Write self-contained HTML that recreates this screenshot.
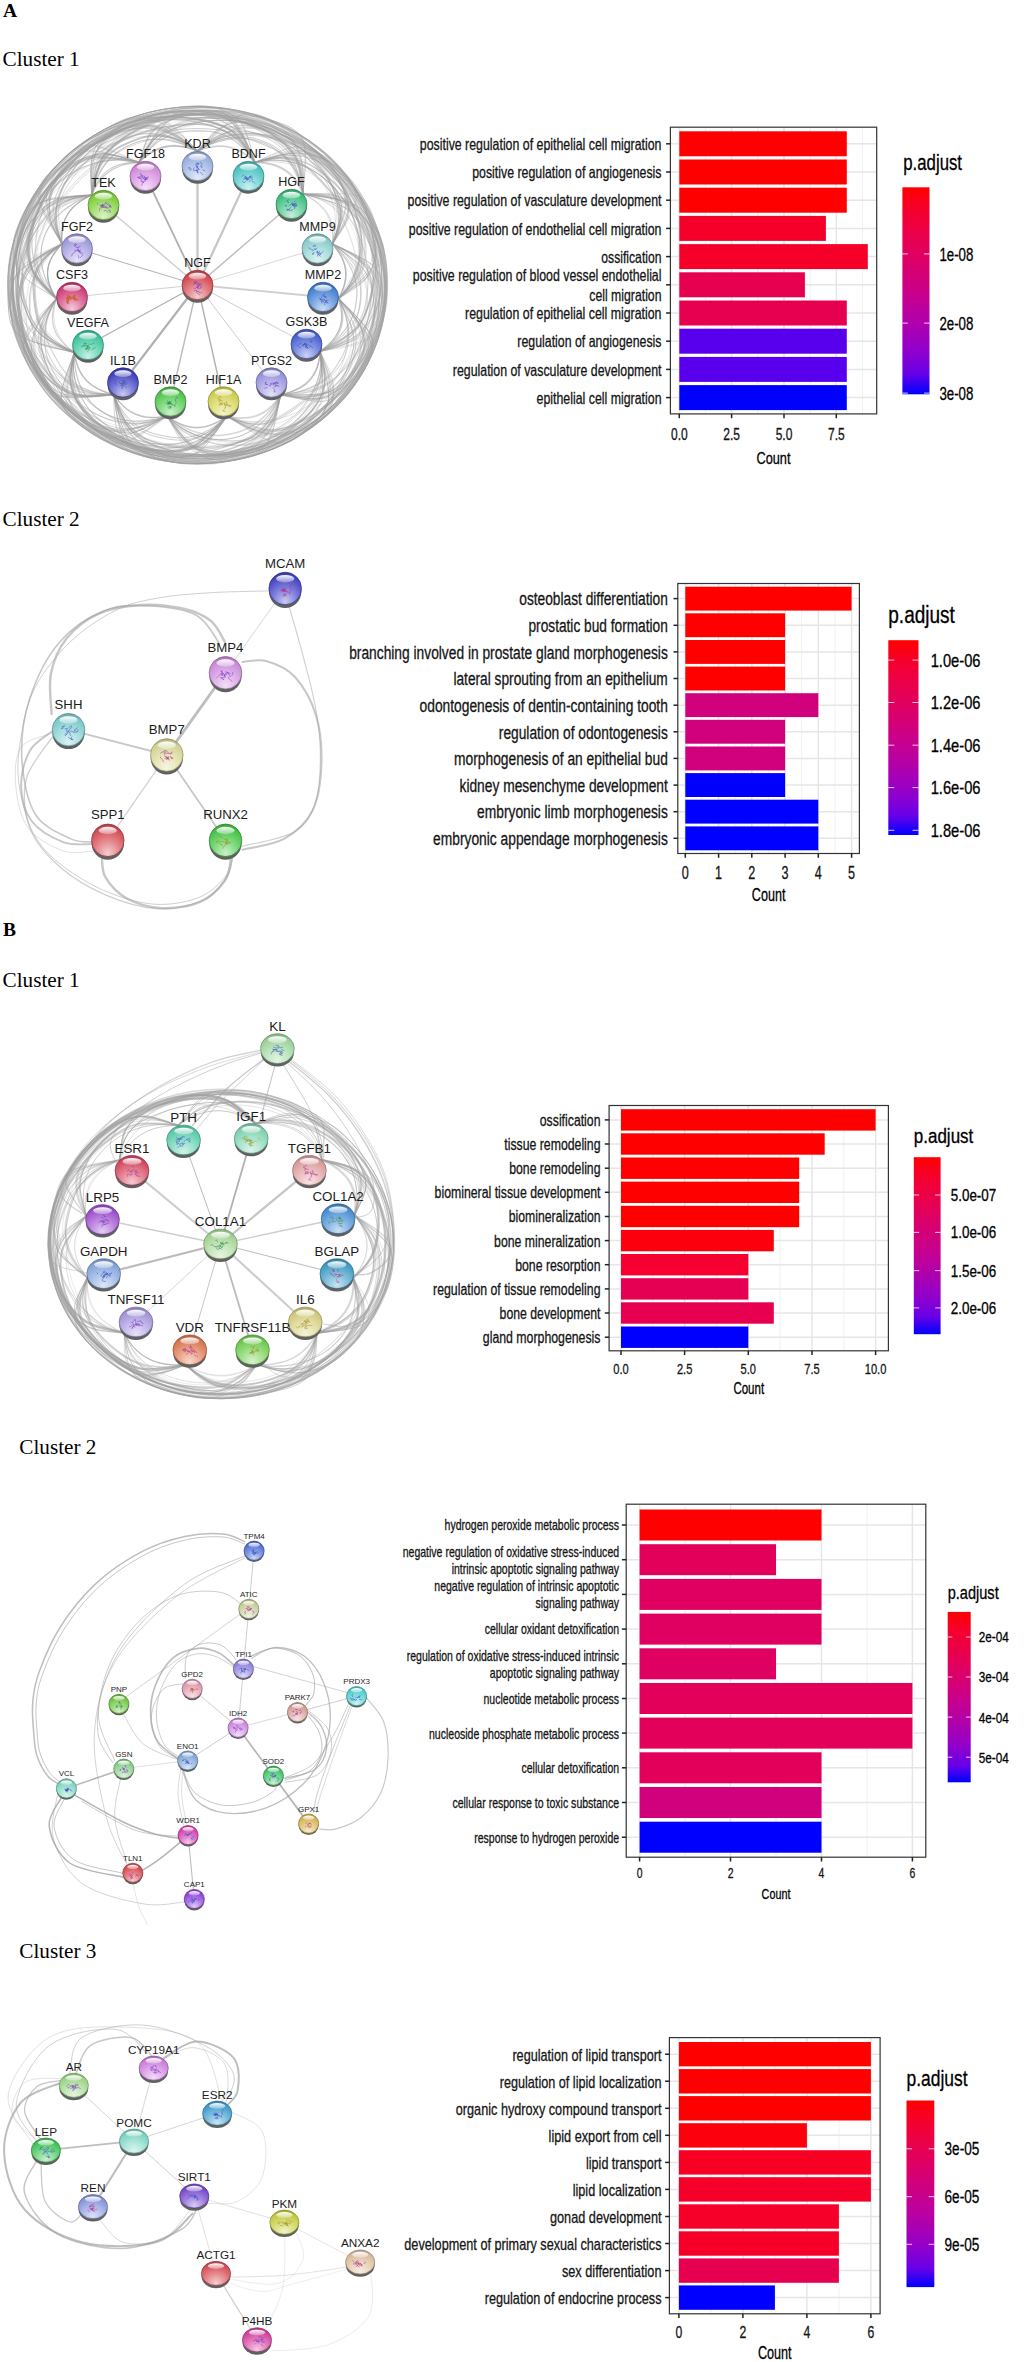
<!DOCTYPE html>
<html lang="en"><head><meta charset="utf-8"><title>Figure</title>
<style>html,body{margin:0;padding:0;background:#fff}svg{display:block}</style></head>
<body>
<svg width="1025" height="2362" viewBox="0 0 1025 2362">
<rect width="1025" height="2362" fill="#fff"/>
<defs><linearGradient id="gloss" x1="0" y1="0" x2="0" y2="1"><stop offset="0" stop-color="#fff" stop-opacity="0.97"/><stop offset="1" stop-color="#fff" stop-opacity="0.3"/></linearGradient><radialGradient id="b0" cx="0.5" cy="0.78" r="0.8" fx="0.5" fy="0.9"><stop offset="0" stop-color="#e3eaf8"/><stop offset="0.45" stop-color="#bacaed"/><stop offset="0.85" stop-color="#95abda"/><stop offset="1" stop-color="#7181a5"/></radialGradient><radialGradient id="b1" cx="0.5" cy="0.78" r="0.8" fx="0.5" fy="0.9"><stop offset="0" stop-color="#f3dff6"/><stop offset="0.45" stop-color="#e3b0e9"/><stop offset="0.85" stop-color="#cc87d4"/><stop offset="1" stop-color="#9a66a1"/></radialGradient><radialGradient id="b2" cx="0.5" cy="0.78" r="0.8" fx="0.5" fy="0.9"><stop offset="0" stop-color="#cdefef"/><stop offset="0.45" stop-color="#83d9d9"/><stop offset="0.85" stop-color="#4bbebe"/><stop offset="1" stop-color="#389090"/></radialGradient><radialGradient id="b3" cx="0.5" cy="0.78" r="0.8" fx="0.5" fy="0.9"><stop offset="0" stop-color="#dcf2c8"/><stop offset="0.45" stop-color="#a8e076"/><stop offset="0.85" stop-color="#7dc939"/><stop offset="1" stop-color="#5f982b"/></radialGradient><radialGradient id="b4" cx="0.5" cy="0.78" r="0.8" fx="0.5" fy="0.9"><stop offset="0" stop-color="#c9eedc"/><stop offset="0.45" stop-color="#78d5a7"/><stop offset="0.85" stop-color="#3bba7b"/><stop offset="1" stop-color="#2d8d5d"/></radialGradient><radialGradient id="b5" cx="0.5" cy="0.78" r="0.8" fx="0.5" fy="0.9"><stop offset="0" stop-color="#e5e4f7"/><stop offset="0.45" stop-color="#c0bbeb"/><stop offset="0.85" stop-color="#9c97d7"/><stop offset="1" stop-color="#7672a3"/></radialGradient><radialGradient id="b6" cx="0.5" cy="0.78" r="0.8" fx="0.5" fy="0.9"><stop offset="0" stop-color="#dff2f2"/><stop offset="0.45" stop-color="#b0e0e0"/><stop offset="0.85" stop-color="#87c8c8"/><stop offset="1" stop-color="#669797"/></radialGradient><radialGradient id="b7" cx="0.5" cy="0.78" r="0.8" fx="0.5" fy="0.9"><stop offset="0" stop-color="#f2c9d9"/><stop offset="0.45" stop-color="#e078a1"/><stop offset="0.85" stop-color="#c83b73"/><stop offset="1" stop-color="#972d57"/></radialGradient><radialGradient id="b8" cx="0.5" cy="0.78" r="0.8" fx="0.5" fy="0.9"><stop offset="0" stop-color="#cbdcf3"/><stop offset="0.45" stop-color="#7da8e2"/><stop offset="0.85" stop-color="#427dcb"/><stop offset="1" stop-color="#325f9a"/></radialGradient><radialGradient id="b9" cx="0.5" cy="0.78" r="0.8" fx="0.5" fy="0.9"><stop offset="0" stop-color="#c9f0e5"/><stop offset="0.45" stop-color="#78dabe"/><stop offset="0.85" stop-color="#3bc09a"/><stop offset="1" stop-color="#2d9275"/></radialGradient><radialGradient id="b10" cx="0.5" cy="0.78" r="0.8" fx="0.5" fy="0.9"><stop offset="0" stop-color="#ccd3f3"/><stop offset="0.45" stop-color="#8091e2"/><stop offset="0.85" stop-color="#465dcb"/><stop offset="1" stop-color="#35469a"/></radialGradient><radialGradient id="b11" cx="0.5" cy="0.78" r="0.8" fx="0.5" fy="0.9"><stop offset="0" stop-color="#cacaee"/><stop offset="0.45" stop-color="#7a7ad5"/><stop offset="0.85" stop-color="#3e3eba"/><stop offset="1" stop-color="#2f2f8d"/></radialGradient><radialGradient id="b12" cx="0.5" cy="0.78" r="0.8" fx="0.5" fy="0.9"><stop offset="0" stop-color="#e2e2f6"/><stop offset="0.45" stop-color="#b8b6ea"/><stop offset="0.85" stop-color="#9290d6"/><stop offset="1" stop-color="#6e6da2"/></radialGradient><radialGradient id="b13" cx="0.5" cy="0.78" r="0.8" fx="0.5" fy="0.9"><stop offset="0" stop-color="#cef0ce"/><stop offset="0.45" stop-color="#85db85"/><stop offset="0.85" stop-color="#4dc14d"/><stop offset="1" stop-color="#3b923b"/></radialGradient><radialGradient id="b14" cx="0.5" cy="0.78" r="0.8" fx="0.5" fy="0.9"><stop offset="0" stop-color="#f3f3cf"/><stop offset="0.45" stop-color="#e2e287"/><stop offset="0.85" stop-color="#cbcb4f"/><stop offset="1" stop-color="#9a9a3c"/></radialGradient><radialGradient id="b15" cx="0.5" cy="0.78" r="0.8" fx="0.5" fy="0.9"><stop offset="0" stop-color="#f4ccce"/><stop offset="0.45" stop-color="#e38085"/><stop offset="0.85" stop-color="#cd464d"/><stop offset="1" stop-color="#9b353b"/></radialGradient><radialGradient id="b16" cx="0.5" cy="0.78" r="0.8" fx="0.5" fy="0.9"><stop offset="0" stop-color="#cbcbf0"/><stop offset="0.45" stop-color="#7e7edb"/><stop offset="0.85" stop-color="#4444c1"/><stop offset="1" stop-color="#333392"/></radialGradient><radialGradient id="b17" cx="0.5" cy="0.78" r="0.8" fx="0.5" fy="0.9"><stop offset="0" stop-color="#f2e0f6"/><stop offset="0.45" stop-color="#e0b2ea"/><stop offset="0.85" stop-color="#c88ad6"/><stop offset="1" stop-color="#9769a2"/></radialGradient><radialGradient id="b18" cx="0.5" cy="0.78" r="0.8" fx="0.5" fy="0.9"><stop offset="0" stop-color="#dcf2f2"/><stop offset="0.45" stop-color="#a8dfdf"/><stop offset="0.85" stop-color="#7dc7c7"/><stop offset="1" stop-color="#5f9797"/></radialGradient><radialGradient id="b19" cx="0.5" cy="0.78" r="0.8" fx="0.5" fy="0.9"><stop offset="0" stop-color="#f5f5e2"/><stop offset="0.45" stop-color="#e6e6b8"/><stop offset="0.85" stop-color="#d1d192"/><stop offset="1" stop-color="#9e9e6e"/></radialGradient><radialGradient id="b20" cx="0.5" cy="0.78" r="0.8" fx="0.5" fy="0.9"><stop offset="0" stop-color="#f4ced0"/><stop offset="0.45" stop-color="#e5848a"/><stop offset="0.85" stop-color="#cf4c53"/><stop offset="1" stop-color="#9c393f"/></radialGradient><radialGradient id="b21" cx="0.5" cy="0.78" r="0.8" fx="0.5" fy="0.9"><stop offset="0" stop-color="#cbf0cb"/><stop offset="0.45" stop-color="#7eda7e"/><stop offset="0.85" stop-color="#44c044"/><stop offset="1" stop-color="#339233"/></radialGradient><radialGradient id="b22" cx="0.5" cy="0.78" r="0.8" fx="0.5" fy="0.9"><stop offset="0" stop-color="#d2f2e9"/><stop offset="0.45" stop-color="#8fdfc9"/><stop offset="0.85" stop-color="#5ac7a9"/><stop offset="1" stop-color="#449780"/></radialGradient><radialGradient id="b23" cx="0.5" cy="0.78" r="0.8" fx="0.5" fy="0.9"><stop offset="0" stop-color="#dcf4eb"/><stop offset="0.45" stop-color="#a8e5cd"/><stop offset="0.85" stop-color="#7dcfae"/><stop offset="1" stop-color="#5f9c84"/></radialGradient><radialGradient id="b24" cx="0.5" cy="0.78" r="0.8" fx="0.5" fy="0.9"><stop offset="0" stop-color="#f4ccd3"/><stop offset="0.45" stop-color="#e58091"/><stop offset="0.85" stop-color="#cf465d"/><stop offset="1" stop-color="#9c3546"/></radialGradient><radialGradient id="b25" cx="0.5" cy="0.78" r="0.8" fx="0.5" fy="0.9"><stop offset="0" stop-color="#f6e4e4"/><stop offset="0.45" stop-color="#eabdbd"/><stop offset="0.85" stop-color="#d69999"/><stop offset="1" stop-color="#a27474"/></radialGradient><radialGradient id="b26" cx="0.5" cy="0.78" r="0.8" fx="0.5" fy="0.9"><stop offset="0" stop-color="#e4cef2"/><stop offset="0.45" stop-color="#bd85e0"/><stop offset="0.85" stop-color="#994dc9"/><stop offset="1" stop-color="#743b98"/></radialGradient><radialGradient id="b27" cx="0.5" cy="0.78" r="0.8" fx="0.5" fy="0.9"><stop offset="0" stop-color="#cce0f4"/><stop offset="0.45" stop-color="#80b2e5"/><stop offset="0.85" stop-color="#468acf"/><stop offset="1" stop-color="#35699c"/></radialGradient><radialGradient id="b28" cx="0.5" cy="0.78" r="0.8" fx="0.5" fy="0.9"><stop offset="0" stop-color="#dde7f6"/><stop offset="0.45" stop-color="#abc3ea"/><stop offset="0.85" stop-color="#81a1d6"/><stop offset="1" stop-color="#617aa2"/></radialGradient><radialGradient id="b29" cx="0.5" cy="0.78" r="0.8" fx="0.5" fy="0.9"><stop offset="0" stop-color="#cae4f0"/><stop offset="0.45" stop-color="#7abdd9"/><stop offset="0.85" stop-color="#3e99bf"/><stop offset="1" stop-color="#2f7491"/></radialGradient><radialGradient id="b30" cx="0.5" cy="0.78" r="0.8" fx="0.5" fy="0.9"><stop offset="0" stop-color="#e7e2f6"/><stop offset="0.45" stop-color="#c3b8ea"/><stop offset="0.85" stop-color="#a192d6"/><stop offset="1" stop-color="#7a6ea2"/></radialGradient><radialGradient id="b31" cx="0.5" cy="0.78" r="0.8" fx="0.5" fy="0.9"><stop offset="0" stop-color="#f4f2dc"/><stop offset="0.45" stop-color="#e5dfa7"/><stop offset="0.85" stop-color="#cfc77b"/><stop offset="1" stop-color="#9c975d"/></radialGradient><radialGradient id="b32" cx="0.5" cy="0.78" r="0.8" fx="0.5" fy="0.9"><stop offset="0" stop-color="#f6d9ce"/><stop offset="0.45" stop-color="#eaa185"/><stop offset="0.85" stop-color="#d6734d"/><stop offset="1" stop-color="#a2573b"/></radialGradient><radialGradient id="b33" cx="0.5" cy="0.78" r="0.8" fx="0.5" fy="0.9"><stop offset="0" stop-color="#d7f2ce"/><stop offset="0.45" stop-color="#9cdf85"/><stop offset="0.85" stop-color="#6cc74d"/><stop offset="1" stop-color="#52973b"/></radialGradient><radialGradient id="b34" cx="0.5" cy="0.78" r="0.8" fx="0.5" fy="0.9"><stop offset="0" stop-color="#e7f4e2"/><stop offset="0.45" stop-color="#c3e5b8"/><stop offset="0.85" stop-color="#a1cf92"/><stop offset="1" stop-color="#7a9c6e"/></radialGradient><radialGradient id="b35" cx="0.5" cy="0.78" r="0.8" fx="0.5" fy="0.9"><stop offset="0" stop-color="#e4f4e4"/><stop offset="0.45" stop-color="#bde5bd"/><stop offset="0.85" stop-color="#99cf99"/><stop offset="1" stop-color="#749c74"/></radialGradient><radialGradient id="b36" cx="0.5" cy="0.78" r="0.8" fx="0.5" fy="0.9"><stop offset="0" stop-color="#ced7f4"/><stop offset="0.45" stop-color="#859ce5"/><stop offset="0.85" stop-color="#4d6ccf"/><stop offset="1" stop-color="#3b529c"/></radialGradient><radialGradient id="b37" cx="0.5" cy="0.78" r="0.8" fx="0.5" fy="0.9"><stop offset="0" stop-color="#f0f2e2"/><stop offset="0.45" stop-color="#d9dfb8"/><stop offset="0.85" stop-color="#bfc792"/><stop offset="1" stop-color="#91976e"/></radialGradient><radialGradient id="b38" cx="0.5" cy="0.78" r="0.8" fx="0.5" fy="0.9"><stop offset="0" stop-color="#e0dcf6"/><stop offset="0.45" stop-color="#b2a7ea"/><stop offset="0.85" stop-color="#8a7bd6"/><stop offset="1" stop-color="#695da2"/></radialGradient><radialGradient id="b39" cx="0.5" cy="0.78" r="0.8" fx="0.5" fy="0.9"><stop offset="0" stop-color="#f6e2e9"/><stop offset="0.45" stop-color="#eab8c9"/><stop offset="0.85" stop-color="#d692a9"/><stop offset="1" stop-color="#a26e80"/></radialGradient><radialGradient id="b40" cx="0.5" cy="0.78" r="0.8" fx="0.5" fy="0.9"><stop offset="0" stop-color="#d7f0ca"/><stop offset="0.45" stop-color="#9cd97a"/><stop offset="0.85" stop-color="#6cbf3e"/><stop offset="1" stop-color="#52912f"/></radialGradient><radialGradient id="b41" cx="0.5" cy="0.78" r="0.8" fx="0.5" fy="0.9"><stop offset="0" stop-color="#cef2f2"/><stop offset="0.45" stop-color="#85dfdf"/><stop offset="0.85" stop-color="#4dc7c7"/><stop offset="1" stop-color="#3b9797"/></radialGradient><radialGradient id="b42" cx="0.5" cy="0.78" r="0.8" fx="0.5" fy="0.9"><stop offset="0" stop-color="#f4e4e2"/><stop offset="0.45" stop-color="#e5bdb8"/><stop offset="0.85" stop-color="#cf9992"/><stop offset="1" stop-color="#9c746e"/></radialGradient><radialGradient id="b43" cx="0.5" cy="0.78" r="0.8" fx="0.5" fy="0.9"><stop offset="0" stop-color="#f2def6"/><stop offset="0.45" stop-color="#dfadea"/><stop offset="0.85" stop-color="#c783d6"/><stop offset="1" stop-color="#9763a2"/></radialGradient><radialGradient id="b44" cx="0.5" cy="0.78" r="0.8" fx="0.5" fy="0.9"><stop offset="0" stop-color="#dce7f4"/><stop offset="0.45" stop-color="#a7c3e5"/><stop offset="0.85" stop-color="#7ba1cf"/><stop offset="1" stop-color="#5d7a9c"/></radialGradient><radialGradient id="b45" cx="0.5" cy="0.78" r="0.8" fx="0.5" fy="0.9"><stop offset="0" stop-color="#def2de"/><stop offset="0.45" stop-color="#addfad"/><stop offset="0.85" stop-color="#83c783"/><stop offset="1" stop-color="#639763"/></radialGradient><radialGradient id="b46" cx="0.5" cy="0.78" r="0.8" fx="0.5" fy="0.9"><stop offset="0" stop-color="#caf0d5"/><stop offset="0.45" stop-color="#7ad996"/><stop offset="0.85" stop-color="#3ebf64"/><stop offset="1" stop-color="#2f914c"/></radialGradient><radialGradient id="b47" cx="0.5" cy="0.78" r="0.8" fx="0.5" fy="0.9"><stop offset="0" stop-color="#dcf4ed"/><stop offset="0.45" stop-color="#a7e5d4"/><stop offset="0.85" stop-color="#7bcfb8"/><stop offset="1" stop-color="#5d9c8b"/></radialGradient><radialGradient id="b48" cx="0.5" cy="0.78" r="0.8" fx="0.5" fy="0.9"><stop offset="0" stop-color="#f4ebce"/><stop offset="0.45" stop-color="#e5ce85"/><stop offset="0.85" stop-color="#cfb04d"/><stop offset="1" stop-color="#9c853b"/></radialGradient><radialGradient id="b49" cx="0.5" cy="0.78" r="0.8" fx="0.5" fy="0.9"><stop offset="0" stop-color="#f4cae9"/><stop offset="0.45" stop-color="#e57ac9"/><stop offset="0.85" stop-color="#cf3ea9"/><stop offset="1" stop-color="#9c2f80"/></radialGradient><radialGradient id="b50" cx="0.5" cy="0.78" r="0.8" fx="0.5" fy="0.9"><stop offset="0" stop-color="#f4ccce"/><stop offset="0.45" stop-color="#e58085"/><stop offset="0.85" stop-color="#cf464d"/><stop offset="1" stop-color="#9c353b"/></radialGradient><radialGradient id="b51" cx="0.5" cy="0.78" r="0.8" fx="0.5" fy="0.9"><stop offset="0" stop-color="#e0caf6"/><stop offset="0.45" stop-color="#b27aea"/><stop offset="0.85" stop-color="#8a3ed6"/><stop offset="1" stop-color="#692fa2"/></radialGradient><radialGradient id="b52" cx="0.5" cy="0.78" r="0.8" fx="0.5" fy="0.9"><stop offset="0" stop-color="#f2dcf6"/><stop offset="0.45" stop-color="#dfa7ea"/><stop offset="0.85" stop-color="#c77bd6"/><stop offset="1" stop-color="#975da2"/></radialGradient><radialGradient id="b53" cx="0.5" cy="0.78" r="0.8" fx="0.5" fy="0.9"><stop offset="0" stop-color="#e4f4de"/><stop offset="0.45" stop-color="#bde5ad"/><stop offset="0.85" stop-color="#99cf83"/><stop offset="1" stop-color="#749c63"/></radialGradient><radialGradient id="b54" cx="0.5" cy="0.78" r="0.8" fx="0.5" fy="0.9"><stop offset="0" stop-color="#cae4f2"/><stop offset="0.45" stop-color="#7abddf"/><stop offset="0.85" stop-color="#3e99c7"/><stop offset="1" stop-color="#2f7497"/></radialGradient><radialGradient id="b55" cx="0.5" cy="0.78" r="0.8" fx="0.5" fy="0.9"><stop offset="0" stop-color="#dcf4ef"/><stop offset="0.45" stop-color="#a7e5d8"/><stop offset="0.85" stop-color="#7bcfbe"/><stop offset="1" stop-color="#5d9c90"/></radialGradient><radialGradient id="b56" cx="0.5" cy="0.78" r="0.8" fx="0.5" fy="0.9"><stop offset="0" stop-color="#caf0d0"/><stop offset="0.45" stop-color="#7ad98b"/><stop offset="0.85" stop-color="#3ebf55"/><stop offset="1" stop-color="#2f9140"/></radialGradient><radialGradient id="b57" cx="0.5" cy="0.78" r="0.8" fx="0.5" fy="0.9"><stop offset="0" stop-color="#d9ccf2"/><stop offset="0.45" stop-color="#a180df"/><stop offset="0.85" stop-color="#7346c7"/><stop offset="1" stop-color="#573597"/></radialGradient><radialGradient id="b58" cx="0.5" cy="0.78" r="0.8" fx="0.5" fy="0.9"><stop offset="0" stop-color="#dee2f6"/><stop offset="0.45" stop-color="#adb8ea"/><stop offset="0.85" stop-color="#8392d6"/><stop offset="1" stop-color="#636ea2"/></radialGradient><radialGradient id="b59" cx="0.5" cy="0.78" r="0.8" fx="0.5" fy="0.9"><stop offset="0" stop-color="#f0f2ca"/><stop offset="0.45" stop-color="#d9df7a"/><stop offset="0.85" stop-color="#bfc73e"/><stop offset="1" stop-color="#91972f"/></radialGradient><radialGradient id="b60" cx="0.5" cy="0.78" r="0.8" fx="0.5" fy="0.9"><stop offset="0" stop-color="#f6ede4"/><stop offset="0.45" stop-color="#ead4bd"/><stop offset="0.85" stop-color="#d6b899"/><stop offset="1" stop-color="#a28b74"/></radialGradient><radialGradient id="b61" cx="0.5" cy="0.78" r="0.8" fx="0.5" fy="0.9"><stop offset="0" stop-color="#f4ced0"/><stop offset="0.45" stop-color="#e5858b"/><stop offset="0.85" stop-color="#cf4d55"/><stop offset="1" stop-color="#9c3b40"/></radialGradient><radialGradient id="b62" cx="0.5" cy="0.78" r="0.8" fx="0.5" fy="0.9"><stop offset="0" stop-color="#f4cae4"/><stop offset="0.45" stop-color="#e57abd"/><stop offset="0.85" stop-color="#cf3e99"/><stop offset="1" stop-color="#9c2f74"/></radialGradient></defs>
<g fill="none" stroke="#9e9e9e" stroke-linecap="round"><path d="M197.5 151C196.7 150.7 194.1 149.6 192.4 149C190.7 148.4 189 147.8 187.2 147.4C185.4 146.9 183.7 146.5 181.9 146.2C180.1 145.9 178.3 145.6 176.5 145.5C174.7 145.4 172.9 145.4 171.1 145.5C169.4 145.6 167.6 145.8 165.9 146.2C164.1 146.5 162.4 147 160.8 147.5C159.1 148.1 157.4 148.8 155.9 149.6C154.3 150.3 152.7 151.2 151.2 152.1C149.7 153.1 148.3 154.1 146.9 155.2C145.5 156.3 144.1 157.5 142.8 158.7C141.5 159.8 139.6 161.7 139 162.3" stroke-width="1.2" stroke-opacity="0.5"/><path d="M197.5 151C196.7 150.7 194.1 149.8 192.4 149.3C190.7 148.8 189 148.3 187.2 147.9C185.5 147.5 183.7 147.1 182 146.9C180.2 146.6 178.4 146.5 176.6 146.4C174.9 146.3 173.1 146.4 171.3 146.5C169.6 146.6 167.8 146.9 166.1 147.2C164.4 147.5 162.7 148 161 148.5C159.4 149 157.7 149.7 156.1 150.4C154.5 151.1 153 152 151.5 152.8C150 153.7 148.5 154.7 147.1 155.7C145.6 156.7 144.3 157.8 142.9 158.9C141.6 160 139.6 161.8 139 162.3" stroke-width="0.9" stroke-opacity="0.5"/><path d="M197.5 151C196.7 150.7 194.1 149.7 192.4 149.2C190.7 148.7 189 148.2 187.2 147.7C185.5 147.3 183.7 147 181.9 146.7C180.2 146.4 178.4 146.3 176.6 146.2C174.8 146.1 173 146.1 171.3 146.2C169.5 146.4 167.8 146.6 166 146.9C164.3 147.3 162.6 147.7 161 148.3C159.3 148.8 157.7 149.5 156.1 150.2C154.5 150.9 152.9 151.8 151.4 152.7C149.9 153.6 148.4 154.5 147 155.6C145.6 156.6 144.2 157.7 142.9 158.8C141.5 160 139.6 161.7 139 162.3" stroke-width="1.1" stroke-opacity="0.4"/><path d="M197.5 151C198.3 150.7 200.8 149.8 202.5 149.3C204.2 148.7 205.9 148.3 207.6 147.8C209.3 147.4 211 147.1 212.8 146.8C214.5 146.6 216.3 146.4 218 146.3C219.8 146.3 221.5 146.3 223.2 146.4C225 146.5 226.7 146.8 228.4 147.1C230.1 147.4 231.7 147.9 233.4 148.4C235 148.9 236.6 149.6 238.2 150.3C239.7 151 241.2 151.9 242.7 152.7C244.2 153.6 245.6 154.6 247 155.6C248.4 156.6 249.8 157.7 251.1 158.8C252.4 159.9 254.3 161.7 254.9 162.3" stroke-width="1.2" stroke-opacity="0.5"/><path d="M197.5 151C198.3 150.7 200.8 149.6 202.5 149C204.2 148.4 205.9 147.9 207.6 147.4C209.4 146.9 211.1 146.5 212.9 146.2C214.6 145.9 216.4 145.6 218.1 145.5C219.9 145.4 221.7 145.4 223.4 145.5C225.1 145.6 226.9 145.8 228.6 146.2C230.3 146.5 232 147 233.6 147.5C235.2 148.1 236.8 148.8 238.4 149.5C240 150.3 241.5 151.2 242.9 152.1C244.4 153.1 245.8 154.1 247.2 155.2C248.6 156.3 249.9 157.4 251.2 158.6C252.5 159.8 254.3 161.7 254.9 162.3" stroke-width="0.5" stroke-opacity="0.4"/><path d="M197.5 151C195.8 149.9 190.7 146.4 187.1 144.5C183.5 142.5 179.7 140.7 175.8 139.4C172 138 168 136.9 164 136.3C160 135.7 156 135.5 152.1 135.8C148.2 136.1 144.4 137 140.7 138.1C137 139.1 133.5 140.7 130 142.1C126.4 143.6 122.9 145.1 119.6 146.9C116.3 148.8 113 150.9 110.2 153.4C107.4 155.9 104.8 158.9 102.7 162C100.5 165.2 98.7 168.7 97.2 172.2C95.6 175.8 94.5 179.7 93.6 183.5C92.7 187.2 92 193.1 91.7 195" stroke-width="1.9" stroke-opacity="0.6"/><path d="M197.5 151C195.8 150.1 190.8 147.4 187.2 146C183.7 144.5 180 143.1 176.2 142.1C172.5 141 168.6 140.2 164.8 139.7C161 139.3 157 139.1 153.2 139.3C149.4 139.4 145.5 140 141.8 140.8C138.2 141.7 134.6 143 131.1 144.4C127.6 145.9 124.2 147.5 121.1 149.5C117.9 151.5 114.9 153.9 112.2 156.4C109.5 158.9 107.1 161.8 104.9 164.8C102.7 167.8 100.7 171 99.1 174.3C97.4 177.6 96 181.1 94.7 184.5C93.5 188 92.2 193.2 91.7 195" stroke-width="1.1" stroke-opacity="0.6"/><path d="M197.5 151C195.8 150 190.7 147 187.2 145.4C183.6 143.8 179.9 142.3 176.1 141.2C172.4 140.1 168.4 139.3 164.6 139C160.8 138.7 156.9 138.7 153.2 139.2C149.5 139.7 145.9 140.9 142.3 142C138.7 143.1 135.3 144.5 131.8 145.9C128.4 147.4 125 148.9 121.7 150.6C118.4 152.3 115.1 154.1 112.2 156.4C109.3 158.6 106.7 161.3 104.4 164.2C102.1 167.1 100.1 170.3 98.4 173.6C96.8 177 95.4 180.6 94.3 184.1C93.2 187.7 92.2 193.2 91.7 195" stroke-width="0.7" stroke-opacity="0.5"/><path d="M197.5 151C199.2 150.1 204.2 147.3 207.7 145.8C211.2 144.2 214.9 142.8 218.7 141.7C222.4 140.6 226.3 139.6 230.1 139.1C234 138.5 237.9 138.3 241.7 138.4C245.6 138.4 249.5 138.9 253.2 139.6C256.9 140.4 260.6 141.5 264.1 143C267.5 144.4 270.9 146.2 274 148.2C277.1 150.3 280.1 152.6 282.8 155.2C285.4 157.8 287.9 160.7 290.1 163.7C292.2 166.7 294.2 170 295.8 173.3C297.5 176.5 298.9 180 300.2 183.5C301.4 186.9 302.7 192.2 303.2 193.9" stroke-width="1.2" stroke-opacity="0.5"/><path d="M197.5 151C199.2 150 204.2 146.7 207.8 144.9C211.3 143.2 215.1 141.5 218.9 140.3C222.6 139.1 226.6 138.2 230.4 137.8C234.2 137.4 238.2 137.4 241.9 137.8C245.6 138.3 249.3 139.4 252.8 140.5C256.4 141.6 259.9 143 263.4 144.4C266.8 145.8 270.3 147.3 273.6 149C276.8 150.8 280.2 152.5 283.1 154.8C286 157.1 288.6 159.8 290.9 162.7C293.2 165.6 295.1 168.9 296.8 172.2C298.4 175.6 299.7 179.3 300.8 182.9C301.8 186.5 302.8 192.1 303.2 193.9" stroke-width="1.1" stroke-opacity="0.5"/><path d="M197.5 151C199.2 150 204.2 146.9 207.8 145.1C211.3 143.4 215 141.8 218.8 140.5C222.6 139.3 226.5 138.2 230.4 137.6C234.4 137 238.4 136.7 242.2 136.7C246.1 136.8 250 137.3 253.8 138.1C257.5 139 261.1 140.3 264.6 141.8C268.1 143.2 271.6 144.8 274.8 146.8C278 148.8 281 151.2 283.7 153.8C286.4 156.4 288.9 159.4 291 162.5C293.2 165.6 295 169 296.6 172.4C298.2 175.8 299.5 179.4 300.6 183C301.7 186.6 302.8 192.1 303.2 193.9" stroke-width="0.9" stroke-opacity="0.6"/><path d="M197.5 151C194.8 149.4 187.2 144 181.5 141.4C175.9 138.7 169.7 136.4 163.7 135.1C157.6 133.8 151.2 133.1 145.2 133.5C139.2 133.9 133.2 135.4 127.6 137.3C121.9 139.2 116.7 142.2 111.5 145C106.3 147.8 101.2 150.9 96.4 154.3C91.5 157.6 86.8 161.2 82.4 165C77.9 168.8 73.3 172.6 69.7 177.1C66 181.5 62.7 186.4 60.5 191.7C58.2 197 57 202.9 56.4 208.8C55.9 214.6 56.4 220.8 57.3 226.6C58.2 232.5 61.2 241.1 62 243.9" stroke-width="1.5" stroke-opacity="0.5"/><path d="M197.5 151C194.7 148.3 186.8 139.1 180.8 134.9C174.8 130.6 167.8 127 161.5 125.6C155.1 124.3 148.7 125.4 142.7 126.6C136.7 127.9 131.1 130.5 125.4 132.9C119.8 135.3 114.2 138 108.9 140.9C103.5 143.8 98.3 147 93.3 150.4C88.3 153.9 83.5 157.6 78.9 161.5C74.3 165.4 69.9 169.6 65.8 173.9C61.7 178.3 57.2 182.6 54.2 187.6C51.1 192.6 48 198 47.4 204.1C46.9 210.2 48.5 217.4 50.9 224.1C53.3 230.7 60.1 240.6 62 243.9" stroke-width="0.9" stroke-opacity="0.4"/><path d="M197.5 151C200.2 149.3 207.9 143.5 213.5 140.9C219.1 138.3 225.2 136.6 231.2 135.4C237.2 134.2 243.6 133.6 249.7 133.5C255.9 133.5 262.3 134.1 268.3 135.3C274.4 136.5 280.5 138.3 286.1 140.7C291.8 143 297.3 146 302.3 149.5C307.3 152.9 312 156.9 316.1 161.3C320.2 165.7 323.9 170.5 326.9 175.6C330 180.7 332.5 186.2 334.3 191.7C336.2 197.3 337.4 203.1 338 208.9C338.6 214.7 338.8 220.6 337.9 226.4C336.9 232.2 333.4 241 332.5 243.9" stroke-width="1" stroke-opacity="0.6"/><path d="M197.5 151C200.2 148.9 208.1 141.5 213.8 138.3C219.6 135 226.1 132.5 232.1 131.5C238.2 130.4 244.4 131.2 250.3 132C256.2 132.9 262 134.7 267.7 136.6C273.4 138.5 279 140.8 284.4 143.5C289.7 146.1 294.9 149.2 299.8 152.6C304.7 155.9 309.4 159.7 313.8 163.7C318.1 167.7 322.1 172 325.8 176.5C329.5 181 333 185.7 335.7 190.8C338.4 195.8 341 201.1 341.8 206.9C342.6 212.7 342 219.2 340.4 225.4C338.9 231.5 333.8 240.8 332.5 243.9" stroke-width="1.1" stroke-opacity="0.6"/><path d="M197.5 151C200.3 147.9 208.4 137 214.5 132.3C220.6 127.6 227.8 123.9 234.2 122.7C240.5 121.6 246.7 123.9 252.7 125.4C258.7 126.9 264.4 129.3 270.1 131.7C275.8 134.1 281.4 136.8 286.8 139.7C292.1 142.7 297.4 145.9 302.4 149.3C307.5 152.8 312.3 156.5 316.9 160.5C321.6 164.4 326 168.6 330.1 173C334.3 177.4 338.5 181.8 341.9 186.7C345.2 191.7 349.4 196.5 350.2 202.5C350.9 208.6 349.3 216.1 346.4 223C343.4 229.9 334.8 240.4 332.5 243.9" stroke-width="0.5" stroke-opacity="0.4"/><path d="M197.5 151C193.8 148.4 183.3 139.1 175.4 135.4C167.5 131.6 158.6 129.4 150.2 128.6C141.8 127.8 133 128.7 124.9 130.7C116.9 132.6 109.3 136.4 101.9 140.1C94.5 143.9 87.4 148.4 80.8 153.3C74.2 158.2 67.9 163.7 62.3 169.6C56.6 175.5 51.4 181.9 46.9 188.6C42.4 195.3 38.4 202.4 35.1 209.7C31.9 217 28.7 224.5 27.5 232.2C26.3 240 26.1 248.3 27.8 256.1C29.5 263.9 32.8 272 37.6 279.1C42.3 286.1 53.2 295.3 56.3 298.5" stroke-width="1.5" stroke-opacity="0.4"/><path d="M197.5 151C193.9 149 183.4 141.4 175.9 138.9C168.4 136.5 160.4 136.2 152.6 136.2C144.7 136.2 136.6 137.1 128.9 138.8C121.1 140.4 113.3 142.9 105.9 146.1C98.6 149.2 91.4 153.2 84.9 157.7C78.3 162.3 72.1 167.5 66.7 173.2C61.2 178.9 56.3 185.3 52.1 191.9C48 198.4 44.5 205.6 41.9 212.7C39.3 219.9 37.5 227.5 36.6 235C35.6 242.4 35.4 250.1 36.3 257.5C37.1 264.8 38.1 272.4 41.4 279.2C44.8 286 53.8 295.3 56.3 298.5" stroke-width="0.5" stroke-opacity="0.6"/><path d="M197.5 151C201.1 148.8 211.7 140.5 219.3 137.8C226.8 135.1 235 134.7 242.9 134.6C250.9 134.4 259.2 135.2 267.1 136.8C275 138.3 283 140.8 290.5 144C298 147.1 305.3 151.1 312 155.7C318.6 160.3 325 165.6 330.5 171.4C336.1 177.2 341.1 183.7 345.2 190.4C349.4 197.1 352.9 204.3 355.5 211.7C358 219 359.8 226.7 360.7 234.3C361.5 241.9 361.6 249.7 360.6 257.2C359.6 264.7 358.4 272.3 354.8 279.2C351.1 286 341.4 295.3 338.7 298.5" stroke-width="2.3" stroke-opacity="0.4"/><path d="M197.5 151C201.4 147.1 212.6 132.6 220.8 127.7C229 122.8 238.7 121.3 247 121.6C255.3 122 262.9 126.5 270.6 129.6C278.2 132.8 285.6 136.5 292.7 140.7C299.8 144.9 306.6 149.5 313 154.6C319.4 159.6 325.5 165.1 331.1 170.9C336.7 176.8 341.9 183 346.6 189.5C351.3 196 355.5 202.9 359.2 210C362.9 217 366.1 224.4 368.7 231.9C371.3 239.4 375.3 247 374.8 254.8C374.3 262.6 371.7 271.5 365.7 278.8C359.6 286 343.2 295.2 338.7 298.5" stroke-width="1.1" stroke-opacity="0.5"/><path d="M197.5 151C192.5 146.6 178.3 130.2 167.7 124.9C157 119.5 144.1 117.7 133.4 118.8C122.7 120 113 126.5 103.6 131.6C94.1 136.6 85.1 142.7 76.8 149.2C68.4 155.8 60.6 163.2 53.6 171.1C46.6 178.9 40.2 187.4 34.8 196.3C29.3 205.2 24.7 214.7 20.9 224.3C17.2 233.9 14.3 244 12.4 254.1C10.5 264.2 9.5 274.6 9.5 284.8C9.6 295.1 8.4 306.2 12.7 315.5C17 324.8 25.2 334.4 35.4 340.5C45.7 346.7 67.8 350.5 74.3 352.5" stroke-width="0.6" stroke-opacity="0.5"/><path d="M197.5 151C192.5 146.3 178 128.4 167.3 122.8C156.5 117.2 143.5 116 132.8 117.2C122 118.5 112.3 125.2 102.8 130.3C93.3 135.5 84.2 141.5 75.8 148.2C67.4 154.8 59.5 162.2 52.4 170.1C45.4 178 38.9 186.7 33.5 195.6C28 204.6 23.2 214.1 19.5 223.8C15.7 233.5 12.8 243.7 10.9 253.8C9 264 8 274.5 8 284.8C8 295.1 6.7 306.4 10.9 315.8C15.1 325.2 22.7 335.1 33.3 341.2C43.9 347.4 67.5 350.6 74.3 352.5" stroke-width="0.7" stroke-opacity="0.6"/><path d="M197.5 151C202.4 147.2 216.5 132.1 226.6 128.1C236.8 124.2 248.1 125.5 258.2 127C268.3 128.6 278.1 133.2 287.4 137.6C296.7 141.9 305.7 147.3 314 153.4C322.3 159.5 330.1 166.4 337.1 173.9C344 181.4 350.3 189.6 355.6 198.2C360.9 206.8 365.4 216.1 368.9 225.4C372.3 234.8 374.9 244.7 376.4 254.5C377.8 264.3 378.3 274.4 377.8 284.2C377.2 294 376.6 304.2 373 313.3C369.4 322.4 365 332.3 356.2 338.6C347.4 345 326.2 349.3 320.2 351.4" stroke-width="0.6" stroke-opacity="0.6"/><path d="M197.5 151C202.6 145.8 217.4 125.8 228.2 120.1C239 114.5 251.5 115.5 262.1 117.1C272.7 118.8 282.5 125.1 292 130.2C301.5 135.3 310.6 141.3 319 148C327.4 154.6 335.3 162 342.3 169.8C349.4 177.7 355.8 186.3 361.3 195.2C366.8 204.1 371.5 213.6 375.3 223.3C379.1 232.9 382 243.1 384 253.2C385.9 263.4 386.9 273.8 387 284.1C387.1 294.4 388 305.5 384.3 315C380.6 324.6 375.2 335.3 364.5 341.3C353.8 347.4 327.6 349.7 320.2 351.4" stroke-width="0.7" stroke-opacity="0.3"/><path d="M197.5 151C191.6 147 174.4 131.1 162.1 127.4C149.8 123.7 135.9 125.8 123.8 128.7C111.7 131.6 100.2 138.2 89.5 144.8C78.9 151.3 68.7 159.3 59.8 168C50.9 176.7 42.8 186.7 36.2 197.1C29.5 207.6 24 219 20 230.6C16 242.2 13.3 254.5 12.2 266.6C11 278.7 11.4 291.2 13.1 303.2C14.8 315.2 18.1 327.3 22.7 338.5C27.2 349.7 32.4 361.4 40.3 370.5C48.3 379.6 58.1 389.1 70.4 393.1C82.6 397.1 106.5 394.4 113.7 394.6" stroke-width="1.5" stroke-opacity="0.5"/><path d="M197.5 151C191.8 147.8 175 134.6 163.1 131.7C151.2 128.8 138.3 131.3 126.2 133.7C114.1 136.1 101.8 140.6 90.7 146.2C79.5 151.8 68.6 159.2 59.2 167.5C49.8 175.8 41.1 185.7 34.1 196.1C27.1 206.4 21.3 218.1 17.3 229.8C13.2 241.5 10.7 254.1 9.9 266.4C9 278.6 9.9 291.3 12.3 303.3C14.7 315.2 18.9 327.2 24.4 338C29.9 348.7 37.1 359.2 45.4 367.9C53.6 376.6 62.5 385.8 73.9 390.3C85.2 394.7 107.1 393.9 113.7 394.6" stroke-width="0.5" stroke-opacity="0.6"/><path d="M197.5 151C203.4 147 220.8 130.5 233.1 126.8C245.4 123.1 259.2 125.8 271.3 128.9C283.3 131.9 294.8 138.4 305.5 145C316.2 151.5 326.4 159.5 335.3 168.2C344.2 177 352.2 187 358.8 197.4C365.5 207.8 371 219.3 375 230.9C378.9 242.5 381.6 254.8 382.7 266.9C383.8 279 383.5 291.6 381.7 303.6C380 315.6 376.6 327.6 372.1 338.9C367.5 350.1 362.2 361.7 354.3 370.9C346.4 380 336.9 389.8 324.7 393.8C312.4 397.7 288.1 394.5 280.7 394.7" stroke-width="0.8" stroke-opacity="0.4"/><path d="M197.5 151C203.7 146 221.9 125.4 234.4 121.2C246.9 117.1 260.7 122.2 272.7 126C284.6 129.8 295.7 137.1 306.1 144.2C316.5 151.3 326.2 159.6 334.8 168.6C343.4 177.6 351.1 187.6 357.5 198.1C363.9 208.6 369.2 219.9 373.2 231.4C377.1 242.9 379.8 255 381.2 267.1C382.5 279.1 382.5 291.5 381.1 303.5C379.8 315.5 377 327.7 373 339.1C369 350.6 364.5 362.7 357.2 372.4C349.9 382.1 342 393.8 329.2 397.5C316.5 401.2 288.8 395.1 280.7 394.7" stroke-width="0.9" stroke-opacity="0.4"/><path d="M197.5 151C203.2 148.1 219.8 136 231.5 133.5C243.2 131.1 255.9 133.6 267.7 136.2C279.5 138.7 291.5 143.2 302.5 148.8C313.4 154.4 324 161.8 333.1 170C342.3 178.2 350.8 187.9 357.6 198.1C364.4 208.3 370 219.7 374 231.2C377.9 242.7 380.4 255 381.2 267.1C382.1 279.1 381.3 291.6 378.9 303.3C376.6 315 372.5 326.8 367.2 337.4C361.9 348 354.9 358.3 346.9 366.9C338.9 375.6 330.3 384.6 319.2 389.3C308.2 393.9 287.2 393.8 280.7 394.7" stroke-width="0.7" stroke-opacity="0.4"/><path d="M197.5 151C190.6 147 170 129.9 156 127.2C142 124.6 127 130.5 113.4 135.3C99.9 140 86.4 147.3 74.6 155.8C62.8 164.2 51.7 174.7 42.6 186C33.6 197.3 25.8 210.3 20.2 223.6C14.6 236.8 10.8 251.4 9.1 265.6C7.5 279.9 7.9 294.9 10.3 309C12.7 323.1 17.4 337.4 23.6 350.2C29.9 363.1 38.3 375.6 47.9 386.2C57.5 396.9 69 406.7 81.2 414.1C93.4 421.5 106.7 430.3 121 430.7C135.3 431 159.4 418.6 167.1 416.2" stroke-width="1.9" stroke-opacity="0.5"/><path d="M197.5 151C190.3 145.9 168.6 123.9 154.2 120.7C139.9 117.5 125 126.3 111.4 131.8C97.9 137.4 84.6 145.2 73 154.2C61.4 163.1 50.6 173.9 41.8 185.5C32.9 197 25.4 210.1 20 223.5C14.5 236.9 10.8 251.4 9.1 265.6C7.5 279.9 7.8 294.9 10.1 309C12.3 323.2 16.7 337.5 22.7 350.6C28.7 363.7 36.8 376.4 46.1 387.5C55.3 398.6 66.5 408.9 78.4 417.1C90.4 425.3 103 436.8 117.7 436.6C132.5 436.5 158.9 419.6 167.1 416.2" stroke-width="0.9" stroke-opacity="0.5"/><path d="M197.5 151C190.8 147.8 171 134.1 157.3 132.1C143.6 130 128.7 134.2 115.4 138.7C102.1 143.1 89.2 150.6 77.7 158.9C66.3 167.3 55.6 177.5 46.8 188.6C38 199.6 30.5 212.3 25.1 225.2C19.7 238.1 16 252.3 14.4 266.2C12.7 280 13.1 294.6 15.5 308.3C17.8 322.1 22.2 336 28.3 348.6C34.3 361.1 42.5 373.3 51.7 383.8C61 394.2 72 404.1 83.9 411.2C95.8 418.3 109.5 425.4 123.4 426.2C137.3 427.1 159.8 417.8 167.1 416.2" stroke-width="0.5" stroke-opacity="0.4"/><path d="M197.5 151C204.4 147.2 224.9 130.6 238.9 128C252.9 125.4 268.2 130.7 281.8 135.4C295.4 140.1 308.9 147.5 320.7 156C332.5 164.5 343.6 175 352.6 186.4C361.7 197.7 369.5 210.8 375 224.1C380.6 237.4 384.4 252.1 386 266.3C387.6 280.6 387.1 295.7 384.6 309.8C382.1 323.9 377.4 338.2 371 351.1C364.6 364 356.1 376.4 346.4 387.1C336.7 397.7 325.2 407.6 312.9 414.8C300.6 422 286.9 430.2 272.5 430.4C258.2 430.7 234.4 418.6 226.8 416.2" stroke-width="2.3" stroke-opacity="0.4"/><path d="M197.5 151C205 144.9 227.9 118.2 242.6 114.4C257.3 110.7 272.4 121.8 285.9 128.3C299.4 134.7 312.2 143.5 323.5 153.1C334.8 162.7 345.2 173.9 353.6 185.7C362.1 197.6 369.3 210.8 374.5 224.3C379.7 237.7 383.2 252.2 384.8 266.5C386.4 280.7 386.1 295.5 384 309.7C381.9 323.9 377.8 338.2 372.1 351.5C366.4 364.8 358.8 377.8 349.9 389.4C340.9 400.9 330.3 412.1 318.6 421C306.8 429.9 294.5 443.8 279.2 443C263.9 442.2 235.5 420.7 226.8 416.2" stroke-width="0.7" stroke-opacity="0.6"/><path d="M139 162.3C140 160.4 142.7 154.4 145 150.8C147.3 147.2 149.9 143.7 152.9 140.8C155.8 137.9 159.1 135.4 162.6 133.6C166.1 131.9 169.9 131 173.7 130.2C177.5 129.4 181.4 129.3 185.3 129C189.1 128.8 193 128.6 196.9 128.6C200.8 128.6 204.7 128.7 208.5 129C212.4 129.2 216.3 129.4 220.1 130.1C223.9 130.9 227.7 131.7 231.2 133.5C234.7 135.2 238 137.8 241 140.7C243.9 143.5 246.6 147.1 248.9 150.7C251.2 154.3 253.9 160.3 254.9 162.3" stroke-width="1" stroke-opacity="0.5"/><path d="M139 162.3C140.1 160.8 143.4 156.1 146 153.3C148.5 150.4 151.3 147.6 154.2 145.1C157.2 142.6 160.4 140.3 163.7 138.4C167.1 136.5 170.6 134.9 174.3 133.7C177.9 132.5 181.7 131.8 185.5 131.4C189.2 130.9 193.1 130.9 196.9 130.9C200.7 130.9 204.6 130.9 208.4 131.3C212.1 131.8 215.9 132.4 219.6 133.6C223.2 134.8 226.8 136.4 230.1 138.3C233.5 140.2 236.7 142.5 239.6 145C242.6 147.5 245.4 150.3 247.9 153.2C250.5 156.1 253.8 160.8 254.9 162.3" stroke-width="1.1" stroke-opacity="0.4"/><path d="M139 162.3C140.1 160.8 143.3 155.9 145.9 153C148.4 150 151.1 147.1 154.1 144.6C157 142.1 160.2 139.7 163.6 137.8C166.9 135.9 170.5 134.4 174.2 133.3C177.8 132.2 181.7 131.7 185.5 131.4C189.2 131 193.1 131 196.9 131C200.7 130.9 204.6 130.9 208.4 131.3C212.1 131.7 216 132.1 219.6 133.2C223.3 134.3 226.9 135.8 230.2 137.7C233.6 139.6 236.8 141.9 239.8 144.5C242.8 147 245.5 149.9 248 152.9C250.6 155.9 253.8 160.7 254.9 162.3" stroke-width="0.5" stroke-opacity="0.6"/><path d="M139 162.3C138.1 162.4 135.5 162.6 133.8 162.9C132 163.1 130.3 163.4 128.6 163.7C126.9 164 125.1 164.4 123.5 164.9C121.8 165.4 120.2 165.9 118.6 166.6C117 167.2 115.4 167.9 113.9 168.7C112.4 169.5 111 170.4 109.6 171.3C108.2 172.3 106.9 173.3 105.6 174.4C104.4 175.5 103.2 176.7 102.1 178C101 179.2 99.9 180.5 98.9 181.9C98 183.2 97.1 184.6 96.2 186.1C95.4 187.5 94.6 189 93.8 190.5C93.1 192 92.1 194.2 91.7 195" stroke-width="1.5" stroke-opacity="0.5"/><path d="M139 162.3C138.1 162.3 135.3 162.3 133.5 162.4C131.7 162.5 129.9 162.6 128.1 162.8C126.3 163.1 124.5 163.3 122.7 163.7C121 164.1 119.2 164.6 117.6 165.1C115.9 165.7 114.3 166.4 112.8 167.2C111.2 167.9 109.7 168.8 108.3 169.8C106.9 170.7 105.6 171.8 104.4 173C103.1 174.1 102 175.4 100.9 176.7C99.8 178 98.8 179.4 97.9 180.9C97 182.3 96.2 183.8 95.5 185.4C94.7 186.9 94.1 188.5 93.4 190.1C92.8 191.7 92 194.2 91.7 195" stroke-width="0.5" stroke-opacity="0.5"/><path d="M139 162.3C138.1 162.3 135.4 162.4 133.5 162.5C131.7 162.6 129.9 162.7 128.1 162.9C126.3 163.2 124.5 163.5 122.8 163.9C121.1 164.3 119.4 164.7 117.7 165.3C116 165.9 114.4 166.6 112.9 167.3C111.4 168.1 109.9 169 108.5 170C107.1 170.9 105.7 172 104.5 173.1C103.3 174.3 102.1 175.5 101 176.8C100 178.2 99 179.5 98.1 181C97.1 182.4 96.3 183.9 95.6 185.5C94.8 187 94.1 188.6 93.5 190.2C92.8 191.8 92 194.2 91.7 195" stroke-width="0.9" stroke-opacity="0.5"/><path d="M139 162.3C140.6 159.6 144.9 150.9 148.8 146C152.6 141 157.2 136.4 162.2 132.6C167.1 128.8 172.7 125.4 178.4 123.1C184.1 120.7 190.4 119.3 196.5 118.5C202.6 117.7 208.9 117.8 215.1 118.2C221.3 118.5 227.5 119.3 233.6 120.4C239.7 121.6 245.8 123.3 251.6 125.3C257.4 127.3 263.3 129.5 268.6 132.5C273.8 135.5 278.9 139.2 283.2 143.4C287.5 147.7 291.2 152.8 294.2 158.2C297.1 163.5 299.4 169.4 300.9 175.4C302.4 181.3 302.8 190.8 303.2 193.9" stroke-width="0.6" stroke-opacity="0.6"/><path d="M139 162.3C140.7 159.9 145.5 152.4 149.5 148C153.5 143.6 158 139.3 163 135.9C167.9 132.5 173.4 129.5 179 127.5C184.5 125.5 190.6 124.5 196.5 124C202.4 123.6 208.5 124.2 214.4 124.7C220.3 125.2 226.3 126.1 232.1 127.2C237.9 128.4 243.7 129.8 249.4 131.5C255.1 133.2 260.9 134.9 266.1 137.5C271.4 140.2 276.5 143.4 280.8 147.3C285.1 151.2 288.9 155.9 292 160.9C295.1 165.8 297.5 171.4 299.4 176.9C301.2 182.4 302.6 191.1 303.2 193.9" stroke-width="0.7" stroke-opacity="0.6"/><path d="M139 162.3C136.8 161.8 130.2 159.9 125.9 159.3C121.5 158.7 117 158.3 112.9 158.6C108.7 158.9 104.6 159.7 101.1 161.1C97.5 162.5 94.5 164.8 91.4 167C88.4 169.2 85.7 171.8 83 174.3C80.3 176.8 77.6 179.4 75.1 182.1C72.6 184.7 70.1 187.5 67.8 190.4C65.5 193.2 63.1 196.1 61.1 199.1C59.2 202.2 57.1 205.3 56.1 208.8C55 212.3 54.7 216.2 54.9 220.1C55.1 224 56 228.1 57.2 232.1C58.4 236.1 61.2 242 62 243.9" stroke-width="0.8" stroke-opacity="0.5"/><path d="M139 162.3C136.9 161.9 130.5 160.4 126.3 160C122.1 159.6 117.7 159.4 113.7 159.9C109.7 160.3 105.7 161.2 102.2 162.6C98.8 164 95.7 166.3 92.8 168.4C89.8 170.6 87.1 173.1 84.4 175.6C81.8 178.1 79.1 180.7 76.6 183.3C74.1 186 71.7 188.7 69.4 191.5C67.1 194.3 64.8 197.1 62.8 200.2C60.9 203.2 58.9 206.3 57.8 209.7C56.7 213.1 56.3 216.9 56.3 220.7C56.3 224.5 57.1 228.5 58 232.4C58.9 236.3 61.3 242 62 243.9" stroke-width="1.1" stroke-opacity="0.3"/><path d="M139 162.3C140.9 157.5 145 140.8 150.5 133.6C156 126.4 164.1 121.8 171.8 119.1C179.5 116.4 188.4 117.4 196.7 117.3C205 117.3 213.4 117.8 221.6 118.9C229.9 119.9 238.1 121.6 246.1 123.7C254 125.8 261.9 128.5 269.5 131.7C277.1 134.9 284.5 138.6 291.6 142.8C298.6 146.9 305.4 151.6 311.8 156.6C318.1 161.7 324.2 167.2 329.7 173C335.2 178.8 342 184.4 345 191.6C348 198.8 349.8 207.6 347.7 216.3C345.7 225.1 335.1 239.3 332.5 243.9" stroke-width="1.2" stroke-opacity="0.6"/><path d="M139 162.3C141.4 159.1 147.6 147.9 153.4 142.7C159.2 137.5 166.6 134.2 173.8 131.2C181 128.1 188.9 125.8 196.8 124.4C204.7 122.9 213 122.2 221.1 122.3C229.3 122.4 237.7 123.3 245.7 124.9C253.7 126.6 261.8 129.1 269.3 132.2C276.8 135.4 284.2 139.3 290.8 143.8C297.5 148.3 303.8 153.6 309.4 159.2C314.9 164.9 319.9 171.2 324 177.7C328.1 184.2 331.6 191.3 334 198.4C336.4 205.5 338.6 212.9 338.4 220.5C338.2 228.1 333.5 240 332.5 243.9" stroke-width="0.5" stroke-opacity="0.4"/><path d="M139 162.3C135.8 161.9 126.3 159.7 120.1 159.6C113.8 159.4 107.7 160.3 101.7 161.5C95.7 162.7 89.7 164.5 84 166.9C78.4 169.2 72.9 172.1 67.9 175.5C62.9 178.9 58.2 182.8 54.1 187.1C50 191.4 46.3 196.2 43.2 201.2C40.2 206.2 37.7 211.6 35.8 217.1C34 222.6 32.8 228.4 32.2 234.1C31.6 239.9 31.7 245.8 32.4 251.6C33.1 257.3 34.5 263.1 36.4 268.6C38.4 274.1 40.8 279.5 44.1 284.5C47.4 289.5 54.3 296.2 56.3 298.5" stroke-width="1.2" stroke-opacity="0.5"/><path d="M139 162.3C135.4 161.2 124.4 156.6 117.5 155.5C110.5 154.4 103.2 154.4 97 155.7C90.9 157 85.7 160.4 80.6 163.5C75.6 166.6 70.9 170.4 66.5 174.3C62 178.3 57.8 182.6 54 187.1C50.2 191.6 46.8 196.4 43.7 201.4C40.7 206.4 38 211.7 35.7 217.1C33.5 222.4 31.7 228 30.3 233.6C28.9 239.2 27.8 244.9 27.5 250.6C27.2 256.3 26.8 262.2 28.7 267.8C30.6 273.4 34.4 279.3 39 284.5C43.6 289.6 53.4 296.2 56.3 298.5" stroke-width="0.7" stroke-opacity="0.4"/><path d="M139 162.3C141.9 157.7 149.2 141.5 156.7 134.8C164.3 128.2 174.6 125.4 184.3 122.5C194 119.6 204.6 118 214.9 117.5C225.3 117 236.2 117.7 246.6 119.5C257 121.3 267.5 124.2 277.3 128.2C287.1 132.1 296.8 137.2 305.5 143.1C314.1 149 322.4 155.9 329.4 163.4C336.5 170.9 342.9 179.4 348 188.1C353.1 196.8 357.2 206.3 360 215.7C362.8 225.2 364.5 235.1 364.7 244.8C364.8 254.4 365.3 264.5 361 273.4C356.6 282.4 342.4 294.3 338.7 298.5" stroke-width="2.3" stroke-opacity="0.3"/><path d="M139 162.3C142 158 149.6 142.8 157.2 136.5C164.8 130.3 174.9 127.6 184.5 124.9C194 122.3 204.4 120.8 214.6 120.4C224.8 120 235.4 120.8 245.6 122.6C255.8 124.4 266.1 127.3 275.7 131.2C285.3 135.1 294.7 140.1 303.3 145.9C311.8 151.7 319.8 158.5 326.8 165.8C333.8 173.1 340 181.4 345.1 189.9C350.1 198.4 354.3 207.7 357.1 216.9C360 226.1 361.8 235.9 362.1 245.3C362.4 254.8 363 264.7 359.1 273.6C355.2 282.4 342.1 294.3 338.7 298.5" stroke-width="1.1" stroke-opacity="0.6"/><path d="M139 162.3C134.5 161.5 120.7 157.4 112.1 157.3C103.4 157.3 94.6 159.1 87.1 162.1C79.7 165.2 73.4 170.4 67.5 175.5C61.5 180.7 56.2 186.6 51.4 192.8C46.5 198.9 42.1 205.6 38.4 212.4C34.6 219.2 31.5 226.5 29 233.8C26.5 241.2 24.6 248.8 23.4 256.4C22.2 264 21.6 271.8 21.8 279.5C21.9 287.1 22.5 294.9 24.2 302.3C25.9 309.8 27.8 317.5 31.9 324.1C36.1 330.6 42.2 336.9 49.3 341.7C56.3 346.4 70.2 350.7 74.3 352.5" stroke-width="0.8" stroke-opacity="0.4"/><path d="M139 162.3C134.3 161.2 120 156.1 110.7 155.4C101.5 154.7 91.4 155.4 83.4 158.2C75.5 160.9 69 166.5 63.1 172C57.1 177.4 52.4 184.1 47.8 190.6C43.2 197.1 39 204 35.4 211.1C31.7 218.1 28.6 225.5 26.1 233C23.5 240.4 21.5 248.1 20.1 255.9C18.7 263.6 17.8 271.5 17.5 279.3C17.2 287.2 16.9 295.3 18.4 302.9C19.9 310.6 21.7 318.7 26.4 325.3C31.2 331.9 39 338 47 342.5C55 347 69.8 350.8 74.3 352.5" stroke-width="0.9" stroke-opacity="0.4"/><path d="M139 162.3C142.2 154.9 149 126.7 158.5 118C168.1 109.4 183.5 111.3 196.2 110.7C208.8 110.1 222.1 111.8 234.6 114.2C247.2 116.7 259.7 120.4 271.5 125.3C283.2 130.1 294.7 136.2 305.1 143.3C315.5 150.3 325.3 158.5 334 167.5C342.6 176.4 350.4 186.4 356.9 196.8C363.4 207.2 368.8 218.5 372.9 230C376.9 241.5 379.7 253.6 381.2 265.6C382.6 277.6 383.3 290.2 381.4 302C379.6 313.9 380.3 328.5 370.1 336.7C359.9 345 328.5 349 320.2 351.4" stroke-width="0.6" stroke-opacity="0.5"/><path d="M139 162.3C142.7 156.7 151.5 135.8 161.1 128.5C170.6 121.2 184.1 120.1 196.2 118.3C208.3 116.6 221.3 116.7 233.8 118C246.2 119.4 259 122.3 270.9 126.5C282.8 130.7 294.6 136.4 305.2 143.2C315.8 149.9 325.8 158.1 334.5 167C343.1 176 350.9 186.2 357 196.7C363.2 207.3 368.2 218.9 371.5 230.4C374.8 242 376.7 254.2 376.9 266C377.2 277.8 376.1 290.1 373.1 301.3C370.1 312.5 367.7 325.1 358.9 333.5C350.1 341.8 326.7 348.4 320.2 351.4" stroke-width="0.5" stroke-opacity="0.4"/><path d="M139 162.3C142.5 155.9 150.4 132.8 159.9 123.7C169.4 114.5 183.5 109.5 196.1 107.4C208.7 105.3 222.5 108.5 235.3 111C248.1 113.5 260.9 117.3 272.9 122.2C284.9 127.2 296.6 133.4 307.2 140.6C317.8 147.8 327.8 156.2 336.6 165.2C345.5 174.3 353.4 184.5 360 195.1C366.6 205.8 372.2 217.3 376.3 229C380.4 240.6 383.3 253 384.8 265.2C386.2 277.5 388.5 290.7 385 302.4C381.6 314 374.9 326.8 364.1 335C353.3 343.1 327.5 348.7 320.2 351.4" stroke-width="0.5" stroke-opacity="0.5"/><path d="M139 162.3C132.9 160.9 113.7 153.6 102.6 153.8C91.5 154.1 80.9 158.7 72.1 163.9C63.3 169.1 56.5 177.3 49.9 185C43.3 192.6 37.3 201.1 32.4 210C27.4 218.8 23.3 228.2 20.3 237.8C17.2 247.4 15 257.4 14 267.4C12.9 277.4 12.8 287.6 13.8 297.6C14.8 307.6 16.8 317.6 19.7 327.2C22.7 336.8 26.7 346.2 31.5 355C36.4 363.8 41.3 373.1 48.7 379.9C56.2 386.6 65.6 393.2 76.4 395.7C87.2 398.1 107.5 394.8 113.7 394.6" stroke-width="1.2" stroke-opacity="0.6"/><path d="M139 162.3C132.9 160.9 113.2 153 102.5 153.6C91.7 154.3 82.9 160.7 74.4 166C65.8 171.4 58.1 178.4 51.1 185.8C44.2 193.1 37.9 201.4 32.7 210.1C27.5 218.7 23.1 228.2 19.9 237.7C16.7 247.3 14.5 257.4 13.4 267.4C12.3 277.3 12.3 287.7 13.4 297.6C14.5 307.6 16.8 317.6 20 327.1C23.3 336.6 27.7 345.9 32.9 354.4C38.1 363 44.2 371.3 51.4 378.2C58.6 385.1 65.8 393.1 76.2 395.8C86.6 398.5 107.5 394.8 113.7 394.6" stroke-width="0.9" stroke-opacity="0.5"/><path d="M139 162.3C143.8 157.2 156.2 138.5 167.8 131.7C179.4 124.8 194.6 122.6 208.6 121.2C222.7 119.8 237.9 120.6 252.2 123.3C266.5 126.1 281.2 131 294.3 137.6C307.4 144.1 320.2 152.8 331 162.6C341.9 172.4 351.7 184.2 359.2 196.5C366.8 208.8 372.8 222.6 376.4 236.3C380.1 250.1 381.8 264.8 381.3 278.8C380.8 292.8 378 307.3 373.4 320.3C368.8 333.4 362 346.3 353.7 357.2C345.4 368 335.8 379.3 323.7 385.6C311.5 391.8 287.9 393.2 280.7 394.7" stroke-width="1" stroke-opacity="0.4"/><path d="M139 162.3C143.5 155.8 154.4 131.5 166.1 123.1C177.8 114.7 194.6 112.8 209.3 111.9C224 111 239.7 113.8 254.2 117.5C268.8 121.3 283.4 127 296.6 134.2C309.7 141.4 322.3 150.6 333.2 160.7C344 170.9 353.7 182.9 361.4 195.3C369.1 207.8 375.2 221.7 379.3 235.6C383.3 249.5 385.5 264.4 385.6 278.7C385.7 293 383.7 307.8 379.9 321.6C376.1 335.3 370.9 349.6 362.7 361.2C354.6 372.8 344.6 385.6 330.9 391.1C317.2 396.7 289.1 394.1 280.7 394.7" stroke-width="0.5" stroke-opacity="0.5"/><path d="M139 162.3C143.5 155.8 154.4 131.3 166.1 123C177.8 114.7 194.7 113.1 209.2 112.7C223.7 112.3 239.1 116.3 253.2 120.5C267.3 124.8 281.3 130.9 293.8 138.2C306.4 145.6 318.4 154.6 328.7 164.7C339.1 174.7 348.3 186.2 355.8 198.3C363.2 210.4 369.3 223.7 373.4 237.1C377.5 250.6 379.9 264.9 380.4 278.8C381 292.8 379.6 307.3 376.5 320.9C373.5 334.6 369.6 349.1 362 360.8C354.4 372.6 344.5 385.5 330.9 391.2C317.4 396.8 289.1 394.1 280.7 394.7" stroke-width="1.1" stroke-opacity="0.5"/><path d="M139 162.3C130.5 159.5 102 144.3 88.4 145.2C74.7 146 66.3 158.5 57.3 167.2C48.3 175.8 40.9 186.4 34.5 197C28 207.6 22.7 219.1 18.7 230.7C14.7 242.3 12 254.6 10.6 266.7C9.3 278.8 9.3 291.4 10.7 303.5C12 315.6 14.8 327.9 18.8 339.5C22.7 351.1 28.1 362.5 34.6 373.1C41 383.7 48.8 393.9 57.4 403C66 412.1 75.6 421 86.3 427.7C97 434.4 108.1 445.1 121.5 443.1C135 441.2 159.5 420.7 167.1 416.2" stroke-width="1.9" stroke-opacity="0.3"/><path d="M139 162.3C132.7 162.1 112.7 158.6 101.3 161.2C89.8 163.8 79.7 170.9 70.3 177.8C60.9 184.7 52.2 193.3 44.9 202.5C37.6 211.7 31.3 222.2 26.6 233C21.9 243.8 18.5 255.6 16.8 267.3C15.1 278.9 14.8 291.2 16.1 303C17.4 314.7 20.4 326.7 24.7 337.7C28.9 348.8 34.8 359.7 41.8 369.3C48.8 379 57.2 388.1 66.4 395.6C75.5 403.2 86 409.9 96.7 414.8C107.4 419.6 118.9 424.6 130.6 424.8C142.3 425.1 161 417.6 167.1 416.2" stroke-width="0.5" stroke-opacity="0.5"/><path d="M139 162.3C131 161.6 105 154.7 90.9 157.8C76.7 160.8 64.4 171 54.2 180.7C43.9 190.3 36 203 29.5 215.5C23 228 18 241.8 15.1 255.5C12.2 269.3 11.1 283.9 12 298C12.9 312 15.9 326.5 20.5 339.9C25.2 353.3 32 366.6 40.1 378.4C48.2 390.2 58.3 401.4 69.3 410.8C80.3 420.2 93 428.6 106.1 435C119.2 441.4 133.6 447.2 147.8 449.2C162.1 451.2 178.4 452.5 191.6 447C204.8 441.5 220.9 421.3 226.8 416.2" stroke-width="2.3" stroke-opacity="0.6"/><path d="M139 162.3C130 160.5 99.5 148.3 85.3 151.3C71.1 154.3 62.7 169.5 53.7 180.3C44.7 191.1 37 203.5 31.2 216.2C25.3 228.8 20.9 242.5 18.5 256.1C16 269.7 15.3 283.9 16.4 297.7C17.5 311.4 20.4 325.5 25 338.5C29.6 351.6 36 364.6 43.8 376.2C51.6 387.9 61.1 399 71.7 408.5C82.2 418.1 94.3 426.7 107 433.5C119.7 440.4 133.6 446.1 147.7 449.7C161.7 453.4 178.1 460.9 191.3 455.3C204.5 449.7 220.9 422.7 226.8 416.2" stroke-width="0.9" stroke-opacity="0.5"/><path d="M254.9 162.3C253.2 159.8 248.5 152 244.6 147.5C240.6 142.9 236 138.5 231.1 135.1C226.1 131.7 220.6 128.7 214.9 126.9C209.3 125.1 203.2 124.5 197.3 124.2C191.4 123.9 185.4 124.5 179.5 125.1C173.6 125.7 167.7 126.6 161.9 127.8C156 128.9 150.3 130.4 144.6 132.1C139 133.9 133.2 135.6 127.9 138.2C122.7 140.7 117.4 143.6 113 147.4C108.7 151.2 104.9 156 101.8 161.1C98.8 166.1 96.6 171.9 94.9 177.5C93.2 183.2 92.3 192.1 91.7 195" stroke-width="1.5" stroke-opacity="0.5"/><path d="M254.9 162.3C253.2 159.8 248.6 151.8 244.7 147.1C240.7 142.5 236.1 138 231.2 134.5C226.3 131 220.7 128.1 215 126.3C209.4 124.4 203.2 123.9 197.3 123.6C191.4 123.3 185.4 123.9 179.4 124.5C173.5 125.1 167.6 126 161.7 127.2C155.9 128.3 150.1 129.8 144.4 131.6C138.7 133.3 133 135.1 127.7 137.6C122.4 140.2 117 143 112.7 146.9C108.3 150.7 104.5 155.5 101.5 160.6C98.5 165.7 96.3 171.5 94.6 177.3C93 183 92.2 192 91.7 195" stroke-width="0.5" stroke-opacity="0.5"/><path d="M254.9 162.3C255.8 162.3 258.5 162.4 260.2 162.6C262 162.8 263.8 163 265.5 163.2C267.3 163.5 269 163.9 270.7 164.3C272.4 164.7 274.1 165.2 275.7 165.8C277.4 166.4 279 167.1 280.5 167.8C282 168.6 283.5 169.4 284.9 170.4C286.3 171.3 287.7 172.3 289 173.4C290.2 174.5 291.5 175.7 292.6 176.9C293.7 178.2 294.8 179.5 295.8 180.8C296.8 182.2 297.7 183.6 298.6 185C299.5 186.4 300.3 187.9 301 189.4C301.8 190.9 302.8 193.2 303.2 193.9" stroke-width="1.9" stroke-opacity="0.4"/><path d="M254.9 162.3C255.8 162.3 258.5 162.3 260.3 162.4C262.1 162.5 264 162.6 265.8 162.8C267.5 163.1 269.3 163.4 271.1 163.7C272.8 164.1 274.5 164.6 276.2 165.1C277.9 165.7 279.5 166.4 281 167.1C282.6 167.9 284.1 168.7 285.5 169.6C286.9 170.6 288.3 171.6 289.6 172.7C290.8 173.9 292 175.1 293.1 176.3C294.3 177.6 295.3 179 296.3 180.3C297.2 181.7 298.1 183.2 298.9 184.7C299.8 186.2 300.5 187.7 301.2 189.2C301.9 190.8 302.9 193.1 303.2 193.9" stroke-width="0.9" stroke-opacity="0.4"/><path d="M254.9 162.3C252.6 158.8 246.6 147 240.8 141.5C235.1 136 227.7 132.5 220.5 129.3C213.2 126.1 205.2 123.6 197.3 122C189.3 120.4 180.8 119.7 172.6 119.7C164.3 119.8 155.8 120.7 147.6 122.3C139.5 124 131.3 126.5 123.7 129.8C116.1 133 108.6 137.1 101.9 141.7C95.1 146.3 88.8 151.7 83.3 157.5C77.7 163.3 72.7 169.7 68.7 176.4C64.7 183.1 61.3 190.3 59 197.6C56.7 204.8 54.6 212.3 55.1 220.1C55.5 227.8 60.8 240 62 243.9" stroke-width="1.2" stroke-opacity="0.5"/><path d="M254.9 162.3C252.8 158 247.9 143.5 242.4 136.6C236.8 129.8 229.2 124.8 221.7 121.1C214.2 117.4 205.6 115.6 197.2 114.2C188.9 112.8 180.1 112.4 171.5 112.7C162.9 112.9 154 114 145.6 115.9C137.1 117.7 128.7 120.4 120.7 123.8C112.8 127.1 105.1 131.3 98 136C90.9 140.7 84.2 146.2 78.3 152.1C72.3 157.9 66.8 164.4 62.4 171.3C58 178.1 53.6 185.3 51.6 193C49.5 200.8 48.4 209.4 50.1 217.9C51.9 226.4 60 239.6 62 243.9" stroke-width="1.1" stroke-opacity="0.5"/><path d="M254.9 162.3C252.9 157.8 248.2 143.1 242.7 135.4C237.3 127.8 230 120.5 222.5 116.3C214.9 112.2 205.7 111.3 197.2 110.6C188.7 109.9 179.9 111.2 171.4 112.3C162.9 113.5 154.4 115.2 146.1 117.5C137.8 119.7 129.6 122.6 121.8 125.9C113.9 129.2 106.2 133.1 98.9 137.4C91.6 141.7 84.6 146.6 78 151.8C71.5 157.1 64.6 162.4 59.5 168.9C54.3 175.3 49 182.3 47.3 190.4C45.5 198.5 46.5 208.5 49 217.4C51.4 226.3 59.8 239.5 62 243.9" stroke-width="1.1" stroke-opacity="0.4"/><path d="M254.9 162.3C257.1 161.8 263.7 159.8 268 159.2C272.4 158.5 277 158 281.3 158.2C285.5 158.3 289.8 158.9 293.6 160.1C297.4 161.3 300.9 163.1 304.1 165.2C307.3 167.3 310 170 312.8 172.5C315.5 175.1 318.2 177.7 320.8 180.4C323.4 183.2 325.9 186 328.3 188.9C330.7 191.8 333.3 194.6 335.1 197.8C336.9 201 338.5 204.5 339.3 208.2C340.1 211.8 340.2 215.9 339.9 219.9C339.6 223.8 338.6 228 337.3 232C336.1 236.1 333.3 241.9 332.5 243.9" stroke-width="1.9" stroke-opacity="0.5"/><path d="M254.9 162.3C256.9 162.2 262.7 161.6 266.7 161.5C270.6 161.5 274.6 161.7 278.6 162.1C282.5 162.6 286.5 163.3 290.3 164.3C294.1 165.3 297.9 166.6 301.4 168.1C304.9 169.7 308.3 171.6 311.4 173.8C314.5 176 317.4 178.5 320 181.2C322.5 183.8 324.8 186.8 326.8 190C328.7 193.1 330.3 196.5 331.6 199.9C332.9 203.4 333.8 207 334.4 210.7C335.1 214.3 335.3 218.1 335.4 221.8C335.4 225.6 335.1 229.3 334.6 233C334.1 236.7 332.9 242.1 332.5 243.9" stroke-width="0.7" stroke-opacity="0.4"/><path d="M254.9 162.3C252 157.7 244.8 141.3 237.2 134.5C229.7 127.8 219.4 124.3 209.7 121.7C200.1 119 189.5 118.6 179.2 118.7C169 118.7 158.4 119.9 148.3 122C138.1 124.1 128 127.2 118.4 131.3C108.9 135.3 99.6 140.4 91.1 146.1C82.6 151.9 74.6 158.7 67.6 165.9C60.5 173.2 54.1 181.3 48.9 189.7C43.6 198.1 39.1 207.2 35.9 216.4C32.6 225.6 29.7 235.2 29.4 244.7C29 254.2 29.3 264.5 33.8 273.5C38.3 282.5 52.5 294.3 56.3 298.5" stroke-width="2.3" stroke-opacity="0.5"/><path d="M254.9 162.3C252.5 155.6 247.9 131.4 240.6 122.2C233.2 113 221.3 109.3 210.9 106.9C200.4 104.4 188.8 106.3 177.9 107.4C167 108.4 156.1 110.4 145.6 113.3C135 116.1 124.6 119.8 114.8 124.3C104.9 128.8 95.4 134.2 86.5 140.3C77.6 146.3 69.2 153.2 61.5 160.6C53.9 168 46.9 176.1 40.7 184.7C34.6 193.2 29.1 202.4 24.7 211.8C20.2 221.2 14.6 231 13.8 241.1C13.1 251.3 13 263 20.1 272.6C27.2 282.1 50.3 294.2 56.3 298.5" stroke-width="0.9" stroke-opacity="0.6"/><path d="M254.9 162.3C258 162 267.2 160.3 273.3 160.3C279.3 160.4 285.5 161.2 291.3 162.5C297.1 163.8 303 165.8 308.3 168.3C313.7 170.8 318.7 174 323.3 177.5C328 181.1 332.2 185.2 336 189.5C339.8 193.8 343.3 198.5 346.3 203.4C349.3 208.2 351.9 213.4 354 218.7C356 223.9 357.7 229.4 358.7 235C359.7 240.5 360.1 246.2 359.8 251.8C359.4 257.4 358.3 263.1 356.6 268.6C354.9 274 352.6 279.4 349.6 284.4C346.6 289.4 340.5 296.1 338.7 298.5" stroke-width="0.8" stroke-opacity="0.5"/><path d="M254.9 162.3C258 161.9 267.4 160 273.5 160C279.6 159.9 285.9 160.7 291.7 162C297.5 163.3 303.3 165.4 308.6 168C313.8 170.7 318.6 174.1 323.2 177.7C327.7 181.3 332 185.4 335.8 189.7C339.6 194 343.1 198.6 346.1 203.5C349.1 208.4 351.6 213.5 353.7 218.8C355.8 224 357.4 229.5 358.5 235C359.5 240.5 360.3 246.2 360.1 251.7C359.9 257.3 358.9 263.1 357.3 268.5C355.6 273.9 353.2 279.4 350.1 284.4C347 289.4 340.6 296.1 338.7 298.5" stroke-width="1.1" stroke-opacity="0.6"/><path d="M254.9 162.3C258.3 161.5 268.2 158.5 274.9 157.7C281.6 157 288.7 156.8 295 157.8C301.4 158.8 307.7 160.7 312.9 163.6C318.2 166.4 322.4 170.7 326.6 174.8C330.8 178.9 334.5 183.5 338.1 188.1C341.6 192.7 345 197.5 348 202.5C351.1 207.4 353.8 212.5 356.3 217.7C358.8 222.9 361.2 228.2 362.9 233.7C364.6 239.2 366.5 244.8 366.5 250.5C366.5 256.2 365.1 262.3 362.9 267.9C360.6 273.6 356.9 279.3 352.8 284.4C348.8 289.5 341.1 296.1 338.7 298.5" stroke-width="0.5" stroke-opacity="0.5"/><path d="M254.9 162.3C251.1 157.2 241.6 138.7 232 131.6C222.5 124.4 209.6 121.7 197.6 119.3C185.5 116.9 172.4 116.3 159.8 117.2C147.2 118 134.1 120.6 121.9 124.6C109.7 128.6 97.5 134.3 86.7 141.1C75.8 147.9 65.5 156.3 56.8 165.4C48 174.6 40.2 185.1 34.2 196C28.1 206.8 23.4 218.8 20.5 230.6C17.5 242.4 16.2 255 16.6 266.9C17 278.8 19.1 291.1 22.9 302.1C26.7 313.2 30.8 325 39.4 333.4C48 341.8 68.5 349.3 74.3 352.5" stroke-width="1.2" stroke-opacity="0.6"/><path d="M254.9 162.3C251.1 157.2 241.6 138.7 232 131.6C222.5 124.4 209.6 121.7 197.6 119.3C185.5 116.9 172.4 116.3 159.8 117.2C147.2 118 134.1 120.6 121.9 124.6C109.7 128.6 97.5 134.3 86.7 141.1C75.8 147.9 65.5 156.3 56.8 165.4C48 174.6 40.2 185.1 34.2 196C28.1 206.8 23.4 218.8 20.5 230.6C17.5 242.4 16.2 255 16.6 266.9C17 278.8 19.1 291.1 22.9 302.1C26.7 313.2 30.8 325 39.4 333.4C48 341.8 68.5 349.3 74.3 352.5" stroke-width="0.7" stroke-opacity="0.6"/><path d="M254.9 162.3C259.4 161.4 273.2 157.1 281.7 157.2C290.1 157.3 298.3 159.8 305.7 162.8C313 165.9 319.6 170.7 325.8 175.5C332 180.4 337.8 185.9 343 191.9C348.2 197.8 352.9 204.3 356.8 211.1C360.8 217.9 364.1 225.2 366.7 232.5C369.3 239.9 371.1 247.6 372.2 255.3C373.3 262.9 373.6 270.8 373.1 278.5C372.7 286.2 371.5 293.9 369.5 301.3C367.5 308.6 365.3 316.2 361.2 322.7C357.2 329.3 352.1 335.8 345.3 340.6C338.4 345.4 324.4 349.6 320.2 351.4" stroke-width="1.5" stroke-opacity="0.5"/><path d="M254.9 162.3C259.6 161.1 273.8 156.1 282.9 155.4C292.1 154.7 301.6 155.9 309.8 158.3C318.1 160.7 326 164.9 332.7 169.8C339.4 174.7 344.8 181.2 350 187.5C355.2 193.9 360 200.8 364 207.9C368 215.1 371.4 222.6 374.1 230.3C376.7 238 378.8 246 380 254C381.3 262 381.8 270.2 381.6 278.2C381.4 286.2 381.1 294.5 378.7 302.1C376.4 309.8 372.7 317.6 367.5 324.1C362.3 330.7 355.3 336.8 347.4 341.4C339.6 345.9 324.8 349.8 320.2 351.4" stroke-width="0.7" stroke-opacity="0.6"/><path d="M254.9 162.3C259.2 161.7 272.5 158.3 280.6 158.7C288.8 159.2 296.4 162 303.8 164.9C311.2 167.8 318.4 171.7 325 176.2C331.5 180.7 337.8 186 343.3 191.7C348.8 197.5 353.7 203.9 357.9 210.7C362 217.4 365.5 224.7 368.1 232.1C370.6 239.5 372.4 247.4 373.3 255.1C374.2 262.8 374.3 270.8 373.5 278.5C372.6 286.2 370.9 293.9 368.4 301.2C365.9 308.4 362.5 315.6 358.3 322.1C354.2 328.5 349.8 335 343.4 339.9C337.1 344.8 324.1 349.5 320.2 351.4" stroke-width="0.5" stroke-opacity="0.3"/><path d="M254.9 162.3C250.6 154.6 240.8 124.9 229.1 116.4C217.3 107.8 199.4 110.4 184.6 110.8C169.8 111.2 154.5 114.5 140.3 118.9C126.1 123.2 112.1 129.4 99.4 136.9C86.7 144.3 74.7 153.5 64.3 163.6C53.9 173.8 44.6 185.4 37.1 197.6C29.6 209.8 23.6 223.2 19.5 236.8C15.3 250.3 12.9 264.8 12.4 278.8C11.8 292.9 13.2 307.5 16.3 321.2C19.4 335 23.9 349.2 30.9 361.5C37.9 373.8 44.5 389.6 58.3 395.1C72.1 400.6 104.5 394.7 113.7 394.6" stroke-width="1.9" stroke-opacity="0.5"/><path d="M254.9 162.3C250.5 155.1 240.2 127.3 228.5 119.3C216.8 111.3 199.4 113.8 184.9 114.3C170.4 114.7 155.4 117.9 141.5 122.2C127.6 126.4 113.8 132.5 101.4 139.8C89 147.1 77.2 156.1 67 166C56.8 175.9 47.7 187.4 40.4 199.3C33.1 211.3 27.1 224.5 23.1 237.7C19 251 16.6 265.1 16.1 278.9C15.6 292.7 16.9 307 19.9 320.5C23 334 27.5 347.9 34.3 360C41.1 372.1 47.5 387.5 60.7 393.3C73.9 399 104.9 394.4 113.7 394.6" stroke-width="1.1" stroke-opacity="0.5"/><path d="M254.9 162.3C261 160.8 279.4 154 291.2 153.7C303 153.3 316 155.4 325.7 160C335.3 164.6 342.4 173.4 349.1 181.4C355.8 189.3 361.1 198.6 365.9 207.8C370.6 217 374.6 226.7 377.6 236.5C380.5 246.4 382.6 256.6 383.7 266.8C384.9 277 385 287.4 384.3 297.6C383.5 307.8 381.8 318.1 379.1 328C376.5 337.9 373.2 348 368.4 357.1C363.6 366.2 358.6 376.2 350.2 382.6C341.8 389 329.6 393.6 318 395.6C306.4 397.6 286.9 394.8 280.7 394.7" stroke-width="0.8" stroke-opacity="0.5"/><path d="M254.9 162.3C261.4 160.3 282.2 150.4 293.6 150.4C305.1 150.3 315.1 156.3 323.5 162C331.9 167.7 338.1 176.5 344.2 184.6C350.4 192.6 355.9 201.2 360.5 210.2C365.1 219.1 369 228.5 371.8 238C374.7 247.6 376.8 257.5 377.9 267.4C378.9 277.2 379.1 287.3 378.4 297.2C377.6 307.1 375.9 317.1 373.4 326.7C370.8 336.3 367.3 345.9 363 354.9C358.7 364 354.6 373.8 347.6 381C340.6 388.3 332.2 396 321 398.3C309.9 400.6 287.5 395.3 280.7 394.7" stroke-width="0.5" stroke-opacity="0.5"/><path d="M254.9 162.3C261.8 159.7 284.1 147.6 296.1 147C308.1 146.4 318.4 152.8 327.1 158.6C335.9 164.4 342.1 173.5 348.5 181.8C354.8 190 360.5 198.9 365.2 208.1C369.9 217.2 373.9 226.9 376.8 236.7C379.8 246.5 381.9 256.7 383 266.9C384.1 277 384.3 287.4 383.5 297.5C382.8 307.7 381 318 378.4 327.9C375.8 337.7 372.2 347.5 367.8 356.9C363.3 366.2 359.2 376.3 351.9 383.7C344.6 391 336 399.2 324.2 401.1C312.3 402.9 288 395.7 280.7 394.7" stroke-width="0.9" stroke-opacity="0.5"/><path d="M254.9 162.3C263.2 161.2 290.1 153 304.4 155.9C318.8 158.7 330.7 169.7 341 179.5C351.3 189.3 359.5 202 366.1 214.6C372.7 227.2 377.8 241.1 380.8 255C383.8 268.9 384.9 283.7 384 297.9C383.1 312.1 380.1 326.7 375.4 340.2C370.7 353.8 363.9 367.2 355.6 379.1C347.4 391 337.2 402.3 326 411.8C314.9 421.3 302 429.7 288.8 436.1C275.5 442.5 260.9 448.1 246.5 450.3C232.1 452.4 215.6 454.6 202.3 448.9C189.1 443.2 173 421.6 167.1 416.2" stroke-width="0.6" stroke-opacity="0.5"/><path d="M254.9 162.3C264 160.3 293.8 148.2 309.2 150.4C324.5 152.5 336.7 164.9 347 175.3C357.3 185.7 364.6 199.5 370.8 212.7C377 225.9 381.6 240.2 384.2 254.5C386.8 268.7 387.6 283.6 386.5 298C385.4 312.4 382.3 327.1 377.5 340.9C372.7 354.6 365.9 368.1 357.7 380.3C349.6 392.5 339.5 404.1 328.4 414.1C317.4 424.1 304.6 433 291.3 440.2C278 447.3 263.3 454.3 248.6 457C233.8 459.6 216.1 462.7 202.5 455.9C189 449.1 173 422.8 167.1 416.2" stroke-width="0.5" stroke-opacity="0.5"/><path d="M254.9 162.3C263.7 160.6 293.1 149.5 307.5 152.3C322 155.1 331.7 168.8 341.5 179.1C351.4 189.5 360.1 201.7 366.7 214.3C373.4 227 378.5 241 381.5 254.9C384.5 268.8 385.7 283.7 384.8 297.9C383.9 312.2 380.9 326.9 376.2 340.4C371.4 354 364.5 367.5 356.3 379.5C348 391.4 337.7 402.8 326.5 412.3C315.4 421.8 302.4 430.2 289.1 436.7C275.8 443.1 261.1 448.1 246.7 450.9C232.3 453.7 215.7 459.2 202.5 453.5C189.2 447.7 173 422.4 167.1 416.2" stroke-width="0.7" stroke-opacity="0.5"/><path d="M254.9 162.3C262.6 160.4 287.7 149.6 300.7 150.9C313.7 152.1 324 161.8 333.1 169.8C342.2 177.9 349.2 188.6 355.5 199C361.8 209.3 367.1 220.5 371 231.8C374.9 243.2 377.6 255.2 378.9 267C380.3 278.9 380.3 291.2 378.9 303C377.6 314.9 374.9 326.9 371 338.2C367.1 349.5 361.8 360.7 355.5 371.1C349.2 381.4 341.5 391.3 333.1 400.2C324.6 409 315.4 418.2 304.7 424.2C294 430.3 281.9 437.8 268.9 436.4C255.9 435.1 233.8 419.6 226.8 416.2" stroke-width="0.6" stroke-opacity="0.4"/><path d="M254.9 162.3C262.3 160.7 285.3 152.3 299 153C312.7 153.8 326.8 159.4 337 166.7C347.2 173.9 353.7 185.9 360.2 196.5C366.7 207.1 372.1 218.6 376.1 230.3C380.2 242 382.9 254.3 384.3 266.5C385.7 278.7 385.7 291.3 384.3 303.5C382.9 315.7 380.2 328.1 376.1 339.7C372.1 351.4 366.7 362.9 360.2 373.5C353.6 384.2 345.8 394.4 337.1 403.5C328.3 412.6 319.3 423 307.8 428.1C296.2 433.2 281.2 436 267.7 434C254.2 432 233.6 419.2 226.8 416.2" stroke-width="1.1" stroke-opacity="0.5"/><path d="M91.7 195C92.1 190.6 91.2 176.4 93.7 168.6C96.1 160.8 101 153.9 106.3 148C111.6 142.2 118.5 137.7 125.4 133.4C132.3 129.2 139.9 125.6 147.6 122.7C155.3 119.8 163.5 117.5 171.8 116C180 114.5 188.5 113.7 196.9 113.7C205.3 113.7 213.9 114.4 222.1 115.9C230.4 117.3 238.6 119.5 246.4 122.3C254.1 125.2 261.7 128.7 268.6 132.9C275.6 137.1 282.5 141.6 287.9 147.4C293.3 153.2 298.3 160 300.8 167.7C303.4 175.5 302.8 189.6 303.2 193.9" stroke-width="1.9" stroke-opacity="0.3"/><path d="M91.7 195C91.8 190.3 90.2 175.6 91.9 166.7C93.6 157.9 97 148.6 102 141.9C107 135.1 114.6 130.3 121.9 126.3C129.3 122.3 137.9 120.2 146.1 117.9C154.3 115.7 162.8 114 171.3 112.8C179.7 111.7 188.4 111.1 196.9 111C205.5 111 214.1 111.5 222.6 112.6C231.1 113.7 239.6 115.4 247.8 117.6C256.1 119.8 264.7 121.9 272.1 125.9C279.4 129.8 287 134.6 292.1 141.2C297.2 147.9 300.6 157.1 302.5 165.9C304.4 174.6 303.1 189.2 303.2 193.9" stroke-width="1.1" stroke-opacity="0.4"/><path d="M91.7 195C90.9 195.4 88.5 196.5 86.9 197.4C85.3 198.2 83.8 199.1 82.3 200.1C80.8 201 79.3 202 77.9 203.1C76.5 204.2 75.1 205.3 73.9 206.5C72.6 207.7 71.5 209 70.4 210.3C69.3 211.6 68.3 213 67.5 214.5C66.6 215.9 65.8 217.4 65.1 219C64.5 220.5 63.9 222.1 63.5 223.7C63 225.3 62.6 227 62.4 228.6C62.1 230.3 61.9 232 61.8 233.7C61.7 235.4 61.7 237.1 61.7 238.8C61.7 240.5 61.9 243.1 62 243.9" stroke-width="1.2" stroke-opacity="0.5"/><path d="M91.7 195C90.9 195.4 88.5 196.6 87 197.4C85.4 198.3 83.9 199.2 82.4 200.2C80.9 201.1 79.4 202.2 78.1 203.2C76.7 204.3 75.4 205.5 74.1 206.7C72.9 207.9 71.7 209.1 70.7 210.5C69.6 211.8 68.6 213.2 67.7 214.6C66.9 216 66.1 217.5 65.4 219.1C64.7 220.6 64.2 222.2 63.7 223.8C63.2 225.4 62.9 227.1 62.6 228.7C62.3 230.4 62.1 232.1 62 233.8C61.8 235.5 61.8 237.2 61.8 238.9C61.8 240.6 61.9 243.1 62 243.9" stroke-width="0.9" stroke-opacity="0.6"/><path d="M91.7 195C90.9 195.4 88.5 196.5 86.9 197.4C85.3 198.2 83.7 199.1 82.2 200C80.7 201 79.2 202 77.8 203.1C76.4 204.1 75 205.3 73.8 206.5C72.5 207.7 71.4 208.9 70.3 210.2C69.2 211.6 68.2 213 67.3 214.4C66.5 215.8 65.7 217.4 65 218.9C64.4 220.4 63.8 222 63.3 223.7C62.9 225.3 62.5 226.9 62.3 228.6C62 230.3 61.8 232 61.8 233.7C61.7 235.4 61.7 237.1 61.7 238.8C61.7 240.5 61.9 243.1 62 243.9" stroke-width="0.9" stroke-opacity="0.5"/><path d="M91.7 195C92.7 189.9 93 172.9 97.3 164.2C101.6 155.6 109.7 149.3 117.3 143.1C124.9 137 133.9 131.7 143 127.5C152.2 123.2 162.3 119.9 172.5 117.7C182.6 115.5 193.3 114.3 203.8 114.2C214.3 114.1 225.1 115.2 235.4 117.2C245.7 119.3 256 122.5 265.6 126.6C275.1 130.7 284.4 136 292.7 141.9C301 147.8 308.7 154.7 315.2 162.2C321.8 169.6 327.6 177.9 331.9 186.4C336.2 195 340.9 203.9 341 213.5C341.1 223.1 333.9 238.9 332.5 243.9" stroke-width="1.5" stroke-opacity="0.6"/><path d="M91.7 195C91.9 188.9 88.9 168.5 92.4 158.6C96 148.7 104.9 142 112.9 135.6C120.9 129.2 130.7 124.3 140.4 120.2C150.2 116 160.8 112.7 171.4 110.6C182 108.5 193.1 107.4 204.1 107.4C215 107.4 226.2 108.6 236.9 110.7C247.7 112.9 258.4 116.2 268.4 120.3C278.3 124.5 288.1 129.8 296.8 135.8C305.6 141.9 313.8 148.9 320.9 156.5C328 164 334.7 172.3 339.3 181.2C343.8 190.2 349 199.7 347.9 210.1C346.8 220.6 335.1 238.3 332.5 243.9" stroke-width="1.1" stroke-opacity="0.5"/><path d="M91.7 195C89.5 195.3 82.7 196.1 78.4 197.2C74.1 198.2 69.8 199.5 65.9 201.3C62.1 203 58.5 205.2 55.6 207.7C52.6 210.2 50.3 213.2 48.3 216.3C46.3 219.4 45.1 222.8 43.6 226.2C42.2 229.5 40.9 233 39.7 236.4C38.5 239.8 37.5 243.3 36.5 246.8C35.6 250.3 34.5 253.8 34.2 257.4C33.9 261 33.9 264.8 34.7 268.4C35.5 272 37.1 275.8 39.1 279.3C41.2 282.8 43.9 286.2 46.7 289.4C49.6 292.6 54.7 297 56.3 298.5" stroke-width="0.8" stroke-opacity="0.6"/><path d="M91.7 195C89.8 195.6 84 197.1 80.2 198.4C76.4 199.8 72.6 201.4 69.1 203.2C65.6 205.1 62.2 207.2 59.2 209.6C56.1 211.9 53.3 214.6 50.9 217.4C48.5 220.3 46.5 223.4 44.8 226.6C43.1 229.8 42 233.3 40.8 236.7C39.6 240.1 38.4 243.6 37.7 247.1C37.1 250.6 36.8 254.3 37 257.9C37.1 261.5 37.8 265.2 38.8 268.8C39.8 272.4 41.3 276 43 279.4C44.7 282.8 46.8 286.2 49 289.4C51.2 292.6 55.1 297 56.3 298.5" stroke-width="0.7" stroke-opacity="0.4"/><path d="M91.7 195C90 195.7 84.8 197.7 81.4 199.3C78.1 200.9 74.7 202.7 71.6 204.7C68.4 206.7 65.3 208.9 62.5 211.3C59.7 213.7 57 216.3 54.6 219.1C52.3 221.9 50.2 224.8 48.4 227.9C46.6 231 45.1 234.3 43.9 237.6C42.8 241 42 244.5 41.5 248C41 251.4 40.9 255 41.1 258.6C41.3 262.1 41.8 265.7 42.6 269.2C43.4 272.7 44.6 276.1 45.9 279.5C47.2 282.9 48.9 286.2 50.6 289.3C52.3 292.5 55.3 297 56.3 298.5" stroke-width="1.1" stroke-opacity="0.6"/><path d="M91.7 195C92.1 187.7 88.7 162.6 93.7 151C98.6 139.4 110.6 131.6 121.4 125.4C132.1 119.2 145.7 116.5 158.2 114C170.8 111.4 183.9 110.1 196.8 110C209.6 110 222.8 111.2 235.4 113.7C247.9 116.2 260.5 120 272.3 124.8C284.1 129.7 295.5 135.9 306 143C316.4 150.1 326.2 158.4 334.9 167.4C343.5 176.3 351.3 186.4 357.8 196.8C364.3 207.3 371.3 218.5 373.7 230.2C376.1 241.9 378.1 255.5 372.2 266.9C366.4 278.3 344.3 293.2 338.7 298.5" stroke-width="1" stroke-opacity="0.5"/><path d="M91.7 195C92.4 188.1 90.5 164.7 95.5 153.4C100.6 142 111.6 133.5 122.1 126.8C132.5 120.1 145.6 116.4 158 113.2C170.5 110 183.8 108.1 196.8 107.6C209.8 107.2 223.2 108.2 236.1 110.5C248.9 112.8 261.9 116.6 273.9 121.6C285.9 126.5 297.6 133 308.1 140.3C318.5 147.7 328.4 156.4 336.8 165.8C345.2 175.1 352.7 185.6 358.6 196.4C364.5 207.3 370.4 218.9 372.2 230.7C373.9 242.5 374.7 255.9 369.1 267.2C363.5 278.5 343.8 293.3 338.7 298.5" stroke-width="1.1" stroke-opacity="0.3"/><path d="M91.7 195C88.4 195.6 77.9 196.8 71.8 198.9C65.7 201 59.9 204.1 55 207.6C50.1 211.1 46 215.6 42.4 220.1C38.7 224.6 35.6 229.7 33 234.8C30.3 239.9 28 245.4 26.3 250.9C24.7 256.4 23.5 262.1 22.8 267.8C22.2 273.5 22.1 279.4 22.6 285.1C23 290.8 24 296.6 25.5 302.1C27 307.7 28.9 313.2 31.5 318.3C34.1 323.5 37.1 328.6 41.1 333C45.1 337.4 50.2 341.5 55.7 344.7C61.2 348 71.2 351.2 74.3 352.5" stroke-width="1.2" stroke-opacity="0.4"/><path d="M91.7 195C87.8 195.3 75.5 195.1 68.3 196.6C61.1 198.2 53.8 200.7 48.5 204.2C43.3 207.8 40 212.9 37 217.9C34 222.9 32.4 228.6 30.5 234.1C28.6 239.5 27 245.1 25.8 250.8C24.5 256.4 23.6 262.1 22.9 267.9C22.3 273.6 22 279.4 22 285.1C22 290.9 22.3 296.7 22.9 302.4C23.6 308.1 23.9 314 25.8 319.5C27.7 324.9 29.8 330.6 34.1 335.1C38.4 339.6 45 343.5 51.7 346.4C58.4 349.3 70.6 351.5 74.3 352.5" stroke-width="0.7" stroke-opacity="0.3"/><path d="M91.7 195C88.4 195.6 78.1 196.9 71.7 198.9C65.3 200.8 58.8 203.4 53.4 206.8C48.1 210.1 43.1 214.3 39.5 218.9C35.8 223.5 33.7 229 31.6 234.4C29.5 239.7 28.1 245.4 26.9 251C25.6 256.6 24.7 262.3 24.1 268C23.4 273.6 23.1 279.4 23.1 285.1C23.1 290.8 23.2 296.6 24.1 302.3C25 307.9 25.8 313.7 28.4 319C31 324.2 34.9 329.2 39.4 333.5C43.9 337.8 49.8 341.6 55.6 344.8C61.4 348 71.2 351.2 74.3 352.5" stroke-width="0.5" stroke-opacity="0.5"/><path d="M91.7 195C93.8 188.3 96.6 166 104.1 155C111.6 144.1 124.5 136.2 136.8 129.4C149.1 122.7 163.4 117.5 177.7 114.4C192 111.3 207.6 110.2 222.6 111.1C237.5 112 253.1 115 267.3 119.8C281.6 124.6 295.8 131.6 308.1 140C320.4 148.4 332 158.8 341.4 170C350.8 181.2 358.7 194.1 364.4 207.2C370 220.2 373.7 234.6 375.1 248.3C376.5 262.1 375.8 276.6 372.8 289.8C369.8 302.9 365.9 317 357.1 327.3C348.4 337.6 326.4 347.4 320.2 351.4" stroke-width="1.5" stroke-opacity="0.6"/><path d="M91.7 195C92.9 187.2 91.7 159.8 98.9 148C106 136.2 121.5 129.7 134.7 124.1C147.8 118.6 163.2 116.1 177.7 114.6C192.3 113.1 207.5 113.3 222 115.1C236.5 117 251.1 120.6 264.7 125.8C278.3 130.9 291.6 137.8 303.5 145.8C315.4 153.9 326.6 163.6 336 174.1C345.5 184.7 353.8 196.6 360.3 209C366.8 221.4 371.8 234.9 374.9 248.4C378.1 261.9 380.5 276.4 379.1 289.9C377.6 303.5 376 319.4 366.2 329.6C356.4 339.9 327.9 347.8 320.2 351.4" stroke-width="0.5" stroke-opacity="0.5"/><path d="M91.7 195C86.9 195.7 71 196.3 62.5 199.4C54.1 202.4 46.5 207.7 41 213.4C35.4 219.1 32.3 226.6 29.1 233.8C25.8 240.9 23.3 248.5 21.4 256.1C19.6 263.7 18.4 271.6 17.9 279.4C17.4 287.2 17.6 295.2 18.4 303C19.3 310.8 20.9 318.7 23.1 326.2C25.4 333.8 28.3 341.3 31.8 348.3C35.3 355.4 39.5 362.3 44.2 368.7C49 375 53.7 381.7 60.4 386.3C67.1 390.8 75.5 394.4 84.4 395.8C93.3 397.2 108.8 394.8 113.7 394.6" stroke-width="1.9" stroke-opacity="0.5"/><path d="M91.7 195C87.7 196.2 74.5 198.7 67.5 202.4C60.5 206.1 54.9 211.7 49.6 217.2C44.3 222.8 39.6 229.1 35.7 235.7C31.8 242.3 28.5 249.5 26.1 256.8C23.7 264.1 22 271.8 21.3 279.5C20.5 287.1 20.5 295.1 21.4 302.7C22.2 310.4 23.9 318.2 26.4 325.5C28.9 332.8 32.2 340.1 36.2 346.7C40.2 353.4 44.9 359.8 50.2 365.5C55.5 371.2 61.5 376.5 67.9 380.9C74.3 385.3 80.9 389.7 88.6 391.9C96.2 394.2 109.5 394.2 113.7 394.6" stroke-width="0.5" stroke-opacity="0.5"/><path d="M91.7 195C87.5 196.1 73.8 198.2 66.5 201.8C59.2 205.4 53.4 210.9 47.9 216.5C42.4 222 37.5 228.4 33.4 235C29.3 241.7 25.9 249 23.4 256.4C20.9 263.8 19.2 271.6 18.3 279.4C17.5 287.2 17.5 295.2 18.4 303C19.3 310.8 21 318.7 23.6 326.1C26.1 333.6 29.6 340.9 33.7 347.7C37.8 354.4 42.7 360.9 48.2 366.6C53.6 372.3 59.8 377.6 66.4 382C73 386.3 79.8 390.6 87.7 392.7C95.6 394.9 109.4 394.3 113.7 394.6" stroke-width="0.7" stroke-opacity="0.5"/><path d="M91.7 195C85 197.8 62 203.6 51.4 212C40.8 220.4 34 233.3 28.2 245.6C22.5 257.8 18.7 271.7 17 285.3C15.4 299 15.9 313.6 18.5 327.4C21 341.1 25.9 355.2 32.5 367.9C39.1 380.6 47.9 393 58 403.5C68.1 414 80.2 423.6 92.9 431.1C105.6 438.6 120 444.7 134.3 448.6C148.5 452.4 163.9 454.5 178.4 454.4C193 454.3 208.1 452.2 221.5 448.2C234.9 444.2 249.2 439.2 259.1 430.2C269 421.3 277.1 400.6 280.7 394.7" stroke-width="1.2" stroke-opacity="0.3"/><path d="M91.7 195C82.4 196.6 48.2 196.5 36 204.6C23.9 212.7 22.6 230 18.8 243.4C15.1 256.9 13.4 271.4 13.5 285.3C13.5 299.3 15.4 313.7 19 327.2C22.6 340.8 28.1 354.3 35.1 366.6C42.1 379 50.9 390.8 60.8 401.2C70.7 411.6 82.3 421.1 94.6 428.9C106.9 436.7 120.5 443.3 134.5 448.1C148.4 452.9 163.3 456.1 178.1 457.6C192.8 459.1 208.2 459.1 222.8 456.9C237.4 454.8 255.9 455.3 265.6 444.9C275.2 434.5 278.2 403 280.7 394.7" stroke-width="1.1" stroke-opacity="0.5"/><path d="M91.7 195C85.7 196.1 65.5 197 55.4 201.5C45.2 205.9 36.9 213.8 30.9 221.8C24.8 229.7 22 239.8 19.2 249.4C16.3 258.9 14.6 269 13.8 278.9C13 288.9 13.3 299.1 14.5 309C15.8 319 18.1 329 21.4 338.6C24.7 348.1 29 357.5 34.1 366.3C39.3 375.1 45.4 383.5 52.2 391.2C59 398.8 66.7 406 74.9 412.2C83.1 418.4 91.7 425 101.5 428.1C111.3 431.3 123 433.1 133.9 431.1C144.8 429.1 161.6 418.7 167.1 416.2" stroke-width="0.6" stroke-opacity="0.5"/><path d="M91.7 195C85.4 195.9 64.1 196.2 54 200.7C43.9 205.1 37 213.7 30.9 221.8C24.8 229.8 20.9 239.5 17.5 249C14.1 258.6 11.8 268.7 10.6 278.8C9.5 288.9 9.5 299.4 10.6 309.6C11.7 319.7 14 330 17.4 339.8C20.7 349.5 25.2 359.2 30.6 368C36 376.9 42.5 385.4 49.7 393C56.9 400.5 65.1 407.5 73.8 413.4C82.4 419.2 91.6 424.9 101.5 428.1C111.4 431.3 122.3 434.5 133.3 432.5C144.2 430.5 161.5 418.9 167.1 416.2" stroke-width="1.1" stroke-opacity="0.6"/><path d="M91.7 195C83.6 196.1 54.8 195.3 43 201.4C31.2 207.5 26 220.5 21.1 231.5C16.1 242.4 14.4 255.2 13.1 267.2C11.8 279.2 11.9 291.7 13.2 303.7C14.6 315.7 17.4 327.8 21.4 339.3C25.4 350.8 30.7 362.2 37.2 372.6C43.6 383.1 51.4 393.1 60 402.1C68.6 411.1 78.4 419.4 88.7 426.5C99.1 433.6 110.6 439.8 122.3 444.7C134 449.6 146.5 454.6 159.1 455.9C171.6 457.3 186.3 459.5 197.5 452.9C208.8 446.3 221.9 422.3 226.8 416.2" stroke-width="1" stroke-opacity="0.5"/><path d="M91.7 195C85 196.8 61.4 199.2 51.2 205.7C41.1 212.3 36.3 224.1 31 234.4C25.7 244.7 21.9 256.3 19.6 267.8C17.3 279.3 16.4 291.5 17.1 303.3C17.8 315.1 20 327.3 23.6 338.7C27.2 350.1 32.4 361.5 38.8 371.8C45.1 382.1 53 392 61.7 400.7C70.4 409.3 80.5 417.2 91.1 423.6C101.6 430 113.2 435.4 124.9 439.2C136.6 443 149.2 445.7 161.3 446.5C173.4 447.3 186.6 449.1 197.5 444.1C208.5 439.1 221.9 420.8 226.8 416.2" stroke-width="0.9" stroke-opacity="0.6"/><path d="M303.2 193.9C302.8 188.2 304.5 168.8 300.7 159.3C296.8 149.9 288 143.4 280 137.3C272.1 131.1 262.4 126.4 252.8 122.4C243.2 118.5 232.8 115.4 222.4 113.4C211.9 111.4 201 110.4 190.3 110.5C179.6 110.6 168.6 111.7 158.1 113.9C147.6 116 137.1 119.3 127.3 123.4C117.5 127.5 108 132.7 99.4 138.6C90.8 144.5 82.7 151.3 75.8 158.7C68.8 166.1 62.1 174.2 57.6 182.9C53 191.7 47.9 201 48.6 211.2C49.4 221.3 59.7 238.5 62 243.9" stroke-width="0.6" stroke-opacity="0.4"/><path d="M303.2 193.9C302.4 188.6 302.4 171.1 298.2 162.2C294 153.4 285.7 147 278 140.7C270.3 134.5 261.3 129.1 252 124.7C242.7 120.4 232.4 117 222.2 114.8C211.9 112.6 201 111.4 190.3 111.3C179.7 111.3 168.7 112.3 158.2 114.5C147.8 116.6 137.3 119.9 127.7 124.1C118 128.4 108.6 133.7 100.3 139.8C91.9 145.8 84.1 152.9 77.6 160.5C71 168.1 65.2 176.6 61 185.3C56.8 194.1 52.1 203.1 52.2 212.9C52.4 222.7 60.3 238.8 62 243.9" stroke-width="0.7" stroke-opacity="0.4"/><path d="M303.2 193.9C302.2 188.8 301.6 171.9 297.3 163.3C292.9 154.7 284.7 148.5 277.1 142.4C269.4 136.3 260.5 131.1 251.2 126.9C242 122.7 231.9 119.4 221.8 117.3C211.7 115.1 200.9 114 190.4 114C179.9 113.9 169.1 115 158.9 117.1C148.6 119.2 138.3 122.5 128.8 126.6C119.2 130.7 110 136 101.7 141.9C93.5 147.8 85.7 154.8 79.2 162.2C72.7 169.7 66.9 177.9 62.6 186.5C58.4 195 53.7 204 53.6 213.5C53.5 223.1 60.6 238.9 62 243.9" stroke-width="0.5" stroke-opacity="0.4"/><path d="M303.2 193.9C304 194.4 306.3 195.6 307.9 196.5C309.4 197.4 310.9 198.4 312.4 199.4C313.8 200.4 315.3 201.5 316.6 202.6C318 203.7 319.3 204.9 320.5 206.1C321.7 207.4 322.8 208.7 323.9 210C324.9 211.4 325.9 212.8 326.8 214.3C327.6 215.7 328.4 217.3 329.1 218.8C329.7 220.4 330.3 222 330.8 223.6C331.3 225.2 331.6 226.9 331.9 228.6C332.2 230.2 332.4 232 332.5 233.7C332.7 235.4 332.7 237.1 332.7 238.8C332.7 240.5 332.6 243.1 332.5 243.9" stroke-width="1.2" stroke-opacity="0.3"/><path d="M303.2 193.9C304 194.3 306.5 195.5 308.1 196.4C309.7 197.2 311.3 198.1 312.8 199.1C314.3 200.1 315.8 201.1 317.2 202.2C318.6 203.3 320 204.5 321.2 205.7C322.5 206.9 323.7 208.2 324.8 209.5C325.8 210.9 326.8 212.3 327.7 213.8C328.6 215.3 329.3 216.8 330 218.4C330.6 219.9 331.2 221.6 331.6 223.2C332 224.9 332.4 226.6 332.6 228.3C332.8 230 333 231.7 333 233.5C333.1 235.2 333 237 333 238.7C332.9 240.5 332.6 243.1 332.5 243.9" stroke-width="0.7" stroke-opacity="0.3"/><path d="M303.2 193.9C304 194.3 306.5 195.5 308.1 196.4C309.7 197.2 311.2 198.2 312.8 199.1C314.3 200.1 315.8 201.1 317.2 202.2C318.6 203.3 320 204.5 321.2 205.7C322.5 206.9 323.7 208.2 324.7 209.6C325.8 210.9 326.8 212.3 327.7 213.8C328.5 215.3 329.3 216.8 329.9 218.4C330.6 220 331.1 221.6 331.6 223.2C332 224.9 332.3 226.6 332.6 228.3C332.8 230 332.9 231.8 333 233.5C333.1 235.2 333 237 332.9 238.7C332.9 240.5 332.6 243.1 332.5 243.9" stroke-width="0.5" stroke-opacity="0.4"/><path d="M303.2 193.9C301.9 187.7 301.2 167 295.6 156.7C289.9 146.5 279.4 138.5 269.2 132.3C259 126.2 246.5 122.7 234.6 119.8C222.6 116.9 209.9 115.2 197.5 114.8C185 114.5 172.2 115.5 159.9 117.8C147.7 120.1 135.3 123.8 123.9 128.6C112.5 133.4 101.3 139.5 91.3 146.6C81.3 153.6 71.9 162 63.8 170.9C55.7 179.8 48.6 189.8 42.9 200.2C37.2 210.5 31.5 221.6 29.6 232.9C27.7 244.2 27 256.9 31.4 267.8C35.9 278.8 52.2 293.4 56.3 298.5" stroke-width="2.3" stroke-opacity="0.6"/><path d="M303.2 193.9C302.5 186.9 304.1 164 299.3 152C294.5 140 284.6 129 274.2 122C263.8 115.1 249.5 112.9 236.7 110.3C224 107.7 210.6 106.4 197.5 106.4C184.4 106.4 171 107.8 158.2 110.3C145.4 112.9 132.6 116.8 120.6 121.8C108.6 126.8 97 133.1 86.4 140.4C75.8 147.6 65.7 156.1 57 165.2C48.2 174.4 40.2 184.6 33.7 195.3C27.1 206 19.2 217.3 17.8 229.3C16.4 241.3 18.6 255.7 25 267.2C31.4 278.7 51.1 293.3 56.3 298.5" stroke-width="0.7" stroke-opacity="0.5"/><path d="M303.2 193.9C302.2 187.4 302.8 165.1 297.1 154.8C291.4 144.6 279.5 138.4 269.1 132.5C258.7 126.7 246.4 122.9 234.5 120C222.6 117.1 209.9 115.4 197.5 115.1C185 114.8 172.2 115.8 160 118.1C147.7 120.4 135.4 124 124 128.8C112.6 133.6 101.5 139.8 91.5 146.8C81.5 153.8 72.1 162.1 64 171.1C56 180 48.8 190 43.1 200.3C37.4 210.6 32.2 221.7 29.9 233C27.5 244.2 24.4 256.7 28.8 267.6C33.3 278.5 51.7 293.3 56.3 298.5" stroke-width="0.9" stroke-opacity="0.3"/><path d="M303.2 193.9C305.1 194.5 311.1 196 314.9 197.3C318.7 198.7 322.6 200.3 326.2 202.1C329.7 204 333.2 206.1 336.4 208.5C339.5 210.8 342.4 213.5 344.9 216.4C347.4 219.2 349.5 222.4 351.3 225.6C353 228.9 354.2 232.4 355.4 235.8C356.6 239.3 357.8 242.8 358.4 246.4C359 250 359.3 253.7 359 257.4C358.8 261.1 358.1 264.8 357 268.5C355.9 272.1 354.4 275.8 352.6 279.2C350.8 282.7 348.6 286.1 346.3 289.3C344 292.5 340 297 338.7 298.5" stroke-width="0.6" stroke-opacity="0.3"/><path d="M303.2 193.9C305.1 194.5 311.1 196 314.9 197.4C318.6 198.8 322.4 200.4 325.8 202.4C329.2 204.3 332.4 206.6 335.1 209.2C337.8 211.7 340 214.7 341.9 217.7C343.8 220.7 345.1 224.1 346.5 227.4C347.9 230.7 349.2 234 350.4 237.4C351.5 240.7 352.6 244.1 353.5 247.6C354.4 251 355.4 254.4 355.7 258C356.1 261.5 356.1 265.1 355.5 268.6C354.9 272.2 353.7 275.8 352.1 279.2C350.6 282.7 348.5 286.1 346.2 289.3C344 292.5 340 297 338.7 298.5" stroke-width="1.1" stroke-opacity="0.3"/><path d="M303.2 193.9C303 184.6 308.9 151.1 302 138.3C295.1 125.4 276.1 122.2 262 117.1C247.8 111.9 232.2 108.9 217 107.4C201.8 105.9 186 106.2 170.9 108.2C155.8 110.2 140.5 114.1 126.3 119.5C112.2 124.9 98.4 132.1 86 140.6C73.7 149.1 62.1 159.2 52.3 170.3C42.5 181.3 33.9 193.8 27.2 206.7C20.5 219.6 15.3 233.7 12.2 247.8C9 261.9 7.3 276.8 8.1 291.1C9 305.4 6.2 323.3 17.2 333.5C28.3 343.8 64.8 349.3 74.3 352.5" stroke-width="1" stroke-opacity="0.6"/><path d="M303.2 193.9C301 187.3 297.9 165.1 290.2 154.2C282.6 143.4 269.6 135.6 257.3 128.9C244.9 122.2 230.6 117.1 216.2 114.2C201.9 111.2 186.3 110.2 171.3 111.2C156.4 112.2 140.9 115.3 126.6 120.2C112.4 125.1 98.3 132.2 86 140.6C73.7 149 62.2 159.5 52.9 170.7C43.6 182 35.7 194.9 30.1 208C24.6 221.1 20.9 235.5 19.5 249.2C18.1 263 18.9 277.5 22 290.7C25 303.8 28.9 317.9 37.7 328.2C46.4 338.5 68.2 348.4 74.3 352.5" stroke-width="1.1" stroke-opacity="0.4"/><path d="M303.2 193.9C307 194.3 319 194.3 326 196C333 197.6 339.8 200.4 344.9 203.9C350.1 207.5 353.6 212.4 357 217.2C360.4 222.1 363.1 227.4 365.5 232.8C367.9 238.1 370 243.7 371.5 249.3C373.1 255 374.3 260.8 374.9 266.6C375.6 272.4 375.8 278.3 375.5 284.2C375.3 290 374.5 295.9 373.4 301.6C372.2 307.3 370.8 313 368.6 318.4C366.3 323.8 364 329.3 359.7 333.8C355.3 338.3 349.2 342.3 342.6 345.2C336.1 348.2 324 350.4 320.2 351.4" stroke-width="0.8" stroke-opacity="0.6"/><path d="M303.2 193.9C306.3 194.7 316.1 196.4 321.9 198.7C327.8 200.9 333.5 203.9 338.3 207.4C343.1 211 347.3 215.3 350.6 219.9C354 224.4 356.3 229.7 358.5 234.8C360.8 240 362.7 245.4 364.1 250.8C365.6 256.2 366.6 261.8 367.3 267.4C367.9 272.9 368.1 278.6 367.9 284.2C367.7 289.8 367.1 295.4 366 300.9C365 306.4 363.9 312 361.6 317.1C359.3 322.2 356.2 327.3 352.2 331.6C348.3 336 343.2 340 337.9 343.3C332.5 346.6 323.2 350.1 320.2 351.4" stroke-width="1.1" stroke-opacity="0.4"/><path d="M303.2 193.9C311.9 195.8 342.6 197.3 355.6 205.2C368.6 213.1 376 228.2 381.3 241.4C386.5 254.7 387 270.3 387 284.7C387 299.1 385.1 313.9 381.4 327.9C377.8 341.9 372.1 355.9 364.9 368.6C357.8 381.4 348.7 393.6 338.5 404.4C328.2 415.1 316.3 424.9 303.6 433C290.9 441 276.8 447.8 262.4 452.8C248 457.7 232.6 461.1 217.3 462.6C202.1 464.1 185.6 465.3 171.1 461.8C156.6 458.4 139.9 453.1 130.3 441.9C120.7 430.7 116.5 402.5 113.7 394.6" stroke-width="1" stroke-opacity="0.6"/><path d="M303.2 193.9C310.6 196.5 336.3 200.9 347.3 209.2C358.4 217.6 364.2 231.6 369.4 244.2C374.7 256.7 377.7 270.9 378.9 284.7C380 298.5 379.1 313 376.2 326.7C373.3 340.5 368.3 354.4 361.6 367C354.9 379.6 346 391.8 336 402.4C326 412.9 314 422.5 301.5 430.1C288.9 437.7 274.7 444 260.5 448.1C246.4 452.3 231.1 454.7 216.5 455.2C201.9 455.6 186.6 454.3 172.8 450.8C159 447.2 143.7 443.3 133.8 433.9C124 424.6 117.1 401.2 113.7 394.6" stroke-width="1.1" stroke-opacity="0.6"/><path d="M303.2 193.9C308.7 194.3 327.1 193.2 336.3 196C345.6 198.7 353.3 204.4 358.6 210.5C363.9 216.6 365.5 224.9 368.1 232.4C370.7 239.9 372.8 247.7 374.2 255.4C375.7 263.2 376.6 271.1 376.9 279C377.2 286.9 376.9 294.9 376 302.7C375.1 310.6 373.6 318.4 371.6 326.1C369.6 333.7 367 341.3 363.8 348.6C360.7 355.9 357 363.1 352.8 369.9C348.6 376.7 345.2 384.6 338.6 389.5C332.1 394.4 323.3 398.4 313.6 399.3C304 400.1 286.2 395.4 280.7 394.7" stroke-width="1.9" stroke-opacity="0.5"/><path d="M303.2 193.9C308.4 194.5 325.7 194.2 334.4 197.2C343.1 200.2 349.6 206.1 355.4 211.9C361.3 217.7 365.5 224.9 369.5 232C373.4 239.2 376.7 246.9 379.1 254.6C381.5 262.4 383.1 270.7 383.9 278.8C384.7 286.9 384.6 295.3 383.7 303.4C382.8 311.6 381 319.8 378.4 327.6C375.9 335.4 372.5 343.1 368.4 350.3C364.3 357.4 359.4 364.3 354 370.5C348.6 376.7 342.8 382.9 335.8 387.5C328.8 392 321.1 396.5 312 397.7C302.8 398.9 285.9 395.2 280.7 394.7" stroke-width="0.5" stroke-opacity="0.6"/><path d="M303.2 193.9C310.5 195.4 335.7 196.7 347.2 203C358.8 209.2 366.5 220.6 372.4 231.2C378.4 241.8 380.9 254.5 383 266.6C385 278.7 385.6 291.4 384.6 303.7C383.7 316 381.2 328.5 377.3 340.4C373.4 352.2 368 364 361.4 374.7C354.8 385.4 346.6 395.7 337.6 404.7C328.7 413.8 318.3 422.1 307.5 428.9C296.6 435.8 284.6 441.6 272.5 445.9C260.3 450.3 247.3 454.5 234.6 454.8C222 455.2 207.6 454.6 196.3 448.2C185.1 441.7 172 421.5 167.1 416.2" stroke-width="0.8" stroke-opacity="0.5"/><path d="M303.2 193.9C312.5 194.4 346.5 190.8 358.9 196.8C371.3 202.7 373.2 218.1 377.7 229.7C382.2 241.3 384.6 254 386 266.3C387.3 278.7 387.3 291.5 385.9 303.8C384.6 316.2 381.7 328.7 377.6 340.5C373.5 352.3 368 363.9 361.4 374.7C354.7 385.4 346.7 395.7 337.9 404.9C329 414.1 318.9 422.7 308.2 429.9C297.5 437.2 285.8 443.5 273.7 448.5C261.6 453.5 248.7 457.8 235.8 459.9C222.9 461.9 207.7 468.1 196.2 460.8C184.8 453.6 172 423.6 167.1 416.2" stroke-width="0.5" stroke-opacity="0.5"/><path d="M303.2 193.9C310.5 195.5 335.2 197 346.8 203.2C358.3 209.4 366.4 220.7 372.4 231.2C378.5 241.8 380.9 254.5 383 266.6C385 278.7 385.6 291.4 384.6 303.7C383.7 316 381.2 328.5 377.3 340.4C373.4 352.2 368 364 361.4 374.7C354.8 385.4 346.6 395.7 337.6 404.7C328.7 413.8 318.3 422.1 307.5 428.9C296.6 435.8 284.6 441.6 272.5 445.9C260.3 450.3 247.3 454.6 234.6 454.8C222 455.1 207.6 454.1 196.3 447.6C185.1 441.2 172 421.4 167.1 416.2" stroke-width="0.9" stroke-opacity="0.3"/><path d="M303.2 193.9C309.3 195 329.6 195.9 340.1 200.3C350.7 204.6 359.9 212.2 366.5 220.2C373.1 228.2 376.7 238.4 379.8 248.1C383 257.8 384.7 268.3 385.6 278.5C386.4 288.7 386.2 299.3 384.9 309.5C383.6 319.8 381.2 330.1 377.8 340C374.4 349.8 369.9 359.5 364.6 368.5C359.3 377.5 352.9 386.2 345.9 394.1C338.8 401.9 331 409.4 322.3 415.6C313.7 421.7 304.5 428 294.1 430.8C283.8 433.6 271.6 434.6 260.4 432.1C249.1 429.7 232.4 418.9 226.8 416.2" stroke-width="1.5" stroke-opacity="0.4"/><path d="M303.2 193.9C309 195.2 328.1 196.9 337.7 201.6C347.3 206.3 354.7 214.4 360.7 222.3C366.8 230.2 370.9 239.8 374.2 249.2C377.6 258.6 379.7 268.7 380.8 278.7C381.9 288.6 381.9 299 380.8 309C379.6 319.1 377.3 329.2 374 338.9C370.7 348.5 366.3 358 360.9 366.7C355.6 375.5 349.2 383.9 342.1 391.4C335 398.9 327 405.8 318.4 411.6C309.9 417.3 300.6 422.8 290.8 425.9C280.9 428.9 270 431.3 259.3 429.7C248.6 428.1 232.2 418.4 226.8 416.2" stroke-width="0.7" stroke-opacity="0.5"/><path d="M303.2 193.9C309.2 195.1 329.2 196.2 339.2 200.8C349.2 205.4 356.9 213.4 363.3 221.4C369.7 229.3 374.1 239 377.6 248.5C381.2 258.1 383.4 268.4 384.6 278.5C385.7 288.7 385.8 299.3 384.6 309.5C383.5 319.8 381.2 330.1 377.8 340C374.4 349.8 369.9 359.5 364.4 368.4C358.9 377.3 352.4 385.9 345.1 393.5C337.8 401.1 329.6 408.2 320.8 414C312 419.8 302.4 425.2 292.3 428.1C282.1 430.9 270.9 433.2 260 431.2C249 429.2 232.3 418.7 226.8 416.2" stroke-width="0.5" stroke-opacity="0.4"/><path d="M62 243.9C59.8 237.5 49.3 217.3 49.1 205C48.9 192.6 54 179.7 60.7 169.8C67.4 159.9 78.9 152.5 89.2 145.4C99.5 138.3 110.9 132.1 122.5 127.1C134.2 122.2 146.6 118.4 159.1 115.9C171.6 113.3 184.6 112 197.4 112C210.2 112 223.2 113.3 235.7 115.8C248.2 118.3 260.6 122.2 272.3 127.1C283.9 132 295.3 138.2 305.6 145.3C315.9 152.4 327.4 159.8 334.1 169.7C340.8 179.6 345.9 192.5 345.6 204.9C345.4 217.3 334.7 237.4 332.5 243.9" stroke-width="1.2" stroke-opacity="0.5"/><path d="M62 243.9C58.1 236.6 39.9 212.7 39 199.7C38 186.7 48.4 175.9 56.1 166.1C63.9 156.3 75 148.2 85.6 140.9C96.2 133.5 108 127.1 120 122C132 117 144.9 113 157.8 110.4C170.7 107.8 184.2 106.4 197.4 106.4C210.6 106.4 224.1 107.8 237 110.3C249.9 112.9 262.7 116.9 274.8 122C286.8 127 298.6 133.4 309.2 140.8C319.9 148.1 330.9 156.1 338.7 165.9C346.5 175.7 356.9 186.5 355.9 199.5C354.8 212.5 336.4 236.5 332.5 243.9" stroke-width="0.7" stroke-opacity="0.5"/><path d="M62 243.9C60.5 237.8 52.6 218.7 53.4 207.2C54.3 195.7 60.7 184.9 66.9 174.9C73.1 164.8 81.3 155.2 90.5 146.9C99.6 138.7 110.4 131.3 121.7 125.4C132.9 119.6 145.5 114.9 158.2 111.8C170.8 108.8 184.3 107.2 197.4 107.2C210.5 107.2 224 108.7 236.6 111.8C249.2 114.8 261.9 119.5 273.1 125.3C284.4 131.2 295.2 138.6 304.3 146.8C313.5 155.1 321.7 164.7 327.9 174.8C334 184.8 340.5 195.6 341.3 207.1C342.1 218.7 334 237.8 332.5 243.9" stroke-width="0.5" stroke-opacity="0.6"/><path d="M62 243.9C61.4 244.6 59.6 246.5 58.5 247.8C57.3 249.1 56.2 250.5 55.2 251.9C54.2 253.3 53.2 254.7 52.4 256.2C51.5 257.6 50.7 259.1 50.1 260.7C49.5 262.2 48.9 263.8 48.5 265.3C48.1 266.9 47.8 268.5 47.6 270.1C47.4 271.8 47.4 273.4 47.5 275C47.5 276.6 47.8 278.3 48.1 279.9C48.4 281.5 48.8 283.1 49.4 284.7C49.9 286.3 50.6 287.9 51.3 289.5C52 291 52.8 292.6 53.6 294.1C54.5 295.6 55.9 297.8 56.3 298.5" stroke-width="1.2" stroke-opacity="0.4"/><path d="M62 243.9C61.4 244.6 59.6 246.5 58.5 247.8C57.4 249.2 56.3 250.5 55.3 251.9C54.3 253.3 53.4 254.7 52.6 256.2C51.7 257.7 51 259.2 50.3 260.7C49.7 262.2 49.1 263.8 48.7 265.4C48.3 267 48 268.6 47.8 270.2C47.7 271.8 47.6 273.4 47.7 275C47.8 276.7 48 278.3 48.3 279.9C48.6 281.5 49 283.1 49.6 284.7C50.1 286.3 50.7 287.9 51.4 289.5C52.1 291 52.9 292.5 53.7 294.1C54.5 295.6 55.9 297.8 56.3 298.5" stroke-width="1.1" stroke-opacity="0.5"/><path d="M62 243.9C61.4 244.6 59.6 246.5 58.5 247.8C57.4 249.1 56.3 250.5 55.3 251.9C54.3 253.3 53.3 254.7 52.5 256.2C51.6 257.7 50.9 259.2 50.2 260.7C49.6 262.2 49 263.8 48.6 265.4C48.2 266.9 47.9 268.5 47.7 270.2C47.6 271.8 47.5 273.4 47.6 275C47.7 276.6 47.9 278.3 48.2 279.9C48.5 281.5 49 283.1 49.5 284.7C50 286.3 50.7 287.9 51.4 289.5C52.1 291 52.8 292.5 53.7 294.1C54.5 295.6 55.9 297.8 56.3 298.5" stroke-width="1.1" stroke-opacity="0.6"/><path d="M62 243.9C58.4 235.6 40 208.2 40.6 193.7C41.1 179.3 54.9 167.8 65.1 157.3C75.3 146.8 88.6 138.1 101.8 130.9C115 123.6 129.6 117.7 144.2 113.6C158.9 109.6 174.6 107.2 189.8 106.6C205.1 106 220.9 107.2 235.9 110.1C250.9 113.1 265.9 117.8 279.7 124.1C293.5 130.3 306.8 138.4 318.6 147.6C330.3 156.8 341.2 167.7 350.3 179.3C359.3 190.9 367.9 203.9 372.9 217.3C377.8 230.7 385.6 246.5 379.9 260C374.2 273.5 345.6 292.1 338.7 298.5" stroke-width="0.8" stroke-opacity="0.4"/><path d="M62 243.9C61.5 237.3 56.6 216.7 59.4 204.4C62.2 192 70.4 180.4 78.7 170C86.9 159.6 97.6 149.9 109 142.1C120.4 134.2 133.7 127.6 147.3 123C160.8 118.4 175.7 115.4 190.2 114.5C204.7 113.5 220 114.5 234.3 117.3C248.6 120.1 263 124.9 275.9 131.2C288.8 137.5 301.2 145.9 311.7 155.2C322.2 164.5 331.6 175.5 338.7 187C345.9 198.5 351.6 211.4 354.7 224.1C357.9 236.7 360.6 250.5 357.9 262.9C355.2 275.3 341.9 292.6 338.7 298.5" stroke-width="0.9" stroke-opacity="0.4"/><path d="M62 243.9C58 235.4 37.5 206.7 38.2 192.4C38.9 178.2 55.5 168.4 66.3 158.4C77 148.4 89.6 139.4 102.7 132.2C115.8 125 130.2 119.1 144.7 115.1C159.3 111.1 174.8 108.7 189.9 108.1C205.1 107.6 220.7 108.8 235.6 111.7C250.4 114.6 265.3 119.3 278.9 125.5C292.6 131.7 305.8 139.7 317.5 148.8C329.1 158 339.9 168.7 348.9 180.2C357.8 191.8 365.6 204.7 371.3 217.9C376.9 231.1 388.1 246.2 382.7 259.6C377.2 273.1 346 292 338.7 298.5" stroke-width="0.9" stroke-opacity="0.4"/><path d="M62 243.9C60.3 245.2 55 248.7 51.9 251.3C48.8 254 45.8 256.9 43.3 259.9C40.8 263 38.6 266.3 37.1 269.7C35.5 273 34.5 276.6 33.9 280.2C33.4 283.7 33.7 287.3 33.8 290.9C33.9 294.5 34.2 298 34.6 301.6C35 305.1 35.5 308.7 36.2 312.2C36.9 315.7 37.4 319.3 38.8 322.7C40.1 326 41.9 329.3 44.2 332.3C46.5 335.3 49.4 338.1 52.5 340.6C55.6 343.1 59.2 345.3 62.9 347.3C66.5 349.3 72.4 351.6 74.3 352.5" stroke-width="2.3" stroke-opacity="0.6"/><path d="M62 243.9C60.5 245.2 56 248.9 53.3 251.6C50.6 254.4 48 257.3 45.7 260.3C43.5 263.4 41.5 266.6 39.9 269.9C38.3 273.3 37.1 276.7 36.3 280.2C35.6 283.7 35.4 287.3 35.4 290.8C35.4 294.4 35.8 297.9 36.2 301.4C36.6 304.9 37 308.5 37.8 311.9C38.6 315.4 39.6 318.9 41.1 322.1C42.6 325.4 44.6 328.5 46.9 331.5C49.2 334.4 51.9 337.2 54.8 339.7C57.7 342.2 60.9 344.6 64.1 346.7C67.4 348.8 72.6 351.5 74.3 352.5" stroke-width="0.9" stroke-opacity="0.4"/><path d="M62 243.9C54.5 249 25.8 262 17.3 274.2C8.8 286.3 9.8 303 11.1 317.1C12.4 331.2 18.6 345.5 24.9 358.6C31.2 371.8 39.4 384.5 48.9 395.8C58.4 407.1 69.7 417.6 81.8 426.4C93.9 435.2 107.5 442.8 121.5 448.6C135.5 454.4 150.7 458.6 165.8 461.1C180.9 463.5 196.7 464.2 211.9 463.1C227.2 462 242.7 459 257.2 454.5C271.7 449.9 287.2 444.5 299 435.8C310.8 427.2 324.6 416.5 328.1 402.5C331.6 388.4 321.5 359.9 320.2 351.4" stroke-width="1.2" stroke-opacity="0.6"/><path d="M62 243.9C56.1 249.1 33.5 262.8 26.7 274.7C20 286.6 20.8 301.8 21.5 315.4C22.1 329 25.5 343.2 30.5 356.3C35.5 369.4 42.8 382.5 51.5 393.9C60.2 405.4 71 416.3 82.8 425.2C94.5 434.2 108.1 442 121.9 447.7C135.8 453.4 151.1 457.5 166.1 459.6C181 461.6 196.8 461.8 211.7 460C226.5 458.2 241.7 454.4 255.2 449C268.8 443.6 282.2 436.3 293.2 427.5C304.2 418.8 316.6 409.1 321.1 396.4C325.6 383.7 320.4 358.9 320.2 351.4" stroke-width="1.1" stroke-opacity="0.5"/><path d="M62 243.9C53.8 248.9 21.5 261.7 13 273.9C4.5 286.1 9.1 303 11.1 317.1C13.1 331.2 18.6 345.5 24.9 358.6C31.2 371.8 39.4 384.5 48.9 395.8C58.4 407.1 69.7 417.6 81.8 426.4C93.9 435.2 107.5 442.8 121.5 448.6C135.5 454.4 150.7 458.6 165.8 461.1C180.9 463.5 196.7 464.2 211.9 463.1C227.2 462 242.7 459 257.2 454.5C271.7 449.9 286.6 444 299 435.8C311.3 427.6 327.7 419.3 331.3 405.2C334.8 391.2 322.1 360.4 320.2 351.4" stroke-width="0.5" stroke-opacity="0.4"/><path d="M62 243.9C59.5 245.9 51.3 251.2 47 255.5C42.8 259.8 39.2 264.7 36.5 269.7C33.9 274.8 32.4 280.3 31.2 285.7C30 291.1 29.4 296.8 29.3 302.3C29.2 307.9 29.6 313.6 30.4 319.1C31.3 324.7 32.7 330.2 34.5 335.5C36.4 340.9 38.7 346.1 41.5 351.1C44.2 356 47.5 360.8 51.1 365.3C54.7 369.7 58.6 374 63 377.7C67.4 381.4 72 385 77.3 387.6C82.6 390.3 88.5 392.3 94.6 393.5C100.7 394.6 110.5 394.5 113.7 394.6" stroke-width="1" stroke-opacity="0.5"/><path d="M62 243.9C59.7 245.9 52.3 251.4 48.3 255.7C44.4 260 41 264.9 38.3 269.9C35.6 274.9 33.6 280.3 32.2 285.7C30.9 291.1 30.5 296.7 30.3 302.2C30.2 307.8 30.6 313.4 31.5 318.9C32.4 324.4 33.8 329.9 35.6 335.2C37.4 340.5 39.8 345.7 42.5 350.7C45.2 355.6 48.4 360.4 52 364.8C55.6 369.2 59.4 373.5 63.9 377.1C68.3 380.7 73.4 384 78.6 386.6C83.9 389.1 89.6 391.2 95.5 392.6C101.3 393.9 110.7 394.3 113.7 394.6" stroke-width="0.7" stroke-opacity="0.4"/><path d="M62 243.9C56.5 248.1 36.1 259.2 28.9 269.1C21.6 279 19.3 291.9 18.5 303.6C17.7 315.2 20.9 327.4 24.3 338.8C27.6 350.3 32.5 361.7 38.5 372.2C44.6 382.7 52.1 392.9 60.5 401.9C68.9 411 78.6 419.3 89 426.4C99.3 433.5 110.8 439.6 122.5 444.3C134.2 449 146.8 452.6 159.3 454.7C171.8 456.8 184.9 457.6 197.4 457.1C210 456.5 223.3 455.5 234.7 451.3C246.2 447 258.4 440.9 266.1 431.5C273.8 422.1 278.3 400.8 280.7 394.7" stroke-width="0.8" stroke-opacity="0.4"/><path d="M62 243.9C57.4 248.2 40.5 259.8 34.6 269.6C28.6 279.4 27.4 291.4 26.4 302.8C25.4 314.1 26.3 326.1 28.6 337.5C31 348.9 35.1 360.5 40.5 371.1C46 381.8 53.1 392.2 61.2 401.3C69.4 410.5 79 418.9 89.3 426C99.6 433 111.2 439 122.9 443.4C134.7 447.9 147.4 451 159.8 452.6C172.2 454.2 185.2 454.3 197.4 452.9C209.6 451.5 222 448.5 233.1 444.2C244.1 439.8 255.9 435 263.8 426.7C271.7 418.5 277.9 400 280.7 394.7" stroke-width="0.7" stroke-opacity="0.4"/><path d="M62 243.9C58.2 246.5 45.5 253.3 39.2 259.3C33 265.3 27.9 272.6 24.4 279.9C20.9 287.2 18.9 295.4 18.2 303.2C17.6 311.1 19 319.1 20.5 326.9C22.1 334.7 24.4 342.5 27.3 349.9C30.2 357.4 33.9 364.7 38.1 371.6C42.3 378.5 47.3 385.2 52.6 391.3C58 397.5 64 403.3 70.4 408.4C76.8 413.5 83.4 418.7 91 422.2C98.5 425.6 107 428.1 115.5 428.9C123.9 429.7 133.2 429.2 141.8 427.1C150.4 425 162.9 418 167.1 416.2" stroke-width="0.8" stroke-opacity="0.4"/><path d="M62 243.9C57 246.3 40.2 252.3 32.1 258.2C24.1 264.2 16.9 272 13.5 279.6C10.1 287.2 11.4 295.8 11.9 303.9C12.4 311.9 14.3 320 16.4 327.8C18.5 335.7 21.2 343.5 24.4 351C27.7 358.5 31.5 365.9 35.8 372.9C40 379.9 44.9 386.7 50.2 393.1C55.4 399.5 61.3 405.6 67.4 411.2C73.6 416.9 80 422.5 87.1 426.9C94.3 431.4 101.6 436.7 110.2 437.8C118.9 438.9 129.8 437 139.2 433.4C148.7 429.8 162.5 419 167.1 416.2" stroke-width="0.7" stroke-opacity="0.4"/><path d="M62 243.9C56.8 247.3 38.3 255.8 31.1 263.8C24 271.7 20.8 282.2 19.1 291.7C17.4 301.3 19.3 311.5 20.9 321.2C22.5 330.9 25.2 340.7 28.8 350C32.4 359.3 37.1 368.5 42.6 377C48.1 385.5 54.5 393.7 61.6 401.1C68.7 408.5 76.7 415.4 85.2 421.3C93.6 427.3 102.8 432.6 112.3 436.9C121.8 441.2 131.8 444.7 141.9 447.2C152 449.7 162.6 452.4 172.8 451.8C183.1 451.1 194.4 449.1 203.4 443.2C212.4 437.3 222.9 420.7 226.8 416.2" stroke-width="2.3" stroke-opacity="0.6"/><path d="M62 243.9C56.6 247.2 38.3 255.6 29.8 263.6C21.3 271.6 14.1 282.2 11.2 292C8.3 301.9 10.7 312.8 12.6 322.9C14.4 332.9 18.2 342.9 22.3 352.5C26.5 362 31.6 371.3 37.4 380C43.2 388.7 49.9 397.1 57.3 404.7C64.6 412.3 72.8 419.5 81.4 425.8C90 432.1 99.3 437.8 109 442.6C118.6 447.4 128.8 451.9 139.3 454.7C149.7 457.4 161 460.7 171.7 459C182.4 457.3 194.3 451.6 203.5 444.5C212.6 437.3 222.9 420.9 226.8 416.2" stroke-width="0.5" stroke-opacity="0.3"/><path d="M332.5 243.9C333.1 237.3 338.7 216.3 336.1 203.9C333.5 191.4 325.2 179.6 317 169.1C308.8 158.6 298.1 148.8 286.6 140.9C275.1 132.9 261.7 126.2 248.1 121.5C234.4 116.8 219.4 113.8 204.7 112.8C190.1 111.9 174.7 112.8 160.2 115.7C145.8 118.5 131.2 123.4 118.2 129.8C105.2 136.2 92.7 144.6 82.1 154C71.6 163.4 62.2 174.6 55 186.2C47.8 197.9 42.2 210.9 39.1 223.7C35.9 236.4 33.3 250.3 36.2 262.8C39.1 275.3 53 292.6 56.3 298.5" stroke-width="0.6" stroke-opacity="0.4"/><path d="M332.5 243.9C335.1 236.1 349 211.1 347.9 197.2C346.8 183.3 335.3 171.5 325.9 160.8C316.5 150.1 304.1 140.9 291.5 133.2C278.9 125.5 264.7 119.1 250.2 114.7C235.8 110.4 220.2 107.6 205 106.9C189.8 106.1 173.9 107.2 159 110.2C144 113.1 129 118 115.4 124.4C101.8 130.8 88.6 139.2 77.2 148.6C65.9 158 55.5 169.2 47.2 181C38.8 192.8 31.4 205.9 27.3 219.3C23.2 232.6 17.6 247.8 22.5 261C27.3 274.2 50.7 292.2 56.3 298.5" stroke-width="0.5" stroke-opacity="0.5"/><path d="M332.5 243.9C333.1 244.6 334.7 246.5 335.7 247.9C336.8 249.2 337.8 250.6 338.7 252C339.6 253.4 340.5 254.8 341.3 256.3C342.1 257.8 342.8 259.3 343.4 260.8C344 262.3 344.5 263.9 344.9 265.5C345.3 267 345.6 268.6 345.8 270.2C345.9 271.8 346 273.4 346 275C345.9 276.7 345.8 278.3 345.5 279.9C345.3 281.5 344.9 283.1 344.5 284.7C344.1 286.3 343.5 287.9 342.9 289.4C342.3 291 341.7 292.5 341 294C340.3 295.5 339.1 297.8 338.7 298.5" stroke-width="1.5" stroke-opacity="0.5"/><path d="M332.5 243.9C333 244.6 334.6 246.5 335.6 247.9C336.6 249.2 337.6 250.6 338.5 252C339.4 253.4 340.3 254.9 341 256.4C341.8 257.8 342.5 259.3 343 260.9C343.6 262.4 344.1 263.9 344.5 265.5C344.9 267.1 345.2 268.7 345.4 270.3C345.5 271.8 345.6 273.5 345.6 275.1C345.6 276.7 345.4 278.3 345.2 279.9C345 281.5 344.6 283.1 344.2 284.7C343.8 286.3 343.3 287.9 342.7 289.4C342.2 291 341.5 292.5 340.9 294C340.2 295.5 339.1 297.8 338.7 298.5" stroke-width="1.1" stroke-opacity="0.4"/><path d="M332.5 243.9C333.1 244.6 334.7 246.5 335.7 247.9C336.8 249.2 337.8 250.6 338.7 252C339.6 253.4 340.5 254.8 341.3 256.3C342 257.8 342.8 259.3 343.3 260.8C343.9 262.3 344.5 263.9 344.9 265.5C345.3 267 345.5 268.6 345.7 270.2C345.9 271.8 346 273.4 345.9 275C345.9 276.7 345.7 278.3 345.5 279.9C345.3 281.5 344.9 283.1 344.5 284.7C344 286.3 343.5 287.9 342.9 289.4C342.3 291 341.6 292.5 340.9 294C340.2 295.5 339.1 297.8 338.7 298.5" stroke-width="0.5" stroke-opacity="0.5"/><path d="M332.5 243.9C338.3 249 360.2 262.6 367.2 274.5C374.2 286.4 374.6 301.5 374.4 315.2C374.1 328.8 370.4 343.1 365.5 356.3C360.5 369.5 353.3 382.6 344.6 394.2C335.9 405.7 325.1 416.6 313.3 425.7C301.5 434.7 288 442.6 274 448.4C260.1 454.2 244.8 458.3 229.8 460.4C214.8 462.5 198.9 462.7 184 461C169 459.3 153.9 455.5 140.2 450.1C126.5 444.7 112.8 437.6 101.9 428.7C91.1 419.8 79.5 409.3 74.9 396.6C70.3 383.9 74.4 359.8 74.3 352.5" stroke-width="0.8" stroke-opacity="0.5"/><path d="M332.5 243.9C339.5 249 366.7 262.1 374.4 274.1C382 286.1 379.6 302 378.5 315.9C377.3 329.7 373.1 344 367.5 357.1C362 370.3 354.4 383.3 345.4 394.7C336.3 406.2 325.3 416.9 313.5 425.9C301.6 434.8 288 442.6 274 448.4C260.1 454.2 244.8 458.4 229.8 460.7C214.8 462.9 199 463.3 183.9 461.9C168.8 460.5 153.5 457.1 139.5 452.1C125.5 447.1 111.3 440.4 99.7 432C88.1 423.5 74 414.4 69.7 401.1C65.5 387.9 73.6 360.6 74.3 352.5" stroke-width="0.7" stroke-opacity="0.4"/><path d="M332.5 243.9C333.8 245.2 337.6 249 340 251.8C342.3 254.6 344.6 257.5 346.6 260.5C348.5 263.5 350.3 266.7 351.8 269.9C353.3 273.2 354.5 276.5 355.3 279.9C356.2 283.3 356.7 286.8 356.9 290.3C357.1 293.8 356.8 297.2 356.4 300.7C356 304.1 355.5 307.6 354.5 311C353.6 314.3 352.3 317.6 350.7 320.8C349.1 323.9 347.2 327 345 329.9C342.8 332.8 340.3 335.5 337.7 338.1C335.1 340.6 332.2 343 329.3 345.2C326.4 347.5 321.7 350.4 320.2 351.4" stroke-width="1.2" stroke-opacity="0.5"/><path d="M332.5 243.9C333.9 245.2 338.2 248.9 340.8 251.6C343.4 254.3 346 257.2 348.2 260.2C350.5 263.2 352.6 266.4 354.3 269.7C356 272.9 357.5 276.4 358.6 279.8C359.7 283.3 360.5 286.9 360.9 290.4C361.2 294 361.2 297.6 360.8 301.1C360.4 304.6 359.6 308.2 358.5 311.6C357.3 315 355.8 318.3 353.9 321.5C352.1 324.7 349.9 327.7 347.4 330.6C345 333.5 342.2 336.2 339.3 338.7C336.4 341.2 333.3 343.5 330.1 345.6C326.9 347.7 321.9 350.5 320.2 351.4" stroke-width="1.1" stroke-opacity="0.4"/><path d="M332.5 243.9C334.1 245.2 339.2 248.6 342.2 251.3C345.2 253.9 348.2 256.8 350.6 259.8C353.1 262.9 355.3 266.1 356.9 269.4C358.6 272.8 359.8 276.3 360.4 279.8C361.1 283.3 361 286.9 360.9 290.4C360.8 294 360.5 297.5 360.1 301C359.7 304.6 359.2 308.1 358.5 311.6C357.8 315.1 357.1 318.6 355.7 321.9C354.3 325.2 352.3 328.4 349.9 331.3C347.6 334.3 344.7 337 341.6 339.5C338.5 342 335 344.2 331.4 346.2C327.8 348.2 322.1 350.5 320.2 351.4" stroke-width="0.7" stroke-opacity="0.6"/><path d="M332.5 243.9C339.7 248 367.1 258.1 375.4 268.1C383.7 278.1 382.5 292.1 382.3 304.1C382.1 316 378.1 328.3 374.1 339.8C370.1 351.3 364.6 362.7 358.2 373.2C351.7 383.7 343.9 393.7 335.3 402.7C326.6 411.7 316.8 420 306.4 427.1C295.9 434.2 284.5 440.4 272.7 445.3C261 450.2 248.4 454 235.8 456.5C223.2 459 210.1 460.3 197.2 460.3C184.3 460.3 170.7 459.9 158.6 456.4C146.5 452.9 132.1 449.5 124.6 439.2C117.1 428.9 115.5 402.1 113.7 394.6" stroke-width="1" stroke-opacity="0.6"/><path d="M332.5 243.9C337.7 248.1 356.4 259.4 363.3 269.2C370.1 279.1 372.6 291.6 373.7 303.2C374.8 314.7 372.7 327 369.9 338.5C367.1 350.1 362.6 361.7 356.8 372.4C351 383.1 343.6 393.5 335.3 402.7C326.9 411.9 317.1 420.4 306.7 427.5C296.3 434.6 284.6 440.7 272.7 445.3C260.9 449.9 248 453.3 235.5 455.1C222.9 457 209.7 457.4 197.2 456.3C184.7 455.3 171.7 453.3 160.4 448.8C149.1 444.2 137.3 438.2 129.5 429.2C121.7 420.2 116.3 400.4 113.7 394.6" stroke-width="0.9" stroke-opacity="0.4"/><path d="M332.5 243.9C335.9 245.7 346.8 250.3 352.6 254.5C358.3 258.6 363.8 263.7 367 268.9C370.1 274.1 371.1 280 371.8 285.7C372.4 291.4 371.4 297.2 370.7 302.9C370.1 308.6 369.1 314.3 367.8 319.9C366.5 325.5 364.9 331 363 336.5C361.2 341.9 359 347.3 356.5 352.5C354 357.7 351.2 362.9 348.2 367.8C345.1 372.8 342.3 378 338.2 382.2C334.1 386.5 329.6 390.7 323.8 393.2C318 395.6 310.4 396.7 303.3 397C296.1 397.2 284.5 395.1 280.7 394.7" stroke-width="1.5" stroke-opacity="0.5"/><path d="M332.5 243.9C335.1 245.8 343.4 251.1 348 255.3C352.6 259.6 357.1 264.5 360.2 269.5C363.2 274.6 365.5 280.2 366.6 285.7C367.7 291.2 367 296.9 366.5 302.5C366 308 364.9 313.6 363.7 319.1C362.4 324.5 360.9 330 359 335.3C357.2 340.6 355 345.8 352.6 350.9C350.2 356 347.6 361.1 344.5 365.9C341.4 370.6 338.3 375.6 334.1 379.5C329.8 383.3 324.4 386.6 318.8 389C313.1 391.4 306.6 392.9 300.2 393.9C293.9 394.8 284 394.5 280.7 394.7" stroke-width="0.5" stroke-opacity="0.5"/><path d="M332.5 243.9C335 245.9 342.9 251.2 347.3 255.5C351.6 259.8 355.6 264.6 358.7 269.7C361.7 274.7 364.2 280.2 365.7 285.7C367.1 291.2 367.5 296.9 367.5 302.6C367.4 308.2 366.6 313.9 365.6 319.4C364.6 325 363.1 330.6 361.2 335.9C359.4 341.3 357.1 346.6 354.4 351.7C351.8 356.7 348.8 361.8 345.3 366.3C341.8 370.9 337.9 375.3 333.3 379C328.7 382.6 323.3 385.7 317.7 388.1C312.1 390.5 305.9 392.3 299.7 393.4C293.6 394.5 283.9 394.5 280.7 394.7" stroke-width="0.5" stroke-opacity="0.5"/><path d="M332.5 243.9C337.9 247.2 357 255.6 364.5 263.6C372 271.6 376 282.2 377.6 291.8C379.1 301.5 375.8 311.7 373.6 321.3C371.3 330.9 368.2 340.5 364.2 349.6C360.2 358.8 355.3 367.7 349.7 376C344.1 384.3 337.7 392.3 330.6 399.6C323.6 406.9 315.8 413.7 307.5 419.7C299.2 425.7 290.3 431.1 281 435.7C271.8 440.2 261.9 444.1 252 447.1C242 450.1 231.5 454 221.3 453.5C211 453 199.4 450.2 190.4 444C181.3 437.8 171 420.8 167.1 416.2" stroke-width="0.8" stroke-opacity="0.4"/><path d="M332.5 243.9C338 247.2 357.1 255.5 365.1 263.5C373.2 271.6 378.9 282.2 381 292C383 301.7 379.6 312.2 377.5 322.1C375.3 331.9 371.9 341.7 367.9 351C363.8 360.3 358.8 369.4 353.1 378C347.4 386.5 340.8 394.6 333.6 402C326.4 409.5 318.4 416.4 309.9 422.6C301.5 428.7 292.3 434.3 282.9 438.9C273.4 443.6 263.4 447.6 253.2 450.6C243 453.5 232.2 457.6 221.7 456.6C211.3 455.6 199.4 451.4 190.3 444.6C181.2 437.9 171 420.9 167.1 416.2" stroke-width="0.9" stroke-opacity="0.3"/><path d="M332.5 243.9C338.3 247.2 359.8 255.4 366.9 263.3C374 271.3 374 282.1 375.1 291.8C376.2 301.4 374.9 311.5 373.3 321.2C371.6 331 368.9 340.7 365.3 350C361.6 359.3 356.9 368.5 351.4 377C346 385.5 339.5 393.7 332.4 401C325.2 408.4 317.2 415.2 308.7 421.2C300.3 427.1 291 432.4 281.5 436.6C272.1 440.9 262 444.4 251.9 446.8C241.8 449.3 231.2 451.3 220.9 451.3C210.7 451.2 199.2 452.1 190.3 446.3C181.3 440.4 171 421.2 167.1 416.2" stroke-width="0.9" stroke-opacity="0.5"/><path d="M332.5 243.9C336.7 246.4 350.9 253 357.5 259C364.2 265 369.8 272.6 372.4 279.9C374.9 287.3 373.6 295.4 372.9 303C372.3 310.7 370.6 318.4 368.5 325.8C366.5 333.3 364 340.7 360.9 347.9C357.8 355 354.1 362 350 368.7C345.9 375.3 341.3 381.8 336.3 387.8C331.2 393.9 325.7 399.7 319.8 405C313.9 410.3 307.7 415.6 301 419.9C294.2 424.2 287.4 429.3 279.4 430.8C271.4 432.4 261.6 431.6 252.8 429.2C244 426.7 231.1 418.4 226.8 416.2" stroke-width="0.6" stroke-opacity="0.5"/><path d="M332.5 243.9C337.1 246.4 352.3 252.6 360 258.6C367.7 264.6 375.1 272.1 379 279.7C382.9 287.3 383.5 296 383.4 304.1C383.4 312.2 381 320.3 378.8 328.2C376.7 336.1 374 344 370.7 351.5C367.5 359.1 363.6 366.5 359.2 373.5C354.9 380.6 350 387.4 344.6 393.8C339.3 400.3 333.4 406.4 327.2 412C321 417.7 314.7 423.7 307.2 427.8C299.8 431.8 291.5 435.6 282.5 436.2C273.6 436.8 263 434.7 253.7 431.4C244.4 428 231.3 418.7 226.8 416.2" stroke-width="0.5" stroke-opacity="0.5"/><path d="M56.3 298.5C53.8 305.1 42 325.1 41.2 338.2C40.4 351.3 45.9 365 51.7 377.3C57.4 389.7 65.8 401.9 75.5 412.3C85.2 422.7 97.1 432.3 109.8 439.9C122.5 447.4 137.1 453.6 151.7 457.5C166.3 461.5 182.2 463.6 197.5 463.6C212.8 463.6 228.7 461.5 243.3 457.5C257.9 453.6 272.5 447.4 285.2 439.9C297.9 432.3 309.8 422.7 319.5 412.3C329.2 401.9 337.6 389.7 343.3 377.3C349.1 365 354.6 351.3 353.8 338.2C353 325.1 341.2 305.1 338.7 298.5" stroke-width="1" stroke-opacity="0.6"/><path d="M56.3 298.5C50.9 306.1 26.5 329.6 23.8 343.9C21.1 358.2 32.3 372.1 40.1 384.4C47.8 396.7 59 407.7 70.4 417.4C81.7 427.1 94.8 435.7 108.3 442.5C121.8 449.3 136.6 454.7 151.5 458.2C166.4 461.7 182.2 463.6 197.5 463.6C212.8 463.6 228.6 461.7 243.5 458.2C258.4 454.7 273.2 449.3 286.7 442.5C300.2 435.7 313.3 427.1 324.6 417.4C336 407.7 347.2 396.7 354.9 384.4C362.7 372.1 373.9 358.2 371.2 343.9C368.5 329.6 344.1 306.1 338.7 298.5" stroke-width="1.1" stroke-opacity="0.4"/><path d="M56.3 298.5C56.1 299.3 55.4 301.8 55.1 303.4C54.7 305.1 54.4 306.8 54.2 308.5C54 310.1 53.8 311.8 53.7 313.5C53.6 315.2 53.7 316.9 53.8 318.5C53.9 320.2 54.1 321.9 54.4 323.5C54.7 325.1 55.2 326.8 55.7 328.3C56.2 329.9 56.9 331.5 57.6 333C58.3 334.5 59.2 336 60.1 337.4C61 338.8 62 340.2 63.1 341.6C64.2 342.9 65.4 344.2 66.6 345.5C67.8 346.7 69 347.9 70.3 349.1C71.6 350.3 73.7 351.9 74.3 352.5" stroke-width="0.8" stroke-opacity="0.4"/><path d="M56.3 298.5C56 299.3 55.2 301.8 54.7 303.5C54.2 305.2 53.8 306.9 53.4 308.6C53.1 310.3 52.8 312 52.7 313.7C52.5 315.4 52.4 317.1 52.5 318.8C52.6 320.5 52.7 322.2 53 323.9C53.3 325.5 53.7 327.2 54.3 328.8C54.8 330.4 55.5 331.9 56.2 333.4C57 334.9 57.9 336.4 58.9 337.8C59.9 339.3 61 340.6 62.1 342C63.3 343.3 64.6 344.5 65.9 345.8C67.2 347 68.6 348.1 70 349.3C71.4 350.4 73.6 352 74.3 352.5" stroke-width="1.1" stroke-opacity="0.5"/><path d="M56.3 298.5C53.7 304.2 42.4 321.2 40.9 332.6C39.4 343.9 43.1 355.8 47.2 366.5C51.4 377.1 58.4 387.3 65.8 396.6C73.3 405.8 82.2 414.5 91.9 421.9C101.6 429.3 112.6 435.8 124 440.9C135.3 446 147.7 449.9 160 452.4C172.3 454.8 185.3 455.9 197.8 455.6C210.4 455.3 223.3 453.5 235.3 450.5C247.3 447.4 259.3 442.9 270 437.3C280.8 431.7 291.5 425 299.9 416.9C308.2 408.7 316.7 399.2 320.1 388.3C323.5 377.4 320.2 357.6 320.2 351.4" stroke-width="1" stroke-opacity="0.4"/><path d="M56.3 298.5C53.5 304.3 41.2 321.5 39.4 333C37.5 344.5 41.5 356.4 45.3 367.5C49 378.6 55 389.7 62.1 399.6C69.2 409.5 78.2 418.9 87.9 426.9C97.7 434.9 109 442 120.8 447.5C132.5 452.9 145.4 457.1 158.3 459.7C171.1 462.3 184.8 463.3 197.9 462.8C210.9 462.3 224.4 460.1 236.7 456.6C249.1 453 261.3 447.8 272.1 441.5C282.8 435.1 293 427.3 301.3 418.6C309.5 409.9 318.2 400.5 321.3 389.3C324.5 378.1 320.4 357.7 320.2 351.4" stroke-width="0.7" stroke-opacity="0.5"/><path d="M56.3 298.5C50.9 305 27.3 325.3 24 337.5C20.7 349.8 30.6 361.4 36.5 372.1C42.4 382.8 50.7 392.8 59.4 401.9C68 410.9 77.8 419.3 88.3 426.5C98.7 433.6 110.2 439.9 122 444.9C133.8 449.8 146.5 453.7 159.1 456.2C171.7 458.7 184.9 460 197.9 460C210.8 459.9 224 458.6 236.6 456C249.2 453.5 261.8 449.6 273.6 444.6C285.4 439.6 297.3 433.6 307.3 426.1C317.3 418.5 331.4 411.7 333.5 399.2C335.7 386.8 322.4 359.4 320.2 351.4" stroke-width="0.7" stroke-opacity="0.6"/><path d="M56.3 298.5C55.3 300.3 52.2 305.4 50.6 309C49 312.6 47.5 316.4 46.7 320.1C45.9 323.8 45.4 327.6 45.6 331.2C45.8 334.8 46.7 338.4 47.8 341.8C48.9 345.2 50.7 348.4 52.3 351.6C54 354.8 55.7 358 57.6 361.1C59.5 364.2 61.5 367.2 63.6 370.2C65.6 373.1 67.7 376.2 70.2 378.9C72.7 381.5 75.5 384.1 78.7 386.1C81.9 388.1 85.6 389.7 89.3 391C93.1 392.3 97.3 393.1 101.3 393.7C105.4 394.3 111.7 394.5 113.7 394.6" stroke-width="1.2" stroke-opacity="0.4"/><path d="M56.3 298.5C55 300.3 50.6 305.6 48.4 309.3C46.1 313.1 44.1 317.1 42.9 320.9C41.6 324.8 40.9 328.8 41 332.6C41 336.3 42.2 339.9 43.3 343.4C44.5 346.9 46.3 350.2 48 353.5C49.7 356.8 51.5 360.1 53.4 363.2C55.4 366.4 57.4 369.6 59.6 372.6C61.7 375.7 63.8 378.8 66.4 381.6C69 384.3 71.7 387 75.1 389C78.4 391.1 82.5 392.5 86.6 393.6C90.7 394.6 95.4 395.1 99.9 395.2C104.4 395.4 111.4 394.7 113.7 394.6" stroke-width="0.5" stroke-opacity="0.6"/><path d="M56.3 298.5C55.5 300.2 52.8 305.3 51.3 308.9C49.9 312.4 48.6 316.1 47.7 319.9C46.8 323.6 46.1 327.4 45.8 331.2C45.5 334.9 45.5 338.8 45.9 342.5C46.3 346.1 47.1 349.8 48.3 353.4C49.5 356.9 51.1 360.3 53 363.5C54.9 366.7 57.3 369.7 59.9 372.4C62.4 375.2 65.4 377.8 68.6 380C71.7 382.3 75.2 384.3 78.8 386C82.4 387.7 86.2 389.1 90 390.3C93.9 391.5 97.9 392.4 101.8 393.2C105.8 393.9 111.7 394.4 113.7 394.6" stroke-width="0.5" stroke-opacity="0.4"/><path d="M56.3 298.5C52.9 303.4 39.7 318 36.2 328C32.6 338.1 33 349.3 35.1 358.9C37.2 368.6 43.3 377.5 48.9 386C54.4 394.5 61.2 402.6 68.6 409.9C76 417.2 84.3 423.9 93.1 429.8C101.8 435.6 111.4 440.8 121.2 445C131 449.1 141.5 452.4 152 454.8C162.4 457.1 173.3 458.4 184 458.8C194.7 459.2 205.6 458.6 216.1 456.9C226.5 455.3 237.6 453.6 246.7 448.7C255.8 443.9 264.9 436.8 270.6 427.8C276.3 418.8 279.1 400.2 280.7 394.7" stroke-width="1.2" stroke-opacity="0.3"/><path d="M56.3 298.5C52.9 303.4 39.6 317.9 35.6 328.2C31.7 338.4 30.5 350.3 32.6 360.1C34.6 369.8 41.9 378.3 48 386.6C54.1 394.8 61.4 402.5 69 409.5C76.6 416.5 85.1 423 93.9 428.7C102.7 434.3 112.2 439.4 122 443.5C131.7 447.6 142 451 152.3 453.5C162.7 455.9 173.4 457.6 184 458.3C194.7 459 205.6 459.1 216.2 457.9C226.8 456.7 238.3 456.1 247.5 451.2C256.6 446.3 265.3 437.7 270.8 428.3C276.4 418.8 279.1 400.3 280.7 394.7" stroke-width="1.1" stroke-opacity="0.5"/><path d="M56.3 298.5C54.4 301.3 48 309.2 45.1 315C42.1 320.7 39.6 327 38.6 333C37.7 338.9 37.8 345.1 39.1 350.7C40.4 356.2 43.7 361.3 46.5 366.3C49.4 371.3 52.8 376.1 56.3 380.7C59.9 385.3 63.7 389.8 67.7 394.1C71.7 398.3 76 402.4 80.4 406.3C84.9 410.1 89.5 413.8 94.5 417.1C99.4 420.4 104.4 424 110.1 425.9C115.8 427.8 122.3 428.7 128.7 428.5C135.1 428.3 142 426.7 148.4 424.7C154.8 422.6 164 417.6 167.1 416.2" stroke-width="0.8" stroke-opacity="0.5"/><path d="M56.3 298.5C55 301.1 50.3 308.9 48.4 314.4C46.4 319.8 45.3 325.6 44.7 331.2C44.2 336.9 44.3 342.7 45.2 348.3C46 353.8 47.7 359.3 49.9 364.6C52 369.8 54.8 374.9 58 379.6C61.1 384.4 64.7 389 68.7 393.2C72.7 397.5 77.1 401.4 81.8 404.9C86.5 408.4 91.5 411.7 96.8 414.3C102 416.9 107.7 419.2 113.4 420.6C119.2 422.1 125.3 422.9 131.4 423.1C137.4 423.3 143.6 422.8 149.5 421.7C155.5 420.5 164.2 417.1 167.1 416.2" stroke-width="0.9" stroke-opacity="0.6"/><path d="M56.3 298.5C54 302.2 45.2 313.3 42.6 320.9C40 328.6 40 336.7 40.8 344.2C41.6 351.8 44.4 359.2 47.4 366.3C50.3 373.4 54.2 380.4 58.6 386.9C63 393.4 68.2 399.6 73.8 405.3C79.5 410.9 85.8 416.2 92.5 420.8C99.2 425.4 106.4 429.5 113.9 432.8C121.3 436.2 129.2 438.9 137.1 440.9C145 442.9 153.3 444.2 161.4 444.7C169.4 445.2 177.7 445.5 185.6 444C193.5 442.4 201.6 439.9 208.5 435.3C215.4 430.6 223.7 419.4 226.8 416.2" stroke-width="0.8" stroke-opacity="0.3"/><path d="M56.3 298.5C53.4 302.4 42.4 313.8 38.8 321.8C35.2 329.8 34.4 338.4 34.7 346.5C34.9 354.5 37.6 362.3 40.4 369.9C43.2 377.5 47.2 384.9 51.7 391.8C56.2 398.7 61.5 405.3 67.4 411.3C73.3 417.3 79.9 422.9 86.9 427.7C94 432.6 101.6 436.8 109.5 440.3C117.4 443.8 125.7 446.5 134.1 448.5C142.5 450.4 151.2 451.7 159.7 452C168.2 452.2 176.9 452.2 185.1 450C193.3 447.8 201.8 444.5 208.8 438.9C215.7 433.2 223.8 420 226.8 416.2" stroke-width="0.5" stroke-opacity="0.5"/><path d="M338.7 298.5C343 304.7 361.5 323.5 364.3 335.5C367.1 347.5 360.8 359.7 355.7 370.4C350.5 381.1 341.8 390.7 333.3 399.6C324.9 408.6 315.2 416.8 305 423.8C294.8 430.9 283.5 437 272 441.9C260.4 446.8 248.1 450.6 235.7 453.1C223.3 455.6 210.4 456.9 197.7 456.9C185 457 172.1 455.7 159.7 453.2C147.3 450.7 135 447 123.4 442.1C111.8 437.2 99.7 431.8 90.3 424.1C81 416.3 69.9 407.6 67.2 395.6C64.6 383.7 73.1 359.7 74.3 352.5" stroke-width="1.9" stroke-opacity="0.4"/><path d="M338.7 298.5C344.2 305 368 325.2 371.9 337.7C375.8 350.2 367.5 362.7 362 373.7C356.4 384.8 347.5 394.8 338.7 404.1C329.9 413.3 319.9 421.9 309.3 429.2C298.7 436.5 287 442.9 274.9 448C262.9 453 250.1 457 237.2 459.6C224.3 462.2 210.9 463.6 197.7 463.6C184.6 463.6 171.1 462.3 158.2 459.7C145.3 457.1 132.5 453.2 120.4 448.1C108.4 443.1 95.9 437.4 86.1 429.4C76.2 421.5 63.3 413.3 61.3 400.5C59.3 387.7 72.2 360.5 74.3 352.5" stroke-width="1.1" stroke-opacity="0.4"/><path d="M338.7 298.5C344.2 305 368 325.2 371.7 337.7C375.4 350.1 366.5 362.2 360.9 373.2C355.2 384.1 346.5 394.1 337.8 403.3C329.1 412.5 319.1 421 308.6 428.3C298 435.6 286.4 441.9 274.4 447C262.5 452 249.7 455.9 236.9 458.5C224.2 461.1 210.8 462.4 197.7 462.5C184.6 462.5 171.3 461.2 158.5 458.6C145.7 456 132.9 452.1 120.9 447.1C109 442.1 96.7 436.3 86.8 428.5C76.9 420.7 63.5 413.1 61.4 400.4C59.4 387.7 72.2 360.5 74.3 352.5" stroke-width="0.9" stroke-opacity="0.5"/><path d="M338.7 298.5C338.9 299.3 339.8 301.8 340.2 303.4C340.6 305.1 341.1 306.7 341.4 308.4C341.7 310.1 341.9 311.8 342.1 313.5C342.2 315.2 342.2 316.8 342.2 318.5C342.1 320.2 341.9 321.8 341.6 323.5C341.3 325.1 340.9 326.7 340.3 328.2C339.8 329.8 339.1 331.3 338.4 332.8C337.6 334.3 336.7 335.8 335.7 337.1C334.7 338.5 333.6 339.9 332.4 341.2C331.3 342.5 330 343.7 328.7 344.9C327.4 346.1 326 347.2 324.6 348.3C323.1 349.4 320.9 350.9 320.2 351.4" stroke-width="2.3" stroke-opacity="0.5"/><path d="M338.7 298.5C338.9 299.3 339.6 301.7 340 303.4C340.4 305 340.7 306.7 341 308.4C341.2 310 341.4 311.7 341.5 313.4C341.6 315 341.6 316.7 341.5 318.3C341.4 320 341.2 321.6 340.9 323.3C340.5 324.9 340.1 326.5 339.6 328C339 329.6 338.4 331.1 337.6 332.6C336.9 334.1 336 335.5 335 336.9C334.1 338.3 333 339.7 331.9 341C330.8 342.3 329.6 343.5 328.3 344.7C327.1 345.9 325.7 347.1 324.4 348.2C323 349.3 320.9 350.9 320.2 351.4" stroke-width="0.9" stroke-opacity="0.4"/><path d="M338.7 298.5C341.4 303.3 352.2 317.4 354.7 327C357.2 336.7 355.9 346.9 353.7 356.3C351.6 365.7 347 374.9 342 383.4C336.9 391.9 330.5 400 323.4 407.4C316.4 414.7 308.3 421.5 299.8 427.3C291.2 433.1 281.8 438.3 272.2 442.3C262.5 446.4 252.2 449.6 241.9 451.8C231.6 453.9 220.8 455.1 210.3 455.2C199.8 455.3 189.1 454.4 179 452.4C168.9 450.3 158.6 447.4 149.7 442.7C140.8 438 131.8 432.2 125.8 424.2C119.8 416.2 115.7 399.6 113.7 394.6" stroke-width="1" stroke-opacity="0.5"/><path d="M338.7 298.5C342.5 303.6 358.5 318.9 361.8 328.8C365 338.8 361.1 349 358.2 358.3C355.2 367.6 349.6 376.4 344 384.8C338.4 393.1 331.7 401.1 324.4 408.3C317.1 415.5 308.9 422.1 300.2 427.9C291.5 433.6 282.1 438.7 272.4 442.8C262.7 446.9 252.4 450.2 242.1 452.5C231.7 454.7 221 456.1 210.4 456.4C199.9 456.8 189.1 456.2 178.7 454.6C168.4 453 157.7 451.1 148.3 447C139 443 128.4 438.9 122.6 430.2C116.8 421.5 115.2 400.6 113.7 394.6" stroke-width="0.7" stroke-opacity="0.6"/><path d="M338.7 298.5C339.5 300.2 342 305.3 343.3 308.9C344.6 312.4 345.8 316.1 346.6 319.8C347.4 323.4 347.9 327.2 348 330.9C348.1 334.6 347.9 338.4 347.2 342C346.6 345.5 345.5 349.1 344.1 352.5C342.7 355.8 340.8 359 338.9 362.1C337 365.3 335.1 368.4 332.7 371.3C330.3 374.1 327.6 376.8 324.7 379.2C321.7 381.5 318.4 383.6 315 385.4C311.5 387.2 307.8 388.8 304.1 390C300.3 391.3 296.4 392.3 292.5 393C288.6 393.8 282.7 394.4 280.7 394.7" stroke-width="1.2" stroke-opacity="0.4"/><path d="M338.7 298.5C339.5 300.2 342.1 305.3 343.5 308.9C344.9 312.5 346.2 316.2 347 319.9C347.9 323.6 348.6 327.4 348.8 331.2C349 334.9 349 338.7 348.5 342.4C348 346.1 347.2 349.8 345.9 353.2C344.7 356.7 343 360.1 341.1 363.3C339.2 366.5 336.9 369.5 334.4 372.3C331.8 375.1 328.9 377.6 325.7 379.9C322.6 382.2 319.1 384.2 315.6 385.9C312 387.7 308.2 389.1 304.4 390.3C300.6 391.5 296.6 392.4 292.6 393.2C288.7 393.9 282.7 394.4 280.7 394.7" stroke-width="0.7" stroke-opacity="0.6"/><path d="M338.7 298.5C341.7 302.4 352.8 313.9 356.5 322C360.1 330 360.8 338.7 360.5 346.8C360.2 354.8 357.4 362.7 354.5 370.3C351.6 377.8 347.7 385.3 343.1 392.2C338.6 399.1 333.2 405.8 327.3 411.8C321.3 417.8 314.6 423.4 307.5 428.2C300.5 433.1 292.7 437.3 284.8 440.8C276.9 444.2 268.5 447 260.1 448.9C251.6 450.8 242.9 452.1 234.3 452.3C225.8 452.6 217 452.6 208.7 450.4C200.5 448.2 192 444.9 185 439.2C178.1 433.5 170.1 420 167.1 416.2" stroke-width="0.6" stroke-opacity="0.5"/><path d="M338.7 298.5C342.4 302.6 356.1 314.4 361.1 323C366.1 331.5 369.1 341.5 368.8 349.8C368.5 358.1 363.2 365.4 359.1 372.7C355.1 379.9 349.9 386.7 344.5 393.2C339.1 399.7 333.2 405.8 327 411.5C320.7 417.2 313.9 422.6 306.9 427.4C299.8 432.2 292.3 436.6 284.6 440.4C276.9 444.3 268.8 447.6 260.6 450.4C252.4 453.2 244 455.8 235.4 457.1C226.9 458.5 217.8 460.9 209.3 458.7C200.9 456.4 191.7 450.7 184.6 443.6C177.6 436.5 170 420.7 167.1 416.2" stroke-width="0.9" stroke-opacity="0.3"/><path d="M338.7 298.5C342 302.5 354.2 314.1 358.4 322.4C362.6 330.6 364.7 340.1 364 348C363.3 356 358.1 363 354 370C350 377 345 383.6 339.9 389.9C334.7 396.1 328.9 402.1 322.9 407.6C316.8 413.2 310.2 418.3 303.4 423C296.6 427.7 289.3 431.9 281.8 435.6C274.4 439.4 266.6 442.6 258.6 445.3C250.7 448 242.5 450.4 234.2 451.8C225.9 453.2 217.2 455.7 209 453.9C200.8 452.1 191.8 447.3 184.9 441C177.9 434.7 170.1 420.3 167.1 416.2" stroke-width="0.9" stroke-opacity="0.6"/><path d="M338.7 298.5C340.2 301.2 345.4 309.1 347.6 314.6C349.8 320.2 351.4 326.2 351.9 331.9C352.4 337.6 352 343.5 350.8 349C349.5 354.4 347 359.6 344.5 364.7C342 369.8 338.9 374.7 335.6 379.3C332.3 384 328.6 388.5 324.6 392.7C320.6 396.9 316.3 400.9 311.7 404.5C307.1 408.1 302.3 411.5 297.2 414.4C292.1 417.3 286.9 420.2 281.3 422C275.7 423.7 269.5 424.8 263.4 424.9C257.3 425 250.8 424.2 244.7 422.8C238.6 421.3 229.8 417.3 226.8 416.2" stroke-width="0.8" stroke-opacity="0.3"/><path d="M338.7 298.5C339.8 301.1 343.9 308.9 345.4 314.2C346.9 319.6 347.5 325.2 347.8 330.7C348 336.2 347.7 341.9 346.8 347.4C345.9 352.9 344.5 358.4 342.5 363.6C340.5 368.9 337.9 374.1 334.9 378.9C331.9 383.7 328.3 388.3 324.3 392.5C320.4 396.6 315.9 400.5 311.1 403.9C306.4 407.2 301.2 410.2 295.8 412.7C290.5 415.1 284.8 417.1 279.1 418.5C273.4 419.9 267.4 420.9 261.6 421.2C255.8 421.6 249.8 421.6 244 420.8C238.2 420 229.7 417 226.8 416.2" stroke-width="0.7" stroke-opacity="0.4"/><path d="M74.3 352.5C73.7 358 69 375.6 70.7 385.6C72.4 395.5 78.2 404.7 84.5 412.2C90.9 419.6 100 425.1 108.7 430.5C117.3 435.8 126.8 440.4 136.4 444C146.1 447.7 156.3 450.5 166.6 452.3C176.9 454.2 187.5 455.1 198 455.1C208.4 455.1 219.1 454.1 229.3 452.2C239.6 450.2 249.8 447.4 259.4 443.6C269 439.9 278.5 435.3 287.1 429.9C295.7 424.6 304.8 419 311 411.5C317.3 403.9 323 394.7 324.6 384.7C326.1 374.7 320.9 357 320.2 351.4" stroke-width="1.5" stroke-opacity="0.5"/><path d="M74.3 352.5C73.8 358 69.2 375.5 70.9 385.4C72.6 395.3 78.5 404.2 84.7 412C90.8 419.8 99.3 426.2 107.7 432C116.2 437.8 125.6 442.8 135.3 446.8C145 450.8 155.5 453.9 165.9 455.9C176.4 458 187.3 459 198 459C208.7 458.9 219.6 457.9 230 455.8C240.5 453.7 250.9 450.5 260.6 446.4C270.2 442.4 279.7 437.3 288 431.5C296.4 425.6 304.8 419.1 310.9 411.3C317 403.5 322.8 394.5 324.4 384.5C325.9 374.6 320.9 356.9 320.2 351.4" stroke-width="1.1" stroke-opacity="0.4"/><path d="M74.3 352.5C72.7 358.8 64.3 378.9 64.7 390.1C65.2 401.4 70.6 412.2 77.1 420.2C83.7 428.2 94.5 432.8 104 438C113.4 443.1 123.4 447.5 133.7 451C143.9 454.5 154.6 457.2 165.3 458.9C176.1 460.7 187.1 461.6 198 461.5C208.9 461.5 219.9 460.6 230.6 458.8C241.3 456.9 252 454.2 262.2 450.6C272.5 447.1 282.5 442.6 291.9 437.5C301.3 432.3 312.1 427.6 318.6 419.6C325 411.6 330.4 400.7 330.7 389.3C330.9 378 322 357.7 320.2 351.4" stroke-width="0.7" stroke-opacity="0.5"/><path d="M74.3 352.5C74.5 353.3 74.9 355.8 75.2 357.5C75.6 359.1 76 360.8 76.5 362.4C77 364.1 77.5 365.7 78.1 367.2C78.8 368.8 79.5 370.4 80.3 371.8C81.1 373.3 82 374.8 83 376.1C84 377.5 85 378.8 86.2 380C87.3 381.3 88.6 382.4 89.9 383.5C91.2 384.6 92.6 385.6 94.1 386.6C95.6 387.5 97.1 388.4 98.7 389.2C100.3 390 101.9 390.7 103.5 391.3C105.2 392 106.9 392.6 108.6 393.1C110.3 393.7 112.9 394.4 113.7 394.6" stroke-width="1.5" stroke-opacity="0.6"/><path d="M74.3 352.5C74.5 353.3 74.8 355.9 75.2 357.5C75.5 359.2 75.9 360.9 76.3 362.5C76.8 364.2 77.3 365.8 77.9 367.4C78.6 368.9 79.3 370.5 80.1 372C80.9 373.5 81.7 374.9 82.7 376.3C83.7 377.7 84.8 379 85.9 380.2C87.1 381.5 88.4 382.6 89.7 383.7C91 384.8 92.4 385.8 93.9 386.8C95.4 387.7 96.9 388.5 98.5 389.3C100.1 390.1 101.8 390.8 103.4 391.5C105.1 392.1 106.8 392.7 108.5 393.2C110.2 393.7 112.9 394.4 113.7 394.6" stroke-width="0.5" stroke-opacity="0.5"/><path d="M74.3 352.5C73.6 356.9 69.3 371 69.9 379.2C70.5 387.3 74.1 394.8 78.1 401.5C82.1 408.2 88 413.9 93.8 419.4C99.6 424.8 106.2 429.9 113.1 434.2C120 438.5 127.6 442.4 135.3 445.4C143 448.5 151.2 450.9 159.4 452.6C167.6 454.2 176.1 455.2 184.5 455.4C192.9 455.6 201.4 455 209.6 453.7C217.8 452.5 226 450.4 233.7 447.7C241.4 445 249.2 442.1 255.8 437.6C262.4 433 268.9 427.6 273.1 420.5C277.2 413.3 279.5 399 280.7 394.7" stroke-width="1.5" stroke-opacity="0.5"/><path d="M74.3 352.5C73.8 356.8 70.5 370.1 71 378.4C71.5 386.7 73.8 395 77.3 402.3C80.8 409.5 86 416.3 91.8 421.9C97.6 427.5 104.9 431.9 112 436.1C119.2 440.2 126.9 443.8 134.7 446.7C142.6 449.7 150.8 452.1 159.1 453.7C167.4 455.4 175.9 456.4 184.4 456.8C192.8 457.1 201.4 456.8 209.8 455.8C218.1 454.8 226.7 453.7 234.4 450.8C242.2 447.9 249.9 443.8 256.2 438.6C262.5 433.3 268.3 426.7 272.4 419.3C276.5 412 279.4 398.8 280.7 394.7" stroke-width="1.1" stroke-opacity="0.4"/><path d="M74.3 352.5C74.4 354.3 74.4 359.8 74.7 363.4C75.1 367 75.6 370.7 76.5 374.3C77.3 377.9 78.4 381.5 79.8 384.8C81.3 388.2 82.9 391.6 84.9 394.7C86.9 397.7 89.2 400.7 91.8 403.3C94.3 406 97.2 408.4 100.3 410.5C103.3 412.6 106.7 414.4 110.1 415.9C113.6 417.4 117.3 418.6 121 419.5C124.7 420.3 128.6 420.9 132.5 421.1C136.4 421.3 140.4 421.2 144.3 420.9C148.2 420.6 152.1 419.9 155.9 419.2C159.7 418.4 165.2 416.7 167.1 416.2" stroke-width="1.2" stroke-opacity="0.6"/><path d="M74.3 352.5C74.2 354.4 73.4 360.3 73.4 364.2C73.4 368.1 73.6 372.1 74.3 375.8C75 379.6 76 383.4 77.5 386.8C79 390.2 80.9 393.4 83.2 396.3C85.5 399.1 88.4 401.5 91.3 403.9C94.1 406.2 97.2 408.4 100.3 410.5C103.3 412.6 106.4 414.7 109.7 416.5C113 418.4 116.2 420.3 119.8 421.5C123.4 422.7 127.3 423.4 131.2 423.7C135.1 424 139.3 423.8 143.3 423.3C147.4 422.8 151.5 421.8 155.5 420.6C159.4 419.4 165.2 416.9 167.1 416.2" stroke-width="0.9" stroke-opacity="0.5"/><path d="M74.3 352.5C74 355.6 72.1 365.1 72.1 371.2C72.1 377.4 73 383.7 74.6 389.5C76.2 395.4 78.6 401.1 81.8 406.2C85 411.2 89.2 415.7 93.6 419.7C98.1 423.8 103.3 427.1 108.5 430.2C113.8 433.4 119.3 436.2 125 438.5C130.6 440.9 136.5 442.9 142.5 444.5C148.5 446 154.6 447.5 160.7 447.9C166.9 448.3 173.3 448.2 179.4 447.1C185.5 446 191.8 443.8 197.5 441C203.1 438.2 208.7 434.6 213.6 430.4C218.5 426.3 224.6 418.6 226.8 416.2" stroke-width="1.9" stroke-opacity="0.4"/><path d="M74.3 352.5C74.2 355.5 73 364.5 73.5 370.3C73.9 376.1 75.2 382 77.1 387.4C79 392.9 81.6 398.4 84.7 403.3C87.8 408.2 91.7 412.8 96 416.8C100.2 420.9 105.1 424.5 110.1 427.7C115.2 430.9 120.6 433.8 126.1 436.1C131.7 438.4 137.6 440.3 143.5 441.7C149.4 443.1 155.5 444.1 161.6 444.3C167.6 444.6 173.9 444.2 179.9 443.1C185.8 442.1 191.9 440.2 197.5 437.8C203 435.4 208.5 432.5 213.4 428.9C218.3 425.3 224.5 418.3 226.8 416.2" stroke-width="1.1" stroke-opacity="0.6"/><path d="M320.2 351.4C321 355.9 324.9 369.4 324.9 378.1C324.9 386.8 323.5 396.2 320.2 403.8C317 411.3 311.3 418.1 305.2 423.5C299.1 428.9 291.2 432.6 283.7 436.4C276.3 440.2 268.4 443.6 260.4 446.3C252.5 449.1 244.2 451.4 235.9 453.1C227.6 454.8 219.1 455.9 210.7 456.5C202.2 457.1 193.6 457.1 185.1 456.6C176.6 456 167.8 455.7 159.8 453.2C151.9 450.6 143.8 446.7 137.4 441.2C131.1 435.7 125.6 427.8 121.7 420.1C117.7 412.3 115 398.9 113.7 394.6" stroke-width="1.5" stroke-opacity="0.4"/><path d="M320.2 351.4C322.4 356.9 332 374.2 333.2 384C334.4 393.8 331.5 403.2 327.2 410.2C322.9 417.3 314.4 421.4 307.4 426.2C300.5 431.1 293 435.5 285.4 439.3C277.8 443.2 269.8 446.6 261.7 449.4C253.6 452.2 245.1 454.5 236.7 456.3C228.2 458 219.5 459.2 210.9 459.8C202.3 460.3 193.5 460.4 184.9 459.8C176.2 459.3 167.5 458.1 159.1 456.4C150.6 454.7 141.1 454.2 134.1 449.6C127.1 444.9 120.2 437.6 116.8 428.4C113.4 419.2 114.2 400.3 113.7 394.6" stroke-width="1.1" stroke-opacity="0.4"/><path d="M320.2 351.4C321.7 356.3 328 371.4 328.9 380.9C329.7 390.4 328.7 400.8 325.3 408.5C321.9 416.3 315 422.2 308.5 427.5C302 432.9 293.9 436.9 286.3 440.8C278.6 444.7 270.5 448.1 262.3 450.9C254.1 453.8 245.6 456.1 237.1 457.8C228.5 459.6 219.8 460.8 211 461.4C202.3 461.9 193.5 462 184.8 461.4C176 460.8 167 460.3 158.7 458C150.4 455.7 141.5 453 135 447.4C128.4 441.7 122.9 432.9 119.4 424.1C115.8 415.3 114.7 399.6 113.7 394.6" stroke-width="0.7" stroke-opacity="0.4"/><path d="M320.2 351.4C320.1 352.3 320 355 319.8 356.7C319.5 358.5 319.3 360.3 318.9 362C318.5 363.7 318.1 365.5 317.5 367.1C317 368.8 316.4 370.5 315.6 372C314.8 373.6 314 375.1 313 376.5C312 378 311 379.4 309.8 380.6C308.6 381.9 307.3 383.1 305.9 384.2C304.6 385.3 303.1 386.3 301.6 387.3C300 388.2 298.4 389 296.7 389.8C295.1 390.6 293.3 391.2 291.6 391.8C289.8 392.4 288 392.9 286.2 393.4C284.4 393.9 281.6 394.5 280.7 394.7" stroke-width="1" stroke-opacity="0.5"/><path d="M320.2 351.4C320.1 352.3 319.8 354.9 319.5 356.6C319.2 358.3 318.8 360 318.4 361.7C317.9 363.4 317.4 365 316.8 366.7C316.2 368.3 315.5 369.9 314.7 371.4C313.9 372.9 313 374.4 312.1 375.8C311.1 377.2 310 378.6 308.8 379.8C307.7 381.1 306.4 382.3 305.1 383.4C303.7 384.5 302.3 385.6 300.8 386.5C299.3 387.5 297.7 388.4 296.1 389.2C294.5 390 292.8 390.7 291.2 391.4C289.5 392 287.7 392.6 286 393.2C284.3 393.7 281.6 394.4 280.7 394.7" stroke-width="0.7" stroke-opacity="0.5"/><path d="M320.2 351.4C320.1 352.3 319.9 354.9 319.7 356.7C319.4 358.4 319.1 360.2 318.7 361.9C318.3 363.6 317.9 365.3 317.3 367C316.7 368.6 316.1 370.3 315.3 371.8C314.5 373.4 313.7 374.9 312.7 376.3C311.7 377.7 310.6 379.1 309.5 380.4C308.3 381.6 307 382.9 305.7 384C304.3 385.1 302.8 386.1 301.3 387C299.8 388 298.2 388.8 296.5 389.6C294.9 390.4 293.2 391.1 291.4 391.7C289.7 392.3 287.9 392.8 286.1 393.3C284.3 393.8 281.6 394.5 280.7 394.7" stroke-width="1.1" stroke-opacity="0.6"/><path d="M320.2 351.4C320.5 354.5 322.1 363.8 321.7 369.7C321.4 375.6 319.9 381.4 318.1 386.9C316.2 392.5 313.7 398 310.6 403.1C307.5 408.2 303.8 413.1 299.7 417.4C295.6 421.8 290.9 425.9 285.9 429.3C280.9 432.8 275.3 435.8 269.6 438.2C264 440.6 257.9 442.5 251.8 443.7C245.7 444.9 239.3 445.5 233.1 445.4C226.8 445.4 220.5 444.7 214.4 443.5C208.3 442.3 202.3 440.4 196.6 438C191 435.7 185.4 432.9 180.5 429.2C175.6 425.6 169.3 418.3 167.1 416.2" stroke-width="1.5" stroke-opacity="0.4"/><path d="M320.2 351.4C320.2 354.3 321 363.1 320.2 368.7C319.4 374.3 317.7 379.7 315.6 385C313.5 390.2 310.8 395.4 307.7 400.1C304.5 404.9 300.8 409.5 296.7 413.6C292.6 417.7 287.9 421.6 283 424.9C278.1 428.2 272.8 431 267.3 433.4C261.8 435.7 255.9 437.5 250 438.7C244.1 440 238 440.7 232 440.8C226 440.9 219.9 440.5 214 439.5C208.1 438.6 202.2 437.1 196.7 435.1C191.1 433.1 185.7 430.7 180.7 427.5C175.8 424.4 169.4 418.1 167.1 416.2" stroke-width="0.9" stroke-opacity="0.5"/><path d="M320.2 351.4C320.3 354.4 321.3 363.3 320.6 369C320 374.7 318.3 380.2 316.3 385.5C314.3 390.8 311.6 396.1 308.5 401C305.4 405.8 301.6 410.5 297.5 414.7C293.4 418.9 288.8 422.8 283.8 426.1C278.9 429.5 273.5 432.4 267.9 434.7C262.4 437.1 256.5 438.9 250.5 440.1C244.6 441.4 238.4 442 232.3 442.1C226.2 442.2 220 441.7 214.1 440.7C208.2 439.6 202.2 438 196.7 435.9C191.1 433.8 185.6 431.3 180.7 428C175.7 424.7 169.4 418.1 167.1 416.2" stroke-width="0.7" stroke-opacity="0.4"/><path d="M320.2 351.4C320.3 353.4 320.9 359.1 320.8 363C320.6 366.8 320.3 370.7 319.5 374.4C318.7 378.1 317.5 381.7 315.9 385C314.2 388.3 312.1 391.4 309.7 394.1C307.3 396.9 304.3 399.1 301.5 401.5C298.6 403.8 295.6 406 292.5 408.1C289.5 410.2 286.4 412.2 283.2 414.1C280 416 276.8 418 273.3 419.3C269.8 420.6 266 421.6 262.2 422.1C258.4 422.6 254.3 422.6 250.3 422.3C246.3 421.9 242.3 421.1 238.3 420.1C234.4 419.1 228.7 416.8 226.8 416.2" stroke-width="0.6" stroke-opacity="0.5"/><path d="M320.2 351.4C320.5 353.4 321.5 359.5 321.6 363.5C321.7 367.5 321.6 371.6 320.9 375.4C320.1 379.2 319 382.9 317.2 386.1C315.5 389.4 313.1 392.2 310.6 394.9C308 397.6 305 399.8 302.1 402.2C299.2 404.5 296.2 406.7 293.1 408.8C290.1 411 286.9 413 283.7 414.9C280.5 416.8 277.3 418.8 273.8 420.3C270.4 421.8 266.8 423.1 262.9 423.7C259.1 424.3 255 424.2 250.9 423.8C246.9 423.3 242.6 422.2 238.6 421C234.6 419.7 228.8 417 226.8 416.2" stroke-width="0.9" stroke-opacity="0.5"/><path d="M320.2 351.4C320.4 353.4 321.4 359.4 321.5 363.4C321.6 367.4 321.4 371.5 320.8 375.3C320.1 379.1 319 382.9 317.5 386.3C315.9 389.7 313.8 392.9 311.4 395.7C309 398.5 305.9 400.8 303 403.1C300.1 405.5 297.1 407.7 294 409.9C290.9 412 287.7 414.1 284.5 416C281.2 417.9 278 419.9 274.4 421.3C270.8 422.6 267 423.5 263.1 423.9C259.2 424.3 255 424.2 250.9 423.7C246.8 423.1 242.6 422.1 238.6 420.8C234.6 419.6 228.7 417 226.8 416.2" stroke-width="0.7" stroke-opacity="0.6"/><path d="M113.7 394.6C114.8 397.5 117.4 406.4 120.2 411.8C123 417.2 126.5 422.6 130.5 427C134.6 431.4 139.5 435.4 144.6 438.3C149.8 441.1 155.7 442.7 161.5 444.1C167.3 445.5 173.3 446.1 179.3 446.7C185.2 447.3 191.2 447.6 197.2 447.6C203.2 447.7 209.2 447.4 215.2 446.8C221.1 446.2 227.2 445.5 232.9 444.1C238.7 442.7 244.7 441.2 249.8 438.4C255 435.5 259.9 431.6 263.9 427.1C268 422.7 271.5 417.3 274.3 411.9C277.1 406.5 279.7 397.5 280.7 394.7" stroke-width="1.2" stroke-opacity="0.5"/><path d="M113.7 394.6C114.6 397.8 116.5 407.7 119.2 413.4C121.9 419.1 125.5 424.6 129.7 428.8C133.9 432.9 139.3 435.8 144.6 438.4C149.9 441 155.7 442.8 161.4 444.4C167.2 446 173.2 447.2 179.1 448C185.1 448.8 191.2 449.3 197.2 449.3C203.3 449.3 209.4 448.9 215.3 448.1C221.3 447.3 227.3 446 233 444.4C238.8 442.9 244.6 441.1 249.9 438.5C255.2 435.9 260.5 433.1 264.8 428.9C269 424.7 272.6 419.2 275.3 413.5C277.9 407.8 279.8 397.8 280.7 394.7" stroke-width="1.1" stroke-opacity="0.4"/><path d="M113.7 394.6C114.8 397.5 117.3 406.6 120.1 412C122.9 417.4 126.4 422.9 130.5 427.2C134.6 431.5 139.6 435.2 144.8 437.8C150 440.4 156 441.5 161.8 442.8C167.6 444.1 173.5 444.9 179.4 445.5C185.3 446 191.3 446.3 197.2 446.4C203.2 446.4 209.1 446.1 215 445.5C220.9 444.9 226.9 444.1 232.7 442.9C238.4 441.6 244.4 440.5 249.7 437.9C254.9 435.3 259.9 431.6 264 427.3C268.1 423 271.6 417.5 274.4 412.1C277.2 406.7 279.7 397.6 280.7 394.7" stroke-width="1.1" stroke-opacity="0.3"/><path d="M113.7 394.6C114.2 395.3 115.6 397.4 116.7 398.7C117.7 400.1 118.7 401.4 119.9 402.7C121 403.9 122.2 405.2 123.4 406.3C124.6 407.5 125.9 408.6 127.3 409.6C128.6 410.6 130.1 411.5 131.5 412.4C133 413.2 134.5 414 136.1 414.6C137.7 415.2 139.3 415.8 140.9 416.2C142.6 416.6 144.3 417 146 417.2C147.7 417.5 149.5 417.6 151.2 417.6C153 417.7 154.8 417.7 156.5 417.5C158.3 417.4 160.1 417.2 161.9 417C163.6 416.8 166.2 416.3 167.1 416.2" stroke-width="0.8" stroke-opacity="0.4"/><path d="M113.7 394.6C114.2 395.3 115.6 397.4 116.7 398.7C117.7 400.1 118.8 401.4 119.9 402.7C121 403.9 122.2 405.2 123.4 406.3C124.7 407.5 125.9 408.6 127.3 409.6C128.7 410.6 130.1 411.5 131.5 412.3C133 413.2 134.5 413.9 136.1 414.6C137.7 415.2 139.3 415.7 141 416.2C142.6 416.6 144.3 416.9 146 417.2C147.7 417.4 149.5 417.6 151.3 417.6C153 417.7 154.8 417.6 156.6 417.5C158.3 417.4 160.1 417.2 161.9 417C163.6 416.8 166.2 416.3 167.1 416.2" stroke-width="1.1" stroke-opacity="0.5"/><path d="M113.7 394.6C114.2 395.3 115.7 397.3 116.8 398.6C117.9 399.9 118.9 401.1 120.1 402.3C121.3 403.5 122.5 404.7 123.7 405.8C125 406.9 126.3 408 127.6 409C129 409.9 130.4 410.9 131.9 411.7C133.4 412.5 134.9 413.2 136.5 413.8C138 414.5 139.6 415 141.3 415.5C142.9 415.9 144.6 416.3 146.3 416.5C148 416.8 149.7 417 151.4 417.1C153.2 417.2 154.9 417.2 156.7 417.1C158.4 417.1 160.2 417 161.9 416.8C163.6 416.6 166.2 416.3 167.1 416.2" stroke-width="0.9" stroke-opacity="0.4"/><path d="M113.7 394.6C114.5 396.4 116.5 401.9 118.3 405.3C120 408.8 122 412.3 124.3 415.4C126.6 418.5 129.2 421.6 132 424.2C134.9 426.8 138 429.1 141.3 431C144.6 432.9 148.2 434.3 151.9 435.5C155.5 436.6 159.3 437.3 163.1 438.1C166.8 438.8 170.6 439.6 174.5 439.9C178.3 440.2 182.2 440.3 186 439.8C189.9 439.3 193.8 438.3 197.5 436.9C201.2 435.6 204.8 433.7 208.3 431.7C211.7 429.6 215 427.1 218.1 424.5C221.2 422 225.3 417.6 226.8 416.2" stroke-width="0.8" stroke-opacity="0.6"/><path d="M113.7 394.6C114.5 396.3 116.8 401.5 118.7 404.7C120.6 408 122.7 411.2 125 414.2C127.4 417.1 130 420 132.9 422.4C135.7 424.9 138.8 427.1 142.1 428.9C145.4 430.7 149 432.1 152.5 433.3C156.1 434.4 159.9 435.1 163.6 435.8C167.3 436.6 171 437.3 174.8 437.6C178.6 437.9 182.4 438 186.2 437.5C190 437.1 193.8 436.2 197.5 435C201.1 433.8 204.8 432.1 208.2 430.3C211.6 428.4 214.9 426.1 218 423.8C221.1 421.5 225.3 417.5 226.8 416.2" stroke-width="0.9" stroke-opacity="0.6"/><path d="M280.7 394.7C279.8 396.2 277.1 400.8 275.1 403.8C273 406.7 270.7 409.7 268.2 412.4C265.8 415.1 263.1 417.7 260.2 420.1C257.4 422.4 254.3 424.6 251.1 426.4C247.9 428.3 244.4 429.9 241 431.2C237.5 432.5 233.8 433.4 230.1 434.1C226.4 434.9 222.7 435.3 218.9 435.4C215.2 435.5 211.3 435.3 207.6 434.8C203.9 434.2 200.1 433.3 196.5 432.2C192.9 431.1 189.3 429.7 185.9 428.1C182.5 426.4 179.2 424.6 176.1 422.6C172.9 420.6 168.6 417.2 167.1 416.2" stroke-width="1.5" stroke-opacity="0.4"/><path d="M280.7 394.7C279.9 396.3 277.6 401.4 275.7 404.7C273.8 407.9 271.6 411.2 269.3 414.2C266.9 417.2 264.3 420.1 261.5 422.8C258.7 425.4 255.7 427.8 252.4 429.9C249.2 432 245.8 433.8 242.2 435.3C238.7 436.7 234.9 437.8 231.1 438.6C227.3 439.3 223.4 439.7 219.5 439.6C215.7 439.6 211.7 439.2 207.9 438.5C204 437.7 200.2 436.6 196.5 435.2C192.8 433.8 189.2 432.1 185.7 430.1C182.3 428.2 179 426 175.9 423.6C172.8 421.3 168.6 417.4 167.1 416.2" stroke-width="0.9" stroke-opacity="0.6"/><path d="M280.7 394.7C279.9 396.4 277.6 401.5 275.7 404.8C273.8 408 271.7 411.3 269.4 414.3C267 417.3 264.4 420.3 261.6 422.9C258.8 425.5 255.7 427.9 252.5 430C249.2 432 245.7 433.8 242.2 435.2C238.6 436.6 234.8 437.5 231 438.3C227.3 439 223.4 439.5 219.5 439.5C215.6 439.6 211.7 439.2 207.9 438.5C204 437.8 200.2 436.7 196.5 435.3C192.8 434 189.2 432.2 185.7 430.3C182.3 428.3 179 426.1 175.9 423.7C172.8 421.4 168.6 417.4 167.1 416.2" stroke-width="0.5" stroke-opacity="0.4"/><path d="M280.7 394.7C280.3 395.4 278.9 397.5 277.9 398.9C276.8 400.3 275.8 401.7 274.7 403C273.6 404.3 272.4 405.6 271.1 406.8C269.9 408 268.6 409.1 267.2 410.2C265.9 411.2 264.5 412.2 263 413C261.5 413.9 259.9 414.6 258.3 415.3C256.7 415.9 255.1 416.4 253.4 416.9C251.7 417.3 250 417.6 248.2 417.8C246.5 418 244.7 418.1 242.9 418.1C241.1 418.2 239.3 418.1 237.5 417.9C235.7 417.8 233.9 417.5 232.1 417.2C230.3 416.9 227.7 416.4 226.8 416.2" stroke-width="1.5" stroke-opacity="0.4"/><path d="M280.7 394.7C280.2 395.4 278.8 397.4 277.7 398.7C276.6 400 275.6 401.4 274.4 402.6C273.2 403.9 272 405.1 270.8 406.2C269.5 407.3 268.2 408.4 266.8 409.4C265.4 410.4 264 411.3 262.5 412.2C261 413 259.5 413.7 257.9 414.4C256.3 415 254.7 415.6 253 416C251.4 416.4 249.6 416.8 247.9 417C246.2 417.3 244.4 417.4 242.7 417.5C240.9 417.6 239.1 417.5 237.4 417.4C235.6 417.4 233.8 417.2 232 417C230.3 416.8 227.7 416.3 226.8 416.2" stroke-width="0.5" stroke-opacity="0.4"/><path d="M167.1 416.2C167.8 416.7 170.1 418.3 171.6 419.3C173.1 420.2 174.7 421.2 176.3 422C177.9 422.9 179.5 423.7 181.2 424.4C182.9 425.1 184.6 425.7 186.3 426.2C188.1 426.7 189.8 427.1 191.6 427.3C193.3 427.6 195.1 427.7 196.9 427.7C198.7 427.7 200.5 427.6 202.2 427.3C204 427.1 205.8 426.7 207.5 426.2C209.2 425.7 210.9 425.1 212.6 424.4C214.3 423.7 216 422.9 217.6 422.1C219.2 421.2 220.7 420.3 222.3 419.3C223.8 418.3 226 416.7 226.8 416.2" stroke-width="1.2" stroke-opacity="0.5"/><path d="M167.1 416.2C167.8 416.7 170.1 418.3 171.6 419.2C173.1 420.2 174.7 421.2 176.3 422C177.9 422.9 179.5 423.7 181.2 424.4C182.9 425.1 184.6 425.7 186.3 426.2C188.1 426.7 189.8 427.1 191.6 427.3C193.3 427.6 195.1 427.7 196.9 427.7C198.7 427.7 200.5 427.6 202.2 427.3C204 427.1 205.8 426.7 207.5 426.2C209.2 425.7 210.9 425.1 212.6 424.4C214.3 423.7 216 422.9 217.6 422.1C219.2 421.2 220.7 420.3 222.3 419.3C223.8 418.3 226 416.7 226.8 416.2" stroke-width="0.5" stroke-opacity="0.5"/><path d="M167.1 416.2C167.9 416.7 170.1 418.2 171.6 419.1C173.2 420 174.7 420.9 176.3 421.7C178 422.5 179.6 423.3 181.3 423.9C182.9 424.6 184.7 425.2 186.4 425.6C188.1 426.1 189.9 426.4 191.6 426.7C193.4 426.9 195.1 427 196.9 427C198.7 427 200.5 426.9 202.2 426.7C204 426.5 205.7 426.1 207.5 425.6C209.2 425.2 210.9 424.6 212.6 424C214.2 423.3 215.9 422.6 217.5 421.8C219.1 420.9 220.7 420 222.3 419.1C223.8 418.2 226 416.7 226.8 416.2" stroke-width="0.7" stroke-opacity="0.4"/><path d="M197.5 285L197.5 166" stroke-width="2.2" stroke-opacity="0.6"/><path d="M197.5 285L145.5 176" stroke-width="1.8" stroke-opacity="0.8"/><path d="M197.5 285L248.5 176" stroke-width="2.2" stroke-opacity="0.6"/><path d="M197.5 285L103.5 205" stroke-width="1.4" stroke-opacity="0.5"/><path d="M197.5 285L291.5 204" stroke-width="1.4" stroke-opacity="0.7"/><path d="M197.5 285L77 248.5" stroke-width="1" stroke-opacity="0.8"/><path d="M197.5 285L317.5 248.5" stroke-width="0.8" stroke-opacity="0.5"/><path d="M197.5 285L72 297" stroke-width="0.8" stroke-opacity="0.6"/><path d="M197.5 285L323 297" stroke-width="1.8" stroke-opacity="0.5"/><path d="M197.5 285L88 345" stroke-width="1.4" stroke-opacity="0.8"/><path d="M197.5 285L306.5 344" stroke-width="1" stroke-opacity="0.5"/><path d="M197.5 285L123 382.5" stroke-width="2.2" stroke-opacity="0.8"/><path d="M197.5 285L271.5 382.5" stroke-width="1" stroke-opacity="0.5"/><path d="M197.5 285L170.5 401.5" stroke-width="1.4" stroke-opacity="0.7"/><path d="M197.5 285L223.5 401.5" stroke-width="1.4" stroke-opacity="0.8"/></g><g font-family="Liberation Sans, Arial, sans-serif"><g transform="translate(197.5 166) scale(1 0.95)"><circle cx="0" cy="3.3" r="15.3" fill="#606060"/><circle cx="0" cy="0" r="15.5" fill="url(#b0)" stroke="#667595" stroke-width="0.7"/><path d="M-0.5 0.6L0.7 1.2L-1.6 0.5L1.1 2.9M4.3 1.3L4.5 0.2M0.3 6.2L-1 4.1L2 3.8L-0.2 1.5M1.1 -1.8L0.3 -0.8M-0.7 3.1L0.3 5.7L0.4 7.7L-0.9 5.3M3.1 6.7L4.7 8.8L5.1 9M-0.8 -3.4L0.7 -2.1L1.8 -2.8M5.2 4.1L7.2 5.1M-5.8 3.7L-8.5 1.2L-8.6 3L-6.9 4.6M-1.5 -0.6L0.5 -2.3L0.8 -3.2L-2.1 -1.6M-0.3 1.4L-0.9 0.1M-3.5 1.9L-4.2 4.5L-3.5 5L-0.9 4.5M4.1 1.5L3 0.3L4.6 -2.2L2.8 -4" fill="none" stroke="#3a50c0" stroke-width="0.7" stroke-opacity="0.75" stroke-linecap="round"/><ellipse cx="0" cy="-9.3" rx="8.7" ry="3.6" fill="url(#gloss)"/></g><g transform="translate(145.5 176) scale(1 0.95)"><circle cx="0" cy="3.3" r="15.3" fill="#606060"/><circle cx="0" cy="0" r="15.5" fill="url(#b1)" stroke="#8b5c91" stroke-width="0.7"/><path d="M-4.8 2.8L-7.8 1.5L-8.1 1.3M-4 -2.1L-5.5 -2.2L-3.3 0M0.4 1.7L-0.1 4.1L-2.6 2.5L-0.5 -0.1M-0 1.9L-2.6 -0.6L-4.7 -0.1M-5.6 0.7L-7.7 1.5L-6.3 2M1.4 1.4L0.5 3.6L-0.9 6M-5.7 2.6L-3.3 3.9M-0.3 2.2L-0.7 4.4L2.4 2.7L2.5 0.9M-0.1 1.7L0.8 3.3L2 3.9M-4 6.1L-4.5 4.7L-1.5 6.9L-2.7 6.5M-0.5 1.8L-2.1 2.1L-5.1 1.1L-2.9 0.7M1.8 1.2L-0.7 2.7M-1.5 5.4L-3.2 8L-3.8 9.7" fill="none" stroke="#7a3cc8" stroke-width="0.7" stroke-opacity="0.75" stroke-linecap="round"/><ellipse cx="0" cy="-9.3" rx="8.7" ry="3.6" fill="url(#gloss)"/></g><g transform="translate(248.5 176) scale(1 0.95)"><circle cx="0" cy="3.3" r="15.3" fill="#606060"/><circle cx="0" cy="0" r="15.5" fill="url(#b2)" stroke="#338282" stroke-width="0.7"/><path d="M1.9 2.2L4.2 1.1M-1 1.8L-3 0.9M0.2 1.6L1.8 0.1L0.7 1.6L2.7 -0.3M3.5 6.1L4.7 5.9L6.5 7.7M-1.4 3.3L-3.9 1.3L-3 -0.2L-2.5 2.4M-1.7 2.1L-4.8 3.6L-4.5 2.6M0 2.5L-1.6 3.8L-1.8 2.6L0.4 3.1M-3.1 5.9L-4.4 7.4L-5.9 5.6M0.7 2L2.7 0.8M0.2 3.7L-2.9 2.8L-0.9 5.3M3.6 2.7L3.5 4.1M2.3 4.3L0.8 5.7M-6.6 0.3L-4.6 -1" fill="none" stroke="#3a50c0" stroke-width="0.7" stroke-opacity="0.75" stroke-linecap="round"/><ellipse cx="0" cy="-9.3" rx="8.7" ry="3.6" fill="url(#gloss)"/></g><g transform="translate(103.5 205) scale(1 0.95)"><circle cx="0" cy="3.3" r="15.3" fill="#606060"/><circle cx="0" cy="0" r="15.5" fill="url(#b3)" stroke="#558927" stroke-width="0.7"/><path d="M4.1 -2.4L6.3 0.2L7.9 2.5M0.6 6.2L2.4 5.7L4.1 6.9L4.5 7.7M-0 -0.4L-2.4 1.5L-0.1 0.7L-1.5 -0.1M5.6 2.4L6.8 0.1L6.5 2.7M4.5 3.1L2 1.4L2.9 3L0.1 2.5M1.1 0.3L1.9 -2.3L2.7 -3.2M-0.4 2.2L-2.4 2.1L-4 4.5L-4 6.2M3.7 3.9L1.3 1.3L-1.6 2.8M0.3 1.7L-0.7 -0.2L-3.4 1.1M-0.4 -0.1L-1 -1L-0.7 1.3L-3.5 0.3M-5.9 -1L-5.6 -2M4.9 5.4L6.4 5.4L6.4 7.6L7.1 7.1M4.9 1.1L4.2 0.3L2.6 -2" fill="none" stroke="#7a3cc8" stroke-width="0.7" stroke-opacity="0.75" stroke-linecap="round"/><ellipse cx="0" cy="-9.3" rx="8.7" ry="3.6" fill="url(#gloss)"/></g><g transform="translate(291.5 204) scale(1 0.95)"><circle cx="0" cy="3.3" r="15.3" fill="#606060"/><circle cx="0" cy="0" r="15.5" fill="url(#b4)" stroke="#287f54" stroke-width="0.7"/><path d="M1.6 1.5L2.8 -0.5L0.6 0.9M-3.4 -2.3L-2.9 -1.2L-4.7 -3.4L-2.8 -4.5M3.4 3.4L5.7 1.1L4.2 0M0.8 1.2L3 0.6L4.9 -1.1M-0.5 3.5L-3.3 6L-0.4 6.8L1.4 6M-5.1 2.2L-6.2 2.1L-6.3 1.5L-4.8 2M3.6 -0.8L0.8 0.6L2.2 2.4M-1.8 6.7L-4.1 5.4L-4.3 7L-4.3 5.5M-2.5 1.9L0.1 0L1.2 -1.5M3.3 -3L3.2 -2.6M0.1 -0.9L0.9 1L3.3 3.3L3.2 4.9M5 1.8L2.3 0.7L3.2 2.5M3.2 1.1L3.1 0.7L4.7 1.9" fill="none" stroke="#3a50c0" stroke-width="0.7" stroke-opacity="0.75" stroke-linecap="round"/><ellipse cx="0" cy="-9.3" rx="8.7" ry="3.6" fill="url(#gloss)"/></g><g transform="translate(77 248.5) scale(1 0.95)"><circle cx="0" cy="3.3" r="15.3" fill="#606060"/><circle cx="0" cy="0" r="15.5" fill="url(#b5)" stroke="#6b6793" stroke-width="0.7"/><path d="M3.7 1.2L1.2 2.5L1.5 2L4 4.4M0.8 2.4L2.8 4.3L5.8 7L3.5 9.5M1.8 2.2L2.4 3L2.3 3.9M-2 1.5L-1.8 3.6L-4.7 5.8L-5.4 7.9M-2 -2L-2 -3.4L-0 -4.2M-1 -2.9L-3.1 -3.8L-1 -5.8M0 2L-1.4 2M1.3 2.7L4.2 3.5M1 7.2L1.8 8L1.7 10.1M0.1 -1.3L-1.1 -0.9M3.3 -2.2L0.2 -0.5L2 -2M5.7 4.8L6.1 4.9M0.5 2.5L1.5 0.3L0.1 1.5" fill="none" stroke="#7a3cc8" stroke-width="0.7" stroke-opacity="0.75" stroke-linecap="round"/><ellipse cx="0" cy="-9.3" rx="8.7" ry="3.6" fill="url(#gloss)"/></g><g transform="translate(317.5 248.5) scale(1 0.95)"><circle cx="0" cy="3.3" r="15.3" fill="#606060"/><circle cx="0" cy="0" r="15.5" fill="url(#b6)" stroke="#5c8989" stroke-width="0.7"/><path d="M-5.2 1.2L-8 0.3L-8.6 -1M1.3 3.8L3 6.2L3 5.1M-3.3 3.9L-4.1 5.9L-5.5 5.6L-4.5 5.8M-4.4 -2.3L-4.4 -2.8L-1.6 -2.5L-3.1 -3.9M-0 2.9L-0.8 3.2L-0.3 3.9L1.6 5.1M-0.8 4.6L1.9 7.1L2.9 5.5L5.7 3.2M-0.4 -0.5L-1.2 0.3L-3.7 1.4L-5.4 2.8M2 3.1L2.4 2.8M-2 1L-2.8 -0.1M-0.3 2.7L-0.1 3.3M-0.1 6.6L0.3 8M1.4 4.6L0 4.2M1 6.2L3 8.2" fill="none" stroke="#3a50c0" stroke-width="0.7" stroke-opacity="0.75" stroke-linecap="round"/><ellipse cx="0" cy="-9.3" rx="8.7" ry="3.6" fill="url(#gloss)"/></g><g transform="translate(72 297) scale(1 0.95)"><circle cx="0" cy="3.3" r="15.3" fill="#606060"/><circle cx="0" cy="0" r="15.5" fill="url(#b7)" stroke="#89284f" stroke-width="0.7"/><path d="M2.9 0.3L2.8 2.9M-1.5 2.1L-3.1 1.3L-4 0.7L-3.8 -1.4M-5 4.5L-4.1 6.5M-2.7 0.1L-5.2 1.4L-3.9 3.9L-3.7 2.7M5.6 2.8L2.9 2.5L1 1.1L2.3 -1.5M-2.2 0.2L-0.6 0.7" fill="none" stroke="#c85a20" stroke-width="1.9" stroke-opacity="0.75" stroke-linecap="round"/><ellipse cx="0" cy="-9.3" rx="8.7" ry="3.6" fill="url(#gloss)"/></g><g transform="translate(323 297) scale(1 0.95)"><circle cx="0" cy="3.3" r="15.3" fill="#606060"/><circle cx="0" cy="0" r="15.5" fill="url(#b8)" stroke="#2d558b" stroke-width="0.7"/><path d="M0.6 -2.4L1.6 -3.3M3.5 0.6L2.3 -1.1L3.1 0.2M0.3 1.9L3.2 4.1L1.5 6.6L1.7 8.3M-0.5 -1.6L-1.4 0.4M3.5 3.4L5.3 3.5M-1.1 6.4L-1.8 3.9L0.9 5.4M1.3 -3L1.1 -1.5M-2.5 1.8L-1.9 1.5L-1.4 3.3L0.2 4.4M-3.3 1.9L-2.3 3.3M0.6 -0.5L2.4 0.7L1.2 -1.1M-0.8 2.4L0.6 3.4L2.6 3.3L4.5 5.7M-2 3L-2.8 1.6L-3.2 1.2M4.2 6.3L1.9 5.6L3.4 4.7L5.2 6.7" fill="none" stroke="#3a50c0" stroke-width="0.7" stroke-opacity="0.75" stroke-linecap="round"/><ellipse cx="0" cy="-9.3" rx="8.7" ry="3.6" fill="url(#gloss)"/></g><g transform="translate(88 345) scale(1 0.95)"><circle cx="0" cy="3.3" r="15.3" fill="#606060"/><circle cx="0" cy="0" r="15.5" fill="url(#b9)" stroke="#288369" stroke-width="0.7"/><path d="M4.1 5.1L4.7 4L7.3 2.8M-3.1 -0.2L-3.3 -2.5M-1.8 4.7L-1.5 3.8L-0.1 1.5L-0.8 1.9M3.6 -0.7L6.2 -1.9M0.9 -0L-1.2 0.7L-2.9 1.2M-4.2 -1.1L-1.3 -1.9M-6.8 1.9L-3.8 0.7M-0.9 4.2L-3 4L0.1 4L1.4 4.3M-5.1 1L-2.5 0.9M2.3 -0.8L1.2 -1.2M-0.1 2.4L-1 0.2M-1.4 3.2L0.8 1.6L2.4 3L-0.1 2.9M1.8 4.2L-0.6 6.7" fill="none" stroke="#2a8a4a" stroke-width="0.7" stroke-opacity="0.75" stroke-linecap="round"/><ellipse cx="0" cy="-9.3" rx="8.7" ry="3.6" fill="url(#gloss)"/></g><g transform="translate(306.5 344) scale(1 0.95)"><circle cx="0" cy="3.3" r="15.3" fill="#606060"/><circle cx="0" cy="0" r="15.5" fill="url(#b10)" stroke="#303f8b" stroke-width="0.7"/><path d="M-1.9 -0.3L-2.5 0.3L-2.3 -0.1M-6.4 0.2L-5.2 -0.3L-6.1 -0.9M-0.5 3.3L1.2 1.5L-1.2 -0.8L-3.8 1.6M-1.2 3.6L0.8 3.3L0.7 4.6L1.1 4.5M4.3 2.3L4 1.6L6.5 4.2M-0.8 2.7L-1.1 1.1L-0.2 3M4.1 -1.5L4 -2.5L5.8 -2.2L3.6 -4.3M-2.8 2.1L-1.9 0.5L1.1 0.1L3.8 2.1M0.3 1.8L-2 0.1L-4.2 1.8M-5.7 4.1L-6.7 3.4L-9 1.7L-8.9 0.6M2.5 3.2L3.3 4.1M-0.1 2.9L1.8 4.2M-4 1.4L-2 0.3L-2.3 0.5L-0.9 -1.4" fill="none" stroke="#3a50c0" stroke-width="0.7" stroke-opacity="0.75" stroke-linecap="round"/><ellipse cx="0" cy="-9.3" rx="8.7" ry="3.6" fill="url(#gloss)"/></g><g transform="translate(123 382.5) scale(1 0.95)"><circle cx="0" cy="3.3" r="15.3" fill="#606060"/><circle cx="0" cy="0" r="15.5" fill="url(#b11)" stroke="#2a2a7f" stroke-width="0.7"/><path d="M0.3 -2.8L1.8 -2.4L0.7 -0.5L2.4 2.1M1.7 3.3L1.3 3.6L3.6 5.7M-0.5 0.6L0.4 1L0.6 -0.6L-1.2 1.8M2.3 0.6L3.3 2.5M3.7 -0.6L2.8 -0.6M0.2 4.3L-0.3 2.3L-1 0.5L0.9 0.2M0 1.9L-2.9 0.7M0.8 -0.3L1.8 -1.6L-1.2 -2M1.5 1.7L-1 4L-0.4 6.5L-1.6 5.8M-0.6 2.7L-2.9 3.3M3.2 0.5L4 1M-6.8 2.4L-8.1 0.6L-7.7 0.6L-7.2 -1.9M-3.7 -0.3L-2.5 1.3" fill="none" stroke="#3a50c0" stroke-width="0.7" stroke-opacity="0.75" stroke-linecap="round"/><ellipse cx="0" cy="-9.3" rx="8.7" ry="3.6" fill="url(#gloss)"/></g><g transform="translate(271.5 382.5) scale(1 0.95)"><circle cx="0" cy="3.3" r="15.3" fill="#606060"/><circle cx="0" cy="0" r="15.5" fill="url(#b12)" stroke="#646292" stroke-width="0.7"/><path d="M2 1L1.5 2.7L3.7 1.3L4.2 -0.3M-6.4 1L-5 -0.2L-6.4 0.1L-4.5 2.3M5.2 -1L5.9 0.9M-4.3 5.2L-7 6.1M3.2 4L6 3.5L7.7 3.8M-1 1.3L-0.5 1.8L-1.4 4.1L-2.5 2.7M1.4 5.5L3.4 7.6L2.6 10.1L3.6 9.8M-1 0.8L-0.3 1.6M2.9 0.5L2 1.3L4.4 0.4L2 0.8M0.7 1.4L0 2L0.7 -0.3M4.3 1.9L7.2 0.3L4.3 0.2M3.5 4.8L3.7 4.3L4.2 2.8L6.2 3.4M-6.3 1.8L-3.8 2.4" fill="none" stroke="#7a3cc8" stroke-width="0.7" stroke-opacity="0.75" stroke-linecap="round"/><ellipse cx="0" cy="-9.3" rx="8.7" ry="3.6" fill="url(#gloss)"/></g><g transform="translate(170.5 401.5) scale(1 0.95)"><circle cx="0" cy="3.3" r="15.3" fill="#606060"/><circle cx="0" cy="0" r="15.5" fill="url(#b13)" stroke="#358435" stroke-width="0.7"/><path d="M-2.2 2L-4.8 1.5M-0.9 2.2L-1.7 3.5L-0.7 1.5L2.1 4M0.8 2.4L0.1 2.6M0.6 1.3L-2.4 1.7M0.2 1.9L-0.3 2.3L1.7 3.1L2.4 3.1M-1.8 2.7L-1.1 1.7L-2.8 1.7M5.6 0.7L4.6 -1.7L5.7 -4L7.2 -3.9M3.5 3.9L4.5 5.4L4.4 3.1L5.7 1.7M-1.1 1.5L-3.3 -0.7L-1.1 1.6L0.8 -0.7M0.9 6.7L-1.8 5.4L0.2 5.1M-2.5 6.5L-0.7 7.4L0.8 5.2M0.1 1.9L-0.7 0L-2.6 1.8L-1.6 0.3M-0.7 2L-3.2 2.9" fill="none" stroke="#2a8a4a" stroke-width="0.7" stroke-opacity="0.75" stroke-linecap="round"/><ellipse cx="0" cy="-9.3" rx="8.7" ry="3.6" fill="url(#gloss)"/></g><g transform="translate(223.5 401.5) scale(1 0.95)"><circle cx="0" cy="3.3" r="15.3" fill="#606060"/><circle cx="0" cy="0" r="15.5" fill="url(#b14)" stroke="#8b8b36" stroke-width="0.7"/><path d="M2 5.8L1.7 3.6M-2.8 1.6L-4.1 3.1L-1.2 1.2M-1 3.2L-1.1 3.4L-1.7 3.3L-2 2.4M-3.5 1.1L-4.5 -1.2M1.1 2.8L3.1 4M-4 -1.8L-1 -0.7M2.6 0L3.7 1.7M-3.1 -1.7L-5.7 -3.4L-2.6 -5.3L-2.1 -4.6M-0.2 2.2L-3 3.5L-4.3 3.9M1.6 6.2L1.2 7.8L-0.9 10L1.6 10.4M1 1.7L1.1 3.8M3.1 3.2L4.7 4.1L7.7 4.7M2.4 1L3.7 3.7L6.6 5.4" fill="none" stroke="#a09020" stroke-width="0.7" stroke-opacity="0.75" stroke-linecap="round"/><ellipse cx="0" cy="-9.3" rx="8.7" ry="3.6" fill="url(#gloss)"/></g><g transform="translate(197.5 285) scale(1 0.95)"><circle cx="0" cy="3.3" r="15.3" fill="#606060"/><circle cx="0" cy="0" r="15.5" fill="url(#b15)" stroke="#8c3035" stroke-width="0.7"/><path d="M-3.3 5.9L-0.7 5.9L-0.8 8.1L2 10.3M-2 4.1L-3.4 3.5M-1.1 -0.1L-0.1 1.1L1.3 1.9M-0.2 2.5L0.3 3.8L-1.3 2.4L0.9 3M1.5 -0.2L0.1 2.3M-3.9 0L-3.2 -1M-0 1.9L2.3 -0.4L0.1 2.1M2.9 -1.5L0.2 -0.6L-2.1 -2.4M2.6 2.7L4.1 2L3.4 3.3L1.5 4M-3.4 -2.2L-1.2 -2.2L-3.6 -1.9L-2.1 -4.4M3.6 -1.3L3.6 0.8L1.2 -1.1L0.4 -3M-0.2 6.8L1.1 6.4L1.6 8L4.5 8.4M-0.5 -2.1L-1.1 -2.3L-0.8 -3.7" fill="none" stroke="#7a3cc8" stroke-width="0.7" stroke-opacity="0.75" stroke-linecap="round"/><ellipse cx="0" cy="-9.3" rx="8.7" ry="3.6" fill="url(#gloss)"/></g><text transform="translate(197.5 148) scale(1.03 1)" font-size="12.2" text-anchor="middle" fill="#1c1c1c">KDR</text><text transform="translate(145.5 158) scale(1.03 1)" font-size="12.2" text-anchor="middle" fill="#1c1c1c">FGF18</text><text transform="translate(248.5 158) scale(1.03 1)" font-size="12.2" text-anchor="middle" fill="#1c1c1c">BDNF</text><text transform="translate(103.5 187) scale(1.03 1)" font-size="12.2" text-anchor="middle" fill="#1c1c1c">TEK</text><text transform="translate(291.5 186) scale(1.03 1)" font-size="12.2" text-anchor="middle" fill="#1c1c1c">HGF</text><text transform="translate(77 230.5) scale(1.03 1)" font-size="12.2" text-anchor="middle" fill="#1c1c1c">FGF2</text><text transform="translate(317.5 230.5) scale(1.03 1)" font-size="12.2" text-anchor="middle" fill="#1c1c1c">MMP9</text><text transform="translate(72 279) scale(1.03 1)" font-size="12.2" text-anchor="middle" fill="#1c1c1c">CSF3</text><text transform="translate(323 279) scale(1.03 1)" font-size="12.2" text-anchor="middle" fill="#1c1c1c">MMP2</text><text transform="translate(88 327) scale(1.03 1)" font-size="12.2" text-anchor="middle" fill="#1c1c1c">VEGFA</text><text transform="translate(306.5 326) scale(1.03 1)" font-size="12.2" text-anchor="middle" fill="#1c1c1c">GSK3B</text><text transform="translate(123 364.5) scale(1.03 1)" font-size="12.2" text-anchor="middle" fill="#1c1c1c">IL1B</text><text transform="translate(271.5 364.5) scale(1.03 1)" font-size="12.2" text-anchor="middle" fill="#1c1c1c">PTGS2</text><text transform="translate(170.5 383.5) scale(1.03 1)" font-size="12.2" text-anchor="middle" fill="#1c1c1c">BMP2</text><text transform="translate(223.5 383.5) scale(1.03 1)" font-size="12.2" text-anchor="middle" fill="#1c1c1c">HIF1A</text><text transform="translate(197.5 267) scale(1.03 1)" font-size="12.2" text-anchor="middle" fill="#1c1c1c">NGF</text></g>
<g fill="none" stroke="#a2a2a2" stroke-linecap="round"><path d="M285.2 588.5C275.3 602.5 235.5 658.7 225.5 672.8" stroke-width="0.9" stroke-opacity="0.5"/><path d="M270.5 590.9C260.5 591.2 229.5 591.5 210.7 592.7C192 593.9 173.9 595 158.1 598C142.3 600.9 130.5 602.9 115.9 610.2C101.3 617.6 83.7 629 70.2 641.9C56.8 654.7 43.3 671.7 35.1 687.5C26.9 703.3 23.7 720.3 21.1 736.7C18.4 753.1 16.4 768.3 19.3 785.9C22.2 803.4 27.2 826 38.6 842.1C50.1 858.2 69.7 872.2 87.8 882.5C106 892.7 129.4 900.9 147.5 903.5C165.7 906.2 183.8 902.7 196.7 898.3C209.6 893.9 219.2 883.9 224.8 877.2C230.4 870.5 229.2 861.1 230.1 857.9" stroke-width="1" stroke-opacity="0.5"/><path d="M288.7 605C290.9 612.9 297.7 635.7 302.1 652.4C306.5 669.1 312 688.7 315.1 705.1C318.1 721.5 320.2 734.9 320.3 750.7C320.5 766.6 320.3 786.5 316.1 799.9C311.9 813.4 307.3 823.8 295 831.5C282.8 839.3 251.1 843.8 242.4 846.3" stroke-width="1.1" stroke-opacity="0.5"/><path d="M224.8 641.9C222.5 638.3 217.8 626.3 210.7 620.8C203.7 615.2 194.4 611.1 182.6 608.5C170.9 605.9 154.5 604.1 140.5 605C126.4 605.9 110.6 608.2 98.3 613.8C86.1 619.3 74.6 628.4 66.7 638.3C58.8 648.3 53.4 660.9 50.9 673.5C48.4 686.1 51.5 707.1 51.6 713.9" stroke-width="2.4" stroke-opacity="0.6"/><path d="M219.5 643.6C215.7 638.9 208.1 621.8 196.7 615.5C185.3 609.3 166.3 606.9 151 606C135.8 605.2 120.6 604.3 105.4 610.2C90.2 616.2 72.3 627.2 59.7 641.9C47.1 656.5 36.2 678.7 29.9 698.1C23.5 717.4 20.9 738.5 21.8 757.8C22.7 777.1 27 800.5 35.1 814C43.2 827.4 60.6 833.9 70.2 838.6C79.9 843.2 89.3 841.5 93.1 842.1" stroke-width="1.6" stroke-opacity="0.6"/><path d="M242.4 661.9C246.5 661.8 258.2 658.7 266.9 661.2C275.7 663.7 286.9 667.9 295 677C303.2 686.1 311.7 701 316.1 715.6C320.5 730.3 322 749 321.4 764.8C320.8 780.6 318.8 798.2 312.6 810.5C306.5 822.8 296.2 832 284.5 838.6C272.8 845.1 249.4 847.9 242.4 849.8" stroke-width="2" stroke-opacity="0.6"/><path d="M225.5 672.8C215.7 686.5 176.6 741.3 166.8 755" stroke-width="2.8" stroke-opacity="0.7"/><path d="M68.5 729.7C84.9 733.9 150.5 750.7 166.8 755" stroke-width="1.9" stroke-opacity="0.6"/><path d="M166.8 755C157 769.2 117.7 826.1 107.8 840.3" stroke-width="1.2" stroke-opacity="0.5"/><path d="M166.8 755C176.6 769.2 215.7 826.1 225.5 840.3" stroke-width="1.8" stroke-opacity="0.6"/><path d="M52 731.4C48.3 734.6 35 741.7 29.9 750.7C24.7 759.8 20.8 774.2 21.1 785.9C21.4 797.6 24.6 811.6 31.6 821C38.6 830.4 53.2 838.2 63.2 842.1C73.3 845.9 87.2 843.8 92 844.2" stroke-width="1.9" stroke-opacity="0.6"/><path d="M52.7 733.2C47.4 735.5 27.2 738.5 21.1 747.2C14.9 756 14.6 772.4 15.8 785.9C17 799.3 20.2 817.2 28.1 828C36 838.9 52.6 847 63.2 850.9C73.9 854.7 87.2 851.1 92 851.2" stroke-width="0.8" stroke-opacity="0.4"/><path d="M101.9 856.1C102.4 859.6 101.3 870.2 105.4 877.2C109.5 884.2 117.1 893.1 126.4 898.3C135.8 903.4 149.3 907.5 161.6 908.1C173.9 908.7 189.7 906.4 200.2 901.8C210.7 897.2 219.5 888 224.8 880.7C230.1 873.4 230.7 861.7 231.8 857.9" stroke-width="2.4" stroke-opacity="0.6"/><path d="M52.7 736.7C48.3 743.7 30.1 763.6 26.3 778.8C22.5 794.1 24.3 813.4 29.9 828C35.4 842.7 47.1 855.5 59.7 866.7C72.3 877.8 89 887.7 105.4 894.8C121.8 901.8 141.7 907.9 158.1 908.8C174.5 909.7 192.3 905.3 203.7 900C215.1 894.8 221.8 884.2 226.6 877.2C231.4 870.2 231.5 861.1 232.5 857.9" stroke-width="1.3" stroke-opacity="0.5"/></g><g font-family="Liberation Sans, Arial, sans-serif"><circle cx="285.2" cy="591.8" r="16.1" fill="#606060"/><circle cx="285.2" cy="588.5" r="16.3" fill="url(#b16)" stroke="#2e2e84" stroke-width="0.7"/><path d="M282.9 590.6L280.1 590.1M284.2 590.8L283.4 592.2L284.4 590.1L287.4 592.7M286.1 591L285.3 591.3M285.8 589.9L282.7 590.3M285.4 590.5L284.9 590.9L287 591.7L287.7 591.7M283.3 591.3L284 590.3L282.3 590.3M291.1 589.2L290 586.7L291.2 584.3L292.7 584.4M288.8 592.6L289.9 594.2L289.8 591.7L291.1 590.3M284 590.1L281.7 587.8L284.1 590.1L286 587.8M286.2 595.6L283.3 594.2L285.5 593.9M282.5 595.4L284.4 596.3L286 594M285.3 590.5L284.5 588.5L282.5 590.4L283.5 588.8M284.5 590.6L281.9 591.5" fill="none" stroke="#b03090" stroke-width="0.7" stroke-opacity="0.75" stroke-linecap="round"/><ellipse cx="285.2" cy="578.7" rx="9.1" ry="3.7" fill="url(#gloss)"/><circle cx="225.5" cy="676.1" r="16.1" fill="#606060"/><circle cx="225.5" cy="672.8" r="16.3" fill="url(#b17)" stroke="#895e92" stroke-width="0.7"/><path d="M224.5 675.6L223 672.8L222.2 674.8M225.3 676.6L222.2 677.8L220.2 677.4M225.6 674.7L226.1 674.5L229.1 672.6M225.3 677.6L224.3 675.2L224.3 675.7L225.5 673M223.2 679.5L224.1 679.3L221.7 678.8L222 677.5M225.7 671.7L228.8 673L226.3 673M222.1 675.4L221.8 672.9L221.8 670.4L221 671.7M231.9 675.6L233 673L232.5 672.2M221.9 675.5L220.5 673.7L218.7 675.9L216.7 677.9M223.9 675.1L225.8 675.2M222 671.7L222.1 674.4M229.2 676.7L228.2 678.2L231.3 680.5L231.9 681.4M230.8 676.6L228.6 674.2L230.4 673.6" fill="none" stroke="#7a3cc8" stroke-width="0.7" stroke-opacity="0.75" stroke-linecap="round"/><ellipse cx="225.5" cy="663" rx="9.1" ry="3.7" fill="url(#gloss)"/><circle cx="68.5" cy="733" r="16.1" fill="#606060"/><circle cx="68.5" cy="729.7" r="16.3" fill="url(#b18)" stroke="#558888" stroke-width="0.7"/><path d="M66.9 731.4L66.4 730.1L67.3 728.5L65.1 728.8M68.3 731.2L70.3 733.4M71.8 736.8L70.6 738.6L73.1 739.6L71.3 739.2M68.5 731.6L67.2 733.6L65.4 735.8M64.8 734.6L67.4 732.2L67.8 731.1M74.8 732.4L77.9 731.7L77.9 730.1L77.8 729.7M74.6 730.6L73.8 732.4L72 731.3L69.6 730.9M75.1 729.5L77.3 727.9M62.9 728.4L61.4 728.5L64.7 725.8L62.1 726.7M68.6 730.2L71.8 727.5L71 725.7L68.6 728.1M68.4 737.2L69.6 738.3L71.8 739.3M70.9 735.8L69.4 733.8M74.6 729.8L75.3 730.9" fill="none" stroke="#3a50c0" stroke-width="0.7" stroke-opacity="0.75" stroke-linecap="round"/><ellipse cx="68.5" cy="719.9" rx="9.1" ry="3.7" fill="url(#gloss)"/><circle cx="166.8" cy="758.3" r="16.1" fill="#606060"/><circle cx="166.8" cy="755" r="16.3" fill="url(#b19)" stroke="#8f8f64" stroke-width="0.7"/><path d="M168.6 757.1L168.3 757.2L166.6 759.7M168.3 752.7L166.1 750.3L163 751.6L160.6 753.2M166.5 757.1L168.7 759.1L168.8 757.1M167.7 757L167.8 758.7L164.9 758.6M170.5 754.1L171.3 753.6L172.2 751.8M160.5 757.3L160.1 757.1L162.2 759.4L163.6 761.9M165.9 753.1L169 753.6L171.8 753M172.7 757.8L171.3 758.8L170.5 756.2M164.2 753.3L164.1 752.3M165.3 756.8L164.7 755.9M171.3 757.4L172.3 758.6L172.9 758.3M164.8 754.7L165 753.5L165.2 750.8M167.1 757.3L165.4 756.5L166.6 757.9L169.6 760.3" fill="none" stroke="#b03090" stroke-width="0.7" stroke-opacity="0.75" stroke-linecap="round"/><ellipse cx="166.8" cy="745.2" rx="9.1" ry="3.7" fill="url(#gloss)"/><circle cx="107.8" cy="843.6" r="16.1" fill="#606060"/><circle cx="107.8" cy="840.3" r="16.3" fill="url(#b20)" stroke="#8d3439" stroke-width="0.7"/><ellipse cx="107.8" cy="830.5" rx="9.1" ry="3.7" fill="url(#gloss)"/><circle cx="225.5" cy="843.6" r="16.1" fill="#606060"/><circle cx="225.5" cy="840.3" r="16.3" fill="url(#b21)" stroke="#2e832e" stroke-width="0.7"/><path d="M226.4 840.2L227.6 842.5L228.7 842.2M226 843.6L227.7 844.3M226.8 842.8L226.8 841.6L225.3 844.1M222.6 846L221.5 844.6M226.8 843.4L224.3 846L222.8 848.3M219.5 843.3L222.6 845.2M222.8 838.3L219.7 836.1L218.7 835.3M227.8 843.2L231 842.7L229.1 842.2M225.5 842.2L222.8 841.8L220.2 841.4M218.6 842.6L217.3 842.2L216 841.8L218.8 841M225.7 842.7L226.8 843.7M226.9 840.2L227.2 838.6L226.2 841.3M227.4 841L226.2 839.3L224.5 839.2" fill="none" stroke="#a09020" stroke-width="0.7" stroke-opacity="0.75" stroke-linecap="round"/><ellipse cx="225.5" cy="830.5" rx="9.1" ry="3.7" fill="url(#gloss)"/><text x="285.2" y="567.5" font-size="13.2" text-anchor="middle" fill="#1c1c1c">MCAM</text><text x="225.5" y="651.8" font-size="13.2" text-anchor="middle" fill="#1c1c1c">BMP4</text><text x="68.5" y="708.7" font-size="13.2" text-anchor="middle" fill="#1c1c1c">SHH</text><text x="166.8" y="734" font-size="13.2" text-anchor="middle" fill="#1c1c1c">BMP7</text><text x="107.8" y="819.3" font-size="13.2" text-anchor="middle" fill="#1c1c1c">SPP1</text><text x="225.5" y="819.3" font-size="13.2" text-anchor="middle" fill="#1c1c1c">RUNX2</text></g>
<g fill="none" stroke="#9e9e9e" stroke-linecap="round"><path d="M178.3 1125.3C179.3 1124.7 182 1122.7 183.9 1121.5C185.8 1120.3 187.8 1119.1 189.8 1118.1C191.8 1117 193.9 1116 196.1 1115.1C198.2 1114.3 200.4 1113.5 202.7 1112.9C204.9 1112.2 207.2 1111.7 209.5 1111.4C211.8 1111 214.1 1110.8 216.5 1110.8C218.8 1110.7 221.1 1110.8 223.5 1111C225.8 1111.3 228.1 1111.7 230.4 1112.2C232.6 1112.7 234.9 1113.3 237.1 1114.1C239.3 1114.9 241.4 1115.8 243.5 1116.7C245.6 1117.7 247.7 1118.8 249.7 1119.9C251.7 1121 254.5 1122.9 255.5 1123.5" stroke-width="0.6" stroke-opacity="0.6"/><path d="M178.3 1125.3C179.3 1124.7 182 1122.7 183.9 1121.5C185.8 1120.3 187.8 1119.1 189.8 1118C191.8 1116.9 193.9 1115.9 196.1 1115.1C198.2 1114.2 200.4 1113.4 202.7 1112.8C204.9 1112.2 207.2 1111.7 209.5 1111.3C211.8 1111 214.1 1110.7 216.5 1110.7C218.8 1110.6 221.1 1110.7 223.5 1111C225.8 1111.2 228.1 1111.6 230.4 1112.1C232.6 1112.6 234.9 1113.3 237.1 1114C239.3 1114.8 241.5 1115.7 243.6 1116.7C245.7 1117.7 247.7 1118.8 249.7 1119.9C251.7 1121 254.5 1122.9 255.5 1123.5" stroke-width="0.7" stroke-opacity="0.4"/><path d="M178.3 1125.3C177.3 1125.4 174.2 1125.4 172.1 1125.6C170 1125.7 167.9 1125.9 165.8 1126.2C163.7 1126.4 161.6 1126.8 159.6 1127.2C157.5 1127.7 155.5 1128.2 153.5 1128.8C151.6 1129.4 149.6 1130.2 147.8 1131C145.9 1131.8 144.1 1132.8 142.3 1133.8C140.6 1134.8 138.9 1135.9 137.3 1137.1C135.7 1138.3 134.2 1139.6 132.8 1141C131.3 1142.3 130 1143.8 128.7 1145.3C127.5 1146.8 126.3 1148.3 125.2 1149.9C124.1 1151.5 123.1 1153.2 122.1 1154.9C121.2 1156.5 119.9 1159.1 119.5 1159.9" stroke-width="0.8" stroke-opacity="0.3"/><path d="M178.3 1125.3C177.3 1125.4 174.2 1125.4 172.1 1125.6C170 1125.7 167.9 1125.9 165.8 1126.2C163.7 1126.5 161.6 1126.8 159.6 1127.3C157.6 1127.7 155.5 1128.2 153.6 1128.9C151.6 1129.5 149.7 1130.2 147.8 1131C145.9 1131.9 144.1 1132.8 142.4 1133.8C140.6 1134.8 138.9 1136 137.3 1137.2C135.8 1138.4 134.2 1139.7 132.8 1141C131.4 1142.4 130 1143.8 128.8 1145.3C127.5 1146.8 126.3 1148.4 125.2 1150C124.1 1151.6 123.1 1153.2 122.1 1154.9C121.2 1156.5 119.9 1159.1 119.5 1159.9" stroke-width="0.7" stroke-opacity="0.5"/><path d="M178.3 1125.3C180.2 1123.8 185.3 1118.7 189.3 1115.9C193.3 1113.2 197.6 1110.7 202.1 1108.7C206.7 1106.7 211.5 1105 216.4 1103.9C221.2 1102.8 226.3 1102.2 231.4 1102C236.4 1101.7 241.5 1101.8 246.5 1102.3C251.6 1102.8 256.6 1103.6 261.5 1104.8C266.4 1105.9 271.3 1107.4 275.9 1109.3C280.5 1111.1 285.1 1113.2 289.3 1115.7C293.5 1118.2 297.6 1120.9 301.2 1124C304.8 1127.2 308 1130.8 310.8 1134.5C313.6 1138.3 315.9 1142.4 317.8 1146.7C319.6 1150.9 321.2 1157.7 321.9 1159.9" stroke-width="0.6" stroke-opacity="0.6"/><path d="M178.3 1125.3C180.2 1124 185.6 1119.7 189.7 1117.3C193.7 1114.9 198 1112.8 202.5 1111.1C207 1109.3 211.7 1107.9 216.5 1106.9C221.2 1105.8 226.2 1105.2 231.1 1105C236 1104.7 241 1105 245.9 1105.5C250.8 1106 255.8 1106.8 260.6 1107.9C265.3 1109.1 270.1 1110.5 274.6 1112.3C279.1 1114 283.6 1116 287.7 1118.4C291.9 1120.8 295.8 1123.6 299.4 1126.6C302.9 1129.6 306.2 1133 309.1 1136.5C312 1140 314.5 1143.8 316.7 1147.7C318.8 1151.6 321 1157.8 321.9 1159.9" stroke-width="0.7" stroke-opacity="0.4"/><path d="M178.3 1125.3C176.1 1125.2 169.4 1124.4 164.9 1124.4C160.5 1124.4 155.9 1124.7 151.4 1125.4C146.9 1126 142.4 1127 138.2 1128.3C133.9 1129.6 129.6 1131.2 125.7 1133.2C121.8 1135.1 118 1137.5 114.5 1140C111 1142.6 107.7 1145.4 104.6 1148.4C101.6 1151.4 98.8 1154.6 96.3 1158C93.8 1161.3 91.5 1164.9 89.7 1168.5C87.9 1172.2 86.5 1176.1 85.4 1180C84.4 1184 83.8 1188.1 83.5 1192.1C83.2 1196.1 83.3 1200.2 83.7 1204.2C84.1 1208.2 85.6 1214.1 86 1216.1" stroke-width="0.8" stroke-opacity="0.6"/><path d="M178.3 1125.3C180.9 1122.6 188 1113.3 194 1108.7C200 1104.2 207.2 1100.5 214.4 1098.1C221.7 1095.6 229.6 1094.4 237.3 1094.1C245 1093.8 252.8 1094.9 260.5 1096.2C268.1 1097.5 275.7 1099.4 283 1101.7C290.4 1104.1 297.6 1107.1 304.4 1110.5C311.2 1113.9 317.8 1117.9 323.8 1122.3C329.9 1126.6 335.7 1131.5 340.9 1136.6C346 1141.8 351.2 1147.2 354.9 1153.2C358.5 1159.3 361.5 1166 362.8 1172.8C364.1 1179.7 364.2 1187.1 362.9 1194.1C361.5 1201.2 356 1211.6 354.6 1215.1" stroke-width="0.6" stroke-opacity="0.4"/><path d="M178.3 1125.3C181.1 1123.1 188.7 1115.5 194.7 1112.1C200.8 1108.7 207.8 1106.7 214.8 1105.1C221.7 1103.4 229.1 1102.3 236.4 1102C243.7 1101.6 251.3 1101.8 258.6 1102.7C266 1103.6 273.4 1105.2 280.5 1107.3C287.6 1109.4 294.6 1112.2 301.1 1115.5C307.6 1118.8 313.9 1122.7 319.6 1127C325.3 1131.3 330.6 1136.2 335.3 1141.4C339.9 1146.5 344.1 1152.2 347.4 1158C350.8 1163.8 353.6 1170 355.6 1176.2C357.5 1182.5 359.3 1188.9 359.1 1195.4C358.9 1201.9 355.4 1211.8 354.6 1215.1" stroke-width="0.9" stroke-opacity="0.4"/><path d="M178.3 1125.3C174.9 1125 164.5 1123 157.6 1123.1C150.7 1123.3 143.6 1124.3 137.2 1126.1C130.7 1128 124.5 1130.9 118.8 1134.2C113.2 1137.5 108.1 1141.7 103.3 1146C98.5 1150.3 94 1155 89.9 1159.9C85.8 1164.8 82.1 1170 78.8 1175.4C75.6 1180.8 72.8 1186.5 70.5 1192.3C68.2 1198 66.4 1204 65.1 1210C63.8 1216 62.6 1222.1 62.6 1228.2C62.7 1234.2 63.4 1240.5 65.3 1246.3C67.2 1252.2 70.2 1258 73.8 1263.3C77.5 1268.5 85.1 1275.3 87.3 1277.7" stroke-width="0.6" stroke-opacity="0.4"/><path d="M178.3 1125.3C174.6 1124.5 163.4 1120.8 156 1120.3C148.6 1119.7 140.9 1120.3 134.1 1122C127.2 1123.7 121 1127 115.1 1130.4C109.2 1133.8 103.9 1138.1 98.8 1142.5C93.8 1146.9 89 1151.7 84.8 1156.8C80.5 1161.9 76.6 1167.3 73.3 1172.9C69.9 1178.5 67 1184.4 64.7 1190.4C62.3 1196.4 60.5 1202.6 59.2 1208.8C57.9 1215 56.9 1221.4 56.9 1227.6C57 1233.9 57.5 1240.4 59.7 1246.4C61.9 1252.4 65.7 1258.5 70.3 1263.7C74.9 1268.9 84.5 1275.4 87.3 1277.7" stroke-width="0.7" stroke-opacity="0.5"/><path d="M178.3 1125.3C182 1122.5 192.1 1111.9 200.4 1108C208.7 1104.2 218.5 1103 228 1102.1C237.4 1101.1 247.3 1101.3 256.9 1102.3C266.5 1103.4 276.3 1105.5 285.5 1108.4C294.8 1111.3 303.9 1115.3 312.3 1119.9C320.7 1124.6 328.8 1130.2 335.9 1136.3C343.1 1142.5 349.6 1149.5 355.1 1156.8C360.6 1164.1 365.4 1172.2 369 1180.3C372.6 1188.5 375.3 1197.2 376.8 1205.8C378.3 1214.3 378.8 1223.2 378.1 1231.8C377.3 1240.3 376.4 1249.2 372.3 1256.9C368.2 1264.5 356.4 1274.3 353.2 1277.8" stroke-width="1.9" stroke-opacity="0.4"/><path d="M178.3 1125.3C172.9 1123.8 156.2 1116.7 146 1116.4C135.8 1116 125.5 1119 117.1 1123.1C108.7 1127.1 102.3 1134.3 95.7 1140.7C89.2 1147 83.2 1154 78 1161.2C72.8 1168.5 68.2 1176.2 64.4 1184.2C60.7 1192.1 57.6 1200.4 55.4 1208.8C53.2 1217.2 51.7 1225.9 51.1 1234.5C50.5 1243.2 50.8 1251.9 51.8 1260.5C52.9 1269.1 54.7 1277.7 57.4 1286C60 1294.3 62.2 1303.3 67.7 1310.3C73.2 1317.3 80.9 1324.1 90.3 1327.9C99.7 1331.7 118.4 1332.1 124.1 1333" stroke-width="1.5" stroke-opacity="0.6"/><path d="M178.3 1125.3C173.2 1124.3 157.6 1119 147.6 1118.8C137.5 1118.7 126.7 1120.6 118.2 1124.3C109.7 1128 103 1134.9 96.4 1141.2C89.8 1147.4 84 1154.4 78.8 1161.6C73.6 1168.8 69 1176.5 65.3 1184.5C61.5 1192.4 58.5 1200.7 56.3 1209C54.1 1217.4 52.6 1226 52 1234.6C51.4 1243.2 51.7 1251.9 52.7 1260.4C53.7 1269 55.5 1277.6 58.2 1285.8C61 1294 63.5 1302.9 69.3 1309.7C75.1 1316.4 83.9 1322.4 93 1326.3C102.1 1330.2 118.9 1331.9 124.1 1333" stroke-width="0.7" stroke-opacity="0.4"/><path d="M178.3 1125.3C182.9 1120.2 194.7 1100.5 205.6 1094.8C216.4 1089 231 1089.9 243.5 1090.6C256.1 1091.3 268.9 1095 280.9 1098.9C292.8 1102.9 304.6 1108.2 315.2 1114.4C325.9 1120.7 336 1128.2 344.9 1136.4C353.8 1144.6 361.8 1153.9 368.4 1163.6C375.1 1173.4 380.6 1184.1 384.6 1194.9C388.7 1205.8 391.4 1217.3 392.7 1228.6C394 1240 393.8 1251.8 392.2 1263.1C390.6 1274.5 388.4 1286.4 383.2 1296.7C378.1 1307 372.4 1318.9 361.4 1325C350.4 1331 324.6 1331.7 317.2 1333" stroke-width="1" stroke-opacity="0.6"/><path d="M178.3 1125.3C182.9 1120.7 195.1 1102.8 205.9 1097.5C216.7 1092.3 230.7 1093.2 243 1093.9C255.3 1094.7 267.8 1098.2 279.5 1102C291.2 1105.9 302.7 1111.1 313.1 1117.2C323.5 1123.3 333.4 1130.6 342.1 1138.7C350.8 1146.7 358.6 1155.8 365.1 1165.4C371.6 1174.9 377 1185.4 380.9 1196C384.9 1206.6 387.6 1217.9 388.8 1229C390 1240.1 389.9 1251.6 388.3 1262.7C386.8 1273.8 384.5 1285.4 379.6 1295.5C374.6 1305.7 369 1317.2 358.6 1323.5C348.2 1329.7 324.1 1331.4 317.2 1333" stroke-width="0.9" stroke-opacity="0.6"/><path d="M178.3 1125.3C171.6 1123.9 149.9 1115.4 138 1116.6C126.1 1117.8 116.4 1126.1 107 1132.7C97.7 1139.3 89.1 1147.4 81.8 1156C74.4 1164.5 68 1174.2 63 1184C58 1193.9 54.1 1204.7 51.7 1215.3C49.3 1226 48.2 1237.3 48.5 1248.2C48.8 1259.1 50.6 1270.3 53.7 1280.8C56.7 1291.4 61.2 1301.9 66.8 1311.5C72.4 1321.2 79.4 1330.4 87.3 1338.6C95.1 1346.8 104.1 1354.6 113.9 1360.7C123.6 1366.8 133.9 1374.6 145.8 1375.3C157.7 1375.9 178.8 1366.5 185.4 1364.7" stroke-width="1.5" stroke-opacity="0.5"/><path d="M178.3 1125.3C171.3 1123.5 148.8 1113.5 136.4 1114.3C124.1 1115.1 113.7 1123.3 104.2 1130.1C94.8 1136.9 87 1146 80 1154.9C72.9 1163.8 66.8 1173.7 62.1 1183.7C57.3 1193.8 53.7 1204.6 51.4 1215.3C49.2 1226 48.2 1237.3 48.5 1248.2C48.8 1259.1 50.5 1270.3 53.4 1280.9C56.3 1291.5 60.6 1302.1 66 1311.9C71.3 1321.7 78 1331.2 85.5 1339.8C93.1 1348.4 101.5 1357.1 111.3 1363.4C121.1 1369.7 132 1377.4 144.3 1377.7C156.7 1377.9 178.6 1366.9 185.4 1364.7" stroke-width="0.5" stroke-opacity="0.4"/><path d="M178.3 1125.3C171.2 1125.2 148.3 1121.2 135.4 1124.6C122.6 1128 111.4 1137.2 101.3 1145.7C91.2 1154.1 82 1164.4 74.8 1175.2C67.6 1186 61.8 1198.3 58.2 1210.6C54.6 1222.8 52.7 1236.1 52.9 1248.9C53.2 1261.7 55.4 1275 59.5 1287.3C63.6 1299.6 69.8 1311.8 77.4 1322.6C85.1 1333.4 94.7 1343.6 105.3 1352.1C115.8 1360.6 128.1 1368.1 140.7 1373.6C153.3 1379.1 167.2 1383.2 180.8 1385.3C194.3 1387.4 209.4 1389.6 222.1 1386.2C234.8 1382.8 251.1 1368.3 256.9 1364.7" stroke-width="1.9" stroke-opacity="0.5"/><path d="M178.3 1125.3C171.4 1125.5 149.6 1123 136.8 1126.4C123.9 1129.7 111.8 1137.6 101.2 1145.6C90.6 1153.6 80.8 1163.7 73.1 1174.4C65.4 1185.2 59.2 1197.5 55.2 1210C51.2 1222.4 49.1 1236 49.1 1249C49.2 1262.1 51.5 1275.7 55.7 1288.3C59.8 1300.8 66.3 1313.3 74.2 1324.3C82.1 1335.2 92.2 1345.6 103.1 1354C114 1362.5 126.8 1369.8 139.8 1375C152.7 1380.2 167 1383.9 180.7 1385.4C194.5 1386.9 209.4 1387.6 222.1 1384.1C234.8 1380.7 251.1 1367.9 256.9 1364.7" stroke-width="0.5" stroke-opacity="0.6"/><path d="M255.5 1123.5C253.7 1121.8 248.7 1116.4 244.8 1113.5C241 1110.6 236.6 1107.9 232.2 1106C227.8 1104.2 223 1103 218.3 1102.5C213.6 1102 208.8 1102.6 204.1 1103C199.4 1103.4 194.6 1104.1 190 1104.9C185.3 1105.8 180.7 1106.8 176.2 1108C171.6 1109.2 167.1 1110.6 162.7 1112.2C158.3 1113.8 153.9 1115.5 149.7 1117.5C145.5 1119.4 141.1 1121.3 137.5 1124C133.9 1126.8 130.6 1130.1 128 1133.8C125.5 1137.5 123.6 1142 122.2 1146.3C120.7 1150.7 119.9 1157.6 119.5 1159.9" stroke-width="1" stroke-opacity="0.6"/><path d="M255.5 1123.5C253.6 1122.2 248.3 1118.3 244.3 1116.1C240.4 1113.9 236.2 1112.1 231.8 1110.5C227.5 1108.9 223 1107.6 218.4 1106.7C213.8 1105.7 209 1105.1 204.3 1104.9C199.6 1104.6 194.8 1104.7 190.1 1105.2C185.3 1105.7 180.6 1106.5 176.1 1107.8C171.5 1109 167 1110.6 162.8 1112.5C158.6 1114.4 154.5 1116.6 150.7 1119.2C146.9 1121.7 143.4 1124.5 140.1 1127.6C136.9 1130.6 133.9 1133.9 131.2 1137.4C128.6 1140.8 126.2 1144.5 124.2 1148.2C122.3 1152 120.3 1158 119.5 1159.9" stroke-width="0.5" stroke-opacity="0.6"/><path d="M255.5 1123.5C256.6 1123.4 260.1 1123.3 262.5 1123.3C264.8 1123.3 267.2 1123.3 269.5 1123.5C271.8 1123.7 274.2 1123.9 276.5 1124.3C278.8 1124.7 281.1 1125.2 283.4 1125.8C285.6 1126.4 287.8 1127.1 289.9 1128C292.1 1128.8 294.2 1129.8 296.1 1130.9C298.1 1132 300 1133.2 301.9 1134.5C303.7 1135.8 305.4 1137.2 307 1138.7C308.7 1140.2 310.2 1141.8 311.6 1143.5C313 1145.2 314.3 1146.9 315.6 1148.7C316.8 1150.5 317.9 1152.3 319 1154.2C320 1156.1 321.4 1158.9 321.9 1159.9" stroke-width="0.8" stroke-opacity="0.5"/><path d="M255.5 1123.5C256.7 1123.4 260.2 1123 262.6 1122.9C265 1122.8 267.4 1122.7 269.8 1122.8C272.2 1122.9 274.6 1123 277 1123.3C279.3 1123.7 281.7 1124.1 284 1124.7C286.3 1125.2 288.5 1125.9 290.7 1126.8C292.9 1127.6 295 1128.6 297 1129.7C299 1130.8 300.9 1132 302.8 1133.3C304.6 1134.7 306.3 1136.1 307.9 1137.7C309.5 1139.3 311 1140.9 312.4 1142.7C313.8 1144.4 315 1146.3 316.2 1148.1C317.3 1150 318.4 1152 319.3 1153.9C320.3 1155.9 321.5 1158.9 321.9 1159.9" stroke-width="0.9" stroke-opacity="0.4"/><path d="M255.5 1123.5C252.8 1120.8 245.5 1111.7 239.4 1107.4C233.3 1103.2 226 1099.5 219 1097.9C211.9 1096.3 204.3 1097.2 197.1 1097.9C189.9 1098.5 182.7 1100.2 175.7 1102C168.7 1103.8 161.7 1106 155 1108.7C148.4 1111.3 141.8 1114.3 135.6 1117.7C129.3 1121.1 123.3 1124.9 117.6 1129.1C111.9 1133.2 106.5 1137.7 101.5 1142.4C96.5 1147.2 91.5 1152.2 87.5 1157.6C83.5 1163 79.2 1168.7 77.5 1175.1C75.8 1181.4 76.1 1188.8 77.6 1195.7C79 1202.5 84.6 1212.7 86 1216.1" stroke-width="2.3" stroke-opacity="0.4"/><path d="M255.5 1123.5C257.9 1123 265 1121.2 269.9 1120.6C274.8 1120.1 279.8 1119.8 284.7 1120.1C289.7 1120.3 294.7 1120.9 299.4 1122.1C304.1 1123.2 308.7 1124.8 313 1126.8C317.2 1128.9 321.2 1131.5 325 1134.1C328.8 1136.8 332.4 1139.7 335.8 1142.8C339.2 1145.9 342.4 1149.2 345.2 1152.7C348.1 1156.2 350.9 1159.8 353 1163.6C355.2 1167.5 356.8 1171.7 357.9 1175.9C359 1180.1 359.6 1184.6 359.6 1189C359.7 1193.4 359.2 1197.9 358.4 1202.3C357.6 1206.6 355.2 1213 354.6 1215.1" stroke-width="1.2" stroke-opacity="0.4"/><path d="M255.5 1123.5C257.8 1123.2 264.7 1122.1 269.3 1122C274 1121.8 278.7 1122.1 283.3 1122.6C288 1123.1 292.7 1124 297.3 1125.2C301.8 1126.3 306.3 1127.9 310.6 1129.7C314.9 1131.6 319 1133.8 322.9 1136.2C326.7 1138.7 330.4 1141.5 333.7 1144.6C337 1147.6 340.1 1150.9 342.7 1154.4C345.4 1158 347.7 1161.7 349.6 1165.6C351.5 1169.5 353.1 1173.5 354.3 1177.6C355.4 1181.7 356.2 1185.9 356.6 1190.1C357.1 1194.3 357.1 1198.5 356.8 1202.7C356.5 1206.9 355 1213.1 354.6 1215.1" stroke-width="1.1" stroke-opacity="0.6"/><path d="M255.5 1123.5C251.8 1120.5 241.5 1110 233.2 1105.9C224.9 1101.7 215 1099.3 205.6 1098.5C196.2 1097.6 186.3 1099.1 177 1100.9C167.6 1102.7 158.3 1105.6 149.5 1109.1C140.7 1112.6 132.1 1116.9 124.1 1121.9C116.2 1126.8 108.6 1132.5 101.8 1138.7C95 1144.9 88.8 1151.8 83.4 1159C78 1166.2 73.4 1174 69.6 1182C65.8 1189.9 62.7 1198.3 60.9 1206.8C59.1 1215.2 57.6 1224.1 58.6 1232.5C59.7 1240.9 62.6 1249.8 67.4 1257.4C72.2 1264.9 84 1274.3 87.3 1277.7" stroke-width="0.8" stroke-opacity="0.3"/><path d="M255.5 1123.5C251.8 1120.2 241.8 1108.6 233.4 1103.8C225 1099 214.7 1095.6 205.2 1094.7C195.6 1093.9 185.7 1096.5 176.3 1098.6C166.9 1100.8 157.6 1104.1 148.8 1107.8C140 1111.6 131.5 1116.1 123.5 1121.1C115.6 1126.2 108 1132 101.2 1138.2C94.4 1144.4 88.1 1151.3 82.5 1158.5C77 1165.7 72.1 1173.4 68.1 1181.4C64 1189.3 60.6 1197.7 58.3 1206.2C56 1214.7 53.2 1223.7 54.4 1232.2C55.5 1240.8 59.6 1250 65.1 1257.6C70.6 1265.1 83.6 1274.4 87.3 1277.7" stroke-width="0.9" stroke-opacity="0.3"/><path d="M255.5 1123.5C259 1122.9 269.8 1120.1 276.8 1120.1C283.8 1120.1 290.8 1121.6 297.5 1123.3C304.3 1125 311 1127.4 317.3 1130.3C323.6 1133.3 329.8 1136.8 335.5 1140.8C341.1 1144.8 346.4 1149.4 351.2 1154.3C355.9 1159.3 360.2 1164.7 363.8 1170.3C367.4 1175.9 370.4 1182 372.7 1188.1C375.1 1194.2 376.8 1200.7 377.8 1207.1C378.7 1213.4 379 1220 378.6 1226.3C378.2 1232.7 377.1 1239.1 375.3 1245.2C373.4 1251.3 371.3 1257.4 367.6 1262.9C363.9 1268.3 355.6 1275.3 353.2 1277.8" stroke-width="2.3" stroke-opacity="0.4"/><path d="M255.5 1123.5C250.7 1119.6 237.6 1105.1 226.8 1100.4C216 1095.7 202.6 1094.9 190.6 1095.3C178.6 1095.8 166.3 1099.4 154.8 1103.3C143.3 1107.1 131.9 1112.4 121.7 1118.6C111.4 1124.7 101.7 1132.2 93.2 1140.4C84.8 1148.5 77.2 1157.8 71.1 1167.5C64.9 1177.2 59.9 1187.7 56.4 1198.4C52.9 1209.1 50.7 1220.4 50 1231.5C49.3 1242.5 50.1 1253.9 52.3 1264.8C54.4 1275.6 57.3 1286.9 63 1296.4C68.7 1306 76.5 1315.8 86.6 1321.9C96.8 1328 117.8 1331.1 124.1 1333" stroke-width="2.3" stroke-opacity="0.6"/><path d="M255.5 1123.5C250.7 1119.7 237.6 1105.6 226.8 1101C216 1096.3 202.6 1095 190.6 1095.3C178.6 1095.7 166.3 1099.4 154.8 1103.3C143.3 1107.1 131.9 1112.4 121.7 1118.6C111.4 1124.7 101.7 1132.2 93.2 1140.4C84.8 1148.5 77.2 1157.8 71 1167.5C64.9 1177.1 59.9 1187.7 56.4 1198.4C52.9 1209.1 50.7 1220.4 50 1231.4C49.3 1242.5 50.1 1253.9 52.3 1264.8C54.4 1275.6 57.2 1287 63 1296.4C68.9 1305.9 77 1315.5 87.2 1321.6C97.4 1327.7 117.9 1331.1 124.1 1333" stroke-width="0.7" stroke-opacity="0.5"/><path d="M255.5 1123.5C260.8 1121.8 277.4 1113.9 287.5 1113.5C297.6 1113.1 307.2 1117.1 315.9 1121C324.6 1124.9 332.4 1130.8 339.7 1136.7C347 1142.6 353.8 1149.3 359.8 1156.4C365.7 1163.5 371 1171.3 375.3 1179.3C379.7 1187.3 383.2 1195.9 385.8 1204.5C388.3 1213.1 390 1222.1 390.7 1231C391.4 1239.9 391.1 1249 389.9 1257.8C388.7 1266.6 386.5 1275.4 383.5 1283.8C380.4 1292.2 377 1300.8 371.6 1308.1C366.2 1315.3 360.1 1323.1 351 1327.3C342 1331.4 322.8 1332.1 317.2 1333" stroke-width="1.2" stroke-opacity="0.4"/><path d="M255.5 1123.5C260.6 1122.2 276.3 1116.1 286.3 1115.7C296.3 1115.4 306.7 1117.9 315.5 1121.5C324.4 1125 332.1 1131.1 339.4 1137C346.7 1142.8 353.5 1149.6 359.4 1156.7C365.3 1163.7 370.6 1171.5 374.9 1179.5C379.3 1187.5 382.8 1196 385.4 1204.6C387.9 1213.2 389.6 1222.2 390.3 1231C391 1239.9 390.7 1249 389.5 1257.7C388.3 1266.5 386.2 1275.4 383.1 1283.7C380 1292.1 376.7 1300.8 371 1307.8C365.3 1314.9 357.6 1321.7 348.6 1325.9C339.7 1330 322.4 1331.8 317.2 1333" stroke-width="0.9" stroke-opacity="0.4"/><path d="M255.5 1123.5C249.5 1119.6 233 1104.1 219.9 1100.3C206.9 1096.5 191.2 1098.6 177.2 1100.8C163.2 1103 148.8 1107.5 135.9 1113.4C123 1119.3 110.3 1127.2 99.6 1136.2C88.9 1145.2 79.1 1156 71.6 1167.4C64 1178.8 58 1191.7 54.2 1204.5C50.4 1217.4 48.6 1231.2 48.9 1244.5C49.2 1257.7 51.7 1271.4 56.1 1284C60.5 1296.6 67.1 1309.1 75.1 1319.9C83.1 1330.8 93.2 1341.1 104.2 1349.2C115.2 1357.3 127.7 1366 141.2 1368.6C154.7 1371.2 178 1365.4 185.4 1364.7" stroke-width="2.3" stroke-opacity="0.6"/><path d="M255.5 1123.5C249.5 1119.1 233 1101.2 219.9 1097.1C206.8 1093.1 190.8 1096.5 176.7 1099.2C162.7 1101.8 148.4 1106.8 135.7 1113C122.9 1119.2 110.5 1127.4 100 1136.5C89.5 1145.7 80 1156.5 72.5 1167.9C65.1 1179.3 59.2 1192 55.4 1204.8C51.7 1217.6 49.8 1231.3 50 1244.5C50.2 1257.6 52.5 1271.3 56.6 1283.9C60.7 1296.5 67 1309 74.7 1320.1C82.4 1331.2 92.1 1341.8 102.8 1350.3C113.6 1358.9 125.6 1368.9 139.3 1371.3C153.1 1373.7 177.7 1365.8 185.4 1364.7" stroke-width="0.7" stroke-opacity="0.5"/><path d="M255.5 1123.5C262 1122 282.1 1114.3 294.6 1114.5C307.2 1114.7 320.6 1119.1 331 1124.9C341.4 1130.6 349.6 1140.3 357.2 1149.1C364.9 1157.9 371.6 1167.7 377 1177.8C382.3 1187.9 386.5 1198.8 389.3 1209.7C392 1220.6 393.5 1232 393.5 1243.2C393.6 1254.4 392.3 1265.9 389.6 1276.8C387 1287.7 382.9 1298.6 377.7 1308.8C372.5 1318.9 365.8 1328.8 358.3 1337.7C350.7 1346.6 342.7 1356.3 332.3 1362.1C322 1368 308.7 1372.5 296.1 1373C283.6 1373.4 263.5 1366.1 256.9 1364.7" stroke-width="1" stroke-opacity="0.5"/><path d="M255.5 1123.5C261.7 1122.5 281 1116.5 292.8 1117.5C304.6 1118.6 316.2 1124 326.4 1129.6C336.6 1135.2 346 1143 354.1 1151.1C362.3 1159.3 369.6 1168.7 375.4 1178.4C381.2 1188.2 385.8 1199 388.8 1209.8C391.9 1220.6 393.5 1232.1 393.5 1243.2C393.6 1254.4 392.1 1265.9 389.2 1276.7C386.3 1287.5 381.8 1298.3 376.1 1308.2C370.5 1318 363.2 1327.5 355.2 1335.7C347.1 1343.9 337.9 1351.8 327.7 1357.5C317.6 1363.2 306.1 1368.8 294.3 1370C282.5 1371.2 263.2 1365.6 256.9 1364.7" stroke-width="1.1" stroke-opacity="0.4"/><path d="M119.5 1159.9C120.3 1156.5 121.6 1145.4 124.7 1139.3C127.7 1133.2 132.7 1128 137.8 1123.1C142.8 1118.2 148.7 1113.7 154.9 1109.8C161.2 1105.9 168 1102.6 175.1 1099.9C182.2 1097.2 189.8 1095.1 197.4 1093.7C205 1092.4 212.9 1091.6 220.7 1091.6C228.5 1091.6 236.4 1092.3 244 1093.7C251.6 1095 259.2 1097.1 266.3 1099.8C273.4 1102.4 280.3 1105.8 286.5 1109.7C292.8 1113.5 298.7 1118 303.7 1122.9C308.8 1127.8 313.8 1133 316.8 1139.2C319.8 1145.3 321.1 1156.4 321.9 1159.9" stroke-width="0.8" stroke-opacity="0.4"/><path d="M119.5 1159.9C120.4 1156.5 121.9 1145.7 124.9 1139.6C128 1133.5 132.7 1127.9 137.7 1123.1C142.8 1118.2 149 1114.2 155.4 1110.7C161.7 1107.1 168.7 1104.3 175.8 1101.9C182.9 1099.6 190.4 1097.7 197.9 1096.5C205.3 1095.3 213.1 1094.7 220.7 1094.7C228.3 1094.7 236.1 1095.3 243.6 1096.5C251.1 1097.6 258.6 1099.5 265.6 1101.8C272.7 1104.1 279.8 1107 286.1 1110.5C292.5 1114 298.7 1118.1 303.7 1122.9C308.8 1127.7 313.5 1133.3 316.5 1139.5C319.5 1145.6 321 1156.5 321.9 1159.9" stroke-width="0.7" stroke-opacity="0.5"/><path d="M119.5 1159.9C118.5 1160.4 115.7 1161.8 113.9 1162.8C112.1 1163.8 110.3 1164.8 108.6 1166C106.8 1167.1 105.1 1168.3 103.5 1169.6C102 1170.8 100.4 1172.2 99 1173.6C97.6 1175 96.2 1176.5 95 1178C93.8 1179.6 92.7 1181.2 91.7 1182.9C90.7 1184.5 89.8 1186.2 89.1 1188C88.4 1189.8 87.7 1191.6 87.2 1193.4C86.7 1195.3 86.3 1197.1 86.1 1199C85.8 1200.9 85.6 1202.8 85.5 1204.7C85.4 1206.6 85.5 1208.5 85.5 1210.4C85.6 1212.3 85.9 1215.1 86 1216.1" stroke-width="0.8" stroke-opacity="0.4"/><path d="M119.5 1159.9C118.5 1160.4 115.6 1161.6 113.7 1162.6C111.8 1163.6 109.9 1164.6 108.1 1165.7C106.3 1166.8 104.5 1167.9 102.9 1169.2C101.2 1170.4 99.6 1171.7 98.2 1173.1C96.7 1174.5 95.3 1176 94.1 1177.6C92.8 1179.1 91.7 1180.7 90.7 1182.4C89.7 1184.1 88.8 1185.8 88.1 1187.6C87.4 1189.4 86.8 1191.2 86.3 1193.1C85.9 1195 85.5 1196.9 85.3 1198.8C85.1 1200.7 85 1202.6 85 1204.6C85 1206.5 85.1 1208.4 85.3 1210.3C85.4 1212.3 85.8 1215.1 86 1216.1" stroke-width="0.5" stroke-opacity="0.4"/><path d="M119.5 1159.9C120.4 1155 120.5 1138.4 124.9 1130.5C129.4 1122.5 138.3 1117.2 146.3 1112C154.4 1106.9 163.7 1102.8 173 1099.5C182.4 1096.2 192.5 1093.8 202.5 1092.3C212.6 1090.8 223.1 1090.3 233.3 1090.7C243.6 1091.2 254 1092.6 263.9 1094.9C273.9 1097.2 283.8 1100.5 293 1104.6C302.2 1108.6 311.1 1113.7 319 1119.3C327 1125 334.5 1131.5 340.9 1138.4C347.3 1145.4 353.2 1153 357.4 1161C361.6 1169.1 366.5 1177.5 366.1 1186.6C365.6 1195.6 356.5 1210.4 354.6 1215.1" stroke-width="0.8" stroke-opacity="0.5"/><path d="M119.5 1159.9C120.4 1155 120.7 1138.7 125.1 1130.6C129.5 1122.6 138 1116.6 146.1 1111.6C154.1 1106.5 163.9 1103.2 173.3 1100.2C182.7 1097.3 192.8 1095.2 202.7 1093.9C212.7 1092.7 223 1092.3 233.1 1092.9C243.2 1093.4 253.5 1094.8 263.3 1097.1C273.1 1099.4 282.8 1102.6 291.9 1106.5C301 1110.4 309.9 1115.2 317.9 1120.6C326 1126 333.6 1132.3 340.2 1139C346.9 1145.7 353.7 1152.8 357.9 1160.7C362.2 1168.7 366.4 1177.6 365.8 1186.6C365.3 1195.7 356.5 1210.4 354.6 1215.1" stroke-width="1.1" stroke-opacity="0.6"/><path d="M119.5 1159.9C117.5 1160.8 111.4 1163.1 107.5 1165C103.7 1167 99.8 1169.1 96.2 1171.6C92.7 1174 89.2 1176.7 86.2 1179.6C83.1 1182.5 80.3 1185.7 77.9 1189.1C75.6 1192.4 73.6 1196.1 71.9 1199.7C70.3 1203.4 69.2 1207.3 68.2 1211.2C67.1 1215 66.1 1218.9 65.7 1222.9C65.3 1226.8 65.2 1230.8 65.6 1234.8C66 1238.7 66.9 1242.7 68.1 1246.5C69.4 1250.4 71 1254.2 72.9 1257.8C74.8 1261.4 77.1 1264.9 79.5 1268.2C81.9 1271.5 86 1276.1 87.3 1277.7" stroke-width="1.5" stroke-opacity="0.4"/><path d="M119.5 1159.9C117.4 1160.7 110.9 1162.7 106.9 1164.6C102.8 1166.4 98.7 1168.5 95.1 1171C91.5 1173.4 88.1 1176.2 85.2 1179.2C82.3 1182.2 79.9 1185.6 77.9 1189.1C75.9 1192.6 74.5 1196.3 73.1 1200.1C71.7 1203.8 70.5 1207.6 69.5 1211.4C68.4 1215.2 67.6 1219.1 66.9 1223C66.3 1226.9 65.5 1230.8 65.6 1234.8C65.6 1238.7 66 1242.7 67.1 1246.6C68.1 1250.4 69.7 1254.3 71.6 1257.9C73.6 1261.5 76.1 1265 78.7 1268.4C81.3 1271.7 85.9 1276.2 87.3 1277.7" stroke-width="0.9" stroke-opacity="0.6"/><path d="M119.5 1159.9C121 1154 122.3 1134.3 128.6 1124.7C134.8 1115.2 146.1 1107.7 156.9 1102.5C167.7 1097.3 181 1095.1 193.4 1093.3C205.8 1091.5 218.7 1090.9 231.2 1091.5C243.8 1092.2 256.5 1094.2 268.6 1097.4C280.6 1100.5 292.6 1105 303.6 1110.4C314.5 1115.9 325.1 1122.6 334.5 1130.1C343.8 1137.6 352.4 1146.3 359.7 1155.5C367 1164.6 373.3 1174.8 378.1 1185.2C383 1195.6 388 1206.8 388.7 1217.8C389.4 1228.9 388.3 1241.4 382.4 1251.4C376.5 1261.4 358.1 1273.4 353.2 1277.8" stroke-width="1" stroke-opacity="0.5"/><path d="M119.5 1159.9C116.1 1161.1 105.3 1163.7 99.2 1166.8C93.1 1169.9 87.6 1174 82.9 1178.5C78.2 1183 74.4 1188.3 71 1193.7C67.7 1199.1 65.1 1204.9 62.9 1210.8C60.8 1216.7 59.2 1222.9 58.2 1229C57.2 1235.2 56.7 1241.6 56.9 1247.8C57.1 1254 57.9 1260.3 59.2 1266.4C60.6 1272.5 62.5 1278.6 65 1284.4C67.5 1290.2 70.4 1295.9 74 1301.2C77.7 1306.4 81.8 1311.5 86.7 1315.8C91.6 1320.1 97.3 1324 103.5 1326.9C109.8 1329.8 120.6 1331.9 124.1 1333" stroke-width="0.8" stroke-opacity="0.5"/><path d="M119.5 1159.9C116.3 1161.2 106 1164.2 100.3 1167.4C94.6 1170.7 89.7 1175 85.1 1179.5C80.6 1184 76.4 1189 72.9 1194.3C69.3 1199.5 66.3 1205.2 63.9 1211C61.5 1216.8 59.7 1223 58.6 1229.1C57.5 1235.2 57 1241.6 57.2 1247.8C57.3 1254 58.2 1260.3 59.6 1266.4C61.1 1272.5 63.3 1278.5 66 1284.2C68.7 1289.9 72 1295.4 75.8 1300.5C79.6 1305.6 84 1310.5 88.8 1314.7C93.6 1319 98.7 1323.2 104.6 1326.2C110.5 1329.2 120.8 1331.8 124.1 1333" stroke-width="1.1" stroke-opacity="0.4"/><path d="M119.5 1159.9C111 1162 79.6 1164.3 68.5 1172.5C57.4 1180.8 56.1 1196.8 52.8 1209.6C49.4 1222.3 48.1 1236 48.5 1249.1C49 1262.2 51.5 1275.7 55.7 1288.2C59.8 1300.8 66 1313.3 73.6 1324.5C81.2 1335.7 90.8 1346.3 101.3 1355.4C111.9 1364.5 124.1 1372.7 136.9 1379C149.6 1385.4 163.8 1390.5 178 1393.8C192.1 1397.1 207.2 1398.7 221.9 1398.7C236.5 1398.6 251.6 1396.9 265.7 1393.4C279.8 1389.9 297.8 1388 306.4 1377.9C315 1367.8 315.4 1340.5 317.2 1333" stroke-width="1.2" stroke-opacity="0.4"/><path d="M119.5 1159.9C111.4 1162.2 82.2 1165.4 71.1 1173.7C60 1182 56.5 1197 52.8 1209.6C49 1222.1 48.1 1236 48.5 1249.1C49 1262.2 51.5 1275.7 55.7 1288.2C59.8 1300.8 66 1313.3 73.6 1324.5C81.2 1335.7 90.8 1346.3 101.3 1355.4C111.9 1364.5 124.1 1372.7 136.9 1379C149.6 1385.4 163.8 1390.5 178 1393.8C192.1 1397.1 207.2 1398.7 221.9 1398.7C236.5 1398.6 251.9 1397.2 265.7 1393.4C279.6 1389.6 296.4 1385.8 304.9 1375.8C313.5 1365.7 315.2 1340.1 317.2 1333" stroke-width="1.1" stroke-opacity="0.4"/><path d="M119.5 1159.9C114.6 1161.4 98.7 1164.3 90.6 1168.9C82.5 1173.5 75.8 1180.3 70.8 1187.3C65.7 1194.2 63 1202.6 60.5 1210.7C58 1218.8 56.3 1227.2 55.5 1235.6C54.7 1244 54.8 1252.7 55.7 1261.1C56.6 1269.5 58.5 1278 61.1 1286.1C63.8 1294.2 67.3 1302.2 71.6 1309.8C75.8 1317.3 81 1324.6 86.7 1331.3C92.4 1338 98.9 1344.3 105.9 1349.9C112.8 1355.5 120.2 1361.2 128.6 1364.7C136.9 1368.2 146.7 1370.7 156.1 1370.7C165.6 1370.7 180.5 1365.7 185.4 1364.7" stroke-width="1.2" stroke-opacity="0.4"/><path d="M119.5 1159.9C112.9 1161.7 89.9 1164.4 80.1 1170.7C70.2 1177 65.4 1188.1 60.6 1197.9C55.8 1207.7 53.1 1218.7 51.5 1229.5C49.8 1240.2 49.5 1251.4 50.6 1262.3C51.8 1273.1 54.3 1284.2 58.2 1294.6C62 1305 67.4 1315.3 73.7 1324.6C80.1 1334 87.9 1342.9 96.4 1350.7C105 1358.5 114.8 1365.7 125 1371.5C135.3 1377.4 146.6 1382.3 158 1385.9C169.4 1389.5 181.5 1392.4 193.4 1393.2C205.2 1393.9 218.5 1395 229.1 1390.3C239.7 1385.5 252.3 1369 256.9 1364.7" stroke-width="0.8" stroke-opacity="0.5"/><path d="M119.5 1159.9C113.2 1161.9 91.8 1165.4 82.2 1171.7C72.6 1178.1 66.3 1188.5 61.7 1198.2C57.1 1207.9 55.6 1219.1 54.5 1229.7C53.4 1240.3 53.5 1251.3 54.9 1261.9C56.3 1272.4 59.1 1283.1 63 1293.2C66.9 1303.3 72.1 1313.2 78.2 1322.3C84.4 1331.4 91.9 1340.1 100.1 1347.8C108.3 1355.5 117.6 1362.5 127.4 1368.5C137.3 1374.5 148.1 1379.6 159.1 1383.5C170.1 1387.5 181.9 1391.4 193.6 1392.2C205.2 1393 218.4 1392.8 229 1388.2C239.5 1383.6 252.3 1368.6 256.9 1364.7" stroke-width="0.7" stroke-opacity="0.4"/><path d="M321.9 1159.9C322 1153.8 326.5 1132.4 322.6 1123.4C318.7 1114.4 307.4 1110.5 298.5 1105.8C289.7 1101.2 279.4 1098.2 269.5 1095.5C259.5 1092.9 249.1 1091.1 238.8 1090.1C228.5 1089.2 217.9 1089.1 207.6 1089.8C197.2 1090.5 186.8 1092.1 176.8 1094.5C166.7 1096.9 156.8 1100.1 147.4 1104.1C138 1108.1 128.9 1112.9 120.5 1118.3C112 1123.7 104 1129.9 96.8 1136.6C89.6 1143.3 82.4 1150.5 77.3 1158.4C72.1 1166.4 64.6 1174.8 66.1 1184.4C67.5 1194 82.6 1210.8 86 1216.1" stroke-width="1.5" stroke-opacity="0.4"/><path d="M321.9 1159.9C322.8 1160.3 325.7 1161.6 327.5 1162.6C329.3 1163.5 331.1 1164.6 332.9 1165.6C334.6 1166.7 336.3 1167.9 337.9 1169.1C339.6 1170.4 341.1 1171.7 342.5 1173C344 1174.4 345.3 1175.9 346.5 1177.4C347.7 1178.9 348.8 1180.5 349.8 1182.1C350.8 1183.8 351.6 1185.5 352.3 1187.2C353.1 1189 353.6 1190.8 354.1 1192.6C354.6 1194.4 354.9 1196.3 355.1 1198.2C355.4 1200 355.5 1201.9 355.5 1203.8C355.5 1205.7 355.4 1207.6 355.3 1209.5C355.1 1211.4 354.7 1214.2 354.6 1215.1" stroke-width="2.3" stroke-opacity="0.4"/><path d="M321.9 1159.9C320.5 1153.9 319.8 1133.4 313.5 1123.9C307.2 1114.5 295.2 1108.3 284.3 1103.3C273.4 1098.4 260.4 1096.1 248.1 1094.3C235.8 1092.5 223 1091.9 210.6 1092.6C198.2 1093.3 185.6 1095.2 173.6 1098.4C161.7 1101.5 149.9 1105.9 139 1111.3C128.1 1116.7 117.7 1123.4 108.4 1130.8C99.1 1138.2 90.5 1146.8 83.3 1155.9C76.1 1165 69.8 1175 65 1185.3C60.2 1195.6 55.5 1206.7 54.4 1217.7C53.3 1228.6 52.9 1241.1 58.4 1251.1C63.9 1261.1 82.5 1273.3 87.3 1277.7" stroke-width="1.5" stroke-opacity="0.5"/><path d="M321.9 1159.9C324.1 1160.6 330.7 1162.5 334.9 1164.3C339 1166.1 343.1 1168.3 346.7 1170.7C350.4 1173.1 353.8 1175.9 356.8 1178.9C359.7 1181.9 362.2 1185.3 364.5 1188.8C366.8 1192.2 368.8 1195.8 370.5 1199.5C372.2 1203.2 373.6 1207.1 374.6 1211C375.7 1214.9 376.4 1218.9 376.7 1222.9C377.1 1226.8 377.1 1230.9 376.8 1234.9C376.5 1238.9 375.9 1242.9 374.8 1246.8C373.7 1250.6 372 1254.5 370 1258.1C368 1261.8 365.4 1265.3 362.6 1268.6C359.8 1271.8 354.8 1276.2 353.2 1277.8" stroke-width="1" stroke-opacity="0.4"/><path d="M321.9 1159.9C324.1 1160.6 330.8 1162.5 335 1164.3C339.2 1166 343.5 1168 347.3 1170.4C351.1 1172.8 354.7 1175.5 357.8 1178.5C360.9 1181.5 363.6 1184.8 365.7 1188.3C367.9 1191.8 369.3 1195.7 370.8 1199.5C372.2 1203.2 373.4 1207.1 374.4 1211C375.5 1214.9 376.4 1218.9 377 1222.8C377.6 1226.8 378.3 1230.8 378.1 1234.8C377.9 1238.8 377.2 1242.9 376 1246.8C374.7 1250.7 372.8 1254.5 370.6 1258.2C368.4 1261.8 365.6 1265.3 362.7 1268.6C359.8 1271.9 354.8 1276.2 353.2 1277.8" stroke-width="0.5" stroke-opacity="0.5"/><path d="M321.9 1159.9C328 1163 348.7 1170.3 358.2 1178.9C367.8 1187.4 374.1 1199.6 379 1211.2C383.9 1222.9 387 1236 387.8 1248.7C388.7 1261.4 387.4 1274.9 384 1287.5C380.7 1300.1 375.1 1312.8 367.9 1324.2C360.6 1335.5 351.2 1346.4 340.6 1355.5C330.1 1364.5 317.6 1372.6 304.7 1378.7C291.8 1384.7 277.3 1389.3 263.2 1391.9C249 1394.4 233.9 1395.1 219.8 1394C205.7 1392.8 191.2 1389.7 178.5 1384.9C165.7 1380.2 152.5 1374.1 143.4 1365.4C134.3 1356.8 127.3 1338.4 124.1 1333" stroke-width="0.6" stroke-opacity="0.4"/><path d="M321.9 1159.9C329.3 1162.4 355.2 1167 366.2 1175.3C377.2 1183.6 383.5 1197.3 387.9 1209.5C392.2 1221.8 392.6 1235.8 392.2 1248.8C391.7 1261.8 389.3 1275.3 385.1 1287.8C381 1300.3 374.8 1312.7 367.3 1323.9C359.7 1335 350.2 1345.6 339.7 1354.7C329.2 1363.7 317.1 1371.8 304.3 1378.2C291.6 1384.5 277.6 1389.5 263.5 1392.8C249.4 1396 234.3 1397.7 219.8 1397.6C205.2 1397.5 189.6 1396.5 176.1 1392.2C162.7 1387.9 147.6 1381.8 139 1371.9C130.3 1362.1 126.5 1339.5 124.1 1333" stroke-width="0.7" stroke-opacity="0.3"/><path d="M321.9 1159.9C325.7 1160.8 337.5 1162.7 344.4 1165.4C351.3 1168.1 358.4 1171.8 363.5 1176.3C368.6 1180.7 372.1 1186.5 375 1192.2C378 1197.9 379.6 1204.2 381.1 1210.3C382.7 1216.4 383.9 1222.7 384.6 1228.9C385.3 1235.2 385.6 1241.6 385.4 1247.8C385.3 1254.1 384.6 1260.5 383.6 1266.7C382.5 1272.9 381 1279.1 379 1285.2C377.1 1291.2 375.1 1297.4 371.9 1303C368.6 1308.5 364.7 1314.1 359.4 1318.3C354.1 1322.6 346.9 1326 339.8 1328.4C332.8 1330.8 321 1332.2 317.2 1333" stroke-width="2.3" stroke-opacity="0.6"/><path d="M321.9 1159.9C327.5 1162.1 346.4 1166.9 355.4 1173.4C364.5 1179.9 371 1189.5 376.2 1198.8C381.3 1208.2 384.4 1218.9 386.4 1229.3C388.3 1239.8 388.9 1250.8 388.1 1261.5C387.2 1272.2 384.9 1283.1 381.2 1293.4C377.6 1303.6 372.4 1313.8 366.2 1323C360 1332.3 352.3 1341.1 343.8 1348.7C335.4 1356.4 325.6 1363.3 315.5 1369C305.3 1374.6 294.1 1379.3 282.9 1382.6C271.7 1385.8 259.7 1388.4 248.2 1388.7C236.6 1389 224.1 1388.4 213.6 1384.4C203.2 1380.4 190.1 1368 185.4 1364.7" stroke-width="1" stroke-opacity="0.5"/><path d="M321.9 1159.9C327.4 1162.2 346.1 1167.1 355 1173.6C363.9 1180.1 369.9 1189.8 375.3 1199.1C380.6 1208.4 384.6 1218.8 387.1 1229.3C389.5 1239.7 390.5 1250.9 389.9 1261.7C389.4 1272.5 387.2 1283.6 383.6 1294.1C380.1 1304.5 374.9 1314.9 368.5 1324.2C362.2 1333.6 354.3 1342.5 345.6 1350.2C337 1357.9 326.9 1364.8 316.5 1370.3C306.1 1375.8 294.6 1380.2 283.2 1383.1C271.8 1386.1 259.6 1387.8 248 1387.9C236.4 1388 224.1 1387.8 213.6 1383.9C203.2 1380 190.1 1367.9 185.4 1364.7" stroke-width="1.1" stroke-opacity="0.5"/><path d="M321.9 1159.9C326.9 1161.2 343.8 1163.5 352 1168C360.2 1172.5 365.8 1179.9 370.9 1186.9C376 1193.9 379.5 1202 382.5 1210C385.4 1218.1 387.5 1226.6 388.6 1235.1C389.7 1243.5 389.8 1252.3 389 1260.9C388.2 1269.4 386.4 1278.1 383.8 1286.3C381.1 1294.6 377.5 1302.8 373 1310.4C368.6 1318 363.3 1325.4 357.3 1332C351.4 1338.7 344.5 1344.9 337.3 1350.3C330 1355.7 322.2 1360.9 313.8 1364.5C305.3 1368 296.2 1371.5 286.7 1371.6C277.3 1371.6 261.9 1365.8 256.9 1364.7" stroke-width="1.2" stroke-opacity="0.5"/><path d="M321.9 1159.9C327.1 1161.2 343.6 1163.5 352.9 1167.6C362.1 1171.7 371.4 1177.7 377.4 1184.5C383.4 1191.4 386.4 1200.4 389 1208.7C391.6 1217.1 392.7 1226.1 393.2 1234.8C393.8 1243.6 393.6 1252.5 392.5 1261.2C391.4 1269.9 389.4 1278.7 386.7 1287.1C384 1295.5 380.4 1303.8 376.2 1311.7C371.9 1319.6 366.8 1327.2 361.1 1334.3C355.4 1341.4 349.1 1348.5 341.9 1354.3C334.7 1360.2 326.9 1366.3 317.7 1369.3C308.6 1372.3 297.3 1373.1 287.2 1372.3C277 1371.6 262 1366 256.9 1364.7" stroke-width="0.7" stroke-opacity="0.4"/><path d="M86 1216.1C84.8 1210.5 78.1 1193.3 79.3 1182.7C80.4 1172.1 86.5 1161.6 92.9 1152.6C99.4 1143.5 108.5 1135.4 117.8 1128.3C127 1121.2 137.5 1114.9 148.4 1109.8C159.4 1104.8 171.3 1100.8 183.2 1098.2C195.2 1095.6 207.9 1094.2 220.2 1094.2C232.5 1094.1 245.2 1095.4 257.2 1097.9C269.1 1100.5 281.1 1104.3 292.1 1109.3C303 1114.2 313.6 1120.5 322.9 1127.5C332.2 1134.6 341.4 1142.6 347.9 1151.6C354.4 1160.6 360.5 1171.1 361.7 1181.6C362.8 1192.2 355.8 1209.6 354.6 1215.1" stroke-width="2.3" stroke-opacity="0.3"/><path d="M86 1216.1C85 1210.6 78.9 1193.6 80.1 1183C81.2 1172.4 86.6 1161.6 92.9 1152.5C99.1 1143.4 108.4 1135.4 117.7 1128.2C126.9 1121.1 137.5 1114.8 148.4 1109.7C159.3 1104.7 171.3 1100.7 183.2 1098.1C195.2 1095.5 207.9 1094.1 220.2 1094.1C232.5 1094 245.2 1095.3 257.2 1097.8C269.2 1100.4 281.2 1104.2 292.1 1109.2C303.1 1114.1 313.7 1120.4 323 1127.4C332.3 1134.5 341.7 1142.4 348 1151.5C354.3 1160.6 359.8 1171.4 360.9 1182C362 1192.6 355.7 1209.6 354.6 1215.1" stroke-width="1.1" stroke-opacity="0.6"/><path d="M86 1216.1C85.4 1216.9 83.8 1219.2 82.8 1220.8C81.8 1222.5 80.8 1224.1 80 1225.8C79.1 1227.5 78.3 1229.2 77.7 1231C77 1232.7 76.4 1234.5 75.9 1236.3C75.5 1238 75.1 1239.9 74.9 1241.7C74.7 1243.5 74.6 1245.3 74.7 1247.1C74.7 1248.9 74.9 1250.8 75.2 1252.6C75.5 1254.4 75.9 1256.2 76.4 1257.9C77 1259.7 77.7 1261.4 78.4 1263.2C79.2 1264.9 80 1266.6 81 1268.2C81.9 1269.9 82.9 1271.5 84 1273.1C85.1 1274.7 86.8 1277 87.3 1277.7" stroke-width="0.8" stroke-opacity="0.5"/><path d="M86 1216.1C82 1221.5 66.3 1237.1 62.5 1248.9C58.8 1260.6 60.6 1274.3 63.4 1286.5C66.2 1298.7 72.4 1310.9 79.3 1321.9C86.3 1332.9 95.3 1343.4 105.4 1352.4C115.4 1361.4 127.3 1369.4 139.6 1375.7C152 1382 165.8 1387 179.7 1390.1C193.5 1393.3 208.3 1394.8 222.5 1394.6C236.7 1394.4 251.4 1392.3 265 1388.8C278.6 1385.2 292.1 1379.8 304.1 1373.1C316 1366.4 327.9 1358.3 336.8 1348.8C345.7 1339.4 354.6 1328.1 357.4 1316.2C360.1 1304.4 353.9 1284.2 353.2 1277.8" stroke-width="1.9" stroke-opacity="0.6"/><path d="M86 1216.1C84.6 1217.7 80.4 1222.4 78 1225.8C75.7 1229.3 73.5 1232.9 71.8 1236.6C70.1 1240.3 68.6 1244.2 67.7 1248.1C66.7 1252 66.2 1256.1 66.1 1260C66 1264 66.3 1268 66.9 1272C67.5 1275.9 68.4 1279.9 69.7 1283.7C70.9 1287.5 72.5 1291.3 74.4 1294.9C76.2 1298.5 78.4 1302.1 80.9 1305.4C83.4 1308.7 86.2 1311.9 89.4 1314.7C92.5 1317.6 96.1 1320.2 99.8 1322.5C103.4 1324.8 107.5 1326.8 111.5 1328.6C115.6 1330.3 122 1332.2 124.1 1333" stroke-width="0.6" stroke-opacity="0.5"/><path d="M86 1216.1C84.4 1217.7 79.3 1222.3 76.6 1225.7C73.9 1229.1 71.3 1232.8 69.7 1236.5C68 1240.3 67 1244.3 66.6 1248.2C66.3 1252.1 66.9 1256 67.4 1259.9C67.9 1263.8 68.6 1267.7 69.5 1271.5C70.3 1275.4 71.4 1279.2 72.6 1283C73.9 1286.7 75.3 1290.5 76.8 1294.1C78.4 1297.8 80.1 1301.4 82.1 1304.9C84 1308.4 85.8 1312.1 88.5 1315.2C91.1 1318.3 94.4 1321.2 98 1323.5C101.7 1325.9 106 1327.8 110.4 1329.4C114.7 1330.9 121.8 1332.4 124.1 1333" stroke-width="0.5" stroke-opacity="0.4"/><path d="M86 1216.1C81.4 1220.5 63.2 1232.9 58.4 1242.6C53.6 1252.4 55.5 1264.2 57.2 1274.6C58.8 1285 63.3 1295.4 68.2 1305.2C73 1314.9 79.1 1324.4 86.1 1332.9C93.2 1341.5 101.4 1349.6 110.3 1356.6C119.2 1363.7 129.1 1370 139.5 1375.2C149.8 1380.4 161.1 1384.6 172.4 1387.7C183.8 1390.8 195.7 1392.9 207.6 1393.7C219.4 1394.6 231.6 1394.3 243.3 1392.8C255.1 1391.4 267.3 1389.4 278 1385.2C288.7 1380.9 301 1376.2 307.5 1367.5C314.1 1358.8 315.6 1338.8 317.2 1333" stroke-width="0.8" stroke-opacity="0.3"/><path d="M86 1216.1C81.8 1220.5 65.8 1232.9 61.1 1242.7C56.3 1252.4 56.2 1264.1 57.4 1274.5C58.6 1284.9 63.6 1295.4 68.4 1305.1C73.2 1314.8 79.3 1324.2 86.3 1332.8C93.4 1341.4 101.6 1349.4 110.5 1356.5C119.3 1363.5 129.3 1369.8 139.6 1375C150 1380.2 161.2 1384.4 172.5 1387.5C183.8 1390.6 195.8 1392.6 207.6 1393.5C219.4 1394.3 231.6 1394 243.3 1392.6C255 1391.2 267.5 1389.5 278 1385C288.4 1380.4 299.5 1374.2 306.1 1365.5C312.6 1356.9 315.3 1338.4 317.2 1333" stroke-width="1.1" stroke-opacity="0.4"/><path d="M86 1216.1C82.8 1218.5 71.9 1225.2 67.1 1230.6C62.4 1236.1 59.2 1242.5 57.6 1248.7C56 1254.8 56.8 1261.3 57.3 1267.7C57.8 1274 58.9 1280.4 60.6 1286.6C62.2 1292.8 64.4 1298.9 67.1 1304.9C69.8 1310.8 73.1 1316.6 76.8 1322.1C80.4 1327.6 84.7 1332.9 89.3 1337.8C93.8 1342.7 98.9 1347.3 104.3 1351.5C109.6 1355.7 115.4 1359.6 121.4 1363C127.4 1366.3 133.4 1370 140.2 1371.6C147.1 1373.2 154.9 1373.8 162.5 1372.7C170 1371.5 181.6 1366 185.4 1364.7" stroke-width="0.8" stroke-opacity="0.5"/><path d="M86 1216.1C82.7 1218.5 71.7 1225.2 66.6 1230.6C61.6 1236 57.5 1242.5 55.8 1248.7C54.1 1254.9 55.6 1261.5 56.5 1267.8C57.4 1274.1 59.2 1280.3 61.2 1286.4C63.2 1292.5 65.7 1298.5 68.5 1304.3C71.4 1310.1 74.7 1315.8 78.3 1321.3C82 1326.7 86.1 1332 90.5 1337C94.9 1341.9 99.7 1346.7 104.7 1351.1C109.8 1355.6 115.1 1359.9 120.9 1363.5C126.6 1367.2 132.4 1371.4 139.3 1373C146.2 1374.6 154.6 1374.4 162.3 1373.1C169.9 1371.7 181.5 1366.1 185.4 1364.7" stroke-width="0.7" stroke-opacity="0.4"/><path d="M86 1216.1C82.4 1219.5 70 1229 64.9 1236.7C59.8 1244.3 56.2 1253.4 55.5 1261.9C54.7 1270.3 57.8 1279 60.4 1287.2C63 1295.4 66.7 1303.5 71 1311.2C75.2 1318.9 80.3 1326.3 86 1333.2C91.6 1340.1 98 1346.6 104.9 1352.6C111.8 1358.5 119.3 1364 127.3 1368.8C135.2 1373.6 143.7 1377.8 152.4 1381.3C161.1 1384.8 170.2 1387.8 179.5 1389.8C188.7 1391.8 198.6 1394.2 207.9 1393.2C217.2 1392.2 227.3 1388.7 235.4 1384C243.6 1379.2 253.4 1367.9 256.9 1364.7" stroke-width="0.8" stroke-opacity="0.6"/><path d="M86 1216.1C81.5 1219.5 65.1 1228.7 59.1 1236.4C53 1244.1 50.3 1253.8 49.7 1262.4C49.1 1271.1 52.9 1280 55.7 1288.4C58.5 1296.8 62.2 1305.2 66.6 1313C71 1320.9 76.2 1328.6 82 1335.7C87.8 1342.7 94.4 1349.5 101.5 1355.6C108.6 1361.7 116.4 1367.3 124.5 1372.2C132.6 1377.2 141.4 1381.5 150.3 1385.1C159.3 1388.7 168.7 1391.7 178.3 1393.9C187.8 1396 197.8 1399 207.4 1398.2C217 1397.4 227.7 1394.6 236 1389C244.2 1383.5 253.4 1368.7 256.9 1364.7" stroke-width="0.7" stroke-opacity="0.4"/><path d="M354.6 1215.1C358 1220.5 371.6 1236 375 1247.5C378.5 1259.1 377.3 1272.3 375.2 1284.5C373 1296.7 368.5 1309.3 362.3 1320.6C356.1 1331.9 347.6 1342.9 337.8 1352.3C328.1 1361.7 316.3 1370.2 303.9 1376.8C291.5 1383.4 277.4 1388.6 263.4 1391.9C249.4 1395.1 234.3 1396.6 219.9 1396.2C205.5 1395.8 190.5 1393.5 177 1389.5C163.4 1385.6 149.9 1379.6 138.4 1372.5C126.8 1365.4 116 1356.4 107.5 1346.7C99 1337 90.9 1326 87.5 1314.5C84.1 1303 87.4 1283.9 87.3 1277.7" stroke-width="0.6" stroke-opacity="0.6"/><path d="M354.6 1215.1C360.5 1220.6 384.6 1235.8 389.8 1247.8C395 1259.8 389.5 1274.5 385.9 1287.2C382.3 1299.8 375.6 1312.3 368.1 1323.5C360.5 1334.8 351 1345.5 340.5 1354.6C330 1363.8 317.7 1371.9 305 1378.4C292.2 1384.8 278 1389.9 263.8 1393.2C249.7 1396.4 234.5 1398.1 219.9 1398C205.2 1397.9 190.1 1396.1 176 1392.6C161.8 1389.2 147.7 1383.9 135.1 1377.4C122.4 1370.8 109.8 1362.7 99.9 1353.2C89.9 1343.8 77.2 1333.2 75.1 1320.6C73 1308 85.3 1284.9 87.3 1277.7" stroke-width="1.1" stroke-opacity="0.5"/><path d="M354.6 1215.1C355.2 1215.9 356.9 1218.3 358 1219.9C359.1 1221.6 360.1 1223.2 361.1 1224.9C362 1226.7 362.9 1228.4 363.6 1230.2C364.4 1231.9 365 1233.8 365.5 1235.6C366 1237.4 366.4 1239.2 366.6 1241.1C366.9 1242.9 367 1244.8 366.9 1246.7C366.9 1248.5 366.7 1250.4 366.4 1252.2C366.1 1254.1 365.6 1255.9 365 1257.7C364.4 1259.5 363.7 1261.3 362.9 1263.1C362.1 1264.8 361.1 1266.5 360.1 1268.2C359.1 1269.9 358 1271.5 356.9 1273.1C355.7 1274.7 353.8 1277 353.2 1277.8" stroke-width="0.6" stroke-opacity="0.6"/><path d="M354.6 1215.1C355.2 1215.9 357 1218.3 358.1 1219.9C359.2 1221.6 360.3 1223.2 361.2 1224.9C362.2 1226.6 363.1 1228.4 363.9 1230.2C364.6 1231.9 365.3 1233.7 365.8 1235.6C366.3 1237.4 366.7 1239.2 367 1241.1C367.2 1242.9 367.3 1244.8 367.3 1246.7C367.2 1248.5 367 1250.4 366.7 1252.3C366.4 1254.1 365.9 1255.9 365.3 1257.7C364.7 1259.6 364 1261.3 363.1 1263.1C362.3 1264.8 361.3 1266.5 360.3 1268.2C359.3 1269.9 358.1 1271.5 356.9 1273.1C355.8 1274.7 353.9 1277 353.2 1277.8" stroke-width="0.5" stroke-opacity="0.3"/><path d="M354.6 1215.1C360.2 1219.5 382.8 1231.5 388.4 1241.3C394.1 1251.1 390.3 1263.4 388.5 1274.1C386.7 1284.8 382.3 1295.5 377.4 1305.5C372.6 1315.5 366.3 1325.2 359.2 1334C352 1342.9 343.6 1351.2 334.5 1358.5C325.4 1365.7 315.2 1372.2 304.6 1377.6C294 1382.9 282.5 1387.3 270.9 1390.5C259.2 1393.7 246.9 1395.8 234.8 1396.7C222.7 1397.6 210.2 1397.3 198.1 1395.8C186 1394.4 173.6 1392.1 162.4 1387.9C151.3 1383.8 137.7 1380.2 131.3 1371C124.9 1361.8 125.3 1339.3 124.1 1333" stroke-width="1.2" stroke-opacity="0.4"/><path d="M354.6 1215.1C356 1216.8 360.3 1221.5 362.7 1224.9C365.1 1228.3 367.4 1231.9 369.1 1235.7C370.9 1239.4 372.4 1243.3 373.4 1247.2C374.3 1251.2 374.9 1255.2 374.9 1259.2C375 1263.2 374.5 1267.2 373.8 1271.2C373.1 1275.1 372.1 1279.1 370.9 1282.9C369.6 1286.8 368.2 1290.6 366.4 1294.3C364.6 1297.9 362.7 1301.6 360.3 1305C357.9 1308.3 355.1 1311.5 351.9 1314.4C348.8 1317.3 345.2 1320 341.5 1322.3C337.8 1324.6 333.8 1326.7 329.7 1328.5C325.7 1330.3 319.3 1332.3 317.2 1333" stroke-width="2.3" stroke-opacity="0.4"/><path d="M354.6 1215.1C355.8 1216.8 359.8 1221.5 362 1225C364.2 1228.4 366.3 1232 367.9 1235.7C369.5 1239.4 370.9 1243.3 371.9 1247.2C372.8 1251.1 373.4 1255.1 373.6 1259.1C373.7 1263.1 373.3 1267.1 372.7 1271C372.1 1274.9 371 1278.8 369.8 1282.7C368.6 1286.5 367.2 1290.3 365.4 1293.9C363.6 1297.6 361.5 1301.1 359.1 1304.5C356.6 1307.8 353.7 1310.9 350.6 1313.8C347.5 1316.7 344.1 1319.3 340.5 1321.7C336.9 1324.1 333.1 1326.2 329.2 1328.1C325.3 1330 319.2 1332.2 317.2 1333" stroke-width="1.1" stroke-opacity="0.6"/><path d="M354.6 1215.1C357.6 1218.5 368.7 1228.1 372.8 1235.6C376.9 1243.1 378.5 1251.7 379.2 1259.9C379.8 1268.1 378.7 1276.7 377 1284.8C375.2 1293 372.2 1301.2 368.5 1308.9C364.8 1316.6 360.1 1324.2 354.7 1331.2C349.4 1338.1 343.2 1344.8 336.4 1350.7C329.6 1356.6 322.1 1362 314.2 1366.6C306.2 1371.3 297.7 1375.2 289 1378.4C280.3 1381.5 271.1 1384 261.9 1385.4C252.8 1386.8 243.2 1387.6 234.1 1386.9C225 1386.1 215.5 1384.6 207.4 1380.9C199.2 1377.2 189.1 1367.4 185.4 1364.7" stroke-width="1.9" stroke-opacity="0.4"/><path d="M354.6 1215.1C358.1 1218.5 371.2 1228 375.4 1235.5C379.7 1242.9 379.7 1251.7 380 1260C380.3 1268.2 379.1 1276.7 377.2 1284.9C375.3 1293.1 372.4 1301.3 368.7 1309C365 1316.7 360.3 1324.3 354.9 1331.3C349.6 1338.3 343.3 1344.9 336.6 1350.8C329.8 1356.8 322.2 1362.2 314.3 1366.8C306.4 1371.4 297.8 1375.4 289.1 1378.6C280.3 1381.7 271.1 1384.1 262 1385.6C252.8 1387.1 243.3 1388 234.2 1387.6C225 1387.1 215.3 1386.9 207.1 1383.1C199 1379.3 189 1367.8 185.4 1364.7" stroke-width="0.7" stroke-opacity="0.4"/><path d="M354.6 1215.1C357.4 1217.6 367 1224.3 371.5 1229.7C376.1 1235 379.8 1241.2 382 1247.4C384.3 1253.5 385 1260.2 385 1266.5C385 1272.9 383.5 1279.3 381.9 1285.5C380.3 1291.8 378.2 1298 375.5 1304C372.9 1310 369.6 1315.8 366 1321.4C362.3 1326.9 358.1 1332.3 353.5 1337.2C348.9 1342.2 343.8 1346.9 338.5 1351.1C333.1 1355.4 327.5 1359.6 321.3 1362.7C315.1 1365.8 308.3 1368.5 301.2 1369.8C294.1 1371 286.3 1371.3 279 1370.4C271.6 1369.6 260.6 1365.6 256.9 1364.7" stroke-width="0.6" stroke-opacity="0.4"/><path d="M354.6 1215.1C357 1217.6 364.9 1224.5 369 1229.9C373 1235.3 376.7 1241.3 378.9 1247.3C381.1 1253.4 382.2 1259.9 382.1 1266.1C382 1272.4 380.1 1278.6 378.2 1284.6C376.4 1290.7 373.9 1296.6 371.2 1302.4C368.4 1308.2 365.2 1313.8 361.6 1319.2C358.1 1324.6 354.1 1329.8 349.8 1334.8C345.5 1339.7 340.8 1344.5 335.8 1348.8C330.8 1353.2 325.6 1357.7 319.6 1360.8C313.5 1363.9 306.6 1366.2 299.6 1367.5C292.7 1368.7 285.1 1368.9 278 1368.4C270.9 1367.9 260.4 1365.3 256.9 1364.7" stroke-width="0.9" stroke-opacity="0.5"/><path d="M87.3 1277.7C86 1283.4 77.7 1301.4 79.1 1311.7C80.5 1322 88.8 1331.1 95.7 1339.6C102.6 1348.1 111.3 1355.8 120.5 1362.6C129.7 1369.3 140.1 1375.3 150.8 1380C161.5 1384.7 173.1 1388.4 184.8 1390.8C196.4 1393.3 208.8 1394.6 220.7 1394.6C232.7 1394.6 245 1393.3 256.7 1390.9C268.4 1388.5 280 1384.8 290.7 1380.1C301.5 1375.4 311.8 1369.5 321 1362.8C330.2 1356 338.9 1348.3 345.8 1339.8C352.7 1331.3 361.1 1322.3 362.3 1311.9C363.6 1301.6 354.8 1283.5 353.2 1277.8" stroke-width="2.3" stroke-opacity="0.4"/><path d="M87.3 1277.7C85.4 1283.6 75 1302.4 75.8 1313.1C76.7 1323.8 85.5 1333.1 92.5 1341.9C99.5 1350.6 108.4 1358.7 117.8 1365.6C127.2 1372.6 137.8 1378.7 148.8 1383.6C159.8 1388.5 171.7 1392.3 183.7 1394.8C195.7 1397.3 208.4 1398.7 220.7 1398.7C233.1 1398.7 245.7 1397.4 257.7 1394.9C269.7 1392.4 281.7 1388.6 292.7 1383.8C303.7 1378.9 314.4 1372.8 323.8 1365.9C333.2 1358.9 342.1 1350.9 349.1 1342.2C356.1 1333.4 365 1324.2 365.7 1313.4C366.4 1302.7 355.3 1283.7 353.2 1277.8" stroke-width="0.5" stroke-opacity="0.4"/><path d="M87.3 1277.7C87.3 1278.7 87.3 1281.5 87.3 1283.4C87.4 1285.3 87.5 1287.3 87.7 1289.2C87.9 1291.1 88.2 1293 88.6 1294.8C89 1296.7 89.5 1298.6 90.2 1300.4C90.8 1302.2 91.5 1304 92.4 1305.7C93.2 1307.5 94.2 1309.2 95.3 1310.8C96.3 1312.4 97.5 1314 98.8 1315.5C100.1 1317 101.6 1318.5 103 1319.8C104.5 1321.2 106.1 1322.5 107.8 1323.7C109.4 1324.9 111.2 1326.1 112.9 1327.2C114.7 1328.3 116.6 1329.3 118.4 1330.2C120.3 1331.2 123.1 1332.5 124.1 1333" stroke-width="0.6" stroke-opacity="0.4"/><path d="M87.3 1277.7C87.3 1278.7 87.1 1281.6 87.1 1283.5C87 1285.4 87.1 1287.4 87.2 1289.3C87.4 1291.2 87.6 1293.2 87.9 1295.1C88.3 1297 88.7 1298.9 89.3 1300.7C89.9 1302.6 90.6 1304.4 91.5 1306.1C92.3 1307.9 93.3 1309.6 94.3 1311.3C95.4 1312.9 96.7 1314.5 98 1316C99.3 1317.5 100.8 1318.9 102.3 1320.3C103.8 1321.6 105.5 1322.9 107.2 1324.1C108.9 1325.3 110.7 1326.4 112.5 1327.5C114.4 1328.5 116.3 1329.5 118.2 1330.4C120.1 1331.3 123.1 1332.5 124.1 1333" stroke-width="0.5" stroke-opacity="0.5"/><path d="M87.3 1277.7C85.2 1282.5 75.2 1297.7 74.5 1306.7C73.9 1315.6 79.1 1323.9 83.5 1331.5C87.9 1339.2 94.5 1346.1 101.1 1352.6C107.7 1359 115.1 1365.1 123 1370.3C130.9 1375.6 139.5 1380.3 148.4 1384.1C157.3 1388 166.8 1391.1 176.4 1393.4C185.9 1395.7 195.9 1397.2 205.7 1397.9C215.6 1398.5 225.7 1398.3 235.5 1397.3C245.2 1396.3 255.1 1394.4 264.4 1391.8C273.7 1389.1 283.2 1386.1 291.3 1381.4C299.4 1376.8 308.5 1371.9 312.8 1363.9C317.1 1355.8 316.5 1338.1 317.2 1333" stroke-width="1" stroke-opacity="0.5"/><path d="M87.3 1277.7C86.5 1282 81.8 1295.3 82.5 1303.5C83.1 1311.7 87.2 1319.5 91.2 1326.9C95.2 1334.4 100.4 1341.6 106.3 1348.1C112.1 1354.7 119 1360.8 126.4 1366.2C133.8 1371.5 142.1 1376.3 150.6 1380.1C159.1 1384 168.4 1387.2 177.6 1389.4C186.9 1391.6 196.6 1393 206.2 1393.5C215.8 1393.9 225.6 1393.5 234.9 1392.2C244.3 1390.9 253.7 1388.6 262.4 1385.6C271.2 1382.6 279.7 1378.6 287.2 1373.9C294.8 1369.3 302.7 1364.3 307.7 1357.5C312.7 1350.7 315.6 1337.1 317.2 1333" stroke-width="0.7" stroke-opacity="0.5"/><path d="M87.3 1277.7C87 1279.8 85.5 1285.8 85.2 1290C84.8 1294.1 84.7 1298.3 85.1 1302.4C85.5 1306.5 86.3 1310.7 87.6 1314.6C88.8 1318.5 90.6 1322.4 92.7 1326C94.9 1329.6 97.6 1332.9 100.4 1336.1C103.2 1339.4 106.3 1342.4 109.6 1345.3C112.8 1348.2 116.3 1350.9 119.9 1353.4C123.5 1355.9 127.3 1358.3 131.3 1360.2C135.3 1362.1 139.7 1363.7 144.1 1364.8C148.5 1365.9 153.2 1366.6 157.8 1366.9C162.4 1367.3 167.2 1367.2 171.8 1366.8C176.4 1366.4 183.1 1365 185.4 1364.7" stroke-width="1.9" stroke-opacity="0.4"/><path d="M87.3 1277.7C86.8 1279.8 84.5 1286.1 83.8 1290.4C83.1 1294.6 82.6 1299.1 83 1303.3C83.3 1307.4 84.3 1311.6 85.9 1315.4C87.5 1319.2 90.1 1322.7 92.6 1326C95.2 1329.4 98.1 1332.6 101 1335.7C104 1338.8 107.1 1341.8 110.3 1344.7C113.5 1347.5 116.9 1350.3 120.4 1352.9C123.9 1355.5 127.4 1358.1 131.2 1360.3C135 1362.5 138.8 1364.8 143.1 1366.2C147.4 1367.7 152.1 1368.5 156.8 1368.8C161.5 1369.1 166.5 1368.7 171.3 1368C176 1367.3 183 1365.3 185.4 1364.7" stroke-width="0.7" stroke-opacity="0.6"/><path d="M87.3 1277.7C85.7 1281.2 78.8 1292.1 77.6 1298.9C76.4 1305.7 77.7 1312.6 80.1 1318.5C82.5 1324.4 87.7 1329.3 92.1 1334.3C96.4 1339.4 101.2 1344.2 106.2 1348.6C111.3 1353.1 116.7 1357.3 122.4 1361.1C128 1365 134 1368.5 140.1 1371.6C146.3 1374.8 152.7 1377.6 159.3 1380C165.8 1382.4 172.6 1384.4 179.5 1386C186.3 1387.6 193.3 1388.9 200.4 1389.7C207.4 1390.5 214.7 1391.9 221.6 1390.8C228.5 1389.7 235.9 1387.2 241.7 1382.8C247.6 1378.5 254.4 1367.7 256.9 1364.7" stroke-width="1.2" stroke-opacity="0.5"/><path d="M87.3 1277.7C86.2 1281.1 81.6 1291.1 80.6 1297.8C79.6 1304.5 79.6 1311.7 81.5 1317.8C83.3 1323.9 87.6 1329.4 91.7 1334.6C95.8 1339.8 100.8 1344.4 105.9 1348.9C111 1353.4 116.4 1357.6 122.1 1361.5C127.7 1365.3 133.7 1368.9 139.9 1372C146.1 1375.2 152.5 1378 159.1 1380.4C165.7 1382.8 172.5 1384.8 179.3 1386.4C186.2 1388.1 193.3 1389.6 200.3 1390.1C207.3 1390.6 214.7 1391.1 221.6 1389.4C228.4 1387.7 235.4 1384.1 241.3 1380C247.2 1375.9 254.3 1367.2 256.9 1364.7" stroke-width="1.1" stroke-opacity="0.4"/><path d="M353.2 1277.8C355 1282.4 362.6 1296.4 363.7 1305.6C364.9 1314.9 363.8 1325 360.2 1333.1C356.5 1341.2 348.9 1347.9 342 1354.2C335.2 1360.6 327.2 1366.2 319.1 1371.3C310.9 1376.3 302.1 1380.8 293.1 1384.5C284.1 1388.2 274.6 1391.3 265 1393.6C255.5 1395.8 245.5 1397.4 235.6 1398.1C225.8 1398.9 215.7 1398.9 205.8 1398.1C195.9 1397.3 185.9 1395.9 176.4 1393.4C167 1390.9 156.7 1388.5 149 1383.1C141.4 1377.8 134.7 1369.5 130.6 1361.2C126.4 1352.8 125.1 1337.7 124.1 1333" stroke-width="1" stroke-opacity="0.6"/><path d="M353.2 1277.8C355.9 1282.8 367.7 1298.5 369 1307.8C370.3 1317.1 365.5 1325.9 361 1333.6C356.4 1341.3 348.7 1347.7 341.6 1353.9C334.6 1360.1 326.8 1365.8 318.7 1370.9C310.6 1375.9 301.9 1380.4 292.9 1384.1C283.9 1387.8 274.4 1390.8 264.9 1393.1C255.3 1395.3 245.4 1396.9 235.6 1397.6C225.8 1398.4 215.7 1398.4 205.9 1397.6C196 1396.8 186.1 1395.2 176.6 1393C167 1390.7 156.8 1388.5 148.6 1383.9C140.4 1379.2 131.3 1373.7 127.2 1365.2C123.2 1356.7 124.6 1338.3 124.1 1333" stroke-width="0.5" stroke-opacity="0.6"/><path d="M353.2 1277.8C353.3 1278.7 353.4 1281.6 353.4 1283.5C353.4 1285.4 353.3 1287.3 353.1 1289.2C352.9 1291.1 352.6 1293 352.3 1294.9C351.9 1296.7 351.4 1298.6 350.8 1300.4C350.2 1302.2 349.5 1304 348.6 1305.8C347.8 1307.5 346.8 1309.2 345.8 1310.8C344.7 1312.5 343.5 1314 342.2 1315.6C341 1317.1 339.6 1318.5 338.1 1319.9C336.6 1321.2 335 1322.5 333.4 1323.8C331.7 1325 330 1326.1 328.2 1327.2C326.5 1328.3 324.6 1329.3 322.8 1330.3C321 1331.2 318.1 1332.6 317.2 1333" stroke-width="2.3" stroke-opacity="0.3"/><path d="M353.2 1277.8C353.3 1278.7 353.4 1281.6 353.4 1283.5C353.4 1285.4 353.3 1287.3 353.1 1289.2C352.9 1291.1 352.7 1293 352.3 1294.9C351.9 1296.8 351.4 1298.6 350.8 1300.4C350.2 1302.3 349.5 1304.1 348.7 1305.8C347.8 1307.5 346.9 1309.2 345.8 1310.9C344.7 1312.5 343.5 1314.1 342.3 1315.6C341 1317.1 339.6 1318.5 338.1 1319.9C336.6 1321.2 335 1322.5 333.4 1323.8C331.7 1325 330 1326.1 328.2 1327.2C326.5 1328.3 324.7 1329.3 322.8 1330.3C321 1331.3 318.1 1332.6 317.2 1333" stroke-width="0.5" stroke-opacity="0.6"/><path d="M353.2 1277.8C354.2 1281 358 1290.7 358.8 1297.2C359.6 1303.8 359.7 1310.8 358.1 1316.9C356.5 1323.1 353.2 1329 349.4 1334.3C345.6 1339.5 340.3 1344 335.3 1348.5C330.3 1352.9 324.9 1357.1 319.3 1360.9C313.7 1364.7 307.7 1368.3 301.6 1371.4C295.5 1374.5 289.1 1377.3 282.6 1379.7C276.1 1382.1 269.3 1384.1 262.5 1385.7C255.7 1387.4 248.7 1389.1 241.8 1389.4C234.8 1389.7 227.4 1389.3 220.7 1387.4C213.9 1385.6 207.1 1382.1 201.3 1378.4C195.4 1374.6 188 1367 185.4 1364.7" stroke-width="0.8" stroke-opacity="0.5"/><path d="M353.2 1277.8C354 1279.9 356.7 1286.3 357.6 1290.5C358.5 1294.8 359.1 1299.3 358.7 1303.4C358.3 1307.6 357.1 1311.6 355.3 1315.3C353.5 1319 350.7 1322.2 348.1 1325.5C345.6 1328.8 342.8 1332 339.9 1335.1C337 1338.1 334 1341.1 330.8 1343.9C327.6 1346.8 324.3 1349.5 320.9 1352.1C317.4 1354.7 313.9 1357.1 310.2 1359.4C306.5 1361.7 302.9 1364.2 298.8 1365.8C294.7 1367.4 290.2 1368.5 285.5 1368.9C280.9 1369.3 275.9 1368.9 271.1 1368.2C266.4 1367.5 259.3 1365.3 256.9 1364.7" stroke-width="0.8" stroke-opacity="0.5"/><path d="M353.2 1277.8C353.6 1279.8 354.9 1285.8 355.3 1289.8C355.6 1293.8 355.5 1297.9 355.1 1302C354.7 1306 354 1310.1 352.9 1314.1C351.7 1318 350.3 1321.9 348.4 1325.7C346.5 1329.4 344.3 1333 341.7 1336.4C339.1 1339.7 336.2 1342.9 332.9 1345.8C329.7 1348.7 326.1 1351.3 322.4 1353.6C318.6 1355.9 314.5 1358 310.4 1359.6C306.2 1361.3 301.8 1362.7 297.4 1363.8C293 1364.8 288.4 1365.5 283.9 1365.9C279.4 1366.3 274.8 1366.4 270.3 1366.2C265.8 1366 259.2 1365 256.9 1364.7" stroke-width="1.1" stroke-opacity="0.5"/><path d="M124.1 1333C125 1336.1 126.9 1346.3 130 1352C133 1357.7 137.5 1362.9 142.4 1367.3C147.3 1371.8 153.3 1375.3 159.3 1378.5C165.3 1381.7 171.9 1384.4 178.6 1386.5C185.2 1388.7 192.2 1390.3 199.2 1391.4C206.3 1392.6 213.5 1393.1 220.7 1393.1C227.8 1393.1 235.1 1392.6 242.1 1391.5C249.1 1390.4 256.1 1388.8 262.8 1386.6C269.4 1384.5 276 1381.9 282 1378.7C288.1 1375.5 294.1 1371.9 298.9 1367.5C303.8 1363.1 308.3 1357.9 311.4 1352.2C314.4 1346.4 316.2 1336.2 317.2 1333" stroke-width="1.9" stroke-opacity="0.3"/><path d="M124.1 1333C125.1 1336.1 127 1346.2 130 1352C133.1 1357.7 137.5 1363 142.3 1367.6C147.1 1372.1 152.8 1376.1 158.8 1379.5C164.8 1382.8 171.5 1385.4 178.2 1387.6C184.9 1389.8 192 1391.5 199 1392.7C206.1 1393.8 213.5 1394.4 220.7 1394.4C227.9 1394.4 235.2 1393.8 242.3 1392.7C249.3 1391.6 256.4 1389.9 263.1 1387.8C269.8 1385.6 276.5 1383 282.5 1379.7C288.5 1376.3 294.3 1372.3 299.1 1367.7C303.9 1363.2 308.3 1357.9 311.3 1352.1C314.3 1346.3 316.2 1336.2 317.2 1333" stroke-width="0.5" stroke-opacity="0.4"/><path d="M124.1 1333C124.5 1333.8 125.9 1336.4 126.9 1338.1C127.9 1339.8 128.9 1341.5 130.1 1343.1C131.2 1344.7 132.5 1346.3 133.8 1347.7C135.1 1349.2 136.5 1350.7 138 1352C139.5 1353.4 141.1 1354.6 142.8 1355.8C144.5 1356.9 146.3 1358 148.1 1358.9C149.9 1359.9 151.8 1360.7 153.8 1361.5C155.7 1362.2 157.8 1362.8 159.8 1363.3C161.9 1363.8 164 1364.2 166.1 1364.4C168.2 1364.7 170.4 1364.9 172.5 1365C174.7 1365.1 176.9 1365.1 179 1365.1C181.1 1365 184.3 1364.8 185.4 1364.7" stroke-width="1" stroke-opacity="0.4"/><path d="M124.1 1333C124.5 1333.8 125.9 1336.3 127 1338C128 1339.7 129.1 1341.3 130.3 1342.9C131.4 1344.5 132.7 1346 134 1347.5C135.4 1348.9 136.8 1350.4 138.3 1351.7C139.8 1353 141.4 1354.3 143.1 1355.4C144.8 1356.5 146.5 1357.6 148.4 1358.5C150.2 1359.5 152.1 1360.3 154 1361C156 1361.8 158 1362.4 160 1362.9C162.1 1363.4 164.2 1363.8 166.3 1364.1C168.4 1364.4 170.5 1364.7 172.6 1364.8C174.8 1364.9 176.9 1365 179.1 1364.9C181.2 1364.9 184.3 1364.7 185.4 1364.7" stroke-width="1.1" stroke-opacity="0.6"/><path d="M124.1 1333C124.9 1334.8 127.2 1340.4 129.3 1344C131.4 1347.5 133.8 1351 136.5 1354.2C139.2 1357.4 142.2 1360.5 145.5 1363.2C148.8 1366 152.5 1368.4 156.3 1370.6C160.1 1372.7 164.1 1374.6 168.3 1376.1C172.4 1377.7 176.8 1379.1 181.1 1380.1C185.5 1381.1 190 1381.9 194.5 1382.4C199 1382.8 203.5 1383.1 208 1382.9C212.5 1382.7 217.1 1382.2 221.5 1381.3C225.9 1380.4 230.2 1379.1 234.3 1377.5C238.5 1375.9 242.5 1374 246.3 1371.9C250 1369.7 255.2 1365.9 256.9 1364.7" stroke-width="0.6" stroke-opacity="0.5"/><path d="M124.1 1333C124.9 1334.8 127.1 1340.6 129.1 1344.2C131.1 1347.8 133.5 1351.3 136.1 1354.6C138.8 1357.9 141.7 1361.1 145 1364C148.2 1366.9 151.7 1369.6 155.5 1372C159.2 1374.4 163.2 1376.5 167.4 1378.3C171.5 1380 175.9 1381.5 180.4 1382.5C184.8 1383.6 189.5 1384.3 194 1384.6C198.6 1384.9 203.3 1384.9 207.9 1384.5C212.5 1384.1 217.1 1383.3 221.5 1382.2C225.9 1381.1 230.3 1379.7 234.4 1378C238.5 1376.3 242.6 1374.4 246.3 1372.2C250.1 1369.9 255.2 1365.9 256.9 1364.7" stroke-width="0.5" stroke-opacity="0.4"/><path d="M317.2 1333C316.5 1335 314.6 1341 312.8 1344.8C311 1348.6 308.8 1352.4 306.3 1355.8C303.7 1359.2 300.8 1362.5 297.5 1365.4C294.2 1368.2 290.5 1370.8 286.7 1372.9C282.8 1375.1 278.6 1376.7 274.4 1378.2C270.1 1379.8 265.8 1381.1 261.4 1382.1C256.9 1383.2 252.4 1384 247.9 1384.5C243.4 1385.1 238.8 1385.5 234.2 1385.4C229.7 1385.2 225.1 1384.7 220.6 1383.7C216.2 1382.7 211.8 1381.1 207.7 1379.3C203.5 1377.5 199.5 1375.2 195.8 1372.8C192.1 1370.4 187.1 1366.1 185.4 1364.7" stroke-width="1.9" stroke-opacity="0.6"/><path d="M317.2 1333C316.4 1334.9 314.3 1340.7 312.3 1344.2C310.3 1347.8 307.9 1351.3 305.2 1354.4C302.4 1357.6 299.3 1360.5 295.9 1363C292.6 1365.6 288.8 1367.8 285 1369.9C281.2 1371.9 277.2 1373.8 273.1 1375.3C269 1376.9 264.8 1378.2 260.5 1379.3C256.2 1380.3 251.7 1381 247.3 1381.5C242.9 1382 238.4 1382.1 233.9 1382.1C229.5 1382 225 1381.7 220.7 1381C216.3 1380.2 211.9 1379.2 207.8 1377.7C203.7 1376.2 199.7 1374.3 196 1372.1C192.2 1369.9 187.2 1365.9 185.4 1364.7" stroke-width="0.5" stroke-opacity="0.5"/><path d="M317.2 1333C316.7 1333.8 315.3 1336.3 314.3 1337.9C313.2 1339.5 312.1 1341.1 310.9 1342.6C309.7 1344.2 308.5 1345.7 307.2 1347.1C305.8 1348.5 304.4 1349.9 302.9 1351.2C301.4 1352.5 299.9 1353.7 298.2 1354.8C296.6 1355.9 294.8 1357 293.1 1357.9C291.3 1358.8 289.4 1359.7 287.5 1360.4C285.6 1361.1 283.7 1361.8 281.7 1362.3C279.7 1362.8 277.6 1363.3 275.6 1363.6C273.5 1364 271.5 1364.2 269.4 1364.4C267.3 1364.6 265.2 1364.7 263.1 1364.7C261.1 1364.8 258 1364.7 256.9 1364.7" stroke-width="1.5" stroke-opacity="0.4"/><path d="M185.4 1364.7C186.3 1365.2 189 1366.7 190.8 1367.6C192.7 1368.6 194.6 1369.4 196.5 1370.2C198.4 1371 200.4 1371.8 202.4 1372.4C204.4 1373.1 206.5 1373.6 208.6 1374.1C210.6 1374.5 212.7 1374.8 214.8 1375.1C216.9 1375.3 219.1 1375.4 221.2 1375.4C223.3 1375.4 225.4 1375.3 227.5 1375.1C229.6 1374.8 231.7 1374.5 233.8 1374C235.9 1373.6 237.9 1373 239.9 1372.4C241.9 1371.8 243.9 1371 245.8 1370.2C247.8 1369.4 249.7 1368.5 251.5 1367.6C253.4 1366.7 256 1365.2 256.9 1364.7" stroke-width="1" stroke-opacity="0.3"/><path d="M185.4 1364.7C186.3 1365.2 188.9 1366.8 190.8 1367.8C192.6 1368.8 194.5 1369.8 196.4 1370.6C198.4 1371.5 200.3 1372.3 202.4 1372.9C204.4 1373.6 206.4 1374.2 208.5 1374.7C210.6 1375.2 212.7 1375.6 214.8 1375.8C216.9 1376 219 1376.2 221.2 1376.2C223.3 1376.2 225.4 1376 227.6 1375.8C229.7 1375.5 231.8 1375.2 233.9 1374.7C235.9 1374.2 238 1373.6 240 1372.9C242 1372.3 244 1371.5 245.9 1370.6C247.8 1369.7 249.7 1368.8 251.6 1367.8C253.4 1366.8 256 1365.2 256.9 1364.7" stroke-width="0.5" stroke-opacity="0.4"/><path d="M220.5 1244L183.6 1140" stroke-width="1" stroke-opacity="0.7"/><path d="M220.5 1244L251.2 1138.4" stroke-width="1.8" stroke-opacity="0.8"/><path d="M220.5 1244L132 1170.3" stroke-width="2.2" stroke-opacity="0.5"/><path d="M220.5 1244L309.4 1170.3" stroke-width="2.2" stroke-opacity="0.6"/><path d="M220.5 1244L102.5 1219.5" stroke-width="1.4" stroke-opacity="0.5"/><path d="M220.5 1244L338.1 1218.7" stroke-width="1.4" stroke-opacity="0.5"/><path d="M220.5 1244L103.7 1273.6" stroke-width="2.2" stroke-opacity="0.7"/><path d="M220.5 1244L336.9 1273.6" stroke-width="1" stroke-opacity="0.7"/><path d="M220.5 1244L136 1322" stroke-width="0.8" stroke-opacity="0.5"/><path d="M220.5 1244L305.3 1322" stroke-width="2.2" stroke-opacity="0.5"/><path d="M220.5 1244L189.8 1349.8" stroke-width="1" stroke-opacity="0.6"/><path d="M220.5 1244L252.5 1349.8" stroke-width="1.8" stroke-opacity="0.7"/></g><g fill="none" stroke="#a2a2a2" stroke-linecap="round"><path d="M286.9 1059.7C293.7 1065.5 315.6 1081.9 327.9 1094.5C340.2 1107.1 351.4 1121.1 360.7 1135.5C369.9 1149.8 377.9 1165.9 383.2 1180.6C388.5 1195.3 391.6 1211 392.6 1223.6C393.6 1236.2 393 1248.2 389.3 1256.4C385.7 1264.6 377 1269.7 370.9 1272.8C364.8 1275.9 355.5 1274.5 352.5 1274.8" stroke-width="1.4" stroke-opacity="0.5"/><path d="M288.9 1058.9C296.1 1065 319.3 1082.6 332 1095.7C344.6 1108.9 355.7 1123.1 364.8 1137.5C373.8 1152 381.1 1166.2 386.1 1182.6C391 1199 393.7 1219.2 394.3 1235.9C394.8 1252.6 393.2 1270.1 389.3 1283C385.5 1296 377.7 1306.6 370.9 1313.8C364.1 1320.9 356.2 1324.4 348.4 1326.1C340.5 1327.8 327.9 1324.4 323.8 1324" stroke-width="1" stroke-opacity="0.5"/><path d="M286.1 1061.7C292.3 1067.9 312.4 1085.3 323.8 1098.6C335.2 1111.9 346.3 1127.6 354.5 1141.6C362.7 1155.6 370.2 1171 373 1182.6C375.7 1194.2 374.2 1205.4 370.9 1211.3C367.6 1217.2 356.2 1216.8 353.3 1217.9" stroke-width="1" stroke-opacity="0.5"/><path d="M288.9 1057.6C296.4 1063.8 321 1081.2 334 1094.5C347 1107.8 357.9 1122.9 366.8 1137.5C375.7 1152.2 382.7 1165.5 387.3 1182.6C391.9 1199.7 394.5 1222.9 394.7 1240C394.9 1257.1 392.5 1271.4 388.5 1285.1C384.6 1298.7 378.4 1310.5 370.9 1322C363.4 1333.4 354 1345.1 343.4 1353.9C332.9 1362.8 318.2 1371.7 307.4 1375.2C296.6 1378.8 286.9 1378 278.7 1375.2C270.5 1372.5 261.6 1361.6 258.2 1358.9" stroke-width="0.8" stroke-opacity="0.5"/><path d="M266.4 1051.5C258.9 1053.9 237 1059.7 221.3 1065.8C205.6 1072 187.2 1080.2 172.1 1088.4C157.1 1096.6 141.4 1106.1 131.1 1115C120.9 1123.9 113 1133.4 110.7 1141.6C108.3 1149.8 115.8 1160.4 116.8 1164.2" stroke-width="1" stroke-opacity="0.5"/><path d="M264.3 1049.4C255.8 1051.5 230.5 1055.6 213.1 1061.7C195.7 1067.9 176.9 1076.4 159.8 1086.3C142.8 1096.2 124.7 1108.5 110.7 1121.1C96.7 1133.8 84 1149.8 75.8 1162.1C67.6 1174.4 60.5 1186.4 61.5 1194.9C62.5 1203.5 78.6 1210.3 82 1213.4" stroke-width="1.1" stroke-opacity="0.5"/><path d="M265.6 1050.7C255.5 1053.5 224.6 1060.6 204.9 1067.9C185.2 1075.2 165.3 1083.9 147.5 1094.5C129.8 1105.1 112 1118.1 98.4 1131.4C84.7 1144.7 73.6 1159.7 65.6 1174.4C57.5 1189.1 52.4 1205.2 50 1219.5C47.6 1233.9 45.2 1251.6 51.2 1260.5C57.2 1269.4 80.3 1270.7 86.1 1272.8" stroke-width="0.8" stroke-opacity="0.5"/><path d="M268.4 1055.6C262 1060.7 242.1 1074.7 229.5 1086.3C216.9 1097.9 198.8 1118.8 192.6 1125.2" stroke-width="1.3" stroke-opacity="0.6"/><path d="M266.4 1057.6C258.9 1064.8 232.9 1088.7 221.3 1100.7C209.7 1112.6 200.8 1124.6 196.7 1129.3" stroke-width="0.8" stroke-opacity="0.6"/><path d="M275.4 1063.8C272.5 1074.4 261.1 1116.7 258.2 1127.3" stroke-width="1.1" stroke-opacity="0.6"/><path d="M282.8 1063.8C287.6 1072 304.6 1097.9 311.5 1113C318.3 1128 323.1 1145.1 323.8 1153.9C324.5 1162.8 316.9 1164.2 315.6 1166.2" stroke-width="0.9" stroke-opacity="0.6"/></g><g font-family="Liberation Sans, Arial, sans-serif"><g transform="translate(183.6 1140) scale(1 0.88)"><circle cx="0" cy="3.8" r="16.6" fill="#606060"/><circle cx="0" cy="0" r="16.9" fill="url(#b22)" stroke="#3d8873" stroke-width="0.7"/><path d="M-1.7 -0.6L-2.7 -1.3L-5.1 -0.8L-4.7 -0.3M-0.1 4.2L1 3.9L-1 6L-0.9 3.7M0.4 1.9L2.4 -0.5L3.7 -1L6.3 -1.7M-0.9 3.3L-3.2 4.3M6.8 0.5L6.2 -0.1L5.3 -0M-2.1 -1.8L-5.1 -1.2M-2.8 -1.7L-4.2 -0.5L-7.3 -2.6M-6.5 2.3L-3.7 1.4L-5 -0.4L-7.5 0M1.2 -3.3L-1.5 -4L-0.8 -2.7L-3.4 -2.2M-2.9 7.2L-4 6.5L-6 8.8M3.6 -0.3L6.6 2.5L5.8 1.9M-1.1 7.4L-3.3 5.6L-5.7 3.2M-5.2 4.1L-6.8 5.2L-6.8 3.5L-7.5 0.9" fill="none" stroke="#3a50c0" stroke-width="0.7" stroke-opacity="0.75" stroke-linecap="round"/><ellipse cx="0" cy="-10.1" rx="9.5" ry="3.9" fill="url(#gloss)"/></g><g transform="translate(251.2 1138.4) scale(1 0.88)"><circle cx="0" cy="3.8" r="16.6" fill="#606060"/><circle cx="0" cy="0" r="16.9" fill="url(#b23)" stroke="#558d77" stroke-width="0.7"/><path d="M-3.7 -0.8L-5.8 -2.7L-7.7 -1.4L-9.7 0.5M-2.5 5.8L-1 6.4L-1.3 8.7L1.8 8M-0.2 2L-3.5 0.9L-5 2.9M0.8 4L-1.5 2.7L1.4 1.9M-0.6 7.7L1.2 5.1L4.1 3M-6 5.3L-3.6 2.6L-4.9 0.2L-3.5 2.4M-2.4 1.4L-4.1 3.1L-6.7 2.1L-6.6 -0.7M5.7 3.2L6.3 3.7M6.9 -0.2L9.4 1.8M-0.6 2.1L-2 1.9L-0.8 4.5L1.3 4.8M-0.1 2.6L-3.3 3.2M-0.5 6.3L-0.5 4.4L-2.2 7.2M-5.6 0.4L-7.6 0.4" fill="none" stroke="#a09020" stroke-width="0.7" stroke-opacity="0.75" stroke-linecap="round"/><ellipse cx="0" cy="-10.1" rx="9.5" ry="3.9" fill="url(#gloss)"/></g><g transform="translate(132 1170.3) scale(1 0.88)"><circle cx="0" cy="3.8" r="16.6" fill="#606060"/><circle cx="0" cy="0" r="16.9" fill="url(#b24)" stroke="#8d303f" stroke-width="0.7"/><path d="M-2.6 0.9L-2.9 -0.5L-3.6 -0.8L-4.5 1.1M4.6 -0.2L3.1 2M4 5.2L2.9 3.6L5.1 1.9L2 -0.9M-1.3 2.1L1.1 0.3L2.5 2.1M-1.2 2.9L0.3 4.5L-1.2 5.3L-1.3 5.5M1.6 -3.6L-0.7 -5.2M-1.5 1.8L0.5 -0.5M-0.3 2.1L-1.2 1.2M3.4 4.6L5.7 7.5M5.1 4L5.7 6.4L8.4 6.8M-4.7 4.4L-4.3 7.1M4.6 2.9L7.2 3M-1.4 5.3L-3.9 4.2" fill="none" stroke="#b03090" stroke-width="0.7" stroke-opacity="0.75" stroke-linecap="round"/><ellipse cx="0" cy="-10.1" rx="9.5" ry="3.9" fill="url(#gloss)"/></g><g transform="translate(309.4 1170.3) scale(1 0.88)"><circle cx="0" cy="3.8" r="16.6" fill="#606060"/><circle cx="0" cy="0" r="16.9" fill="url(#b25)" stroke="#926969" stroke-width="0.7"/><path d="M2.2 6.3L1.9 4M-3.1 1.7L-4.4 3.4L-1.3 1.3M-1.1 3.5L-1.2 3.7L-1.9 3.6L-2.2 2.6M-3.9 1.2L-4.9 -1.3M1.2 3.1L3.4 4.4M-4.3 -2L-1 -0.8M2.8 0L4.1 1.8M-3.3 -1.9L-6.2 -3.7L-2.8 -5.8L-2.3 -5M-0.2 2.4L-3.3 3.8L-4.7 4.2M1.8 6.8L1.3 8.5L-1 10.8L1.7 11.3M1.1 1.9L1.2 4.1M3.4 3.5L5.2 4.5L8.3 5.1M2.6 1.1L4.1 4L7.2 5.9" fill="none" stroke="#b03090" stroke-width="0.7" stroke-opacity="0.75" stroke-linecap="round"/><ellipse cx="0" cy="-10.1" rx="9.5" ry="3.9" fill="url(#gloss)"/></g><g transform="translate(102.5 1219.5) scale(1 0.88)"><circle cx="0" cy="3.8" r="16.6" fill="#606060"/><circle cx="0" cy="0" r="16.9" fill="url(#b26)" stroke="#693589" stroke-width="0.7"/><path d="M1.4 0.7L1.2 2.4L1.8 2.2L4.6 0.9M-1 -2.8L1.1 -1.4M-0.2 6.4L-0.8 8.5M-0.1 1.9L1.1 0.9L3.4 -0.4L6.3 2.1M1.8 -2.8L2.3 -3M-0.3 2.9L-1.1 1.2L-2.1 1.5M5.9 1.3L4.4 0.2M0 2L1.7 3.7L-1.1 1.2L-4.1 3.7M2.9 5.6L4.8 2.8M6.6 3.9L4.1 5.2L0.8 5.9L2.2 5.4M-1.1 2.9L1.7 3M2.4 -3.4L3.7 -3.3L0.5 -5.1L0.6 -5.5M2.2 3.1L0.6 4.4L0.1 5.6" fill="none" stroke="#7a3cc8" stroke-width="0.7" stroke-opacity="0.75" stroke-linecap="round"/><ellipse cx="0" cy="-10.1" rx="9.5" ry="3.9" fill="url(#gloss)"/></g><g transform="translate(338.1 1218.7) scale(1 0.88)"><circle cx="0" cy="3.8" r="16.6" fill="#606060"/><circle cx="0" cy="0" r="16.9" fill="url(#b27)" stroke="#305e8d" stroke-width="0.7"/><path d="M-7.3 2.3L-9 4.6L-9.5 4.1L-8.3 6.3M-0.3 1.9L-0.8 1.2M1.1 7.4L4.2 9.1L2.7 7.9M0.9 4.4L1.5 1.7L4 4.3M-6 0.2L-4.3 0.1L-5.9 -2.1L-7.8 -1.3M-5.4 3.7L-4.7 3.5L-6.1 3.8M-1.4 1.5L0.1 3.3M1.1 -2.2L2 0.6L0.8 -0.8L4 0.3M0.5 5.6L3.8 5.6M0.6 -0.5L3.5 2.2L6 2.3M-2.2 3.6L-5.3 2.1M-1.7 0.3L-2.2 0.1L-1.2 -1.2M2.3 -1.6L0.3 -0.5" fill="none" stroke="#2a8a4a" stroke-width="0.7" stroke-opacity="0.75" stroke-linecap="round"/><ellipse cx="0" cy="-10.1" rx="9.5" ry="3.9" fill="url(#gloss)"/></g><g transform="translate(103.7 1273.6) scale(1 0.88)"><circle cx="0" cy="3.8" r="16.6" fill="#606060"/><circle cx="0" cy="0" r="16.9" fill="url(#b28)" stroke="#586e92" stroke-width="0.7"/><path d="M0.4 -1.1L3.3 1.3L3.3 0.5L4 1.5M5.6 0.6L8.2 -0.7L7.4 -0.2M0.3 4.5L-1.6 7.2L-1 8.6L1.8 8.9M4.2 -0.6L1.1 2.1L4 0.6L1.5 -2M0.9 2.6L1 3.1L-1.6 4.4L0.3 3.8M-2.6 3.1L-2.5 1.5L-1.1 0.6L0 -2M0.1 2.1L2.8 0.2M0.5 -3L0.2 -1.4M3 -1L5.6 1.7L2.6 3.8L3.3 5.1M5.7 2.9L7 2.8L5.8 0M0.7 1.3L0.3 2.7M0 2L0.4 3.8L-0.5 2.5L0.8 3M-5.9 0.1L-6.8 -0.7" fill="none" stroke="#3a50c0" stroke-width="0.7" stroke-opacity="0.75" stroke-linecap="round"/><ellipse cx="0" cy="-10.1" rx="9.5" ry="3.9" fill="url(#gloss)"/></g><g transform="translate(336.9 1273.6) scale(1 0.88)"><circle cx="0" cy="3.8" r="16.6" fill="#606060"/><circle cx="0" cy="0" r="16.9" fill="url(#b29)" stroke="#2a6983" stroke-width="0.7"/><path d="M-3.1 -3L-4.6 -4.8M-2.2 3.6L-4.4 1.8L-7.1 -0.9L-4.6 1.2M1.8 3.5L2.4 1.8M-3.8 -2.1L-3.6 -4.9L-2.6 -2.5M-0.5 6.6L1.1 8.9L2.2 10.4L-0.6 9.1M2.9 1.4L4.7 1.4M2.6 1.5L0.4 1L-2.5 0.7M-1 2.6L-1.1 1.1M2.2 3.7L3.9 3.2M-3.3 -2.8L-3.9 -4.4M2 -3.7L1.2 -2.4L0.9 -3.3L0.5 -5M0.5 3.6L-0.1 4.3L2.8 2L2.6 1M4.7 2L6.1 2.2" fill="none" stroke="#b03090" stroke-width="0.7" stroke-opacity="0.75" stroke-linecap="round"/><ellipse cx="0" cy="-10.1" rx="9.5" ry="3.9" fill="url(#gloss)"/></g><g transform="translate(136 1322) scale(1 0.88)"><circle cx="0" cy="3.8" r="16.6" fill="#606060"/><circle cx="0" cy="0" r="16.9" fill="url(#b30)" stroke="#6e6492" stroke-width="0.7"/><path d="M-3 2.1L-2 5L-3.1 5.3L-3.6 7.5M-2.7 2.7L-5.6 5.4L-6.6 5.4M1 2.4L-0.9 2.5L-2.5 5L-4.4 6.9M-0 2L2.1 3.1L2.9 1.6L3.1 4M-1.5 4L1.4 1.7L3.6 3.8L6.7 4.3M-0.7 -2.5L-3.2 -0.5M1.3 -0.1L4.3 -1.6L5.8 0.2M-0.3 1L-0.2 -1.5L-0.5 -2.1L-1.8 -3.2M-1.2 6.3L-2.1 5M5.8 1L4.2 -1M-5 0.9L-3.2 0.6M-0.1 2L0.3 4.3L0.5 3.9L3.8 3.4M5.6 1.2L7.3 1.7" fill="none" stroke="#7a3cc8" stroke-width="0.7" stroke-opacity="0.75" stroke-linecap="round"/><ellipse cx="0" cy="-10.1" rx="9.5" ry="3.9" fill="url(#gloss)"/></g><g transform="translate(305.3 1322) scale(1 0.88)"><circle cx="0" cy="3.8" r="16.6" fill="#606060"/><circle cx="0" cy="0" r="16.9" fill="url(#b31)" stroke="#8d8854" stroke-width="0.7"/><path d="M-5.9 5.7L-5.4 4.5L-7.9 7L-9.2 5.1M0.2 0.1L2 -0.4M-1.8 3.2L-4.1 3M1.4 2.4L1.9 2.2L-1.4 2.3M-1.7 1.2L-4.4 2.1M2.7 -3.2L3.3 -0.7L4.6 0.2L1.6 -2.4M-0.3 7.5L1.9 7.4M1 4.2L-0.8 6.3L-0 6.6M-0.1 3.7L-3.4 5.2M1.8 6.7L0.3 4.8L3.6 3.7L6.9 4.1M-0.6 -0.3L1.7 0.9L-1.4 -1L1.9 -2.5M-2.6 4.4L-4 6.1M0.5 0.4L2.7 0.4" fill="none" stroke="#a09020" stroke-width="0.7" stroke-opacity="0.75" stroke-linecap="round"/><ellipse cx="0" cy="-10.1" rx="9.5" ry="3.9" fill="url(#gloss)"/></g><g transform="translate(189.8 1349.8) scale(1 0.88)"><circle cx="0" cy="3.8" r="16.6" fill="#606060"/><circle cx="0" cy="0" r="16.9" fill="url(#b32)" stroke="#924f35" stroke-width="0.7"/><path d="M3.5 0.6L2.6 2L0.4 0.1L3.2 2.1M1.8 -2.2L4.7 0.6L4.7 3.4L3.2 1.3M7.2 3.6L5.2 1.4M1.7 -3.1L-0.5 -3L1.9 -1.2L1.9 -0.8M4.8 6.1L7.6 7.9M1.1 -3.2L0.6 -5.6M1.1 4.8L2.5 4.6L2.3 4.1M-0.3 2.2L1.9 3.7M-1.1 1.1L-4.1 0.3M-1.7 3.5L-3.2 5.6M-4.6 0.8L-6.9 -0.8L-4 0.9L-4.4 -1.6M-3.9 -0.3L-5.3 -1.1L-7.5 0.5L-4.1 2.6M0.1 2.1L-2.6 1.9L-0.4 2.5" fill="none" stroke="#b03090" stroke-width="0.7" stroke-opacity="0.75" stroke-linecap="round"/><ellipse cx="0" cy="-10.1" rx="9.5" ry="3.9" fill="url(#gloss)"/></g><g transform="translate(252.5 1349.8) scale(1 0.88)"><circle cx="0" cy="3.8" r="16.6" fill="#606060"/><circle cx="0" cy="0" r="16.9" fill="url(#b33)" stroke="#4a8835" stroke-width="0.7"/><path d="M-1 0.7L-1 1.3L1.7 2.6M-1.1 3.6L-2 3.1L0.5 2.5L0.8 2.1M6 -1.1L5.7 0.6M-3.3 3.8L-1.2 3.5M0.8 2.6L0.3 4.9L1.3 6M-1.1 0.8L1.2 -1.6L0.8 -3.5M4 0L4.5 1.2M3.3 1.1L6.4 1.5L3.1 -1L4.9 -3.1M0 1.8L0.5 4.1L2 2.1L3.8 0.4M0.1 1.8L0.8 0.6L-1.9 3.5M0.7 -2.1L2.8 -5M-0.9 4L-1.3 2.9M0.5 -2.3L-1.1 -4.8L-1.7 -2.6" fill="none" stroke="#a09020" stroke-width="0.7" stroke-opacity="0.75" stroke-linecap="round"/><ellipse cx="0" cy="-10.1" rx="9.5" ry="3.9" fill="url(#gloss)"/></g><g transform="translate(220.5 1244) scale(1 0.88)"><circle cx="0" cy="3.8" r="16.6" fill="#606060"/><circle cx="0" cy="0" r="16.9" fill="url(#b34)" stroke="#6e8d64" stroke-width="0.7"/><path d="M2.2 3.7L-1.2 2.4L0.9 0.9L0.2 -1.4M-2.3 5.6L0.1 4.8L1.1 6.1M-4.7 3L-2.6 2.1L-4 3.8M6 -1.4L7.6 -1M0.2 5L2.4 2.2M3.4 1.5L2.6 -0.5L0.7 -0.8L2.2 1M-2.9 -2.1L-4.1 -4.9L-4.8 -4M-5 2.7L-5.5 3.5L-7.5 0.9L-9.8 1.2M0.1 -1.7L2.7 -2.1M0.1 2L-1.4 4.5L-1.3 5.1M-0.3 0.4L-1 1.2L-2.5 3.9M-4.1 5.1L-2.4 6.8M1.6 -0.5L3.7 -0.3L6.6 -1.8L5.1 -1.1" fill="none" stroke="#2a8a4a" stroke-width="0.7" stroke-opacity="0.75" stroke-linecap="round"/><ellipse cx="0" cy="-10.1" rx="9.5" ry="3.9" fill="url(#gloss)"/></g><g transform="translate(277.4 1048.6) scale(1 0.88)"><circle cx="0" cy="3.8" r="16.6" fill="#606060"/><circle cx="0" cy="0" r="16.9" fill="url(#b35)" stroke="#698d69" stroke-width="0.7"/><path d="M1.9 3.1L1.6 3.7L-0.9 3.2M6.6 2.2L4.2 1M-4 -1.9L-1 -0.7L1.4 -2.9L-1.4 -3.7M0.3 0.3L1.6 -1.8M1.6 -0.9L5 -1.2M4.9 5.8L2.1 6.7L4.7 7.7M-2.8 2.8L-1.8 1.7M-4.4 3.1L-3.2 2.1L-5.4 3.6L-6.2 6.1M4.7 4.5L5.1 3.6L3.4 2.6M0.1 2.3L-2 0.9L-4.8 0.9L-1.5 0.9M1.4 2.6L4.3 3.6M3.4 4.7L2.1 5.3L4.4 4.9L4.5 5.5M-0.4 3L-0.9 0.5" fill="none" stroke="#3a50c0" stroke-width="0.7" stroke-opacity="0.75" stroke-linecap="round"/><ellipse cx="0" cy="-10.1" rx="9.5" ry="3.9" fill="url(#gloss)"/></g><text transform="translate(183.6 1122.4) scale(1.09 1)" font-size="12.3" text-anchor="middle" fill="#1c1c1c">PTH</text><text transform="translate(251.2 1120.8) scale(1.09 1)" font-size="12.3" text-anchor="middle" fill="#1c1c1c">IGF1</text><text transform="translate(132 1152.7) scale(1.09 1)" font-size="12.3" text-anchor="middle" fill="#1c1c1c">ESR1</text><text transform="translate(309.4 1152.7) scale(1.09 1)" font-size="12.3" text-anchor="middle" fill="#1c1c1c">TGFB1</text><text transform="translate(102.5 1201.9) scale(1.09 1)" font-size="12.3" text-anchor="middle" fill="#1c1c1c">LRP5</text><text transform="translate(338.1 1201.1) scale(1.09 1)" font-size="12.3" text-anchor="middle" fill="#1c1c1c">COL1A2</text><text transform="translate(103.7 1256) scale(1.09 1)" font-size="12.3" text-anchor="middle" fill="#1c1c1c">GAPDH</text><text transform="translate(336.9 1256) scale(1.09 1)" font-size="12.3" text-anchor="middle" fill="#1c1c1c">BGLAP</text><text transform="translate(136 1304.4) scale(1.09 1)" font-size="12.3" text-anchor="middle" fill="#1c1c1c">TNFSF11</text><text transform="translate(305.3 1304.4) scale(1.09 1)" font-size="12.3" text-anchor="middle" fill="#1c1c1c">IL6</text><text transform="translate(189.8 1332.2) scale(1.09 1)" font-size="12.3" text-anchor="middle" fill="#1c1c1c">VDR</text><text transform="translate(252.5 1332.2) scale(1.09 1)" font-size="12.3" text-anchor="middle" fill="#1c1c1c">TNFRSF11B</text><text transform="translate(220.5 1226.4) scale(1.09 1)" font-size="12.3" text-anchor="middle" fill="#1c1c1c">COL1A1</text><text transform="translate(277.4 1031) scale(1.09 1)" font-size="12.3" text-anchor="middle" fill="#1c1c1c">KL</text></g>
<g fill="none" stroke="#a2a2a2" stroke-linecap="round"><path d="M254.1 1550.7C253.2 1560.4 249.7 1599.2 248.8 1608.9" stroke-width="0.9" stroke-opacity="0.6"/><path d="M245.9 1555.6C235.7 1560.4 204.9 1569.2 184.4 1584.3C163.9 1599.3 137.3 1624.6 123 1645.7C108.6 1666.9 99.7 1692.2 98.4 1711.3C97 1730.4 112 1752.3 114.8 1760.5" stroke-width="0.9" stroke-opacity="0.6"/><path d="M245.1 1557.6C233.6 1564.1 198 1579.1 176.2 1596.6C154.5 1614 128.4 1638.9 114.8 1662.1C101.1 1685.4 95.6 1709.9 94.3 1735.9C92.9 1761.9 101.1 1796.4 106.6 1817.9C112 1839.4 123.6 1857.1 127 1865" stroke-width="0.8" stroke-opacity="0.6"/><path d="M248.8 1608.9C247.9 1618.8 244.3 1658.7 243.4 1668.7" stroke-width="0.9" stroke-opacity="0.6"/><path d="M241.8 1613C222 1627.3 142.8 1684.7 123 1699" stroke-width="0.8" stroke-opacity="0.6"/><path d="M243.4 1668.7C242.6 1678.5 239 1717.9 238.1 1727.7" stroke-width="0.9" stroke-opacity="0.6"/><path d="M252 1666.2C268.1 1670.7 332.3 1688.4 348.4 1692.9" stroke-width="0.8" stroke-opacity="0.6"/><path d="M192.2 1688.8C199.9 1695.3 230.5 1721.2 238.1 1727.7" stroke-width="0.9" stroke-opacity="0.6"/><path d="M297.5 1712.1C307.4 1709.5 346.7 1698.8 356.6 1696.1" stroke-width="0.9" stroke-opacity="0.6"/><path d="M238.1 1727.7C248 1725.1 287.6 1714.7 297.5 1712.1" stroke-width="0.8" stroke-opacity="0.5"/><path d="M238.1 1727.7C229.7 1733.2 196.1 1755 187.7 1760.5" stroke-width="0.9" stroke-opacity="0.6"/><path d="M238.1 1727.7C244 1735.7 267.5 1767.7 273.4 1775.7" stroke-width="1.6" stroke-opacity="0.8"/><path d="M273.4 1775.7C279.2 1783.6 302.7 1815.6 308.6 1823.6" stroke-width="1.8" stroke-opacity="0.8"/><path d="M187.7 1760.5C177 1761.9 134.4 1767.3 123.8 1768.7" stroke-width="0.7" stroke-opacity="0.5"/><path d="M123 1713.4C126.4 1718.5 133.9 1736.2 143.4 1744.1C153 1752 174.2 1757.8 180.3 1760.5" stroke-width="0.8" stroke-opacity="0.6"/><path d="M123.8 1768.7C114.2 1772 76 1785.1 66.4 1788.4" stroke-width="1.5" stroke-opacity="0.8"/><path d="M120.9 1776.9C119.9 1783.7 113.7 1803.5 114.8 1817.9C115.8 1832.2 125 1855.4 127 1863" stroke-width="0.8" stroke-opacity="0.6"/><path d="M71.7 1793.3C80.3 1798.1 108.9 1815.1 123 1822C137 1828.8 146.2 1831.5 155.7 1834.3C165.3 1837 176.2 1837.7 180.3 1838.4" stroke-width="1.5" stroke-opacity="0.8"/><path d="M61.5 1797.4C59.4 1802.2 47.8 1815.1 49.2 1826.1C50.5 1837 57.4 1854.4 69.7 1863C82 1871.5 114.1 1874.9 123 1877.3" stroke-width="1.5" stroke-opacity="0.8"/><path d="M64.8 1798.2C63 1803 52.6 1816.6 54.1 1826.9C55.6 1837.1 62.3 1852 73.8 1859.7C85.2 1867.4 114.8 1870.9 123 1873.2" stroke-width="0.9" stroke-opacity="0.7"/><path d="M182.4 1840.4C178.6 1843.5 166.7 1853.7 159.8 1858.9C153 1864 144.5 1869.1 141.4 1871.1" stroke-width="1.5" stroke-opacity="0.8"/><path d="M188.1 1835.1C189.1 1845.7 193.2 1888.4 194.3 1899" stroke-width="1.1" stroke-opacity="0.7"/><path d="M57.4 1795.3C56.7 1802.5 49.2 1823.7 53.3 1838.4C57.4 1853 66.9 1872.5 82 1883.4C97 1894.4 126.4 1900.9 143.4 1903.9C160.5 1907 177.6 1902.2 184.4 1901.9" stroke-width="0.8" stroke-opacity="0.6"/><path d="M82 1801.5C90.8 1806.3 118.9 1824.4 135.2 1830.2C151.6 1836 172.8 1835.3 180.3 1836.3" stroke-width="0.9" stroke-opacity="0.6"/><path d="M132.8 1883.4C133.9 1887.5 136.9 1901.2 139.3 1908C141.8 1914.9 146.2 1921.7 147.5 1924.4" stroke-width="0.7" stroke-opacity="0.4"/><path d="M244.5 1541.6C240.9 1540.3 232.9 1534.8 222.9 1534C213 1533.1 198.4 1533.5 184.9 1536.5C171.4 1539.4 156.6 1543.9 141.8 1551.7C127 1559.5 109.6 1570.9 96.1 1583.4C82.6 1595.9 70.1 1611.7 60.6 1626.5C51.1 1641.3 43.7 1659.5 39 1672.2C34.4 1684.9 33.5 1692.3 32.7 1702.9C31.8 1713.5 33.2 1726.8 34 1735.6C34.7 1744.5 34.7 1749.2 37 1755.9C39.3 1762.7 44 1771.4 47.9 1776.2C51.8 1781.1 58.5 1783.6 60.6 1785.1" stroke-width="1.5" stroke-opacity="0.7"/><path d="M244.5 1544.1C240.9 1542.9 232.7 1537.7 222.9 1537C213.2 1536.3 199.3 1536.8 186.2 1539.8C173.1 1542.8 158.8 1547.2 144.3 1555C129.8 1562.8 112.5 1574.1 99.1 1586.5C85.8 1598.8 73.5 1614.6 64.1 1629.1C54.8 1643.6 47.5 1661.1 42.8 1673.5C38.2 1685.8 37.2 1693 36.2 1703.2C35.3 1713.3 36.6 1725.9 37.3 1734.4C37.9 1742.8 38.2 1747.4 40.3 1753.9C42.4 1760.4 46.5 1768.4 49.9 1773.2C53.4 1777.9 59.2 1781 61.1 1782.6" stroke-width="1" stroke-opacity="0.6"/><path d="M243.9 1606.8C240.1 1604.4 231.9 1594.5 221.3 1592.5C210.7 1590.4 193.3 1590.4 180.3 1594.5C167.3 1598.6 154.4 1607.1 143.4 1617C132.5 1627 121.9 1641 114.8 1653.9C107.6 1666.9 103.1 1681.3 100.4 1694.9C97.7 1708.6 96.3 1724.6 98.4 1735.9C100.4 1747.2 110.3 1758.1 112.7 1762.5" stroke-width="0.9" stroke-opacity="0.6"/><path d="M234.4 1665.5C231.7 1663.4 224.6 1655.7 218.6 1652.8C212.6 1650 206 1647.4 198.3 1648.3C190.7 1649.1 180.2 1651.6 173 1657.9C165.8 1664.2 158.9 1676.1 155.2 1685.8C151.5 1695.5 150.2 1706.9 150.7 1716.3C151.1 1725.6 153.2 1734.5 157.8 1741.6C162.3 1748.7 174.7 1756 178.1 1758.9" stroke-width="1.7" stroke-opacity="0.7"/><path d="M235.1 1668.1C232 1666.1 222.7 1659 216.1 1656.6C209.6 1654.3 202.6 1652.8 195.8 1654.1C189 1655.4 181.4 1658.1 175.5 1664.2C169.6 1670.4 163.5 1681.8 160.3 1690.9C157.1 1700 155.9 1709.9 156.5 1718.8C157.1 1727.7 160.4 1737.8 164.1 1744.2C167.8 1750.5 176.1 1754.7 178.6 1756.8" stroke-width="0.9" stroke-opacity="0.6"/><path d="M236.4 1659.9C233.9 1657.5 227.1 1647.9 221.2 1645.2C215.3 1642.6 206.6 1642.3 200.9 1644C195.2 1645.6 189.6 1649.7 186.9 1655.4C184.3 1661.1 185.5 1674.4 185.2 1678.2" stroke-width="1" stroke-opacity="0.6"/><path d="M251.6 1658.4C255 1656.7 264.3 1649 271.9 1648.3C279.5 1647.5 290.5 1650 297.3 1654.1C304 1658.2 309.8 1666.6 312.5 1673.1C315.2 1679.7 314.8 1688.1 313.8 1693.4C312.7 1698.7 307.4 1702.9 306.2 1704.8" stroke-width="1.1" stroke-opacity="0.6"/><path d="M251.6 1655.9C255.8 1654.4 268.1 1647.1 277 1647.3C285.9 1647.4 297.1 1650.6 304.9 1656.6C312.7 1662.6 319.7 1672.9 323.9 1683.3C328.1 1693.6 330.5 1706.9 330.3 1718.8C330 1730.6 327.3 1743.3 322.6 1754.3C318 1765.3 311.7 1775.9 302.4 1784.7C293.1 1793.6 279.5 1802.8 266.8 1807.6C254.2 1812.3 238.1 1814.4 226.3 1813.2C214.4 1811.9 203 1806.8 195.8 1800C188.6 1793.1 185.2 1776.7 183.1 1772.1" stroke-width="1.3" stroke-opacity="0.7"/><path d="M307.9 1712.4C310.2 1714.8 318.3 1720.3 321.4 1726.4C324.5 1732.5 327.5 1742 326.5 1749.2C325.4 1756.4 321.9 1764.7 315 1769.5C308.1 1774.4 290.1 1776.9 285.1 1778.4" stroke-width="1.3" stroke-opacity="0.7"/><path d="M307.4 1715C309.3 1717.7 316.5 1725.3 318.8 1731.5C321.2 1737.6 322.9 1745.2 321.4 1751.8C319.9 1758.3 316 1766.1 310 1770.8C303.9 1775.5 289.2 1778.6 285.1 1780.2" stroke-width="1" stroke-opacity="0.6"/><path d="M308.4 1710.7C311.7 1713.7 324 1722.1 327.7 1728.9C331.4 1735.8 332.5 1744.2 330.8 1751.8C329.1 1759.4 325.1 1769.5 317.6 1774.6C310.1 1779.7 291.2 1780.9 285.9 1782.2" stroke-width="0.9" stroke-opacity="0.6"/><path d="M366.5 1698C369.4 1701.9 379.9 1711.5 383.5 1721.3C387.1 1731.1 388.5 1745 388.1 1756.8C387.7 1768.7 385.6 1782.2 381 1792.4C376.4 1802.5 368.3 1811.6 360.7 1817.7C353.1 1823.9 342.2 1827.2 335.3 1829.1C328.5 1831 322.2 1829.1 319.6 1829.1" stroke-width="1.1" stroke-opacity="0.6"/><path d="M351.1 1704.1C348 1711.6 338.4 1734.5 332.8 1749.2C327.2 1763.9 320.7 1781.8 317.6 1792.4C314.4 1802.9 314.4 1809.3 313.8 1812.6" stroke-width="0.9" stroke-opacity="0.6"/><path d="M352.6 1704.8C349.7 1712.7 340.7 1736.8 335.3 1751.8C330 1766.8 323.8 1784.7 320.6 1794.9C317.4 1805.1 317 1810.1 316.3 1813.2" stroke-width="0.8" stroke-opacity="0.5"/><path d="M349.3 1702.3C346.5 1708 338.9 1726.2 332.8 1736.5C326.7 1746.9 320.4 1757.6 312.5 1764.4C304.6 1771.3 289.7 1775.4 285.1 1777.6" stroke-width="0.9" stroke-opacity="0.6"/><path d="M183.1 1770C185 1773.8 188.2 1786.5 194.5 1792.4C200.9 1798.2 211.7 1803.3 221.2 1805C230.7 1806.7 243.2 1804.6 251.6 1802.5C260.1 1800.4 267.7 1795.2 271.9 1792.4C276.1 1789.5 276.1 1786.4 277 1785.3" stroke-width="1" stroke-opacity="0.6"/><path d="M182.6 1683.8C179.3 1684.8 168 1684.2 162.8 1689.6C157.6 1695 152 1706.9 151.4 1716.3C150.8 1725.6 154.6 1738.3 159 1745.4C163.5 1752.5 174.9 1756.6 178.1 1758.9" stroke-width="0.9" stroke-opacity="0.6"/><path d="M180.6 1770C180.2 1774.2 177.5 1785.7 178.1 1794.9C178.6 1804.1 182.7 1820.3 183.6 1825.3" stroke-width="0.8" stroke-opacity="0.5"/><path d="M182.6 1770C182.5 1774.6 181.1 1788.3 181.9 1797.4C182.6 1806.6 186.1 1820.3 186.9 1824.8" stroke-width="0.7" stroke-opacity="0.5"/></g><g font-family="Liberation Sans, Arial, sans-serif"><g transform="translate(254.1 1550.7) scale(1 0.95)"><circle cx="0" cy="2.1" r="9.9" fill="#606060"/><circle cx="0" cy="0" r="10.1" fill="url(#b36)" stroke="#354a8d" stroke-width="0.7"/><path d="M-0.5 1.3L-0.4 -0.1L-1.1 1.5L0.3 3M3 3L1.4 1.4L1.5 2.7M0.7 2.7L0.4 1.9L-0.3 3L0.5 4.7M1.6 2.9L0.2 4.2L0.8 2.7L2.6 1.3M0.1 1.9L-1 1.8M4 2.8L3.8 1.2M-0.2 3.7L-2 2.8L-1.1 2.4M-0 0.5L-1.5 0.9L-2.9 -0.4M-1.7 -0.4L0.2 -0.6L-0.9 -1.4" fill="none" stroke="#3a50c0" stroke-width="0.7" stroke-opacity="0.75" stroke-linecap="round"/><ellipse cx="0" cy="-6.1" rx="5.7" ry="2.3" fill="url(#gloss)"/></g><g transform="translate(248.8 1608.9) scale(1 0.95)"><circle cx="0" cy="2.1" r="9.9" fill="#606060"/><circle cx="0" cy="0" r="10.1" fill="url(#b37)" stroke="#838864" stroke-width="0.7"/><path d="M-1.5 0.9L-1.1 -0.4L-3 -0.4M3.6 2.1L5.5 3.1L4.6 4.6L3.5 5.7M0.6 1L0.9 1.2L2.3 0.3L1.4 -0.5M2.7 -0.5L2 0.9L1.5 1.1L0.1 1.2M0.5 -1.3L0.1 -2.8M-3 2.2L-4.4 3.6L-3 4.5L-3.7 5.3M1.8 0.6L2.5 -0.5L0.9 -0L-1.1 1M-0 1.1L-0.7 2.2M-0.7 -1.6L-1.8 -2.4L-1.7 -2.6L-0.6 -1.5" fill="none" stroke="#b03090" stroke-width="0.7" stroke-opacity="0.75" stroke-linecap="round"/><ellipse cx="0" cy="-6.1" rx="5.7" ry="2.3" fill="url(#gloss)"/></g><g transform="translate(243.4 1668.7) scale(1 0.95)"><circle cx="0" cy="2.1" r="9.9" fill="#606060"/><circle cx="0" cy="0" r="10.1" fill="url(#b38)" stroke="#5e5492" stroke-width="0.7"/><path d="M1.2 0.8L2.4 0.7L0.5 0.5M-0.5 -0.4L-1.8 -0.5L-1.8 0.6M3.3 0.3L5.2 1.7M-0.7 2.5L-1.3 1.4L-1.3 3L-1.7 1.8M-2.2 1L-1.7 -0.6L-3.1 -0.4L-4.2 0.7M0.7 1.6L1.1 2.4L1 3.9M1 0.7L1 -0.6M0.7 3.4L-0.4 2.9L-2.4 3.4L-2.5 4.5M0.5 1.3L2 0.9L1.6 1.3L2.1 -0.1" fill="none" stroke="#3a50c0" stroke-width="0.7" stroke-opacity="0.75" stroke-linecap="round"/><ellipse cx="0" cy="-6.1" rx="5.7" ry="2.3" fill="url(#gloss)"/></g><g transform="translate(192.2 1688.8) scale(1 0.95)"><circle cx="0" cy="2.1" r="9.9" fill="#606060"/><circle cx="0" cy="0" r="10.1" fill="url(#b39)" stroke="#926473" stroke-width="0.7"/><path d="M1.6 1L3.1 0.5L5.1 0.8L5.2 -0.3M-1.5 1.1L-2 2.8M0.1 2.5L0.2 4.1M-1.5 -0.4L-0.9 0.1L-1 -0L0.7 -0.4M-0.2 0.7L0.5 -0.4M-0 -0.4L-0.2 -0.7L-0.8 -0M0.7 0.6L0.9 0.8L-1 0.8L-0.7 -0.4M0.8 2.9L-1.1 1.3M0.2 0.3L1.7 1.7L0.5 1.9L1 0.9" fill="none" stroke="#c85a20" stroke-width="0.7" stroke-opacity="0.75" stroke-linecap="round"/><ellipse cx="0" cy="-6.1" rx="5.7" ry="2.3" fill="url(#gloss)"/></g><g transform="translate(118.9 1703.9) scale(1 0.95)"><circle cx="0" cy="2.1" r="9.9" fill="#606060"/><circle cx="0" cy="0" r="10.1" fill="url(#b40)" stroke="#4a832a" stroke-width="0.7"/><path d="M-1.2 2.8L-1.2 3.5L-2.5 2.5L-2.4 1.4M-0.6 -1.6L0.8 -2.3M-0.9 1.6L-0.7 1.4M0.4 0L0.5 -1.4M0.3 -1.5L2.3 -0.5M-1.8 3L-2.8 4.1L-2.7 2.9L-1.8 1.8M0.7 1.6L2.6 2.9L2.6 2M1.9 0.5L2.3 1.8L4 2.8L2.1 3M1 3L2.6 3.8L1.8 5.5" fill="none" stroke="#2a8a4a" stroke-width="0.7" stroke-opacity="0.75" stroke-linecap="round"/><ellipse cx="0" cy="-6.1" rx="5.7" ry="2.3" fill="url(#gloss)"/></g><g transform="translate(356.6 1696.1) scale(1 0.95)"><circle cx="0" cy="2.1" r="9.9" fill="#606060"/><circle cx="0" cy="0" r="10.1" fill="url(#b41)" stroke="#358888" stroke-width="0.7"/><path d="M-1.6 3.5L-3 4.3M2.2 0.3L3.7 -0.5L3.4 0.1M-2.2 3.5L-3.1 3.4L-4.4 4.5L-4.5 4.1M-3.4 1.2L-4.5 -0.5L-4.2 -2.1M1.3 1.3L2.7 0.8L3.5 1.7L1.8 0.8M3 3.6L4.6 3.8L5.2 3.7M-2.5 3.3L-0.6 4.6L-0.1 3.5M-3.5 2.5L-5.2 3.8L-5.8 1.9L-5.7 2.3M-0.9 1.2L1 1.7" fill="none" stroke="#3a50c0" stroke-width="0.7" stroke-opacity="0.75" stroke-linecap="round"/><ellipse cx="0" cy="-6.1" rx="5.7" ry="2.3" fill="url(#gloss)"/></g><g transform="translate(297.5 1712.1) scale(1 0.95)"><circle cx="0" cy="2.1" r="9.9" fill="#606060"/><circle cx="0" cy="0" r="10.1" fill="url(#b42)" stroke="#8d6964" stroke-width="0.7"/><path d="M0.7 -1.7L-0.7 -3.2L-0.6 -2.7L-2.3 -2.9M0.2 0.3L-1.6 -1M-0.7 1.2L-2.1 2.3L-0.2 2.1L-1.6 1.5M-3.7 -0.9L-4.9 -1L-3.5 -0.5L-4 0.2M1.7 -1.2L3.1 -2.6L3.6 -1M2.5 1.2L4.1 -0.1L2.2 1.4M0.4 2.1L-0.2 2.7L-1.5 1.1M-2.4 3L-3.1 3.5L-4.6 3.9M-0.1 1.2L0.3 0.4L-0.4 0.3" fill="none" stroke="#b03090" stroke-width="0.7" stroke-opacity="0.75" stroke-linecap="round"/><ellipse cx="0" cy="-6.1" rx="5.7" ry="2.3" fill="url(#gloss)"/></g><g transform="translate(238.1 1727.7) scale(1 0.95)"><circle cx="0" cy="2.1" r="9.9" fill="#606060"/><circle cx="0" cy="0" r="10.1" fill="url(#b43)" stroke="#885992" stroke-width="0.7"/><path d="M0.9 0.1L1.9 1.1M4.2 1.6L2.3 2.7M-1.2 0.9L-1.1 0.1L-0.4 -0.1L1.2 -1.2M-3.1 0L-5 -0.6M4.1 1.3L2.3 0.1L1.5 1.5L2.5 1.5M-0.7 2.4L-2.4 3.3L-3 4.7M-2.9 0.7L-4.9 0.1L-3.1 1M-2 -0.9L-0.5 -2.2L-1.8 -3M-1.9 2.3L-2.2 2.6L-2.6 1.7" fill="none" stroke="#7a3cc8" stroke-width="0.7" stroke-opacity="0.75" stroke-linecap="round"/><ellipse cx="0" cy="-6.1" rx="5.7" ry="2.3" fill="url(#gloss)"/></g><g transform="translate(187.7 1760.5) scale(1 0.95)"><circle cx="0" cy="2.1" r="9.9" fill="#606060"/><circle cx="0" cy="0" r="10.1" fill="url(#b44)" stroke="#546e8d" stroke-width="0.7"/><path d="M-0.1 0.7L1.4 2.3L1.2 3.2L0.8 2.2M-3.9 -0.4L-5.1 0.5L-4.9 -0.6L-3.2 -0.9M-1.4 1.4L-1.7 0.2L-1.5 -1.3M3.2 3.5L4.3 2.9M0.9 3.1L0.9 3.2M-0.8 2.2L0.8 2.6L-0.8 1.6M-0.8 0L-2 1M-2.7 3.5L-1.2 2.2L-0.3 1M0.6 0.1L-1.2 1.8L0.2 2L-0.9 3.6" fill="none" stroke="#3a50c0" stroke-width="0.7" stroke-opacity="0.75" stroke-linecap="round"/><ellipse cx="0" cy="-6.1" rx="5.7" ry="2.3" fill="url(#gloss)"/></g><g transform="translate(123.8 1768.7) scale(1 0.95)"><circle cx="0" cy="2.1" r="9.9" fill="#606060"/><circle cx="0" cy="0" r="10.1" fill="url(#b45)" stroke="#598859" stroke-width="0.7"/><path d="M-1.3 -1.3L0.4 -0.2L-1.3 0.1M2.7 -1L1.7 -1.8L1.1 -3.1L2.6 -4.2M2.7 0.6L4.1 2.2L3 1.7L4.2 3.2M-0.4 1L0.6 -0.2M1.4 3.4L0.4 1.8L-0.1 0.4M-3.3 1.2L-3.9 2.1L-2.7 1L-3.8 0.9M0.9 1.2L0.8 0.5L-0.8 -0.1M-1.8 3.8L-1 4.3L0.5 3M3.3 3.6L1.4 3.3L1 4.1" fill="none" stroke="#7a3cc8" stroke-width="0.7" stroke-opacity="0.75" stroke-linecap="round"/><ellipse cx="0" cy="-6.1" rx="5.7" ry="2.3" fill="url(#gloss)"/></g><g transform="translate(273.4 1775.7) scale(1 0.95)"><circle cx="0" cy="2.1" r="9.9" fill="#606060"/><circle cx="0" cy="0" r="10.1" fill="url(#b46)" stroke="#2a8344" stroke-width="0.7"/><path d="M-1.5 0.9L-1.1 -0.4L-3 -0.4M3.6 2.1L5.5 3.1L4.6 4.6L3.5 5.7M0.6 1L0.9 1.2L2.3 0.3L1.4 -0.5M2.7 -0.5L2 0.9L1.5 1.1L0.1 1.2M0.5 -1.3L0.1 -2.8M-3 2.2L-4.4 3.6L-3 4.5L-3.7 5.3M1.8 0.6L2.5 -0.5L0.9 -0L-1.1 1M-0 1.1L-0.7 2.2M-0.7 -1.6L-1.8 -2.4L-1.7 -2.6L-0.6 -1.5" fill="none" stroke="#3a50c0" stroke-width="0.7" stroke-opacity="0.75" stroke-linecap="round"/><ellipse cx="0" cy="-6.1" rx="5.7" ry="2.3" fill="url(#gloss)"/></g><g transform="translate(66.4 1788.4) scale(1 0.95)"><circle cx="0" cy="2.1" r="9.9" fill="#606060"/><circle cx="0" cy="0" r="10.1" fill="url(#b47)" stroke="#548d7e" stroke-width="0.7"/><path d="M0.2 1.1L-1.3 1.9L0.5 3M0.5 1.3L1.6 1.2M0.6 -0.7L1.1 0.8L0.1 2.4L1.3 3.3M3.9 1.2L4.2 2.4L4.7 2L5.6 2.6M0 1.1L0.7 2.8L-0.6 1.9M2.2 -0.3L2.7 0.8L0.8 0.6L-1.1 2.3M1 2.3L2.9 1L1.5 0.3M-1.8 0.8L-0.4 1.2L1.1 0.7L1.3 2.2M-0.5 3.2L0.5 3.9" fill="none" stroke="#3a50c0" stroke-width="0.7" stroke-opacity="0.75" stroke-linecap="round"/><ellipse cx="0" cy="-6.1" rx="5.7" ry="2.3" fill="url(#gloss)"/></g><g transform="translate(308.6 1823.6) scale(1 0.95)"><circle cx="0" cy="2.1" r="9.9" fill="#606060"/><circle cx="0" cy="0" r="10.1" fill="url(#b48)" stroke="#8d7835" stroke-width="0.7"/><path d="M-1.3 0.5L-1.3 0.6M2.1 -0L0.7 -0.3M-0.4 1.6L1.1 2.9M-2.9 -0.4L-2.1 -1.1M1.9 -0.1L1 -0.6L-0.8 0.4L-0.2 1.5M-3 3.6L-2.6 2.4M2.1 1.7L2.6 0.9M1.3 4.3L2 3.9L2.7 2.8L1.8 3.8M-0.9 2.6L0.1 3.1L-0.3 4" fill="none" stroke="#b03090" stroke-width="0.7" stroke-opacity="0.75" stroke-linecap="round"/><ellipse cx="0" cy="-6.1" rx="5.7" ry="2.3" fill="url(#gloss)"/></g><g transform="translate(188.1 1835.1) scale(1 0.95)"><circle cx="0" cy="2.1" r="9.9" fill="#606060"/><circle cx="0" cy="0" r="10.1" fill="url(#b49)" stroke="#8d2a73" stroke-width="0.7"/><path d="M-2.1 3.2L-2.3 3.3M1.1 -1.7L2.9 -1.3L3.4 -2.9M2.9 2.6L3.5 3.9L5.1 3.9M3.7 0.8L5.4 2.4L5.8 1.9L5.9 0.9M3.2 3.7L3.9 4.6M-0.6 0.8L0.6 -0L1.7 -0.4L-0.1 -1.2M-0.3 1.1L-1.6 0.3M-0.6 -0.6L-0.4 0.3L1.3 -1.3M-2 -0.4L-2.6 -1.9L-2 -0.5L-4 0.5" fill="none" stroke="#3a50c0" stroke-width="0.7" stroke-opacity="0.75" stroke-linecap="round"/><ellipse cx="0" cy="-6.1" rx="5.7" ry="2.3" fill="url(#gloss)"/></g><g transform="translate(132.8 1872.8) scale(1 0.95)"><circle cx="0" cy="2.1" r="9.9" fill="#606060"/><circle cx="0" cy="0" r="10.1" fill="url(#b50)" stroke="#8d3035" stroke-width="0.7"/><path d="M-2.9 2.9L-2.8 3.5L-0.9 3.9M3 3.5L4.9 2.1L4.7 2.3L5.5 3.1M-1.1 3.4L-2.4 4.4L-1.1 6L-2.1 6.5M-4.2 2.1L-2.7 0.7M-0.8 1.4L-2.2 2.9L-1.8 1.3M0.5 0.1L-0.1 -0.2M3.2 1.8L4.3 2.4L5.4 3.3M-0.4 2.7L-0.1 3M-0.8 4.4L-0.2 5.8L-1.5 5.4" fill="none" stroke="#b03090" stroke-width="0.7" stroke-opacity="0.75" stroke-linecap="round"/><ellipse cx="0" cy="-6.1" rx="5.7" ry="2.3" fill="url(#gloss)"/></g><g transform="translate(194.3 1899) scale(1 0.95)"><circle cx="0" cy="2.1" r="9.9" fill="#606060"/><circle cx="0" cy="0" r="10.1" fill="url(#b51)" stroke="#5e2a92" stroke-width="0.7"/><path d="M-0.6 1.7L-1.5 0L-2 1.2M-0.1 2.4L-2 3.1L-3.3 2.9M0 1.2L0.4 1L2.2 -0.1M-0.1 3L-0.7 1.5L-0.8 1.8L-0 0.1M-1.4 4.2L-0.9 4L-2.3 3.7L-2.2 2.9M0.1 -0.7L2.1 0.1L0.5 0.1M-2.1 1.6L-2.3 0.1L-2.3 -1.5L-2.8 -0.7M4 1.7L4.7 0.1L4.3 -0.3M-2.2 1.7L-3.1 0.6L-4.2 1.9L-5.5 3.2" fill="none" stroke="#3a50c0" stroke-width="0.7" stroke-opacity="0.75" stroke-linecap="round"/><ellipse cx="0" cy="-6.1" rx="5.7" ry="2.3" fill="url(#gloss)"/></g><text transform="translate(254.1 1538.7) scale(1.08 1)" font-size="7.4" text-anchor="middle" fill="#1c1c1c">TPM4</text><text transform="translate(248.8 1596.9) scale(1.08 1)" font-size="7.4" text-anchor="middle" fill="#1c1c1c">ATIC</text><text transform="translate(243.4 1656.7) scale(1.08 1)" font-size="7.4" text-anchor="middle" fill="#1c1c1c">TPI1</text><text transform="translate(192.2 1676.8) scale(1.08 1)" font-size="7.4" text-anchor="middle" fill="#1c1c1c">GPD2</text><text transform="translate(118.9 1691.9) scale(1.08 1)" font-size="7.4" text-anchor="middle" fill="#1c1c1c">PNP</text><text transform="translate(356.6 1684.1) scale(1.08 1)" font-size="7.4" text-anchor="middle" fill="#1c1c1c">PRDX3</text><text transform="translate(297.5 1700.1) scale(1.08 1)" font-size="7.4" text-anchor="middle" fill="#1c1c1c">PARK7</text><text transform="translate(238.1 1715.7) scale(1.08 1)" font-size="7.4" text-anchor="middle" fill="#1c1c1c">IDH2</text><text transform="translate(187.7 1748.5) scale(1.08 1)" font-size="7.4" text-anchor="middle" fill="#1c1c1c">ENO1</text><text transform="translate(123.8 1756.7) scale(1.08 1)" font-size="7.4" text-anchor="middle" fill="#1c1c1c">GSN</text><text transform="translate(273.4 1763.7) scale(1.08 1)" font-size="7.4" text-anchor="middle" fill="#1c1c1c">SOD2</text><text transform="translate(66.4 1776.4) scale(1.08 1)" font-size="7.4" text-anchor="middle" fill="#1c1c1c">VCL</text><text transform="translate(308.6 1811.6) scale(1.08 1)" font-size="7.4" text-anchor="middle" fill="#1c1c1c">GPX1</text><text transform="translate(188.1 1823.1) scale(1.08 1)" font-size="7.4" text-anchor="middle" fill="#1c1c1c">WDR1</text><text transform="translate(132.8 1860.8) scale(1.08 1)" font-size="7.4" text-anchor="middle" fill="#1c1c1c">TLN1</text><text transform="translate(194.3 1887) scale(1.08 1)" font-size="7.4" text-anchor="middle" fill="#1c1c1c">CAP1</text></g>
<g fill="none" stroke="#a2a2a2" stroke-linecap="round"><path d="M134 2141.1C137.3 2128.9 150.4 2080.3 153.7 2068.1" stroke-width="0.9" stroke-opacity="0.5"/><path d="M134 2141.1C124 2131.8 83.8 2094.6 73.8 2085.3" stroke-width="0.9" stroke-opacity="0.5"/><path d="M134 2141.1C147.9 2136.4 203.3 2117.8 217.2 2113.2" stroke-width="0.9" stroke-opacity="0.5"/><path d="M134 2141.1C119.3 2142.6 60.6 2148.6 45.9 2150.1" stroke-width="1.9" stroke-opacity="0.7"/><path d="M134 2141.1C127.2 2152 99.9 2195.7 93 2206.6" stroke-width="2" stroke-opacity="0.7"/><path d="M134 2141.1C144.1 2150.2 184.2 2186.8 194.3 2196" stroke-width="1" stroke-opacity="0.5"/><path d="M75.8 2074.3C78.2 2069.5 80.9 2051.7 90.2 2045.6C99.4 2039.4 120.9 2035.7 131.1 2037.4C141.4 2039.1 148.2 2052.7 151.6 2055.8" stroke-width="1.5" stroke-opacity="0.6"/><path d="M69.7 2074.3C71.7 2068.1 69.7 2045.6 82 2037.4C94.3 2029.2 123 2023.7 143.4 2025.1C163.9 2026.4 189.9 2037.4 204.9 2045.6C219.9 2053.8 230.2 2064.7 233.6 2074.3C237 2083.8 226.8 2098.2 225.4 2103" stroke-width="1" stroke-opacity="0.5"/><path d="M163.9 2057.9C169.4 2055.1 185.1 2041.5 196.7 2041.5C208.3 2041.5 226.8 2049.7 233.6 2057.9C240.4 2066.1 239.1 2082.5 237.7 2090.7C236.3 2098.9 227.5 2104.3 225.4 2107" stroke-width="2" stroke-opacity="0.7"/><path d="M161.9 2059.9C167 2057.9 182.4 2047.3 192.6 2047.6C202.9 2048 217.6 2054.8 223.4 2062C229.2 2069.1 228.1 2083.5 227.5 2090.7C226.8 2097.8 220.6 2102.6 219.3 2105" stroke-width="0.8" stroke-opacity="0.5"/><path d="M41 2139.8C38.3 2135.1 25.3 2120 24.6 2111.1C23.9 2102.3 30.7 2091.7 36.9 2086.6C43 2081.4 57.4 2081.4 61.5 2080.4" stroke-width="1.3" stroke-opacity="0.6"/><path d="M38.9 2141.9C34.5 2137.4 14.7 2125.2 12.3 2115.2C9.9 2105.3 16.4 2088.6 24.6 2082.5C32.8 2076.3 55.3 2079 61.5 2078.4" stroke-width="0.7" stroke-opacity="0.4"/><path d="M36.9 2141.9C33.5 2135.4 14.3 2119 16.4 2103C18.4 2086.9 32.8 2057.9 49.2 2045.6C65.6 2033.3 98.4 2027.8 114.8 2029.2C131.1 2030.5 142.1 2049.7 147.5 2053.8" stroke-width="1" stroke-opacity="0.5"/><path d="M32.8 2143.9C28.7 2135.7 5.5 2112.5 8.2 2094.8C10.9 2077 30.1 2048.6 49.2 2037.4C68.3 2026.1 98.4 2026.4 123 2027.1C147.5 2027.8 180.3 2029.5 196.7 2041.5C213.1 2053.4 217.2 2089.3 221.3 2098.9" stroke-width="0.8" stroke-opacity="0.4"/><path d="M61.5 2082.5C54.6 2085.9 30.1 2091.3 20.5 2103C10.9 2114.6 3.4 2134.4 4.1 2152.1C4.8 2169.9 11.6 2194.5 24.6 2209.5C37.6 2224.5 60.1 2236.8 82 2242.3C103.8 2247.8 137.3 2247.1 155.7 2242.3C174.2 2237.5 186.5 2218.4 192.6 2213.6" stroke-width="2" stroke-opacity="0.7"/><path d="M36.9 2160.3C34.8 2165.8 21.2 2180.8 24.6 2193.1C28 2205.4 41 2224.9 57.4 2234.1C73.8 2243.3 102.5 2249.1 123 2248.4C143.4 2247.8 168 2236.5 180.3 2230C192.6 2223.5 194 2212.9 196.7 2209.5" stroke-width="1.5" stroke-opacity="0.6"/><path d="M41 2160.3C41.7 2167.2 40.3 2191.1 45.1 2201.3C49.9 2211.6 63.5 2219.8 69.7 2221.8C75.8 2223.9 79.9 2215 82 2213.6" stroke-width="1.2" stroke-opacity="0.6"/><path d="M98.4 2217.7C102.5 2221.8 112 2238.9 123 2242.3C133.9 2245.7 152.7 2243.7 163.9 2238.2C175.2 2232.7 186.1 2214.3 190.6 2209.5" stroke-width="0.8" stroke-opacity="0.5"/><path d="M229.5 2111.1C235 2114.6 256.8 2120.7 262.3 2131.6C267.8 2142.6 266.4 2165.1 262.3 2176.7C258.2 2188.3 246.6 2196.9 237.7 2201.3C228.8 2205.8 213.8 2203 209 2203.4" stroke-width="0.7" stroke-opacity="0.4"/><path d="M194.3 2196C209.3 2200.4 269.4 2217.8 284.4 2222.2" stroke-width="0.8" stroke-opacity="0.4"/><path d="M194.3 2196C197.9 2208.9 212.4 2260.5 216 2273.4" stroke-width="0.8" stroke-opacity="0.4"/><path d="M284.4 2222.2C297.1 2228.8 347.6 2255.3 360.2 2262" stroke-width="0.7" stroke-opacity="0.4"/><path d="M295.1 2230C296.4 2234.8 306 2249.8 303.3 2258.7C300.5 2267.6 291 2279.9 278.7 2283.3C266.4 2286.7 237.7 2279.9 229.5 2279.2" stroke-width="0.7" stroke-opacity="0.3"/><path d="M284.8 2234.1C284.5 2243 285.9 2271.7 282.8 2287.4C279.7 2303.1 269.1 2321.5 266.4 2328.4" stroke-width="0.7" stroke-opacity="0.3"/><path d="M229.5 2277.1C239.1 2276.8 267.1 2276.8 286.9 2275.1C306.7 2273.4 338.1 2268.3 348.4 2266.9" stroke-width="0.8" stroke-opacity="0.4"/><path d="M216 2273.4C222.8 2284.5 250.1 2328.8 257 2339.8" stroke-width="1.2" stroke-opacity="0.5"/><path d="M370.9 2271C370.6 2278.5 376 2303.8 368.9 2316.1C361.7 2328.4 344.3 2338.9 327.9 2344.8C311.5 2350.6 280.1 2349.9 270.5 2350.9" stroke-width="0.7" stroke-opacity="0.3"/><path d="M229.5 2283.3C235 2284.6 251.4 2291.5 262.3 2291.5C273.2 2291.5 280.7 2287 295.1 2283.3C309.4 2279.5 339.5 2271.3 348.4 2268.9" stroke-width="0.6" stroke-opacity="0.3"/></g><g font-family="Liberation Sans, Arial, sans-serif"><g transform="translate(153.7 2068.1) scale(1 0.83)"><circle cx="0" cy="3.5" r="14.4" fill="#606060"/><circle cx="0" cy="0" r="14.6" fill="url(#b52)" stroke="#885492" stroke-width="0.7"/><path d="M-0.1 -3.3L-0.7 -1.4L-3.4 -0.2M2.8 0.1L1.8 2.5M2.4 3.4L-0.3 1.7L-2.1 2.8M4 1.7L5.3 3.8L5.7 4.8L7.3 5.7M3.1 3L5.1 3.9L4 5.8M-2 2.7L-3.6 0.9M-1.4 0.5L-2.4 2.8M1.9 -1.6L1.4 -3.6L1.3 -3.3L2.7 -2M-2.1 0L-1.8 -1.8L-0.1 0.5M0.9 4.9L2.5 5.1L1.5 6.5L-0.6 4.9M2.7 5.8L2.5 6.5L0.5 4.3M1.8 2L2.8 3.7M-0.4 2.3L2.1 1.7" fill="none" stroke="#7a3cc8" stroke-width="0.7" stroke-opacity="0.75" stroke-linecap="round"/><ellipse cx="0" cy="-8.8" rx="8.2" ry="3.4" fill="url(#gloss)"/></g><g transform="translate(73.8 2085.3) scale(1 0.83)"><circle cx="0" cy="3.5" r="14.4" fill="#606060"/><circle cx="0" cy="0" r="14.6" fill="url(#b53)" stroke="#698d59" stroke-width="0.7"/><path d="M-3.4 3.7L-1.3 3.2M-1.1 2.9L-1.1 0.8M-0.1 6.1L0.4 4.7L-0.7 5.2L-1.4 6.7M-0.5 3L2.1 3.5M-3.1 0.7L-0.2 0.4L-0.6 2.5M-0.8 1.9L1.2 1.2L3.8 -1.2L3.4 -1.4M4.2 2.5L6.6 3.8M-0.5 4.1L2.1 3M-1.2 2L-2.5 0.8L-5.3 2.9L-5.5 3.1M4.5 -0L2.7 -0.4L1.4 -1.4M-0.2 1.7L2.1 3.1L3.7 3M1.6 -0.3L2.2 1.9L1 1.2L-1.3 0.2M-5.2 3.4L-7.2 1L-5.5 -1.2L-4.5 -0.3" fill="none" stroke="#7a3cc8" stroke-width="0.7" stroke-opacity="0.75" stroke-linecap="round"/><ellipse cx="0" cy="-8.8" rx="8.2" ry="3.4" fill="url(#gloss)"/></g><g transform="translate(217.2 2113.2) scale(1 0.83)"><circle cx="0" cy="3.5" r="14.4" fill="#606060"/><circle cx="0" cy="0" r="14.6" fill="url(#b54)" stroke="#2a6988" stroke-width="0.7"/><path d="M-2.1 1.8L-4.5 1.4M-0.9 2.1L-1.6 3.3L-0.7 1.4L2 3.8M0.8 2.3L0.1 2.5M0.5 1.3L-2.2 1.6M0.2 1.8L-0.3 2.1L1.6 2.9L2.3 2.9M-1.7 2.5L-1 1.6L-2.6 1.6M5.3 0.6L4.3 -1.6L5.4 -3.7L6.7 -3.7M3.3 3.7L4.2 5.1L4.1 2.9L5.3 1.6M-1 1.4L-3.1 -0.6L-1 1.5L0.7 -0.6M0.9 6.4L-1.7 5.1L0.2 4.8M-2.4 6.2L-0.7 7L0.7 4.9M0 1.8L-0.6 0L-2.4 1.7L-1.5 0.3M-0.6 1.9L-3 2.7" fill="none" stroke="#3a50c0" stroke-width="0.7" stroke-opacity="0.75" stroke-linecap="round"/><ellipse cx="0" cy="-8.8" rx="8.2" ry="3.4" fill="url(#gloss)"/></g><g transform="translate(134 2141.1) scale(1 0.83)"><circle cx="0" cy="3.5" r="14.4" fill="#606060"/><circle cx="0" cy="0" r="14.6" fill="url(#b55)" stroke="#548d82" stroke-width="0.7"/><ellipse cx="0" cy="-8.8" rx="8.2" ry="3.4" fill="url(#gloss)"/></g><g transform="translate(45.9 2150.1) scale(1 0.83)"><circle cx="0" cy="3.5" r="14.4" fill="#606060"/><circle cx="0" cy="0" r="14.6" fill="url(#b56)" stroke="#2a833a" stroke-width="0.7"/><path d="M-1.5 1.5L-1.9 0.4L-1.1 -1.1L-3 -0.8M-0.2 1.4L1.6 3.3M3 6.4L1.9 8L4.1 8.9L2.5 8.5M-0 1.7L-1.2 3.5L-2.7 5.4M-3.3 4.4L-1 2.3L-0.7 1.3M5.6 2.5L8.5 1.8L8.4 0.4L8.3 -0M5.4 0.8L4.8 2.4L3.2 1.4L1 1.1M5.9 -0.2L7.9 -1.6M-5 -1.1L-6.3 -1.1L-3.4 -3.5L-5.8 -2.7M0.1 0.5L2.9 -1.9L2.3 -3.5L0.1 -1.4M-0.1 6.7L0.9 7.7L3 8.6M2.2 5.5L0.8 3.7M5.4 0.1L6.1 1.1" fill="none" stroke="#3a50c0" stroke-width="0.7" stroke-opacity="0.75" stroke-linecap="round"/><ellipse cx="0" cy="-8.8" rx="8.2" ry="3.4" fill="url(#gloss)"/></g><g transform="translate(194.3 2196) scale(1 0.83)"><circle cx="0" cy="3.5" r="14.4" fill="#606060"/><circle cx="0" cy="0" r="14.6" fill="url(#b57)" stroke="#4f3088" stroke-width="0.7"/><path d="M-2.2 -1.6L-3.4 -0.8L-5.8 -1.3M-2.6 0.6L-3.7 1.2M-0 1.5L1.8 2.3L3.8 0.3M-1.3 -1.3L-4.3 -0.5M0.3 -0.9L1.8 -0.1L-0.1 0.8M2.8 2.3L3.2 2.3M3.6 3.2L3.2 3.6L2.6 5.4M-0.3 3.3L1 2L-1.8 0.8M1.9 -0.2L0.6 0.1M4.9 3.3L4.1 5M0.4 -0.3L0.5 -1.6L-0.7 -1L-1.5 1M-5.3 0.4L-5.5 0.9L-5.2 1.6L-7.2 3.8M0.5 0.6L2.8 2L2.9 3.9L2.9 4.3" fill="none" stroke="#3a50c0" stroke-width="0.7" stroke-opacity="0.75" stroke-linecap="round"/><ellipse cx="0" cy="-8.8" rx="8.2" ry="3.4" fill="url(#gloss)"/></g><g transform="translate(93 2206.6) scale(1 0.83)"><circle cx="0" cy="3.5" r="14.4" fill="#606060"/><circle cx="0" cy="0" r="14.6" fill="url(#b58)" stroke="#596492" stroke-width="0.7"/><path d="M-1.9 4L-3.4 1.9M-0 2.6L-2.6 4.2M0.6 2.5L-0.6 4L0.7 5.4M-0.1 1.3L-0.3 2.6L-0.5 4M-0.5 1.9L-2.3 2.1M2 6.4L1.1 5.2L-1.7 2.9L-0 4.8M-0.7 -1.4L0.1 0.4L1.5 -0.2L0.1 0.2M-3.3 -0.8L-1.4 -1.8L1.3 -2.6M1.2 1.8L-1.4 2.7M-0.6 -2.8L-2.5 -1L-3.7 0.5L-1.7 2.9M4.1 3.1L1.6 3.8M-5 3.6L-4.9 5.5L-3.7 6.2M-1.5 -0.1L-3.7 -0.1" fill="none" stroke="#b03090" stroke-width="0.7" stroke-opacity="0.75" stroke-linecap="round"/><ellipse cx="0" cy="-8.8" rx="8.2" ry="3.4" fill="url(#gloss)"/></g><g transform="translate(284.4 2222.2) scale(1 0.83)"><circle cx="0" cy="3.5" r="14.4" fill="#606060"/><circle cx="0" cy="0" r="14.6" fill="url(#b59)" stroke="#83882a" stroke-width="0.7"/><path d="M4 4.7L3.5 4.4M2.7 1.5L1.4 0.4L2.9 1.8L5.7 2M0.3 1.9L2.3 1.8L2.9 4.2M4.9 0.9L6.3 0.9L8.1 -0.9M3.5 0.9L1.6 1.6L-0.4 2.7M3.2 2.2L1.5 3.6M2.4 -2.9L2 -4M-5.5 -0.6L-6.6 0.7L-6.1 2.1M1.7 3.6L3.2 3.5L0.7 1.6M-1.7 1.8L-0.6 1.7L0.5 -0L2.6 2.4M-1.4 4.5L-4.2 3.9L-4.5 4.5M1.1 0.3L3.9 -1.9L6.5 -1.5M-0.3 0.8L-2.1 -0.2L-4.8 -0L-5.6 2.1" fill="none" stroke="#a09020" stroke-width="0.7" stroke-opacity="0.75" stroke-linecap="round"/><ellipse cx="0" cy="-8.8" rx="8.2" ry="3.4" fill="url(#gloss)"/></g><g transform="translate(360.2 2262) scale(1 0.83)"><circle cx="0" cy="3.5" r="14.4" fill="#606060"/><circle cx="0" cy="0" r="14.6" fill="url(#b60)" stroke="#927e69" stroke-width="0.7"/><path d="M0.1 2.2L1.7 3.6M0.4 2.2L1.1 2.7M-1.8 1.3L-2.2 3.5L-4.2 5.5M4.7 -0.1L5.4 1.1L3.9 1.5M-4.6 2.3L-6.6 2.7L-5.9 0.3L-7.5 -1.7M-4.3 1L-3.4 1.2L-4.5 0.6M1.7 5.1L1 2.8M-1.5 1.6L-4.1 2.3L-3.4 4L-1 6.1M-0.6 1.6L-0.6 2.3L0.2 2.1M-1.2 3L-1.9 0.9L-4.1 -0.7L-2.6 -1.4M-5 2L-2.1 -0.4L-1.5 -0.3M2.2 3.6L0.3 4.2L-1 4M0.1 2L-1.6 3L-1.4 3.2" fill="none" stroke="#b03090" stroke-width="0.7" stroke-opacity="0.75" stroke-linecap="round"/><ellipse cx="0" cy="-8.8" rx="8.2" ry="3.4" fill="url(#gloss)"/></g><g transform="translate(216 2273.4) scale(1 0.83)"><circle cx="0" cy="3.5" r="14.4" fill="#606060"/><circle cx="0" cy="0" r="14.6" fill="url(#b61)" stroke="#8d353a" stroke-width="0.7"/><ellipse cx="0" cy="-8.8" rx="8.2" ry="3.4" fill="url(#gloss)"/></g><g transform="translate(257 2339.8) scale(1 0.83)"><circle cx="0" cy="3.5" r="14.4" fill="#606060"/><circle cx="0" cy="0" r="14.6" fill="url(#b62)" stroke="#8d2a69" stroke-width="0.7"/><path d="M-1.6 5L-0.8 3.8M-3.5 0.9L-3.5 1.6M4 0.4L3.8 1.2L5.9 3.1M-1.8 -0.3L-2.6 0.8L0.1 -0M-0 1.4L2.3 2.4L0.2 2M3 -2.6L1.9 -3.5L3.4 -3.7L5.6 -2.3M1.7 3.8L2.1 1.7L4.6 -0.7L4.6 1.2M4.1 5.2L5.9 7.5M5.3 2.7L7.7 2.6L7.2 2.5M1.3 0.9L1 -1.1M-0.8 0.3L-0.8 2.3L1.6 1.3M4.3 -0.6L6.7 0.6M4.7 -0.8L4.4 -0.4L7.3 -2.8" fill="none" stroke="#7a3cc8" stroke-width="0.7" stroke-opacity="0.75" stroke-linecap="round"/><ellipse cx="0" cy="-8.8" rx="8.2" ry="3.4" fill="url(#gloss)"/></g><text transform="translate(153.7 2053.5) scale(1.07 1)" font-size="11" text-anchor="middle" fill="#1c1c1c">CYP19A1</text><text transform="translate(73.8 2070.7) scale(1.07 1)" font-size="11" text-anchor="middle" fill="#1c1c1c">AR</text><text transform="translate(217.2 2098.6) scale(1.07 1)" font-size="11" text-anchor="middle" fill="#1c1c1c">ESR2</text><text transform="translate(134 2126.5) scale(1.07 1)" font-size="11" text-anchor="middle" fill="#1c1c1c">POMC</text><text transform="translate(45.9 2135.5) scale(1.07 1)" font-size="11" text-anchor="middle" fill="#1c1c1c">LEP</text><text transform="translate(194.3 2181.4) scale(1.07 1)" font-size="11" text-anchor="middle" fill="#1c1c1c">SIRT1</text><text transform="translate(93 2192) scale(1.07 1)" font-size="11" text-anchor="middle" fill="#1c1c1c">REN</text><text transform="translate(284.4 2207.6) scale(1.07 1)" font-size="11" text-anchor="middle" fill="#1c1c1c">PKM</text><text transform="translate(360.2 2247.4) scale(1.07 1)" font-size="11" text-anchor="middle" fill="#1c1c1c">ANXA2</text><text transform="translate(216 2258.8) scale(1.07 1)" font-size="11" text-anchor="middle" fill="#1c1c1c">ACTG1</text><text transform="translate(257 2325.2) scale(1.07 1)" font-size="11" text-anchor="middle" fill="#1c1c1c">P4HB</text></g>
<g font-family="Liberation Sans, Arial, sans-serif">
<rect x="670.4" y="127.2" width="206.3" height="286.7" fill="#fff"/>
<path d="M705.5 127.2V413.9" stroke="#eeeeee" stroke-width="0.8"/>
<path d="M757.8 127.2V413.9" stroke="#eeeeee" stroke-width="0.8"/>
<path d="M810.2 127.2V413.9" stroke="#eeeeee" stroke-width="0.8"/>
<path d="M862.5 127.2V413.9" stroke="#eeeeee" stroke-width="0.8"/>
<path d="M679.3 127.2V413.9" stroke="#e6e6e6" stroke-width="1.5"/>
<path d="M731.6 127.2V413.9" stroke="#e6e6e6" stroke-width="1.5"/>
<path d="M784 127.2V413.9" stroke="#e6e6e6" stroke-width="1.5"/>
<path d="M836.3 127.2V413.9" stroke="#e6e6e6" stroke-width="1.5"/>
<path d="M670.4 143.8H876.7" stroke="#e6e6e6" stroke-width="1.5"/>
<path d="M670.4 172H876.7" stroke="#e6e6e6" stroke-width="1.5"/>
<path d="M670.4 200.2H876.7" stroke="#e6e6e6" stroke-width="1.5"/>
<path d="M670.4 228.4H876.7" stroke="#e6e6e6" stroke-width="1.5"/>
<path d="M670.4 256.6H876.7" stroke="#e6e6e6" stroke-width="1.5"/>
<path d="M670.4 284.8H876.7" stroke="#e6e6e6" stroke-width="1.5"/>
<path d="M670.4 313H876.7" stroke="#e6e6e6" stroke-width="1.5"/>
<path d="M670.4 341.2H876.7" stroke="#e6e6e6" stroke-width="1.5"/>
<path d="M670.4 369.4H876.7" stroke="#e6e6e6" stroke-width="1.5"/>
<path d="M670.4 397.6H876.7" stroke="#e6e6e6" stroke-width="1.5"/>
<rect x="679.3" y="131.3" width="167.5" height="25" fill="#ff0000"/>
<rect x="679.3" y="159.5" width="167.5" height="25" fill="#ff0000"/>
<rect x="679.3" y="187.7" width="167.5" height="25" fill="#ff0000"/>
<rect x="679.3" y="215.9" width="146.6" height="25" fill="#f6002a"/>
<rect x="679.3" y="244.1" width="188.5" height="25" fill="#f6002a"/>
<rect x="679.3" y="272.3" width="125.6" height="25" fill="#e80050"/>
<rect x="679.3" y="300.5" width="167.5" height="25" fill="#e80050"/>
<rect x="679.3" y="328.7" width="167.5" height="25" fill="#5800ee"/>
<rect x="679.3" y="356.9" width="167.5" height="25" fill="#5800ee"/>
<rect x="679.3" y="385.1" width="167.5" height="25" fill="#0000ff"/>
<rect x="670.4" y="127.2" width="206.3" height="286.7" fill="none" stroke="#333" stroke-width="1.2"/>
<path d="M666.1 143.8H670.4" stroke="#222" stroke-width="1.5"/>
<text x="419.8" y="149.9" font-size="16.5" text-anchor="start" fill="#151515" stroke="#151515" stroke-width="0.3" textLength="241.7" lengthAdjust="spacingAndGlyphs" >positive regulation of epithelial cell migration</text>
<path d="M666.1 172H670.4" stroke="#222" stroke-width="1.5"/>
<text x="472.2" y="178.1" font-size="16.5" text-anchor="start" fill="#151515" stroke="#151515" stroke-width="0.3" textLength="189.3" lengthAdjust="spacingAndGlyphs" >positive regulation of angiogenesis</text>
<path d="M666.1 200.2H670.4" stroke="#222" stroke-width="1.5"/>
<text x="407.6" y="206.3" font-size="16.5" text-anchor="start" fill="#151515" stroke="#151515" stroke-width="0.3" textLength="253.9" lengthAdjust="spacingAndGlyphs" >positive regulation of vasculature development</text>
<path d="M666.1 228.4H670.4" stroke="#222" stroke-width="1.5"/>
<text x="408.8" y="234.5" font-size="16.5" text-anchor="start" fill="#151515" stroke="#151515" stroke-width="0.3" textLength="252.7" lengthAdjust="spacingAndGlyphs" >positive regulation of endothelial cell migration</text>
<path d="M666.1 256.6H670.4" stroke="#222" stroke-width="1.5"/>
<text x="601.3" y="262.7" font-size="16.5" text-anchor="start" fill="#151515" stroke="#151515" stroke-width="0.3" textLength="60.2" lengthAdjust="spacingAndGlyphs" >ossification</text>
<path d="M666.1 284.8H670.4" stroke="#222" stroke-width="1.5"/>
<text x="412.8" y="280.7" font-size="16.5" text-anchor="start" fill="#151515" stroke="#151515" stroke-width="0.3" textLength="248.7" lengthAdjust="spacingAndGlyphs" >positive regulation of blood vessel endothelial</text>
<text x="589.3" y="301.2" font-size="16.5" text-anchor="start" fill="#151515" stroke="#151515" stroke-width="0.3" textLength="72.2" lengthAdjust="spacingAndGlyphs" >cell migration</text>
<path d="M666.1 313H670.4" stroke="#222" stroke-width="1.5"/>
<text x="465.1" y="319.1" font-size="16.5" text-anchor="start" fill="#151515" stroke="#151515" stroke-width="0.3" textLength="196.4" lengthAdjust="spacingAndGlyphs" >regulation of epithelial cell migration</text>
<path d="M666.1 341.2H670.4" stroke="#222" stroke-width="1.5"/>
<text x="517.3" y="347.3" font-size="16.5" text-anchor="start" fill="#151515" stroke="#151515" stroke-width="0.3" textLength="144.2" lengthAdjust="spacingAndGlyphs" >regulation of angiogenesis</text>
<path d="M666.1 369.4H670.4" stroke="#222" stroke-width="1.5"/>
<text x="452.8" y="375.5" font-size="16.5" text-anchor="start" fill="#151515" stroke="#151515" stroke-width="0.3" textLength="208.7" lengthAdjust="spacingAndGlyphs" >regulation of vasculature development</text>
<path d="M666.1 397.6H670.4" stroke="#222" stroke-width="1.5"/>
<text x="536.6" y="403.7" font-size="16.5" text-anchor="start" fill="#151515" stroke="#151515" stroke-width="0.3" textLength="124.9" lengthAdjust="spacingAndGlyphs" >epithelial cell migration</text>
<path d="M679.3 413.9V418.2" stroke="#222" stroke-width="1.5"/>
<text x="671" y="439.8" font-size="16" text-anchor="start" fill="#151515" stroke="#151515" stroke-width="0.3" textLength="16.7" lengthAdjust="spacingAndGlyphs" >0.0</text>
<path d="M731.6 413.9V418.2" stroke="#222" stroke-width="1.5"/>
<text x="723.3" y="439.8" font-size="16" text-anchor="start" fill="#151515" stroke="#151515" stroke-width="0.3" textLength="16.7" lengthAdjust="spacingAndGlyphs" >2.5</text>
<path d="M784 413.9V418.2" stroke="#222" stroke-width="1.5"/>
<text x="775.7" y="439.8" font-size="16" text-anchor="start" fill="#151515" stroke="#151515" stroke-width="0.3" textLength="16.7" lengthAdjust="spacingAndGlyphs" >5.0</text>
<path d="M836.3 413.9V418.2" stroke="#222" stroke-width="1.5"/>
<text x="828" y="439.8" font-size="16" text-anchor="start" fill="#151515" stroke="#151515" stroke-width="0.3" textLength="16.7" lengthAdjust="spacingAndGlyphs" >7.5</text>
<text x="756.5" y="463.7" font-size="17" text-anchor="start" fill="#000" stroke="#000" stroke-width="0.3" textLength="34" lengthAdjust="spacingAndGlyphs" >Count</text>
<defs><linearGradient id="lga1" x1="0" y1="0" x2="0" y2="1"><stop offset="0%" stop-color="#ff0000"/><stop offset="10%" stop-color="#f6002a"/><stop offset="20%" stop-color="#ed0044"/><stop offset="30%" stop-color="#e3005b"/><stop offset="40%" stop-color="#d70072"/><stop offset="50%" stop-color="#ca0088"/><stop offset="60%" stop-color="#ba009f"/><stop offset="70%" stop-color="#a600b7"/><stop offset="80%" stop-color="#8d00ce"/><stop offset="90%" stop-color="#6800e7"/><stop offset="100%" stop-color="#0000ff"/></linearGradient></defs>
<rect x="902.4" y="187.3" width="27.1" height="207" fill="url(#lga1)"/>
<path d="M902.4 253.9h5.4 M924.1 253.9h5.4" stroke="#fff" stroke-opacity="0.8" stroke-width="1"/>
<text x="939.4" y="260.6" font-size="18.7" text-anchor="start" fill="#000" stroke="#000" stroke-width="0.3" textLength="34" lengthAdjust="spacingAndGlyphs" >1e-08</text>
<path d="M902.4 323.1h5.4 M924.1 323.1h5.4" stroke="#fff" stroke-opacity="0.8" stroke-width="1"/>
<text x="939.4" y="329.8" font-size="18.7" text-anchor="start" fill="#000" stroke="#000" stroke-width="0.3" textLength="34" lengthAdjust="spacingAndGlyphs" >2e-08</text>
<path d="M902.4 393.1h5.4 M924.1 393.1h5.4" stroke="#fff" stroke-opacity="0.8" stroke-width="1"/>
<text x="939.4" y="399.8" font-size="18.7" text-anchor="start" fill="#000" stroke="#000" stroke-width="0.3" textLength="34" lengthAdjust="spacingAndGlyphs" >3e-08</text>
<text x="903.3" y="169.6" font-size="22.7" text-anchor="start" fill="#000" stroke="#000" stroke-width="0.3" textLength="58.7" lengthAdjust="spacingAndGlyphs" >p.adjust</text>
</g>
<g font-family="Liberation Sans, Arial, sans-serif">
<rect x="677.8" y="583.5" width="181.6" height="270" fill="#fff"/>
<path d="M701.9 583.5V853.5" stroke="#eeeeee" stroke-width="0.8"/>
<path d="M735.2 583.5V853.5" stroke="#eeeeee" stroke-width="0.8"/>
<path d="M768.4 583.5V853.5" stroke="#eeeeee" stroke-width="0.8"/>
<path d="M801.7 583.5V853.5" stroke="#eeeeee" stroke-width="0.8"/>
<path d="M835 583.5V853.5" stroke="#eeeeee" stroke-width="0.8"/>
<path d="M685.3 583.5V853.5" stroke="#e6e6e6" stroke-width="1.5"/>
<path d="M718.6 583.5V853.5" stroke="#e6e6e6" stroke-width="1.5"/>
<path d="M751.8 583.5V853.5" stroke="#e6e6e6" stroke-width="1.5"/>
<path d="M785.1 583.5V853.5" stroke="#e6e6e6" stroke-width="1.5"/>
<path d="M818.3 583.5V853.5" stroke="#e6e6e6" stroke-width="1.5"/>
<path d="M851.6 583.5V853.5" stroke="#e6e6e6" stroke-width="1.5"/>
<path d="M677.8 598.6H859.4" stroke="#e6e6e6" stroke-width="1.5"/>
<path d="M677.8 625.3H859.4" stroke="#e6e6e6" stroke-width="1.5"/>
<path d="M677.8 651.9H859.4" stroke="#e6e6e6" stroke-width="1.5"/>
<path d="M677.8 678.5H859.4" stroke="#e6e6e6" stroke-width="1.5"/>
<path d="M677.8 705.2H859.4" stroke="#e6e6e6" stroke-width="1.5"/>
<path d="M677.8 731.8H859.4" stroke="#e6e6e6" stroke-width="1.5"/>
<path d="M677.8 758.4H859.4" stroke="#e6e6e6" stroke-width="1.5"/>
<path d="M677.8 785.1H859.4" stroke="#e6e6e6" stroke-width="1.5"/>
<path d="M677.8 811.7H859.4" stroke="#e6e6e6" stroke-width="1.5"/>
<path d="M677.8 838.3H859.4" stroke="#e6e6e6" stroke-width="1.5"/>
<rect x="685.3" y="586.7" width="166.3" height="23.9" fill="#ff0000"/>
<rect x="685.3" y="613.3" width="99.8" height="23.9" fill="#ff0000"/>
<rect x="685.3" y="640" width="99.8" height="23.9" fill="#ff0000"/>
<rect x="685.3" y="666.6" width="99.8" height="23.9" fill="#ff0000"/>
<rect x="685.3" y="693.2" width="133" height="23.9" fill="#d1007d"/>
<rect x="685.3" y="719.8" width="99.8" height="23.9" fill="#d1007d"/>
<rect x="685.3" y="746.5" width="99.8" height="23.9" fill="#d1007d"/>
<rect x="685.3" y="773.1" width="99.8" height="23.9" fill="#0000ff"/>
<rect x="685.3" y="799.7" width="133" height="23.9" fill="#0000ff"/>
<rect x="685.3" y="826.4" width="133" height="23.9" fill="#0000ff"/>
<rect x="677.8" y="583.5" width="181.6" height="270" fill="none" stroke="#333" stroke-width="1.2"/>
<path d="M673.5 598.6H677.8" stroke="#222" stroke-width="1.5"/>
<text x="519.3" y="605.3" font-size="18" text-anchor="start" fill="#151515" stroke="#151515" stroke-width="0.3" textLength="148.5" lengthAdjust="spacingAndGlyphs" >osteoblast differentiation</text>
<path d="M673.5 625.3H677.8" stroke="#222" stroke-width="1.5"/>
<text x="528.5" y="631.9" font-size="18" text-anchor="start" fill="#151515" stroke="#151515" stroke-width="0.3" textLength="139.3" lengthAdjust="spacingAndGlyphs" >prostatic bud formation</text>
<path d="M673.5 651.9H677.8" stroke="#222" stroke-width="1.5"/>
<text x="349.2" y="658.6" font-size="18" text-anchor="start" fill="#151515" stroke="#151515" stroke-width="0.3" textLength="318.6" lengthAdjust="spacingAndGlyphs" >branching involved in prostate gland morphogenesis</text>
<path d="M673.5 678.5H677.8" stroke="#222" stroke-width="1.5"/>
<text x="453.4" y="685.2" font-size="18" text-anchor="start" fill="#151515" stroke="#151515" stroke-width="0.3" textLength="214.4" lengthAdjust="spacingAndGlyphs" >lateral sprouting from an epithelium</text>
<path d="M673.5 705.2H677.8" stroke="#222" stroke-width="1.5"/>
<text x="419.6" y="711.8" font-size="18" text-anchor="start" fill="#151515" stroke="#151515" stroke-width="0.3" textLength="248.2" lengthAdjust="spacingAndGlyphs" >odontogenesis of dentin-containing tooth</text>
<path d="M673.5 731.8H677.8" stroke="#222" stroke-width="1.5"/>
<text x="498.8" y="738.5" font-size="18" text-anchor="start" fill="#151515" stroke="#151515" stroke-width="0.3" textLength="169" lengthAdjust="spacingAndGlyphs" >regulation of odontogenesis</text>
<path d="M673.5 758.4H677.8" stroke="#222" stroke-width="1.5"/>
<text x="454.1" y="765.1" font-size="18" text-anchor="start" fill="#151515" stroke="#151515" stroke-width="0.3" textLength="213.7" lengthAdjust="spacingAndGlyphs" >morphogenesis of an epithelial bud</text>
<path d="M673.5 785.1H677.8" stroke="#222" stroke-width="1.5"/>
<text x="459.5" y="791.7" font-size="18" text-anchor="start" fill="#151515" stroke="#151515" stroke-width="0.3" textLength="208.3" lengthAdjust="spacingAndGlyphs" >kidney mesenchyme development</text>
<path d="M673.5 811.7H677.8" stroke="#222" stroke-width="1.5"/>
<text x="477.1" y="818.3" font-size="18" text-anchor="start" fill="#151515" stroke="#151515" stroke-width="0.3" textLength="190.7" lengthAdjust="spacingAndGlyphs" >embryonic limb morphogenesis</text>
<path d="M673.5 838.3H677.8" stroke="#222" stroke-width="1.5"/>
<text x="433.1" y="845" font-size="18" text-anchor="start" fill="#151515" stroke="#151515" stroke-width="0.3" textLength="234.7" lengthAdjust="spacingAndGlyphs" >embryonic appendage morphogenesis</text>
<path d="M685.3 853.5V857.8" stroke="#222" stroke-width="1.5"/>
<text x="681.8" y="879" font-size="17.5" text-anchor="start" fill="#151515" stroke="#151515" stroke-width="0.3" textLength="7" lengthAdjust="spacingAndGlyphs" >0</text>
<path d="M718.6 853.5V857.8" stroke="#222" stroke-width="1.5"/>
<text x="715.1" y="879" font-size="17.5" text-anchor="start" fill="#151515" stroke="#151515" stroke-width="0.3" textLength="7" lengthAdjust="spacingAndGlyphs" >1</text>
<path d="M751.8 853.5V857.8" stroke="#222" stroke-width="1.5"/>
<text x="748.3" y="879" font-size="17.5" text-anchor="start" fill="#151515" stroke="#151515" stroke-width="0.3" textLength="7" lengthAdjust="spacingAndGlyphs" >2</text>
<path d="M785.1 853.5V857.8" stroke="#222" stroke-width="1.5"/>
<text x="781.6" y="879" font-size="17.5" text-anchor="start" fill="#151515" stroke="#151515" stroke-width="0.3" textLength="7" lengthAdjust="spacingAndGlyphs" >3</text>
<path d="M818.3 853.5V857.8" stroke="#222" stroke-width="1.5"/>
<text x="814.8" y="879" font-size="17.5" text-anchor="start" fill="#151515" stroke="#151515" stroke-width="0.3" textLength="7" lengthAdjust="spacingAndGlyphs" >4</text>
<path d="M851.6 853.5V857.8" stroke="#222" stroke-width="1.5"/>
<text x="848.1" y="879" font-size="17.5" text-anchor="start" fill="#151515" stroke="#151515" stroke-width="0.3" textLength="7" lengthAdjust="spacingAndGlyphs" >5</text>
<text x="751.8" y="901.1" font-size="17.5" text-anchor="start" fill="#000" stroke="#000" stroke-width="0.3" textLength="33.6" lengthAdjust="spacingAndGlyphs" >Count</text>
<defs><linearGradient id="lga2" x1="0" y1="0" x2="0" y2="1"><stop offset="0%" stop-color="#ff0000"/><stop offset="10%" stop-color="#f6002a"/><stop offset="20%" stop-color="#ed0044"/><stop offset="30%" stop-color="#e3005b"/><stop offset="40%" stop-color="#d70072"/><stop offset="50%" stop-color="#ca0088"/><stop offset="60%" stop-color="#ba009f"/><stop offset="70%" stop-color="#a600b7"/><stop offset="80%" stop-color="#8d00ce"/><stop offset="90%" stop-color="#6800e7"/><stop offset="100%" stop-color="#0000ff"/></linearGradient></defs>
<rect x="888.3" y="640.2" width="30.2" height="194.8" fill="url(#lga2)"/>
<path d="M888.3 660.1h6 M912.5 660.1h6" stroke="#fff" stroke-opacity="0.8" stroke-width="1"/>
<text x="930.7" y="666.8" font-size="18.5" text-anchor="start" fill="#000" stroke="#000" stroke-width="0.3" textLength="49.8" lengthAdjust="spacingAndGlyphs" >1.0e-06</text>
<path d="M888.3 702.5h6 M912.5 702.5h6" stroke="#fff" stroke-opacity="0.8" stroke-width="1"/>
<text x="930.7" y="709.2" font-size="18.5" text-anchor="start" fill="#000" stroke="#000" stroke-width="0.3" textLength="49.8" lengthAdjust="spacingAndGlyphs" >1.2e-06</text>
<path d="M888.3 745.2h6 M912.5 745.2h6" stroke="#fff" stroke-opacity="0.8" stroke-width="1"/>
<text x="930.7" y="751.9" font-size="18.5" text-anchor="start" fill="#000" stroke="#000" stroke-width="0.3" textLength="49.8" lengthAdjust="spacingAndGlyphs" >1.4e-06</text>
<path d="M888.3 787.6h6 M912.5 787.6h6" stroke="#fff" stroke-opacity="0.8" stroke-width="1"/>
<text x="930.7" y="794.3" font-size="18.5" text-anchor="start" fill="#000" stroke="#000" stroke-width="0.3" textLength="49.8" lengthAdjust="spacingAndGlyphs" >1.6e-06</text>
<path d="M888.3 830.3h6 M912.5 830.3h6" stroke="#fff" stroke-opacity="0.8" stroke-width="1"/>
<text x="930.7" y="837" font-size="18.5" text-anchor="start" fill="#000" stroke="#000" stroke-width="0.3" textLength="49.8" lengthAdjust="spacingAndGlyphs" >1.8e-06</text>
<text x="888.3" y="623.4" font-size="23" text-anchor="start" fill="#000" stroke="#000" stroke-width="0.3" textLength="66.6" lengthAdjust="spacingAndGlyphs" >p.adjust</text>
</g>
<g font-family="Liberation Sans, Arial, sans-serif">
<rect x="609.1" y="1105.5" width="279.3" height="245.3" fill="#fff"/>
<path d="M652.8 1105.5V1350.8" stroke="#eeeeee" stroke-width="0.8"/>
<path d="M716.5 1105.5V1350.8" stroke="#eeeeee" stroke-width="0.8"/>
<path d="M780.1 1105.5V1350.8" stroke="#eeeeee" stroke-width="0.8"/>
<path d="M843.8 1105.5V1350.8" stroke="#eeeeee" stroke-width="0.8"/>
<path d="M621 1105.5V1350.8" stroke="#e6e6e6" stroke-width="1.5"/>
<path d="M684.6 1105.5V1350.8" stroke="#e6e6e6" stroke-width="1.5"/>
<path d="M748.3 1105.5V1350.8" stroke="#e6e6e6" stroke-width="1.5"/>
<path d="M812 1105.5V1350.8" stroke="#e6e6e6" stroke-width="1.5"/>
<path d="M875.6 1105.5V1350.8" stroke="#e6e6e6" stroke-width="1.5"/>
<path d="M609.1 1119.9H888.4" stroke="#e6e6e6" stroke-width="1.5"/>
<path d="M609.1 1144H888.4" stroke="#e6e6e6" stroke-width="1.5"/>
<path d="M609.1 1168.2H888.4" stroke="#e6e6e6" stroke-width="1.5"/>
<path d="M609.1 1192.3H888.4" stroke="#e6e6e6" stroke-width="1.5"/>
<path d="M609.1 1216.5H888.4" stroke="#e6e6e6" stroke-width="1.5"/>
<path d="M609.1 1240.6H888.4" stroke="#e6e6e6" stroke-width="1.5"/>
<path d="M609.1 1264.7H888.4" stroke="#e6e6e6" stroke-width="1.5"/>
<path d="M609.1 1288.9H888.4" stroke="#e6e6e6" stroke-width="1.5"/>
<path d="M609.1 1313H888.4" stroke="#e6e6e6" stroke-width="1.5"/>
<path d="M609.1 1337.2H888.4" stroke="#e6e6e6" stroke-width="1.5"/>
<rect x="621" y="1109.2" width="254.6" height="21.4" fill="#ff0000"/>
<rect x="621" y="1133.3" width="203.7" height="21.4" fill="#ff0000"/>
<rect x="621" y="1157.5" width="178.2" height="21.4" fill="#ff0000"/>
<rect x="621" y="1181.6" width="178.2" height="21.4" fill="#ff0000"/>
<rect x="621" y="1205.8" width="178.2" height="21.4" fill="#ff0000"/>
<rect x="621" y="1229.9" width="152.8" height="21.4" fill="#fd000d"/>
<rect x="621" y="1254" width="127.3" height="21.4" fill="#f50030"/>
<rect x="621" y="1278.2" width="127.3" height="21.4" fill="#e60054"/>
<rect x="621" y="1302.3" width="152.8" height="21.4" fill="#e80050"/>
<rect x="621" y="1326.5" width="127.3" height="21.4" fill="#0000ff"/>
<rect x="609.1" y="1105.5" width="279.3" height="245.3" fill="none" stroke="#333" stroke-width="1.2"/>
<path d="M604.8 1119.9H609.1" stroke="#222" stroke-width="1.5"/>
<text x="539.8" y="1125.8" font-size="16" text-anchor="start" fill="#151515" stroke="#151515" stroke-width="0.3" textLength="60.7" lengthAdjust="spacingAndGlyphs" >ossification</text>
<path d="M604.8 1144H609.1" stroke="#222" stroke-width="1.5"/>
<text x="504.3" y="1150" font-size="16" text-anchor="start" fill="#151515" stroke="#151515" stroke-width="0.3" textLength="96.2" lengthAdjust="spacingAndGlyphs" >tissue remodeling</text>
<path d="M604.8 1168.2H609.1" stroke="#222" stroke-width="1.5"/>
<text x="509.2" y="1174.1" font-size="16" text-anchor="start" fill="#151515" stroke="#151515" stroke-width="0.3" textLength="91.3" lengthAdjust="spacingAndGlyphs" >bone remodeling</text>
<path d="M604.8 1192.3H609.1" stroke="#222" stroke-width="1.5"/>
<text x="434.6" y="1198.2" font-size="16" text-anchor="start" fill="#151515" stroke="#151515" stroke-width="0.3" textLength="165.9" lengthAdjust="spacingAndGlyphs" >biomineral tissue development</text>
<path d="M604.8 1216.5H609.1" stroke="#222" stroke-width="1.5"/>
<text x="508.8" y="1222.4" font-size="16" text-anchor="start" fill="#151515" stroke="#151515" stroke-width="0.3" textLength="91.7" lengthAdjust="spacingAndGlyphs" >biomineralization</text>
<path d="M604.8 1240.6H609.1" stroke="#222" stroke-width="1.5"/>
<text x="494.1" y="1246.5" font-size="16" text-anchor="start" fill="#151515" stroke="#151515" stroke-width="0.3" textLength="106.4" lengthAdjust="spacingAndGlyphs" >bone mineralization</text>
<path d="M604.8 1264.7H609.1" stroke="#222" stroke-width="1.5"/>
<text x="515.2" y="1270.7" font-size="16" text-anchor="start" fill="#151515" stroke="#151515" stroke-width="0.3" textLength="85.3" lengthAdjust="spacingAndGlyphs" >bone resorption</text>
<path d="M604.8 1288.9H609.1" stroke="#222" stroke-width="1.5"/>
<text x="433.1" y="1294.8" font-size="16" text-anchor="start" fill="#151515" stroke="#151515" stroke-width="0.3" textLength="167.4" lengthAdjust="spacingAndGlyphs" >regulation of tissue remodeling</text>
<path d="M604.8 1313H609.1" stroke="#222" stroke-width="1.5"/>
<text x="499.6" y="1318.9" font-size="16" text-anchor="start" fill="#151515" stroke="#151515" stroke-width="0.3" textLength="100.9" lengthAdjust="spacingAndGlyphs" >bone development</text>
<path d="M604.8 1337.2H609.1" stroke="#222" stroke-width="1.5"/>
<text x="482.8" y="1343.1" font-size="16" text-anchor="start" fill="#151515" stroke="#151515" stroke-width="0.3" textLength="117.7" lengthAdjust="spacingAndGlyphs" >gland morphogenesis</text>
<path d="M621 1350.8V1355.1" stroke="#222" stroke-width="1.5"/>
<text x="613.2" y="1374.2" font-size="15.5" text-anchor="start" fill="#151515" stroke="#151515" stroke-width="0.3" textLength="15.5" lengthAdjust="spacingAndGlyphs" >0.0</text>
<path d="M684.6 1350.8V1355.1" stroke="#222" stroke-width="1.5"/>
<text x="676.9" y="1374.2" font-size="15.5" text-anchor="start" fill="#151515" stroke="#151515" stroke-width="0.3" textLength="15.5" lengthAdjust="spacingAndGlyphs" >2.5</text>
<path d="M748.3 1350.8V1355.1" stroke="#222" stroke-width="1.5"/>
<text x="740.5" y="1374.2" font-size="15.5" text-anchor="start" fill="#151515" stroke="#151515" stroke-width="0.3" textLength="15.5" lengthAdjust="spacingAndGlyphs" >5.0</text>
<path d="M812 1350.8V1355.1" stroke="#222" stroke-width="1.5"/>
<text x="804.2" y="1374.2" font-size="15.5" text-anchor="start" fill="#151515" stroke="#151515" stroke-width="0.3" textLength="15.5" lengthAdjust="spacingAndGlyphs" >7.5</text>
<path d="M875.6 1350.8V1355.1" stroke="#222" stroke-width="1.5"/>
<text x="864.7" y="1374.2" font-size="15.5" text-anchor="start" fill="#151515" stroke="#151515" stroke-width="0.3" textLength="21.7" lengthAdjust="spacingAndGlyphs" >10.0</text>
<text x="733.4" y="1394.4" font-size="16" text-anchor="start" fill="#000" stroke="#000" stroke-width="0.3" textLength="30.7" lengthAdjust="spacingAndGlyphs" >Count</text>
<defs><linearGradient id="lgb1" x1="0" y1="0" x2="0" y2="1"><stop offset="0%" stop-color="#ff0000"/><stop offset="10%" stop-color="#f6002a"/><stop offset="20%" stop-color="#ed0044"/><stop offset="30%" stop-color="#e3005b"/><stop offset="40%" stop-color="#d70072"/><stop offset="50%" stop-color="#ca0088"/><stop offset="60%" stop-color="#ba009f"/><stop offset="70%" stop-color="#a600b7"/><stop offset="80%" stop-color="#8d00ce"/><stop offset="90%" stop-color="#6800e7"/><stop offset="100%" stop-color="#0000ff"/></linearGradient></defs>
<rect x="913.8" y="1157.2" width="26.8" height="177" fill="url(#lgb1)"/>
<path d="M913.8 1195h5.4 M935.2 1195h5.4" stroke="#fff" stroke-opacity="0.8" stroke-width="1"/>
<text x="950.8" y="1200.9" font-size="16.5" text-anchor="start" fill="#000" stroke="#000" stroke-width="0.3" textLength="45.4" lengthAdjust="spacingAndGlyphs" >5.0e-07</text>
<path d="M913.8 1232.4h5.4 M935.2 1232.4h5.4" stroke="#fff" stroke-opacity="0.8" stroke-width="1"/>
<text x="950.8" y="1238.3" font-size="16.5" text-anchor="start" fill="#000" stroke="#000" stroke-width="0.3" textLength="45.4" lengthAdjust="spacingAndGlyphs" >1.0e-06</text>
<path d="M913.8 1270.6h5.4 M935.2 1270.6h5.4" stroke="#fff" stroke-opacity="0.8" stroke-width="1"/>
<text x="950.8" y="1276.5" font-size="16.5" text-anchor="start" fill="#000" stroke="#000" stroke-width="0.3" textLength="45.4" lengthAdjust="spacingAndGlyphs" >1.5e-06</text>
<path d="M913.8 1307.9h5.4 M935.2 1307.9h5.4" stroke="#fff" stroke-opacity="0.8" stroke-width="1"/>
<text x="950.8" y="1313.8" font-size="16.5" text-anchor="start" fill="#000" stroke="#000" stroke-width="0.3" textLength="45.4" lengthAdjust="spacingAndGlyphs" >2.0e-06</text>
<text x="913.8" y="1142.8" font-size="20.5" text-anchor="start" fill="#000" stroke="#000" stroke-width="0.3" textLength="59.5" lengthAdjust="spacingAndGlyphs" >p.adjust</text>
</g>
<g font-family="Liberation Sans, Arial, sans-serif">
<rect x="626.2" y="1504.2" width="299.6" height="353" fill="#fff"/>
<path d="M685.1 1504.2V1857.2" stroke="#eeeeee" stroke-width="0.8"/>
<path d="M776 1504.2V1857.2" stroke="#eeeeee" stroke-width="0.8"/>
<path d="M867 1504.2V1857.2" stroke="#eeeeee" stroke-width="0.8"/>
<path d="M639.6 1504.2V1857.2" stroke="#e6e6e6" stroke-width="1.5"/>
<path d="M730.5 1504.2V1857.2" stroke="#e6e6e6" stroke-width="1.5"/>
<path d="M821.5 1504.2V1857.2" stroke="#e6e6e6" stroke-width="1.5"/>
<path d="M912.4 1504.2V1857.2" stroke="#e6e6e6" stroke-width="1.5"/>
<path d="M626.2 1525H925.8" stroke="#e6e6e6" stroke-width="1.5"/>
<path d="M626.2 1559.7H925.8" stroke="#e6e6e6" stroke-width="1.5"/>
<path d="M626.2 1594.4H925.8" stroke="#e6e6e6" stroke-width="1.5"/>
<path d="M626.2 1629.1H925.8" stroke="#e6e6e6" stroke-width="1.5"/>
<path d="M626.2 1663.8H925.8" stroke="#e6e6e6" stroke-width="1.5"/>
<path d="M626.2 1698.5H925.8" stroke="#e6e6e6" stroke-width="1.5"/>
<path d="M626.2 1733.1H925.8" stroke="#e6e6e6" stroke-width="1.5"/>
<path d="M626.2 1767.8H925.8" stroke="#e6e6e6" stroke-width="1.5"/>
<path d="M626.2 1802.5H925.8" stroke="#e6e6e6" stroke-width="1.5"/>
<path d="M626.2 1837.2H925.8" stroke="#e6e6e6" stroke-width="1.5"/>
<rect x="639.6" y="1509.5" width="181.9" height="31" fill="#ff0000"/>
<rect x="639.6" y="1544.2" width="136.4" height="31" fill="#e3005b"/>
<rect x="639.6" y="1578.9" width="181.9" height="31" fill="#df0062"/>
<rect x="639.6" y="1613.6" width="181.9" height="31" fill="#df0062"/>
<rect x="639.6" y="1648.3" width="136.4" height="31" fill="#df0062"/>
<rect x="639.6" y="1683" width="272.8" height="31" fill="#e3005b"/>
<rect x="639.6" y="1717.6" width="272.8" height="31" fill="#e3005b"/>
<rect x="639.6" y="1752.3" width="181.9" height="31" fill="#e3005b"/>
<rect x="639.6" y="1787" width="181.9" height="31" fill="#d1007d"/>
<rect x="639.6" y="1821.7" width="181.9" height="31" fill="#0000ff"/>
<rect x="626.2" y="1504.2" width="299.6" height="353" fill="none" stroke="#333" stroke-width="1.2"/>
<path d="M621.9 1525H626.2" stroke="#222" stroke-width="1.5"/>
<text x="444.6" y="1530.3" font-size="14.4" text-anchor="start" fill="#151515" stroke="#151515" stroke-width="0.3" textLength="174.5" lengthAdjust="spacingAndGlyphs" >hydrogen peroxide metabolic process</text>
<path d="M621.9 1559.7H626.2" stroke="#222" stroke-width="1.5"/>
<text x="402.7" y="1556.5" font-size="14.4" text-anchor="start" fill="#151515" stroke="#151515" stroke-width="0.3" textLength="216.4" lengthAdjust="spacingAndGlyphs" >negative regulation of oxidative stress-induced</text>
<text x="451.7" y="1573.5" font-size="14.4" text-anchor="start" fill="#151515" stroke="#151515" stroke-width="0.3" textLength="167.4" lengthAdjust="spacingAndGlyphs" >intrinsic apoptotic signaling pathway</text>
<path d="M621.9 1594.4H626.2" stroke="#222" stroke-width="1.5"/>
<text x="434.3" y="1591.2" font-size="14.4" text-anchor="start" fill="#151515" stroke="#151515" stroke-width="0.3" textLength="184.8" lengthAdjust="spacingAndGlyphs" >negative regulation of intrinsic apoptotic</text>
<text x="535.5" y="1608.2" font-size="14.4" text-anchor="start" fill="#151515" stroke="#151515" stroke-width="0.3" textLength="83.6" lengthAdjust="spacingAndGlyphs" >signaling pathway</text>
<path d="M621.9 1629.1H626.2" stroke="#222" stroke-width="1.5"/>
<text x="484.7" y="1634.4" font-size="14.4" text-anchor="start" fill="#151515" stroke="#151515" stroke-width="0.3" textLength="134.4" lengthAdjust="spacingAndGlyphs" >cellular oxidant detoxification</text>
<path d="M621.9 1663.8H626.2" stroke="#222" stroke-width="1.5"/>
<text x="406.7" y="1660.6" font-size="14.4" text-anchor="start" fill="#151515" stroke="#151515" stroke-width="0.3" textLength="212.4" lengthAdjust="spacingAndGlyphs" >regulation of oxidative stress-induced intrinsic</text>
<text x="489.8" y="1677.6" font-size="14.4" text-anchor="start" fill="#151515" stroke="#151515" stroke-width="0.3" textLength="129.3" lengthAdjust="spacingAndGlyphs" >apoptotic signaling pathway</text>
<path d="M621.9 1698.5H626.2" stroke="#222" stroke-width="1.5"/>
<text x="483.5" y="1703.8" font-size="14.4" text-anchor="start" fill="#151515" stroke="#151515" stroke-width="0.3" textLength="135.6" lengthAdjust="spacingAndGlyphs" >nucleotide metabolic process</text>
<path d="M621.9 1733.1H626.2" stroke="#222" stroke-width="1.5"/>
<text x="429" y="1738.5" font-size="14.4" text-anchor="start" fill="#151515" stroke="#151515" stroke-width="0.3" textLength="190.1" lengthAdjust="spacingAndGlyphs" >nucleoside phosphate metabolic process</text>
<path d="M621.9 1767.8H626.2" stroke="#222" stroke-width="1.5"/>
<text x="521.5" y="1773.2" font-size="14.4" text-anchor="start" fill="#151515" stroke="#151515" stroke-width="0.3" textLength="97.6" lengthAdjust="spacingAndGlyphs" >cellular detoxification</text>
<path d="M621.9 1802.5H626.2" stroke="#222" stroke-width="1.5"/>
<text x="452.4" y="1807.8" font-size="14.4" text-anchor="start" fill="#151515" stroke="#151515" stroke-width="0.3" textLength="166.7" lengthAdjust="spacingAndGlyphs" >cellular response to toxic substance</text>
<path d="M621.9 1837.2H626.2" stroke="#222" stroke-width="1.5"/>
<text x="474.2" y="1842.5" font-size="14.4" text-anchor="start" fill="#151515" stroke="#151515" stroke-width="0.3" textLength="144.9" lengthAdjust="spacingAndGlyphs" >response to hydrogen peroxide</text>
<path d="M639.6 1857.2V1861.5" stroke="#222" stroke-width="1.5"/>
<text x="636.7" y="1877.8" font-size="14.4" text-anchor="start" fill="#151515" stroke="#151515" stroke-width="0.3" textLength="5.8" lengthAdjust="spacingAndGlyphs" >0</text>
<path d="M730.5 1857.2V1861.5" stroke="#222" stroke-width="1.5"/>
<text x="727.7" y="1877.8" font-size="14.4" text-anchor="start" fill="#151515" stroke="#151515" stroke-width="0.3" textLength="5.8" lengthAdjust="spacingAndGlyphs" >2</text>
<path d="M821.5 1857.2V1861.5" stroke="#222" stroke-width="1.5"/>
<text x="818.6" y="1877.8" font-size="14.4" text-anchor="start" fill="#151515" stroke="#151515" stroke-width="0.3" textLength="5.8" lengthAdjust="spacingAndGlyphs" >4</text>
<path d="M912.4 1857.2V1861.5" stroke="#222" stroke-width="1.5"/>
<text x="909.5" y="1877.8" font-size="14.4" text-anchor="start" fill="#151515" stroke="#151515" stroke-width="0.3" textLength="5.8" lengthAdjust="spacingAndGlyphs" >6</text>
<text x="761.6" y="1898.6" font-size="15" text-anchor="start" fill="#000" stroke="#000" stroke-width="0.3" textLength="28.8" lengthAdjust="spacingAndGlyphs" >Count</text>
<defs><linearGradient id="lgb2" x1="0" y1="0" x2="0" y2="1"><stop offset="0%" stop-color="#ff0000"/><stop offset="10%" stop-color="#f6002a"/><stop offset="20%" stop-color="#ed0044"/><stop offset="30%" stop-color="#e3005b"/><stop offset="40%" stop-color="#d70072"/><stop offset="50%" stop-color="#ca0088"/><stop offset="60%" stop-color="#ba009f"/><stop offset="70%" stop-color="#a600b7"/><stop offset="80%" stop-color="#8d00ce"/><stop offset="90%" stop-color="#6800e7"/><stop offset="100%" stop-color="#0000ff"/></linearGradient></defs>
<rect x="947.7" y="1611.9" width="23" height="170.4" fill="url(#lgb2)"/>
<path d="M947.7 1637h4.6 M966.1 1637h4.6" stroke="#fff" stroke-opacity="0.8" stroke-width="1"/>
<text x="978.8" y="1642.4" font-size="15" text-anchor="start" fill="#000" stroke="#000" stroke-width="0.3" textLength="30" lengthAdjust="spacingAndGlyphs" >2e-04</text>
<path d="M947.7 1677h4.6 M966.1 1677h4.6" stroke="#fff" stroke-opacity="0.8" stroke-width="1"/>
<text x="978.8" y="1682.4" font-size="15" text-anchor="start" fill="#000" stroke="#000" stroke-width="0.3" textLength="30" lengthAdjust="spacingAndGlyphs" >3e-04</text>
<path d="M947.7 1717.1h4.6 M966.1 1717.1h4.6" stroke="#fff" stroke-opacity="0.8" stroke-width="1"/>
<text x="978.8" y="1722.5" font-size="15" text-anchor="start" fill="#000" stroke="#000" stroke-width="0.3" textLength="30" lengthAdjust="spacingAndGlyphs" >4e-04</text>
<path d="M947.7 1757.2h4.6 M966.1 1757.2h4.6" stroke="#fff" stroke-opacity="0.8" stroke-width="1"/>
<text x="978.8" y="1762.6" font-size="15" text-anchor="start" fill="#000" stroke="#000" stroke-width="0.3" textLength="30" lengthAdjust="spacingAndGlyphs" >5e-04</text>
<text x="947.7" y="1598.5" font-size="19" text-anchor="start" fill="#000" stroke="#000" stroke-width="0.3" textLength="51" lengthAdjust="spacingAndGlyphs" >p.adjust</text>
</g>
<g font-family="Liberation Sans, Arial, sans-serif">
<rect x="669.4" y="2037.6" width="210.7" height="276.2" fill="#fff"/>
<path d="M710.9 2037.6V2313.8" stroke="#eeeeee" stroke-width="0.8"/>
<path d="M774.9 2037.6V2313.8" stroke="#eeeeee" stroke-width="0.8"/>
<path d="M838.9 2037.6V2313.8" stroke="#eeeeee" stroke-width="0.8"/>
<path d="M678.9 2037.6V2313.8" stroke="#e6e6e6" stroke-width="1.5"/>
<path d="M742.9 2037.6V2313.8" stroke="#e6e6e6" stroke-width="1.5"/>
<path d="M806.9 2037.6V2313.8" stroke="#e6e6e6" stroke-width="1.5"/>
<path d="M870.9 2037.6V2313.8" stroke="#e6e6e6" stroke-width="1.5"/>
<path d="M669.4 2054.2H880.1" stroke="#e6e6e6" stroke-width="1.5"/>
<path d="M669.4 2081.2H880.1" stroke="#e6e6e6" stroke-width="1.5"/>
<path d="M669.4 2108.3H880.1" stroke="#e6e6e6" stroke-width="1.5"/>
<path d="M669.4 2135.3H880.1" stroke="#e6e6e6" stroke-width="1.5"/>
<path d="M669.4 2162.4H880.1" stroke="#e6e6e6" stroke-width="1.5"/>
<path d="M669.4 2189.4H880.1" stroke="#e6e6e6" stroke-width="1.5"/>
<path d="M669.4 2216.5H880.1" stroke="#e6e6e6" stroke-width="1.5"/>
<path d="M669.4 2243.5H880.1" stroke="#e6e6e6" stroke-width="1.5"/>
<path d="M669.4 2270.6H880.1" stroke="#e6e6e6" stroke-width="1.5"/>
<path d="M669.4 2297.6H880.1" stroke="#e6e6e6" stroke-width="1.5"/>
<rect x="678.9" y="2042" width="192" height="24.4" fill="#ff0000"/>
<rect x="678.9" y="2069.1" width="192" height="24.4" fill="#ff0000"/>
<rect x="678.9" y="2096.1" width="192" height="24.4" fill="#ff0000"/>
<rect x="678.9" y="2123.2" width="128" height="24.4" fill="#fd000d"/>
<rect x="678.9" y="2150.2" width="192" height="24.4" fill="#f80024"/>
<rect x="678.9" y="2177.2" width="192" height="24.4" fill="#f6002a"/>
<rect x="678.9" y="2204.3" width="160" height="24.4" fill="#f6002a"/>
<rect x="678.9" y="2231.3" width="160" height="24.4" fill="#f6002a"/>
<rect x="678.9" y="2258.4" width="160" height="24.4" fill="#e80050"/>
<rect x="678.9" y="2285.4" width="96" height="24.4" fill="#0000ff"/>
<rect x="669.4" y="2037.6" width="210.7" height="276.2" fill="none" stroke="#333" stroke-width="1.2"/>
<path d="M665.1 2054.2H669.4" stroke="#222" stroke-width="1.5"/>
<text x="512.4" y="2060.5" font-size="17" text-anchor="start" fill="#151515" stroke="#151515" stroke-width="0.3" textLength="149.1" lengthAdjust="spacingAndGlyphs" >regulation of lipid transport</text>
<path d="M665.1 2081.2H669.4" stroke="#222" stroke-width="1.5"/>
<text x="499.7" y="2087.5" font-size="17" text-anchor="start" fill="#151515" stroke="#151515" stroke-width="0.3" textLength="161.8" lengthAdjust="spacingAndGlyphs" >regulation of lipid localization</text>
<path d="M665.1 2108.3H669.4" stroke="#222" stroke-width="1.5"/>
<text x="455.8" y="2114.6" font-size="17" text-anchor="start" fill="#151515" stroke="#151515" stroke-width="0.3" textLength="205.7" lengthAdjust="spacingAndGlyphs" >organic hydroxy compound transport</text>
<path d="M665.1 2135.3H669.4" stroke="#222" stroke-width="1.5"/>
<text x="548.6" y="2141.6" font-size="17" text-anchor="start" fill="#151515" stroke="#151515" stroke-width="0.3" textLength="112.9" lengthAdjust="spacingAndGlyphs" >lipid export from cell</text>
<path d="M665.1 2162.4H669.4" stroke="#222" stroke-width="1.5"/>
<text x="586" y="2168.7" font-size="17" text-anchor="start" fill="#151515" stroke="#151515" stroke-width="0.3" textLength="75.5" lengthAdjust="spacingAndGlyphs" >lipid transport</text>
<path d="M665.1 2189.4H669.4" stroke="#222" stroke-width="1.5"/>
<text x="572.7" y="2195.7" font-size="17" text-anchor="start" fill="#151515" stroke="#151515" stroke-width="0.3" textLength="88.8" lengthAdjust="spacingAndGlyphs" >lipid localization</text>
<path d="M665.1 2216.5H669.4" stroke="#222" stroke-width="1.5"/>
<text x="550" y="2222.8" font-size="17" text-anchor="start" fill="#151515" stroke="#151515" stroke-width="0.3" textLength="111.5" lengthAdjust="spacingAndGlyphs" >gonad development</text>
<path d="M665.1 2243.5H669.4" stroke="#222" stroke-width="1.5"/>
<text x="404.3" y="2249.8" font-size="17" text-anchor="start" fill="#151515" stroke="#151515" stroke-width="0.3" textLength="257.2" lengthAdjust="spacingAndGlyphs" >development of primary sexual characteristics</text>
<path d="M665.1 2270.6H669.4" stroke="#222" stroke-width="1.5"/>
<text x="561.9" y="2276.9" font-size="17" text-anchor="start" fill="#151515" stroke="#151515" stroke-width="0.3" textLength="99.6" lengthAdjust="spacingAndGlyphs" >sex differentiation</text>
<path d="M665.1 2297.6H669.4" stroke="#222" stroke-width="1.5"/>
<text x="484.7" y="2303.9" font-size="17" text-anchor="start" fill="#151515" stroke="#151515" stroke-width="0.3" textLength="176.8" lengthAdjust="spacingAndGlyphs" >regulation of endocrine process</text>
<path d="M678.9 2313.8V2318.1" stroke="#222" stroke-width="1.5"/>
<text x="675.5" y="2338.2" font-size="17" text-anchor="start" fill="#151515" stroke="#151515" stroke-width="0.3" textLength="6.8" lengthAdjust="spacingAndGlyphs" >0</text>
<path d="M742.9 2313.8V2318.1" stroke="#222" stroke-width="1.5"/>
<text x="739.5" y="2338.2" font-size="17" text-anchor="start" fill="#151515" stroke="#151515" stroke-width="0.3" textLength="6.8" lengthAdjust="spacingAndGlyphs" >2</text>
<path d="M806.9 2313.8V2318.1" stroke="#222" stroke-width="1.5"/>
<text x="803.5" y="2338.2" font-size="17" text-anchor="start" fill="#151515" stroke="#151515" stroke-width="0.3" textLength="6.8" lengthAdjust="spacingAndGlyphs" >4</text>
<path d="M870.9 2313.8V2318.1" stroke="#222" stroke-width="1.5"/>
<text x="867.5" y="2338.2" font-size="17" text-anchor="start" fill="#151515" stroke="#151515" stroke-width="0.3" textLength="6.8" lengthAdjust="spacingAndGlyphs" >6</text>
<text x="757.9" y="2359.3" font-size="17.5" text-anchor="start" fill="#000" stroke="#000" stroke-width="0.3" textLength="33.6" lengthAdjust="spacingAndGlyphs" >Count</text>
<defs><linearGradient id="lgb3" x1="0" y1="0" x2="0" y2="1"><stop offset="0%" stop-color="#ff0000"/><stop offset="10%" stop-color="#f6002a"/><stop offset="20%" stop-color="#ed0044"/><stop offset="30%" stop-color="#e3005b"/><stop offset="40%" stop-color="#d70072"/><stop offset="50%" stop-color="#ca0088"/><stop offset="60%" stop-color="#ba009f"/><stop offset="70%" stop-color="#a600b7"/><stop offset="80%" stop-color="#8d00ce"/><stop offset="90%" stop-color="#6800e7"/><stop offset="100%" stop-color="#0000ff"/></linearGradient></defs>
<rect x="906.5" y="2100.5" width="27.8" height="186.6" fill="url(#lgb3)"/>
<path d="M906.5 2148.8h5.6 M928.7 2148.8h5.6" stroke="#fff" stroke-opacity="0.8" stroke-width="1"/>
<text x="944.5" y="2155.3" font-size="18" text-anchor="start" fill="#000" stroke="#000" stroke-width="0.3" textLength="34.8" lengthAdjust="spacingAndGlyphs" >3e-05</text>
<path d="M906.5 2196.7h5.6 M928.7 2196.7h5.6" stroke="#fff" stroke-opacity="0.8" stroke-width="1"/>
<text x="944.5" y="2203.2" font-size="18" text-anchor="start" fill="#000" stroke="#000" stroke-width="0.3" textLength="34.8" lengthAdjust="spacingAndGlyphs" >6e-05</text>
<path d="M906.5 2244.3h5.6 M928.7 2244.3h5.6" stroke="#fff" stroke-opacity="0.8" stroke-width="1"/>
<text x="944.5" y="2250.8" font-size="18" text-anchor="start" fill="#000" stroke="#000" stroke-width="0.3" textLength="34.8" lengthAdjust="spacingAndGlyphs" >9e-05</text>
<text x="906.5" y="2085.9" font-size="22.5" text-anchor="start" fill="#000" stroke="#000" stroke-width="0.3" textLength="61.1" lengthAdjust="spacingAndGlyphs" >p.adjust</text>
</g>
<g font-family="Liberation Serif, Times New Roman, serif" fill="#000">
<text x="3" y="16.6" font-size="19.5" font-weight="bold">A</text>
<text x="3" y="936.3" font-size="19.5" font-weight="bold">B</text>
<text x="2.6" y="66.3" font-size="21.2">Cluster 1</text>
<text x="2.6" y="525.7" font-size="21.2">Cluster 2</text>
<text x="2.6" y="986.5" font-size="21.2">Cluster 1</text>
<text x="19.3" y="1453.6" font-size="21.2">Cluster 2</text>
<text x="19.3" y="1957.5" font-size="21.2">Cluster 3</text>
</g>
</svg>
</body></html>
